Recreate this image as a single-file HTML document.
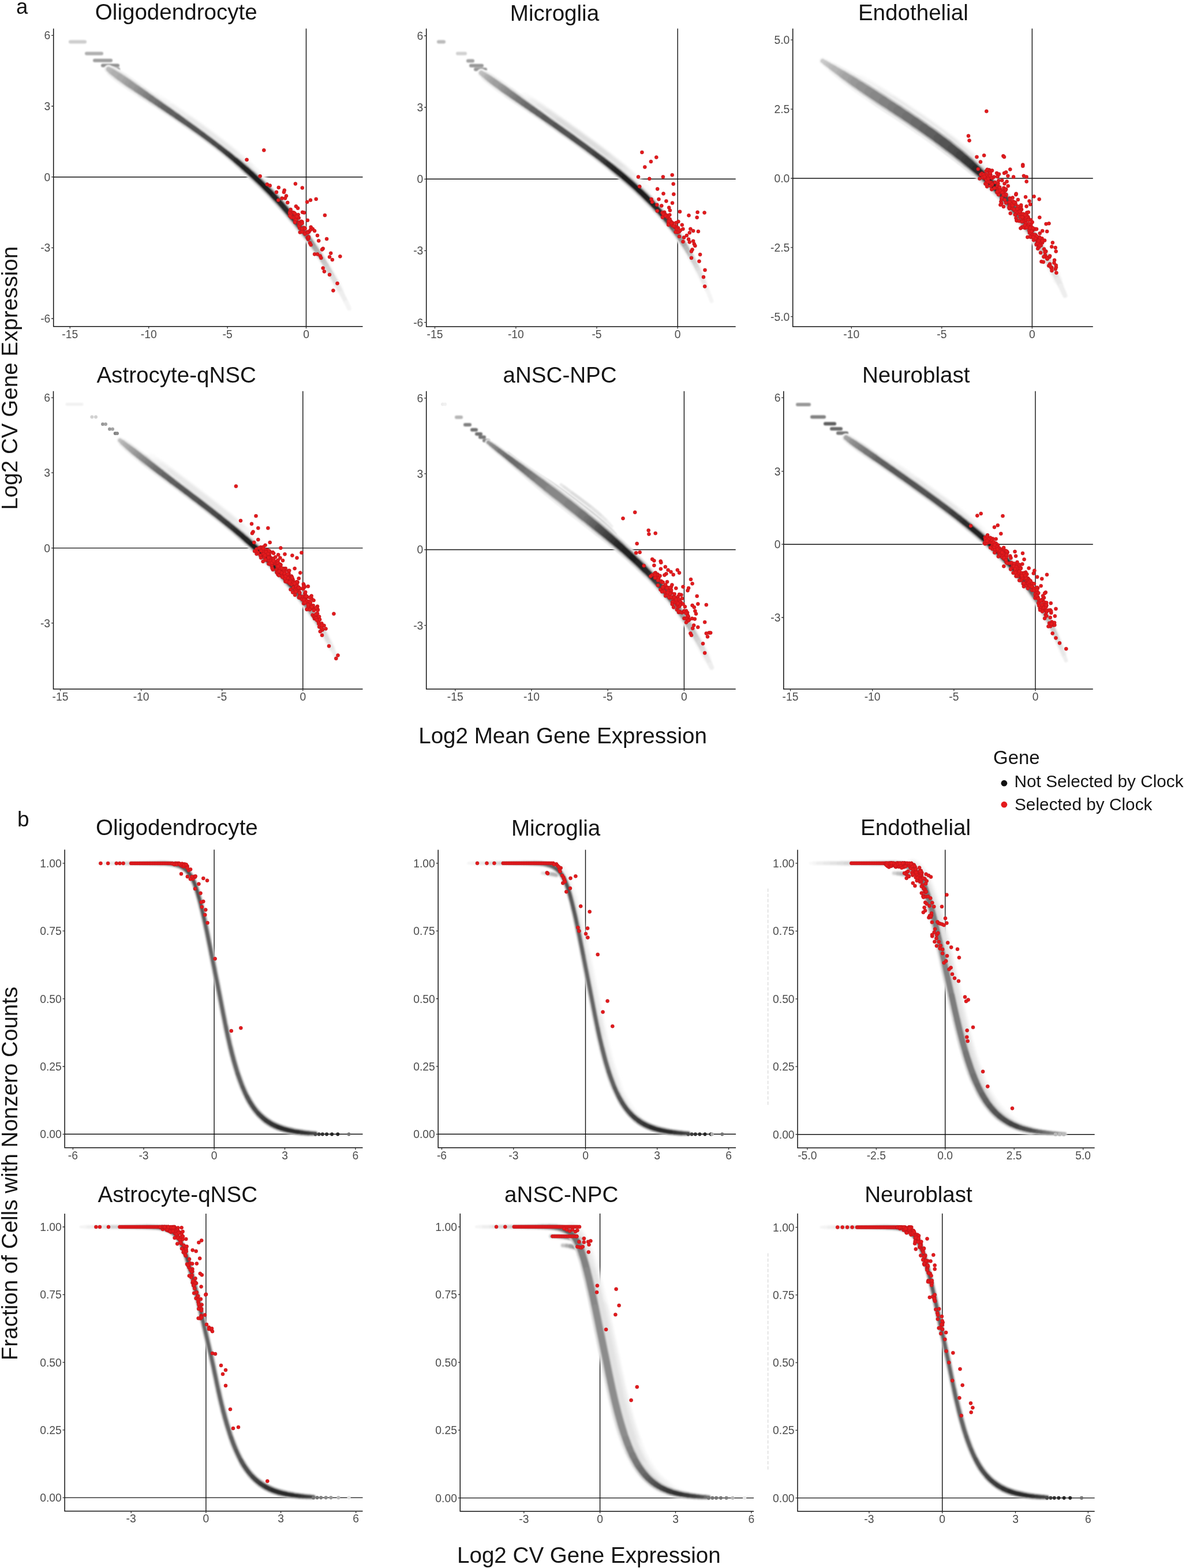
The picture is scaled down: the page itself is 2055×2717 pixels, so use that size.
<!DOCTYPE html>
<html><head><meta charset="utf-8"><title>Figure</title>
<style>
html,body{margin:0;padding:0;background:#fff;width:2055px;height:2717px;overflow:hidden}
svg{display:block}
text{font-family:"Liberation Sans",Arial,Helvetica,sans-serif}
.ti{font-size:38.6px;fill:#141414}
.lab{font-size:38.6px;fill:#141414}
.yl{font-size:19.3px;fill:#4d4d4d;text-anchor:end}
.xl{font-size:19.3px;fill:#4d4d4d;text-anchor:middle}
.ax{fill:none;stroke:#111;stroke-width:1.5}
.zl{fill:none;stroke:#111;stroke-width:1.4}
.tk{fill:none;stroke:#333;stroke-width:1.3}
path[stroke-width]{stroke-linecap:round;stroke-linejoin:round;fill:none}
.rd circle{fill:#e41a1c;stroke:#b5141b;stroke-width:0.6}
</style></head><body>
<svg width="2055" height="2717" viewBox="0 0 2055 2717">
<defs>
<filter id="b1" filterUnits="userSpaceOnUse" x="0" y="0" width="2055" height="2717"><feGaussianBlur stdDeviation="1.2"/></filter>
<filter id="b2" filterUnits="userSpaceOnUse" x="0" y="0" width="2055" height="2717"><feGaussianBlur stdDeviation="2.2"/></filter>
</defs>
<rect width="2055" height="2717" fill="#fff"/>
<text x="28" y="23.5" class="lab" style="font-size:36.5px">a</text>
<text x="30" y="1431.6" class="lab" style="font-size:37px">b</text>
<path d="M92.7 306.7H628.5" class="zl"/>
<path d="M530.5 49.4V565.7" class="zl"/>
<path d="M92.7 49.4V565.7H628.5" class="ax"/>
<path d="M89.1 61.3h3.6M89.1 184h3.6M89.1 306.7h3.6M89.1 429.4h3.6M89.1 552h3.6M121.3 565.7v3.6M257.7 565.7v3.6M394.1 565.7v3.6M530.5 565.7v3.6" class="tk"/>
<text x="87.3" y="68.2" class="yl">6</text>
<text x="87.3" y="190.9" class="yl">3</text>
<text x="87.3" y="313.6" class="yl">0</text>
<text x="87.3" y="436.3" class="yl">-3</text>
<text x="87.3" y="558.9" class="yl">-6</text>
<text x="121.3" y="585.5" class="xl">-15</text>
<text x="257.7" y="585.5" class="xl">-10</text>
<text x="394.1" y="585.5" class="xl">-5</text>
<text x="530.5" y="585.5" class="xl">0</text>
<text x="164.8" y="34.4" class="ti">Oligodendrocyte</text>
<g filter="url(#b1)"><path d="M122 72.4H147" stroke="#cdcdcd" stroke-width="6"/><path d="M150 92.8H176" stroke="#afafaf" stroke-width="6"/><path d="M164 104.7H192" stroke="#9f9f9f" stroke-width="6"/><path d="M178 113.4H204" stroke="#919191" stroke-width="6"/><path d="M185 119.9H205" stroke="#989898" stroke-width="6"/></g>
<g filter="url(#b2)">
<path d="M268 167.9L273.1 171.4L278.1 174.8L283.1 178.3" stroke="#f9f9f9" stroke-width="16"/>
<path d="M283.1 178.3L288.1 181.7L293.1 185.1L298.1 188.6" stroke="#f4f4f4" stroke-width="16"/>
<path d="M298.1 188.6L303.1 192.1L308.1 195.5L313.1 199L318.1 202.5L323.1 206L328.1 209.5" stroke="#eeeeee" stroke-width="16"/>
<path d="M328.1 209.5L333 213L338 216.6L342.9 220.1L347.9 223.7L352.8 227.3L357.7 230.9L362.6 234.5L367.4 238.2L372.3 241.8L377.1 245.5L381.9 249.2L386.7 253L391.5 256.7L396.3 260.5L401 264.3L405.7 268.2L410.4 272.1" stroke="#e8e8e8" stroke-width="16"/>
<path d="M410.4 272.1L415.1 276L419.7 279.9L424.3 283.9L428.9 287.9L433.4 292L438 296" stroke="#eeeeee" stroke-width="16"/>
<path d="M438 296L442.4 300.1L446.9 304.3L451.3 308.4" stroke="#f4f4f4" stroke-width="16"/>
<path d="M451.3 308.4L455.7 312.6L460.1 316.9L464.5 321.1" stroke="#f9f9f9" stroke-width="16"/>
</g>
<g filter="url(#b1)">
<path d="M188 119.9L192.9 123.4" stroke="#f9f9f9" stroke-width="15.5"/>
<path d="M192.9 123.4L197.9 126.8" stroke="#f4f4f4" stroke-width="18.5"/>
<path d="M197.9 126.8L202.8 130.3" stroke="#f4f4f4" stroke-width="20.5"/>
<path d="M202.8 130.3L207.8 133.7" stroke="#f4f4f4" stroke-width="21.5"/>
<path d="M207.8 133.7L212.8 137.1" stroke="#f4f4f4" stroke-width="22"/>
<path d="M212.8 137.1L217.7 140.5L222.7 144L227.7 147.4L232.6 150.8" stroke="#f4f4f4" stroke-width="22.5"/>
<path d="M232.6 150.8L237.6 154.2" stroke="#f4f4f4" stroke-width="22"/>
<path d="M237.6 154.2L242.6 157.6" stroke="#f4f4f4" stroke-width="21.5"/>
<path d="M242.6 157.6L247.6 161" stroke="#f4f4f4" stroke-width="21"/>
<path d="M247.6 161L252.6 164.4" stroke="#eeeeee" stroke-width="20.5"/>
<path d="M252.6 164.4L257.5 167.8" stroke="#eeeeee" stroke-width="20"/>
<path d="M257.5 167.8L262.5 171.2L267.5 174.6" stroke="#eeeeee" stroke-width="19.5"/>
<path d="M267.5 174.6L272.5 178" stroke="#eeeeee" stroke-width="19"/>
<path d="M272.5 178L277.5 181.5L282.4 184.9" stroke="#eeeeee" stroke-width="18.5"/>
<path d="M282.4 184.9L287.4 188.3L292.4 191.7" stroke="#eeeeee" stroke-width="18"/>
<path d="M292.4 191.7L297.3 195.1L302.3 198.6" stroke="#eeeeee" stroke-width="17.5"/>
<path d="M302.3 198.6L307.3 202L312.2 205.5L317.1 208.9" stroke="#eeeeee" stroke-width="17"/>
<path d="M317.1 208.9L322.1 212.4" stroke="#eeeeee" stroke-width="16.5"/>
<path d="M322.1 212.4L327 215.9" stroke="#e8e8e8" stroke-width="16.5"/>
<path d="M327 215.9L331.9 219.4L336.8 222.9" stroke="#e8e8e8" stroke-width="16"/>
<path d="M336.8 222.9L341.7 226.4L346.6 230L351.5 233.5L356.3 237.1L361.2 240.7L366 244.3L370.8 248L375.6 251.6L380.4 255.3L385.1 259L389.9 262.8" stroke="#e8e8e8" stroke-width="15.5"/>
<path d="M389.9 262.8L394.6 266.5L399.3 270.3L403.9 274.2" stroke="#e8e8e8" stroke-width="16"/>
<path d="M403.9 274.2L408.6 278L413.2 281.9" stroke="#e8e8e8" stroke-width="16.5"/>
<path d="M413.2 281.9L417.8 285.8L422.3 289.8" stroke="#e2e2e2" stroke-width="17"/>
<path d="M422.3 289.8L426.9 293.8L431.4 297.8" stroke="#e2e2e2" stroke-width="17.5"/>
<path d="M431.4 297.8L435.8 301.8L440.3 305.9L444.7 310L449 314.2L453.4 318.4L457.7 322.6L461.9 326.9L466.2 331.2L470.4 335.5L474.5 339.9L478.6 344.3L482.7 348.7L486.7 353.2L490.7 357.7L494.7 362.3" stroke="#e2e2e2" stroke-width="18"/>
<path d="M494.7 362.3L498.6 366.9L502.5 371.5L506.3 376.2L510.1 380.8" stroke="#e8e8e8" stroke-width="18"/>
<path d="M510.1 380.8L513.9 385.6L517.6 390.3" stroke="#e8e8e8" stroke-width="17.5"/>
<path d="M517.6 390.3L521.2 395.1" stroke="#e8e8e8" stroke-width="17"/>
<path d="M521.2 395.1L524.9 399.9" stroke="#e8e8e8" stroke-width="16.5"/>
<path d="M524.9 399.9L528.4 404.8" stroke="#eeeeee" stroke-width="16.5"/>
<path d="M528.4 404.8L532 409.7" stroke="#eeeeee" stroke-width="16"/>
<path d="M532 409.7L535.5 414.6" stroke="#eeeeee" stroke-width="15.5"/>
<path d="M535.5 414.6L539 419.5L542.4 424.5L545.8 429.5" stroke="#f4f4f4" stroke-width="15.5"/>
<path d="M545.8 429.5L549.1 434.5L552.4 439.5L555.6 444.6" stroke="#f4f4f4" stroke-width="15"/>
<path d="M555.6 444.6L558.9 449.7L562 454.9L565.2 460L568.2 465.2L571.3 470.4L574.3 475.6L577.3 480.9" stroke="#f9f9f9" stroke-width="15"/>
<path d="M577.3 480.9L580.2 486.1L583.1 491.4" stroke="#f9f9f9" stroke-width="14.5"/>
<path d="M583.1 491.4L585.9 496.8L588.8 502.1" stroke="#f9f9f9" stroke-width="14"/>
<path d="M188 119.9L192.9 123.4" stroke="#e2e2e2" stroke-width="11"/>
<path d="M192.9 123.4L197.9 126.8" stroke="#dddddd" stroke-width="13.5"/>
<path d="M197.9 126.8L202.8 130.3" stroke="#dddddd" stroke-width="14.5"/>
<path d="M202.8 130.3L207.8 133.7" stroke="#dddddd" stroke-width="15.5"/>
<path d="M207.8 133.7L212.8 137.1" stroke="#d7d7d7" stroke-width="15.5"/>
<path d="M212.8 137.1L217.7 140.5L222.7 144" stroke="#d7d7d7" stroke-width="16"/>
<path d="M222.7 144L227.7 147.4L232.6 150.8" stroke="#d1d1d1" stroke-width="16"/>
<path d="M232.6 150.8L237.6 154.2" stroke="#d1d1d1" stroke-width="15.5"/>
<path d="M237.6 154.2L242.6 157.6L247.6 161" stroke="#cbcbcb" stroke-width="15"/>
<path d="M247.6 161L252.6 164.4" stroke="#cbcbcb" stroke-width="14.5"/>
<path d="M252.6 164.4L257.5 167.8L262.5 171.2" stroke="#c6c6c6" stroke-width="14"/>
<path d="M262.5 171.2L267.5 174.6L272.5 178L277.5 181.5" stroke="#c0c0c0" stroke-width="13.5"/>
<path d="M277.5 181.5L282.4 184.9L287.4 188.3L292.4 191.7" stroke="#bababa" stroke-width="13"/>
<path d="M292.4 191.7L297.3 195.1" stroke="#bababa" stroke-width="12.5"/>
<path d="M297.3 195.1L302.3 198.6L307.3 202" stroke="#b5b5b5" stroke-width="12.5"/>
<path d="M307.3 202L312.2 205.5L317.1 208.9L322.1 212.4" stroke="#b5b5b5" stroke-width="12"/>
<path d="M322.1 212.4L327 215.9L331.9 219.4L336.8 222.9" stroke="#b5b5b5" stroke-width="11.5"/>
<path d="M336.8 222.9L341.7 226.4L346.6 230L351.5 233.5L356.3 237.1L361.2 240.7L366 244.3L370.8 248L375.6 251.6L380.4 255.3" stroke="#afafaf" stroke-width="11"/>
<path d="M380.4 255.3L385.1 259L389.9 262.8L394.6 266.5" stroke="#a9a9a9" stroke-width="11"/>
<path d="M394.6 266.5L399.3 270.3L403.9 274.2L408.6 278" stroke="#a3a3a3" stroke-width="11.5"/>
<path d="M408.6 278L413.2 281.9L417.8 285.8L422.3 289.8" stroke="#9e9e9e" stroke-width="12"/>
<path d="M422.3 289.8L426.9 293.8" stroke="#9e9e9e" stroke-width="12.5"/>
<path d="M426.9 293.8L431.4 297.8L435.8 301.8" stroke="#989898" stroke-width="12.5"/>
<path d="M435.8 301.8L440.3 305.9L444.7 310L449 314.2L453.4 318.4L457.7 322.6L461.9 326.9L466.2 331.2L470.4 335.5L474.5 339.9L478.6 344.3L482.7 348.7" stroke="#989898" stroke-width="13"/>
<path d="M482.7 348.7L486.7 353.2L490.7 357.7L494.7 362.3L498.6 366.9L502.5 371.5" stroke="#9e9e9e" stroke-width="13"/>
<path d="M502.5 371.5L506.3 376.2" stroke="#a3a3a3" stroke-width="13"/>
<path d="M506.3 376.2L510.1 380.8" stroke="#a3a3a3" stroke-width="12.5"/>
<path d="M510.1 380.8L513.9 385.6L517.6 390.3" stroke="#a9a9a9" stroke-width="12.5"/>
<path d="M517.6 390.3L521.2 395.1" stroke="#afafaf" stroke-width="12"/>
<path d="M521.2 395.1L524.9 399.9" stroke="#b5b5b5" stroke-width="12"/>
<path d="M524.9 399.9L528.4 404.8" stroke="#bababa" stroke-width="11.5"/>
<path d="M528.4 404.8L532 409.7" stroke="#c0c0c0" stroke-width="11.5"/>
<path d="M532 409.7L535.5 414.6" stroke="#c6c6c6" stroke-width="11"/>
<path d="M535.5 414.6L539 419.5" stroke="#cbcbcb" stroke-width="11"/>
<path d="M539 419.5L542.4 424.5L545.8 429.5" stroke="#d1d1d1" stroke-width="11"/>
<path d="M545.8 429.5L549.1 434.5" stroke="#d7d7d7" stroke-width="11"/>
<path d="M549.1 434.5L552.4 439.5L555.6 444.6" stroke="#dddddd" stroke-width="11"/>
<path d="M555.6 444.6L558.9 449.7L562 454.9" stroke="#e2e2e2" stroke-width="11"/>
<path d="M562 454.9L565.2 460" stroke="#e8e8e8" stroke-width="11"/>
<path d="M565.2 460L568.2 465.2L571.3 470.4" stroke="#e8e8e8" stroke-width="10.5"/>
<path d="M571.3 470.4L574.3 475.6L577.3 480.9L580.2 486.1" stroke="#eeeeee" stroke-width="10.5"/>
<path d="M580.2 486.1L583.1 491.4" stroke="#eeeeee" stroke-width="10"/>
<path d="M583.1 491.4L585.9 496.8L588.8 502.1" stroke="#f4f4f4" stroke-width="10"/>
<path d="M588.8 502.1L591.6 507.4L594.3 512.8" stroke="#f4f4f4" stroke-width="9.5"/>
<path d="M594.3 512.8L597.1 518.2" stroke="#f9f9f9" stroke-width="9.5"/>
<path d="M597.1 518.2L599.8 523.6L602.4 529L605 534.4" stroke="#f9f9f9" stroke-width="9"/>
<path d="M188 119.9L192.9 123.4" stroke="#bababa" stroke-width="8.5"/>
<path d="M192.9 123.4L197.9 126.8" stroke="#b5b5b5" stroke-width="10"/>
<path d="M197.9 126.8L202.8 130.3" stroke="#afafaf" stroke-width="10.5"/>
<path d="M202.8 130.3L207.8 133.7" stroke="#afafaf" stroke-width="11.5"/>
<path d="M207.8 133.7L212.8 137.1" stroke="#a9a9a9" stroke-width="11.5"/>
<path d="M212.8 137.1L217.7 140.5" stroke="#a9a9a9" stroke-width="12"/>
<path d="M217.7 140.5L222.7 144" stroke="#a3a3a3" stroke-width="12"/>
<path d="M222.7 144L227.7 147.4" stroke="#9e9e9e" stroke-width="12"/>
<path d="M227.7 147.4L232.6 150.8L237.6 154.2" stroke="#989898" stroke-width="11.5"/>
<path d="M237.6 154.2L242.6 157.6" stroke="#929292" stroke-width="11.5"/>
<path d="M242.6 157.6L247.6 161" stroke="#8c8c8c" stroke-width="11"/>
<path d="M247.6 161L252.6 164.4" stroke="#878787" stroke-width="11"/>
<path d="M252.6 164.4L257.5 167.8" stroke="#818181" stroke-width="10.5"/>
<path d="M257.5 167.8L262.5 171.2" stroke="#7b7b7b" stroke-width="10.5"/>
<path d="M262.5 171.2L267.5 174.6L272.5 178" stroke="#767676" stroke-width="10"/>
<path d="M272.5 178L277.5 181.5" stroke="#707070" stroke-width="10"/>
<path d="M277.5 181.5L282.4 184.9" stroke="#6a6a6a" stroke-width="9.5"/>
<path d="M282.4 184.9L287.4 188.3L292.4 191.7" stroke="#646464" stroke-width="9.5"/>
<path d="M292.4 191.7L297.3 195.1" stroke="#5f5f5f" stroke-width="9.5"/>
<path d="M297.3 195.1L302.3 198.6L307.3 202" stroke="#5f5f5f" stroke-width="9"/>
<path d="M307.3 202L312.2 205.5L317.1 208.9" stroke="#595959" stroke-width="9"/>
<path d="M317.1 208.9L322.1 212.4L327 215.9" stroke="#595959" stroke-width="8.5"/>
<path d="M327 215.9L331.9 219.4L336.8 222.9L341.7 226.4" stroke="#535353" stroke-width="8.5"/>
<path d="M341.7 226.4L346.6 230L351.5 233.5" stroke="#535353" stroke-width="8"/>
<path d="M351.5 233.5L356.3 237.1L361.2 240.7L366 244.3L370.8 248" stroke="#4e4e4e" stroke-width="8"/>
<path d="M370.8 248L375.6 251.6L380.4 255.3" stroke="#484848" stroke-width="8"/>
<path d="M380.4 255.3L385.1 259L389.9 262.8" stroke="#424242" stroke-width="8"/>
<path d="M389.9 262.8L394.6 266.5" stroke="#3c3c3c" stroke-width="8.5"/>
<path d="M394.6 266.5L399.3 270.3" stroke="#373737" stroke-width="8.5"/>
<path d="M399.3 270.3L403.9 274.2L408.6 278" stroke="#313131" stroke-width="8.5"/>
<path d="M408.6 278L413.2 281.9" stroke="#2b2b2b" stroke-width="9"/>
<path d="M413.2 281.9L417.8 285.8L422.3 289.8" stroke="#252525" stroke-width="9"/>
<path d="M422.3 289.8L426.9 293.8" stroke="#202020" stroke-width="9"/>
<path d="M426.9 293.8L431.4 297.8L435.8 301.8" stroke="#202020" stroke-width="9.5"/>
<path d="M435.8 301.8L440.3 305.9L444.7 310L449 314.2L453.4 318.4L457.7 322.6L461.9 326.9L466.2 331.2L470.4 335.5L474.5 339.9" stroke="#1a1a1a" stroke-width="9.5"/>
<path d="M474.5 339.9L478.6 344.3L482.7 348.7L486.7 353.2" stroke="#202020" stroke-width="9.5"/>
<path d="M486.7 353.2L490.7 357.7L494.7 362.3" stroke="#252525" stroke-width="9.5"/>
<path d="M494.7 362.3L498.6 366.9L502.5 371.5" stroke="#2b2b2b" stroke-width="9.5"/>
<path d="M502.5 371.5L506.3 376.2" stroke="#313131" stroke-width="9.5"/>
<path d="M506.3 376.2L510.1 380.8" stroke="#373737" stroke-width="9.5"/>
<path d="M510.1 380.8L513.9 385.6" stroke="#3c3c3c" stroke-width="9"/>
<path d="M513.9 385.6L517.6 390.3" stroke="#424242" stroke-width="9"/>
<path d="M517.6 390.3L521.2 395.1" stroke="#4e4e4e" stroke-width="9"/>
<path d="M521.2 395.1L524.9 399.9" stroke="#595959" stroke-width="8.5"/>
<path d="M524.9 399.9L528.4 404.8" stroke="#646464" stroke-width="8.5"/>
<path d="M528.4 404.8L532 409.7" stroke="#707070" stroke-width="8.5"/>
<path d="M532 409.7L535.5 414.6" stroke="#7b7b7b" stroke-width="8.5"/>
<path d="M535.5 414.6L539 419.5" stroke="#878787" stroke-width="8"/>
<path d="M539 419.5L542.4 424.5" stroke="#929292" stroke-width="8"/>
<path d="M542.4 424.5L545.8 429.5" stroke="#9e9e9e" stroke-width="8"/>
<path d="M545.8 429.5L549.1 434.5" stroke="#a9a9a9" stroke-width="8"/>
<path d="M549.1 434.5L552.4 439.5" stroke="#afafaf" stroke-width="8"/>
<path d="M552.4 439.5L555.6 444.6" stroke="#b5b5b5" stroke-width="8"/>
<path d="M555.6 444.6L558.9 449.7" stroke="#bababa" stroke-width="8"/>
<path d="M558.9 449.7L562 454.9" stroke="#c0c0c0" stroke-width="8"/>
<path d="M562 454.9L565.2 460" stroke="#c6c6c6" stroke-width="8"/>
<path d="M565.2 460L568.2 465.2" stroke="#cbcbcb" stroke-width="8"/>
<path d="M568.2 465.2L571.3 470.4L574.3 475.6" stroke="#d1d1d1" stroke-width="8"/>
<path d="M574.3 475.6L577.3 480.9" stroke="#d7d7d7" stroke-width="8"/>
<path d="M577.3 480.9L580.2 486.1L583.1 491.4" stroke="#dddddd" stroke-width="7.5"/>
<path d="M583.1 491.4L585.9 496.8" stroke="#e2e2e2" stroke-width="7.5"/>
<path d="M585.9 496.8L588.8 502.1" stroke="#e8e8e8" stroke-width="7.5"/>
<path d="M588.8 502.1L591.6 507.4" stroke="#e8e8e8" stroke-width="7"/>
<path d="M591.6 507.4L594.3 512.8L597.1 518.2L599.8 523.6" stroke="#eeeeee" stroke-width="7"/>
<path d="M599.8 523.6L602.4 529L605 534.4" stroke="#f4f4f4" stroke-width="6.5"/>
</g>
<g class="rd"><circle cx="457.3" cy="260.3" r="3.0"/><circle cx="427.6" cy="276.8" r="3.0"/><circle cx="450.6" cy="305.2" r="3.0"/><circle cx="462.8" cy="319.4" r="3.0"/><circle cx="467.7" cy="321.6" r="3.0"/><circle cx="482.8" cy="324.9" r="3.0"/><circle cx="511.9" cy="318.4" r="3.0"/><circle cx="523.8" cy="325.5" r="3.0"/><circle cx="492.8" cy="329.7" r="3.0"/><circle cx="491.9" cy="332.9" r="3.0"/><circle cx="479" cy="332.9" r="3.0"/><circle cx="496" cy="339.4" r="3.0"/><circle cx="494.1" cy="343.6" r="3.0"/><circle cx="482.2" cy="346.8" r="3.0"/><circle cx="488.7" cy="343.6" r="3.0"/><circle cx="498.3" cy="351" r="3.0"/><circle cx="532.2" cy="350" r="3.0"/><circle cx="538" cy="346.8" r="3.0"/><circle cx="547.7" cy="344.9" r="3.0"/><circle cx="512.9" cy="357.5" r="3.0"/><circle cx="516.1" cy="360.7" r="3.0"/><circle cx="503" cy="365" r="3.0"/><circle cx="507" cy="368" r="3.0"/><circle cx="511" cy="372" r="3.0"/><circle cx="505" cy="375" r="3.0"/><circle cx="509" cy="377.5" r="3.0"/><circle cx="524.1" cy="367.8" r="3.0"/><circle cx="527" cy="368.5" r="3.0"/><circle cx="562.9" cy="373" r="3.0"/><circle cx="512.9" cy="380.7" r="3.0"/><circle cx="517.7" cy="377.5" r="3.0"/><circle cx="532.9" cy="381.7" r="3.0"/><circle cx="538.7" cy="393.6" r="3.0"/><circle cx="541.9" cy="396.8" r="3.0"/><circle cx="545.1" cy="400.1" r="3.0"/><circle cx="535.4" cy="401.7" r="3.0"/><circle cx="550" cy="408.1" r="3.0"/><circle cx="566.1" cy="414" r="3.0"/><circle cx="552.2" cy="417.2" r="3.0"/><circle cx="537" cy="421" r="3.0"/><circle cx="538.7" cy="424.3" r="3.0"/><circle cx="533.8" cy="414.6" r="3.0"/><circle cx="559.7" cy="430.7" r="3.0"/><circle cx="558" cy="432.4" r="3.0"/><circle cx="545.1" cy="440.4" r="3.0"/><circle cx="550" cy="440.4" r="3.0"/><circle cx="554.8" cy="443.6" r="3.0"/><circle cx="556.4" cy="446.9" r="3.0"/><circle cx="573.2" cy="438.8" r="3.0"/><circle cx="571" cy="445.3" r="3.0"/><circle cx="575.8" cy="450.1" r="3.0"/><circle cx="589.3" cy="444.3" r="3.0"/><circle cx="559.7" cy="464.6" r="3.0"/><circle cx="561.9" cy="470.4" r="3.0"/><circle cx="571" cy="475.9" r="3.0"/><circle cx="584.5" cy="491.1" r="3.0"/><circle cx="577.4" cy="503.4" r="3.0"/><circle cx="521.7" cy="385.3" r="3.0"/><circle cx="532.6" cy="411.8" r="3.0"/><circle cx="519.3" cy="395.3" r="3.0"/><circle cx="511.9" cy="371.7" r="3.0"/><circle cx="526.6" cy="402.6" r="3.0"/><circle cx="532.8" cy="401.7" r="3.0"/><circle cx="502.2" cy="367.7" r="3.0"/><circle cx="528.4" cy="395.4" r="3.0"/><circle cx="518.3" cy="389.7" r="3.0"/><circle cx="503.6" cy="363.1" r="3.0"/><circle cx="511.2" cy="382.4" r="3.0"/><circle cx="511.7" cy="379.8" r="3.0"/><circle cx="517" cy="377.5" r="3.0"/><circle cx="512.5" cy="381.2" r="3.0"/><circle cx="534.4" cy="410.5" r="3.0"/><circle cx="518.1" cy="385.3" r="3.0"/><circle cx="502.9" cy="370.3" r="3.0"/><circle cx="511.1" cy="385.3" r="3.0"/><circle cx="533.1" cy="403.3" r="3.0"/><circle cx="520.4" cy="388.8" r="3.0"/><circle cx="526.5" cy="394.5" r="3.0"/><circle cx="518" cy="386.7" r="3.0"/><circle cx="518.8" cy="388.4" r="3.0"/><circle cx="519.8" cy="402.5" r="3.0"/><circle cx="516.7" cy="372.1" r="3.0"/><circle cx="502.2" cy="369.5" r="3.0"/><circle cx="515.9" cy="375.8" r="3.0"/><circle cx="503.7" cy="372.1" r="3.0"/><circle cx="514.2" cy="375.2" r="3.0"/><circle cx="523.3" cy="396.6" r="3.0"/><circle cx="534.7" cy="412.6" r="3.0"/><circle cx="528.4" cy="396.2" r="3.0"/><circle cx="528.5" cy="405.5" r="3.0"/><circle cx="518.1" cy="391.5" r="3.0"/><circle cx="509" cy="368.5" r="3.0"/><circle cx="522" cy="383.7" r="3.0"/><circle cx="523.2" cy="401.8" r="3.0"/><circle cx="504.6" cy="376.5" r="3.0"/><circle cx="534.8" cy="410.7" r="3.0"/><circle cx="537.7" cy="398.5" r="3.0"/><circle cx="520.3" cy="388" r="3.0"/><circle cx="510.7" cy="369.7" r="3.0"/><circle cx="523.4" cy="384.2" r="3.0"/><circle cx="502.4" cy="374.2" r="3.0"/><circle cx="523.6" cy="386.9" r="3.0"/></g>
<path d="M738.7 310.3H1274.7" class="zl"/>
<path d="M1174.2 49.4V566" class="zl"/>
<path d="M738.7 49.4V566H1274.7" class="ax"/>
<path d="M735.1 62h3.6M735.1 186h3.6M735.1 310.3h3.6M735.1 434.3h3.6M735.1 558.6h3.6M753.5 566v3.6M893.9 566v3.6M1034 566v3.6M1174.2 566v3.6" class="tk"/>
<text x="733.3" y="68.9" class="yl">6</text>
<text x="733.3" y="192.9" class="yl">3</text>
<text x="733.3" y="317.2" class="yl">0</text>
<text x="733.3" y="441.2" class="yl">-3</text>
<text x="733.3" y="565.5" class="yl">-6</text>
<text x="753.5" y="585.8" class="xl">-15</text>
<text x="893.9" y="585.8" class="xl">-10</text>
<text x="1034" y="585.8" class="xl">-5</text>
<text x="1174.2" y="585.8" class="xl">0</text>
<text x="883.8" y="35.6" class="ti">Microglia</text>
<g filter="url(#b1)"><path d="M760 72.4H769" stroke="#bababa" stroke-width="6"/><path d="M793 92.8H806" stroke="#d1d1d1" stroke-width="6"/><path d="M811 105.4H819" stroke="#a3a3a3" stroke-width="6"/><path d="M816 113.8H835" stroke="#989898" stroke-width="6"/><path d="M824 120.2H841" stroke="#989898" stroke-width="6"/></g>
<g filter="url(#b2)">
<path d="M908.5 171L913.5 174.6L918.5 178.1" stroke="#f9f9f9" stroke-width="20"/>
<path d="M918.5 178.1L923.5 181.6" stroke="#f4f4f4" stroke-width="20"/>
<path d="M923.5 181.6L928.6 185.2L933.6 188.7" stroke="#eeeeee" stroke-width="20"/>
<path d="M933.6 188.7L938.6 192.2L943.6 195.7L948.6 199.3" stroke="#e8e8e8" stroke-width="20"/>
<path d="M948.6 199.3L953.6 202.8L958.6 206.3L963.6 209.9L968.6 213.4" stroke="#e2e2e2" stroke-width="20"/>
<path d="M968.6 213.4L973.6 217L978.6 220.5L983.6 224.1L988.6 227.6L993.6 231.2L998.6 234.8L1003.6 238.4L1008.5 242L1013.5 245.6L1018.4 249.2L1023.4 252.8L1028.3 256.5L1033.2 260.1L1038.1 263.8L1043 267.5L1047.9 271.3L1052.7 275L1057.6 278.8" stroke="#dddddd" stroke-width="20"/>
<path d="M1057.6 278.8L1062.4 282.6L1067.2 286.4L1071.9 290.2L1076.7 294.1L1081.4 298" stroke="#e2e2e2" stroke-width="20"/>
<path d="M1081.4 298L1086.1 302L1090.7 306" stroke="#e8e8e8" stroke-width="20"/>
<path d="M1090.7 306L1095.4 310L1100 314" stroke="#eeeeee" stroke-width="20"/>
<path d="M1100 314L1104.6 318.1L1109.1 322.2" stroke="#f4f4f4" stroke-width="20"/>
<path d="M1109.1 322.2L1113.6 326.3L1118.1 330.6" stroke="#f9f9f9" stroke-width="20"/>
</g>
<g filter="url(#b1)">
<path d="M834 126.4L838.9 129.9" stroke="#f9f9f9" stroke-width="15"/>
<path d="M838.9 129.9L843.8 133.4" stroke="#f9f9f9" stroke-width="17.5"/>
<path d="M843.8 133.4L848.7 136.9" stroke="#f4f4f4" stroke-width="19"/>
<path d="M848.7 136.9L853.6 140.5" stroke="#f4f4f4" stroke-width="20"/>
<path d="M853.6 140.5L858.5 144" stroke="#f4f4f4" stroke-width="20.5"/>
<path d="M858.5 144L863.4 147.5" stroke="#f4f4f4" stroke-width="21"/>
<path d="M863.4 147.5L868.3 151L873.2 154.5L878.1 158L883 161.5" stroke="#f4f4f4" stroke-width="21.5"/>
<path d="M883 161.5L887.9 164.9" stroke="#eeeeee" stroke-width="21"/>
<path d="M887.9 164.9L892.8 168.4L897.8 171.9" stroke="#eeeeee" stroke-width="20.5"/>
<path d="M897.8 171.9L902.7 175.4" stroke="#eeeeee" stroke-width="20"/>
<path d="M902.7 175.4L907.6 178.9L912.5 182.3" stroke="#eeeeee" stroke-width="19.5"/>
<path d="M912.5 182.3L917.5 185.8L922.4 189.3" stroke="#eeeeee" stroke-width="19"/>
<path d="M922.4 189.3L927.3 192.7L932.2 196.2" stroke="#eeeeee" stroke-width="18.5"/>
<path d="M932.2 196.2L937.2 199.7L942.1 203.2" stroke="#eeeeee" stroke-width="18"/>
<path d="M942.1 203.2L947 206.6L951.9 210.1" stroke="#eeeeee" stroke-width="17.5"/>
<path d="M951.9 210.1L956.9 213.6" stroke="#e8e8e8" stroke-width="17.5"/>
<path d="M956.9 213.6L961.8 217L966.7 220.5L971.6 224L976.5 227.5L981.5 231" stroke="#e8e8e8" stroke-width="17"/>
<path d="M981.5 231L986.4 234.5L991.3 238L996.1 241.5L1001 245.1L1005.9 248.6L1010.8 252.2" stroke="#e8e8e8" stroke-width="16.5"/>
<path d="M1010.8 252.2L1015.6 255.7L1020.5 259.3L1025.3 262.9L1030.2 266.5L1035 270.1L1039.8 273.7" stroke="#e8e8e8" stroke-width="17"/>
<path d="M1039.8 273.7L1044.6 277.4L1049.3 281.1L1054.1 284.8" stroke="#e8e8e8" stroke-width="17.5"/>
<path d="M1054.1 284.8L1058.8 288.5L1063.5 292.3" stroke="#e8e8e8" stroke-width="18"/>
<path d="M1063.5 292.3L1068.2 296.1L1072.9 299.9L1077.5 303.7L1082.1 307.6L1086.7 311.5L1091.3 315.5L1095.8 319.5L1100.3 323.5L1104.7 327.5L1109.1 331.7L1113.5 335.8L1117.8 340L1122.1 344.3L1126.3 348.6L1130.5 352.9" stroke="#e2e2e2" stroke-width="18"/>
<path d="M1130.5 352.9L1134.6 357.3L1138.6 361.8" stroke="#e2e2e2" stroke-width="17.5"/>
<path d="M1138.6 361.8L1142.6 366.2" stroke="#e2e2e2" stroke-width="17"/>
<path d="M1142.6 366.2L1146.6 370.8L1150.5 375.4" stroke="#e8e8e8" stroke-width="17"/>
<path d="M1150.5 375.4L1154.3 380.1L1158.1 384.8" stroke="#e8e8e8" stroke-width="16.5"/>
<path d="M1158.1 384.8L1161.7 389.5" stroke="#e8e8e8" stroke-width="16"/>
<path d="M1161.7 389.5L1165.4 394.3L1168.9 399.2" stroke="#eeeeee" stroke-width="16"/>
<path d="M1168.9 399.2L1172.4 404.1L1175.9 409" stroke="#eeeeee" stroke-width="15.5"/>
<path d="M1175.9 409L1179.2 414L1182.5 419.1" stroke="#f4f4f4" stroke-width="15.5"/>
<path d="M1182.5 419.1L1185.7 424.2L1188.9 429.3L1191.9 434.5" stroke="#f4f4f4" stroke-width="15"/>
<path d="M1191.9 434.5L1195 439.7L1197.9 444.9" stroke="#f9f9f9" stroke-width="15"/>
<path d="M1197.9 444.9L1200.8 450.2L1203.6 455.6" stroke="#f9f9f9" stroke-width="14.5"/>
<path d="M1203.6 455.6L1206.4 460.9L1209.1 466.3" stroke="#f9f9f9" stroke-width="14"/>
<path d="M1209.1 466.3L1211.7 471.7" stroke="#f9f9f9" stroke-width="13.5"/>
<path d="M1211.7 471.7L1214.3 477.2L1216.8 482.6" stroke="#f9f9f9" stroke-width="13"/>
<path d="M1216.8 482.6L1219.2 488.1" stroke="#f9f9f9" stroke-width="12.5"/>
<path d="M834 126.4L838.9 129.9" stroke="#e2e2e2" stroke-width="10.5"/>
<path d="M838.9 129.9L843.8 133.4" stroke="#dddddd" stroke-width="12.5"/>
<path d="M843.8 133.4L848.7 136.9" stroke="#dddddd" stroke-width="13.5"/>
<path d="M848.7 136.9L853.6 140.5" stroke="#d7d7d7" stroke-width="14"/>
<path d="M853.6 140.5L858.5 144" stroke="#d7d7d7" stroke-width="14.5"/>
<path d="M858.5 144L863.4 147.5" stroke="#d7d7d7" stroke-width="15"/>
<path d="M863.4 147.5L868.3 151L873.2 154.5" stroke="#d1d1d1" stroke-width="15"/>
<path d="M873.2 154.5L878.1 158L883 161.5L887.9 164.9" stroke="#cbcbcb" stroke-width="15"/>
<path d="M887.9 164.9L892.8 168.4L897.8 171.9" stroke="#c6c6c6" stroke-width="14.5"/>
<path d="M897.8 171.9L902.7 175.4L907.6 178.9" stroke="#c0c0c0" stroke-width="14"/>
<path d="M907.6 178.9L912.5 182.3" stroke="#c0c0c0" stroke-width="13.5"/>
<path d="M912.5 182.3L917.5 185.8L922.4 189.3" stroke="#bababa" stroke-width="13.5"/>
<path d="M922.4 189.3L927.3 192.7L932.2 196.2" stroke="#bababa" stroke-width="13"/>
<path d="M932.2 196.2L937.2 199.7" stroke="#b5b5b5" stroke-width="13"/>
<path d="M937.2 199.7L942.1 203.2L947 206.6L951.9 210.1L956.9 213.6" stroke="#b5b5b5" stroke-width="12.5"/>
<path d="M956.9 213.6L961.8 217L966.7 220.5L971.6 224" stroke="#b5b5b5" stroke-width="12"/>
<path d="M971.6 224L976.5 227.5L981.5 231L986.4 234.5L991.3 238L996.1 241.5L1001 245.1L1005.9 248.6L1010.8 252.2L1015.6 255.7L1020.5 259.3L1025.3 262.9" stroke="#afafaf" stroke-width="12"/>
<path d="M1025.3 262.9L1030.2 266.5L1035 270.1L1039.8 273.7" stroke="#a9a9a9" stroke-width="12"/>
<path d="M1039.8 273.7L1044.6 277.4" stroke="#a9a9a9" stroke-width="12.5"/>
<path d="M1044.6 277.4L1049.3 281.1L1054.1 284.8L1058.8 288.5" stroke="#a3a3a3" stroke-width="12.5"/>
<path d="M1058.8 288.5L1063.5 292.3L1068.2 296.1L1072.9 299.9" stroke="#9e9e9e" stroke-width="13"/>
<path d="M1072.9 299.9L1077.5 303.7L1082.1 307.6L1086.7 311.5L1091.3 315.5L1095.8 319.5L1100.3 323.5L1104.7 327.5L1109.1 331.7L1113.5 335.8L1117.8 340L1122.1 344.3" stroke="#989898" stroke-width="13"/>
<path d="M1122.1 344.3L1126.3 348.6L1130.5 352.9" stroke="#989898" stroke-width="12.5"/>
<path d="M1130.5 352.9L1134.6 357.3L1138.6 361.8" stroke="#9e9e9e" stroke-width="12.5"/>
<path d="M1138.6 361.8L1142.6 366.2L1146.6 370.8" stroke="#9e9e9e" stroke-width="12"/>
<path d="M1146.6 370.8L1150.5 375.4" stroke="#a3a3a3" stroke-width="12"/>
<path d="M1150.5 375.4L1154.3 380.1" stroke="#a9a9a9" stroke-width="12"/>
<path d="M1154.3 380.1L1158.1 384.8" stroke="#a9a9a9" stroke-width="11.5"/>
<path d="M1158.1 384.8L1161.7 389.5" stroke="#afafaf" stroke-width="11.5"/>
<path d="M1161.7 389.5L1165.4 394.3" stroke="#b5b5b5" stroke-width="11.5"/>
<path d="M1165.4 394.3L1168.9 399.2" stroke="#bababa" stroke-width="11"/>
<path d="M1168.9 399.2L1172.4 404.1" stroke="#c0c0c0" stroke-width="11"/>
<path d="M1172.4 404.1L1175.9 409" stroke="#c6c6c6" stroke-width="11"/>
<path d="M1175.9 409L1179.2 414" stroke="#cbcbcb" stroke-width="11"/>
<path d="M1179.2 414L1182.5 419.1" stroke="#d1d1d1" stroke-width="11"/>
<path d="M1182.5 419.1L1185.7 424.2" stroke="#d7d7d7" stroke-width="11"/>
<path d="M1185.7 424.2L1188.9 429.3" stroke="#d7d7d7" stroke-width="10.5"/>
<path d="M1188.9 429.3L1191.9 434.5" stroke="#dddddd" stroke-width="10.5"/>
<path d="M1191.9 434.5L1195 439.7L1197.9 444.9" stroke="#e2e2e2" stroke-width="10.5"/>
<path d="M1197.9 444.9L1200.8 450.2" stroke="#e8e8e8" stroke-width="10.5"/>
<path d="M1200.8 450.2L1203.6 455.6" stroke="#e8e8e8" stroke-width="10"/>
<path d="M1203.6 455.6L1206.4 460.9L1209.1 466.3" stroke="#eeeeee" stroke-width="10"/>
<path d="M1209.1 466.3L1211.7 471.7" stroke="#eeeeee" stroke-width="9.5"/>
<path d="M1211.7 471.7L1214.3 477.2" stroke="#f4f4f4" stroke-width="9.5"/>
<path d="M1214.3 477.2L1216.8 482.6L1219.2 488.1L1221.7 493.7" stroke="#f4f4f4" stroke-width="9"/>
<path d="M1221.7 493.7L1224 499.2L1226.4 504.7" stroke="#f9f9f9" stroke-width="8.5"/>
<path d="M1226.4 504.7L1228.6 510.3L1230.8 515.9L1233 521.6" stroke="#f9f9f9" stroke-width="8"/>
<path d="M834 126.4L838.9 129.9" stroke="#c0c0c0" stroke-width="8"/>
<path d="M838.9 129.9L843.8 133.4" stroke="#bababa" stroke-width="9"/>
<path d="M843.8 133.4L848.7 136.9" stroke="#afafaf" stroke-width="10"/>
<path d="M848.7 136.9L853.6 140.5" stroke="#a9a9a9" stroke-width="10.5"/>
<path d="M853.6 140.5L858.5 144" stroke="#a3a3a3" stroke-width="11"/>
<path d="M858.5 144L863.4 147.5L868.3 151" stroke="#9e9e9e" stroke-width="11"/>
<path d="M868.3 151L873.2 154.5" stroke="#989898" stroke-width="11.5"/>
<path d="M873.2 154.5L878.1 158" stroke="#929292" stroke-width="11.5"/>
<path d="M878.1 158L883 161.5" stroke="#8c8c8c" stroke-width="11"/>
<path d="M883 161.5L887.9 164.9" stroke="#878787" stroke-width="11"/>
<path d="M887.9 164.9L892.8 168.4" stroke="#818181" stroke-width="11"/>
<path d="M892.8 168.4L897.8 171.9" stroke="#7b7b7b" stroke-width="10.5"/>
<path d="M897.8 171.9L902.7 175.4L907.6 178.9" stroke="#767676" stroke-width="10.5"/>
<path d="M907.6 178.9L912.5 182.3" stroke="#707070" stroke-width="10"/>
<path d="M912.5 182.3L917.5 185.8L922.4 189.3" stroke="#6a6a6a" stroke-width="10"/>
<path d="M922.4 189.3L927.3 192.7" stroke="#646464" stroke-width="10"/>
<path d="M927.3 192.7L932.2 196.2" stroke="#646464" stroke-width="9.5"/>
<path d="M932.2 196.2L937.2 199.7L942.1 203.2" stroke="#5f5f5f" stroke-width="9.5"/>
<path d="M942.1 203.2L947 206.6" stroke="#595959" stroke-width="9.5"/>
<path d="M947 206.6L951.9 210.1L956.9 213.6L961.8 217" stroke="#595959" stroke-width="9"/>
<path d="M961.8 217L966.7 220.5L971.6 224L976.5 227.5L981.5 231L986.4 234.5L991.3 238" stroke="#535353" stroke-width="9"/>
<path d="M991.3 238L996.1 241.5L1001 245.1L1005.9 248.6L1010.8 252.2L1015.6 255.7L1020.5 259.3" stroke="#4e4e4e" stroke-width="9"/>
<path d="M1020.5 259.3L1025.3 262.9L1030.2 266.5" stroke="#484848" stroke-width="9"/>
<path d="M1030.2 266.5L1035 270.1" stroke="#424242" stroke-width="9"/>
<path d="M1035 270.1L1039.8 273.7L1044.6 277.4" stroke="#3c3c3c" stroke-width="9"/>
<path d="M1044.6 277.4L1049.3 281.1" stroke="#373737" stroke-width="9"/>
<path d="M1049.3 281.1L1054.1 284.8" stroke="#313131" stroke-width="9.5"/>
<path d="M1054.1 284.8L1058.8 288.5L1063.5 292.3" stroke="#2b2b2b" stroke-width="9.5"/>
<path d="M1063.5 292.3L1068.2 296.1" stroke="#252525" stroke-width="9.5"/>
<path d="M1068.2 296.1L1072.9 299.9L1077.5 303.7L1082.1 307.6" stroke="#202020" stroke-width="9.5"/>
<path d="M1082.1 307.6L1086.7 311.5L1091.3 315.5L1095.8 319.5L1100.3 323.5L1104.7 327.5L1109.1 331.7L1113.5 335.8L1117.8 340L1122.1 344.3L1126.3 348.6" stroke="#1a1a1a" stroke-width="9.5"/>
<path d="M1126.3 348.6L1130.5 352.9L1134.6 357.3" stroke="#202020" stroke-width="9.5"/>
<path d="M1134.6 357.3L1138.6 361.8L1142.6 366.2" stroke="#252525" stroke-width="9"/>
<path d="M1142.6 366.2L1146.6 370.8" stroke="#2b2b2b" stroke-width="9"/>
<path d="M1146.6 370.8L1150.5 375.4" stroke="#313131" stroke-width="9"/>
<path d="M1150.5 375.4L1154.3 380.1" stroke="#3c3c3c" stroke-width="8.5"/>
<path d="M1154.3 380.1L1158.1 384.8" stroke="#424242" stroke-width="8.5"/>
<path d="M1158.1 384.8L1161.7 389.5" stroke="#4e4e4e" stroke-width="8.5"/>
<path d="M1161.7 389.5L1165.4 394.3" stroke="#595959" stroke-width="8.5"/>
<path d="M1165.4 394.3L1168.9 399.2" stroke="#646464" stroke-width="8.5"/>
<path d="M1168.9 399.2L1172.4 404.1" stroke="#767676" stroke-width="8"/>
<path d="M1172.4 404.1L1175.9 409" stroke="#818181" stroke-width="8"/>
<path d="M1175.9 409L1179.2 414" stroke="#8c8c8c" stroke-width="8"/>
<path d="M1179.2 414L1182.5 419.1" stroke="#989898" stroke-width="8"/>
<path d="M1182.5 419.1L1185.7 424.2" stroke="#a3a3a3" stroke-width="8"/>
<path d="M1185.7 424.2L1188.9 429.3" stroke="#a9a9a9" stroke-width="8"/>
<path d="M1188.9 429.3L1191.9 434.5" stroke="#b5b5b5" stroke-width="8"/>
<path d="M1191.9 434.5L1195 439.7" stroke="#bababa" stroke-width="8"/>
<path d="M1195 439.7L1197.9 444.9" stroke="#c0c0c0" stroke-width="8"/>
<path d="M1197.9 444.9L1200.8 450.2" stroke="#cbcbcb" stroke-width="7.5"/>
<path d="M1200.8 450.2L1203.6 455.6L1206.4 460.9" stroke="#d1d1d1" stroke-width="7.5"/>
<path d="M1206.4 460.9L1209.1 466.3" stroke="#d7d7d7" stroke-width="7.5"/>
<path d="M1209.1 466.3L1211.7 471.7" stroke="#dddddd" stroke-width="7"/>
<path d="M1211.7 471.7L1214.3 477.2L1216.8 482.6" stroke="#e2e2e2" stroke-width="7"/>
<path d="M1216.8 482.6L1219.2 488.1L1221.7 493.7" stroke="#e8e8e8" stroke-width="6.5"/>
<path d="M1221.7 493.7L1224 499.2" stroke="#eeeeee" stroke-width="6.5"/>
<path d="M1224 499.2L1226.4 504.7" stroke="#eeeeee" stroke-width="6"/>
<path d="M1226.4 504.7L1228.6 510.3L1230.8 515.9L1233 521.6" stroke="#f4f4f4" stroke-width="6"/>
</g>
<g class="rd"><circle cx="1112.4" cy="263.9" r="3.0"/><circle cx="1137.3" cy="272.6" r="3.0"/><circle cx="1127.9" cy="280" r="3.0"/><circle cx="1117.3" cy="289.4" r="3.0"/><circle cx="1106" cy="306.5" r="3.0"/><circle cx="1125.3" cy="309.7" r="3.0"/><circle cx="1148.9" cy="306.5" r="3.0"/><circle cx="1164.7" cy="303.2" r="3.0"/><circle cx="1108.2" cy="323.2" r="3.0"/><circle cx="1166.7" cy="318.7" r="3.0"/><circle cx="1139.2" cy="327.4" r="3.0"/><circle cx="1149.5" cy="335.5" r="3.0"/><circle cx="1167.3" cy="336.5" r="3.0"/><circle cx="1128.6" cy="345.2" r="3.0"/><circle cx="1130.2" cy="350" r="3.0"/><circle cx="1141.5" cy="345.2" r="3.0"/><circle cx="1154.4" cy="348.4" r="3.0"/><circle cx="1165" cy="351.7" r="3.0"/><circle cx="1138.3" cy="354.9" r="3.0"/><circle cx="1146.3" cy="356.5" r="3.0"/><circle cx="1159.2" cy="359.7" r="3.0"/><circle cx="1160.9" cy="364.6" r="3.0"/><circle cx="1151.2" cy="367.8" r="3.0"/><circle cx="1178" cy="366.8" r="3.0"/><circle cx="1208.6" cy="367.8" r="3.0"/><circle cx="1220.6" cy="368.5" r="3.0"/><circle cx="1193.5" cy="373.3" r="3.0"/><circle cx="1207.7" cy="376.8" r="3.0"/><circle cx="1175.4" cy="383.9" r="3.0"/><circle cx="1181.8" cy="389.7" r="3.0"/><circle cx="1183.4" cy="396.8" r="3.0"/><circle cx="1196.4" cy="396.8" r="3.0"/><circle cx="1201.2" cy="400.1" r="3.0"/><circle cx="1209.9" cy="401" r="3.0"/><circle cx="1194.8" cy="403.3" r="3.0"/><circle cx="1189.9" cy="408.1" r="3.0"/><circle cx="1185.1" cy="411.4" r="3.0"/><circle cx="1177" cy="409.7" r="3.0"/><circle cx="1183.5" cy="418.8" r="3.0"/><circle cx="1193.1" cy="414.6" r="3.0"/><circle cx="1194.8" cy="419.4" r="3.0"/><circle cx="1201.2" cy="417.8" r="3.0"/><circle cx="1202.8" cy="422.7" r="3.0"/><circle cx="1204.4" cy="425.9" r="3.0"/><circle cx="1199.6" cy="432.4" r="3.0"/><circle cx="1198" cy="435.6" r="3.0"/><circle cx="1213.1" cy="441.1" r="3.0"/><circle cx="1198" cy="446.9" r="3.0"/><circle cx="1211.5" cy="452.7" r="3.0"/><circle cx="1221.5" cy="467.9" r="3.0"/><circle cx="1219" cy="480.1" r="3.0"/><circle cx="1221.2" cy="496.3" r="3.0"/><circle cx="1162.3" cy="383.6" r="3.0"/><circle cx="1157.6" cy="376.5" r="3.0"/><circle cx="1158.4" cy="382.8" r="3.0"/><circle cx="1147.7" cy="368.6" r="3.0"/><circle cx="1156.3" cy="376.2" r="3.0"/><circle cx="1169.1" cy="393.7" r="3.0"/><circle cx="1174.2" cy="402.6" r="3.0"/><circle cx="1165.3" cy="386.3" r="3.0"/><circle cx="1160.6" cy="379.8" r="3.0"/><circle cx="1156.8" cy="374.5" r="3.0"/><circle cx="1171.5" cy="392.3" r="3.0"/><circle cx="1165.2" cy="390.9" r="3.0"/><circle cx="1158.3" cy="385.9" r="3.0"/><circle cx="1150.7" cy="370.3" r="3.0"/><circle cx="1160.3" cy="372.3" r="3.0"/><circle cx="1154.1" cy="372.4" r="3.0"/><circle cx="1158.2" cy="389.5" r="3.0"/><circle cx="1176.9" cy="401.6" r="3.0"/><circle cx="1150.7" cy="372" r="3.0"/><circle cx="1175" cy="394.9" r="3.0"/><circle cx="1170.6" cy="394.1" r="3.0"/><circle cx="1172.2" cy="397" r="3.0"/><circle cx="1150.2" cy="371.3" r="3.0"/><circle cx="1148" cy="376.5" r="3.0"/><circle cx="1164" cy="388.8" r="3.0"/><circle cx="1138.8" cy="365.4" r="3.0"/><circle cx="1173.7" cy="402" r="3.0"/><circle cx="1167.7" cy="391.6" r="3.0"/><circle cx="1163.4" cy="386.7" r="3.0"/><circle cx="1179" cy="399" r="3.0"/><circle cx="1170.6" cy="402.1" r="3.0"/><circle cx="1159.3" cy="383.2" r="3.0"/><circle cx="1153.2" cy="374" r="3.0"/><circle cx="1171.3" cy="386.1" r="3.0"/><circle cx="1149.2" cy="370.9" r="3.0"/></g>
<path d="M1373.7 309H1893.8" class="zl"/>
<path d="M1788.4 49.4V566" class="zl"/>
<path d="M1373.7 49.4V566H1893.8" class="ax"/>
<path d="M1370.1 69.2h3.6M1370.1 189.2h3.6M1370.1 309h3.6M1370.1 428.9h3.6M1370.1 548.6h3.6M1475.3 566v3.6M1631.8 566v3.6M1788.4 566v3.6" class="tk"/>
<text x="1368.3" y="76.1" class="yl">5.0</text>
<text x="1368.3" y="196.1" class="yl">2.5</text>
<text x="1368.3" y="315.9" class="yl">0.0</text>
<text x="1368.3" y="435.8" class="yl">-2.5</text>
<text x="1368.3" y="555.5" class="yl">-5.0</text>
<text x="1475.3" y="585.8" class="xl">-10</text>
<text x="1631.8" y="585.8" class="xl">-5</text>
<text x="1788.4" y="585.8" class="xl">0</text>
<text x="1486.9" y="34.7" class="ti">Endothelial</text>
<g filter="url(#b2)">
<path d="M1490.8 140.9L1495.9 144.2L1500.9 147.5L1506 150.8" stroke="#f9f9f9" stroke-width="22"/>
<path d="M1506 150.8L1511 154.1L1516.1 157.4L1521.1 160.7" stroke="#f4f4f4" stroke-width="22"/>
<path d="M1521.1 160.7L1526.2 164L1531.2 167.3L1536.3 170.6L1541.3 173.9L1546.4 177.2" stroke="#eeeeee" stroke-width="22"/>
<path d="M1546.4 177.2L1551.4 180.5L1556.4 183.9L1561.5 187.2L1566.5 190.5L1571.5 193.9L1576.5 197.3L1581.5 200.6L1586.5 204L1591.5 207.4L1596.5 210.8L1601.4 214.3L1606.4 217.7L1611.3 221.2L1616.2 224.7L1621.1 228.2L1626 231.7L1630.9 235.3L1635.7 238.9L1640.6 242.5L1645.4 246.1L1650.2 249.8L1654.9 253.5L1659.7 257.2" stroke="#e8e8e8" stroke-width="22"/>
<path d="M1659.7 257.2L1664.4 261L1669.1 264.8L1673.7 268.6L1678.3 272.5L1682.9 276.4L1687.5 280.3" stroke="#eeeeee" stroke-width="22"/>
<path d="M1687.5 280.3L1692 284.3L1696.5 288.3L1701 292.4" stroke="#f4f4f4" stroke-width="22"/>
<path d="M1701 292.4L1705.4 296.5L1709.8 300.6L1714.2 304.7L1718.5 308.9" stroke="#f9f9f9" stroke-width="22"/>
</g>
<g filter="url(#b1)">
<path d="M1425.3 105.6L1430.3 109" stroke="#f9f9f9" stroke-width="13"/>
<path d="M1430.3 109L1435.3 112.3" stroke="#f9f9f9" stroke-width="14.5"/>
<path d="M1435.3 112.3L1440.3 115.7" stroke="#f9f9f9" stroke-width="16.5"/>
<path d="M1440.3 115.7L1445.3 119" stroke="#f9f9f9" stroke-width="18"/>
<path d="M1445.3 119L1450.3 122.4" stroke="#f4f4f4" stroke-width="19.5"/>
<path d="M1450.3 122.4L1455.3 125.7" stroke="#f4f4f4" stroke-width="21"/>
<path d="M1455.3 125.7L1460.3 129" stroke="#f4f4f4" stroke-width="22"/>
<path d="M1460.3 129L1465.3 132.4" stroke="#f4f4f4" stroke-width="23.5"/>
<path d="M1465.3 132.4L1470.3 135.7" stroke="#f4f4f4" stroke-width="24.5"/>
<path d="M1470.3 135.7L1475.4 139" stroke="#f4f4f4" stroke-width="25.5"/>
<path d="M1475.4 139L1480.4 142.3" stroke="#f4f4f4" stroke-width="26.5"/>
<path d="M1480.4 142.3L1485.4 145.6" stroke="#f4f4f4" stroke-width="27"/>
<path d="M1485.4 145.6L1490.4 148.9" stroke="#f4f4f4" stroke-width="28"/>
<path d="M1490.4 148.9L1495.5 152.2" stroke="#f4f4f4" stroke-width="28.5"/>
<path d="M1495.5 152.2L1500.5 155.5" stroke="#f4f4f4" stroke-width="29"/>
<path d="M1500.5 155.5L1505.5 158.8L1510.6 162.1" stroke="#f4f4f4" stroke-width="29.5"/>
<path d="M1510.6 162.1L1515.6 165.4L1520.7 168.7" stroke="#f4f4f4" stroke-width="30"/>
<path d="M1520.7 168.7L1525.7 172" stroke="#eeeeee" stroke-width="30"/>
<path d="M1525.7 172L1530.7 175.3L1535.8 178.6L1540.8 181.9L1545.8 185.2L1550.8 188.5L1555.9 191.8L1560.9 195.1L1565.9 198.5L1570.9 201.8L1575.9 205.2L1580.9 208.6L1585.8 211.9L1590.8 215.3L1595.7 218.8L1600.7 222.2L1605.6 225.7L1610.5 229.1L1615.4 232.6L1620.3 236.1L1625.2 239.7L1630 243.2L1634.9 246.8" stroke="#eeeeee" stroke-width="30.5"/>
<path d="M1634.9 246.8L1639.7 250.4L1644.4 254.1L1649.2 257.8" stroke="#e8e8e8" stroke-width="30"/>
<path d="M1649.2 257.8L1653.9 261.5L1658.7 265.2" stroke="#e8e8e8" stroke-width="29.5"/>
<path d="M1658.7 265.2L1663.4 269L1668 272.8" stroke="#e8e8e8" stroke-width="29"/>
<path d="M1668 272.8L1672.6 276.6" stroke="#e8e8e8" stroke-width="28.5"/>
<path d="M1672.6 276.6L1677.2 280.5" stroke="#e8e8e8" stroke-width="28"/>
<path d="M1677.2 280.5L1681.8 284.4" stroke="#e8e8e8" stroke-width="27.5"/>
<path d="M1681.8 284.4L1686.3 288.4" stroke="#e8e8e8" stroke-width="27"/>
<path d="M1686.3 288.4L1690.8 292.4" stroke="#e8e8e8" stroke-width="26.5"/>
<path d="M1690.8 292.4L1695.3 296.4" stroke="#e8e8e8" stroke-width="26"/>
<path d="M1695.3 296.4L1699.7 300.5" stroke="#e8e8e8" stroke-width="25"/>
<path d="M1699.7 300.5L1704.1 304.6" stroke="#e2e2e2" stroke-width="24.5"/>
<path d="M1704.1 304.6L1708.4 308.8" stroke="#e2e2e2" stroke-width="24"/>
<path d="M1708.4 308.8L1712.7 313" stroke="#e2e2e2" stroke-width="23.5"/>
<path d="M1712.7 313L1717 317.2" stroke="#e2e2e2" stroke-width="23"/>
<path d="M1717 317.2L1721.2 321.5" stroke="#e2e2e2" stroke-width="22.5"/>
<path d="M1721.2 321.5L1725.4 325.9" stroke="#e2e2e2" stroke-width="22"/>
<path d="M1725.4 325.9L1729.5 330.3" stroke="#e8e8e8" stroke-width="22"/>
<path d="M1729.5 330.3L1733.6 334.7L1737.6 339.1L1741.6 343.6L1745.5 348.2" stroke="#e8e8e8" stroke-width="21.5"/>
<path d="M1745.5 348.2L1749.4 352.8L1753.3 357.4L1757 362.1" stroke="#e8e8e8" stroke-width="21"/>
<path d="M1757 362.1L1760.8 366.8" stroke="#eeeeee" stroke-width="21"/>
<path d="M1760.8 366.8L1764.5 371.6L1768.1 376.4L1771.7 381.2" stroke="#eeeeee" stroke-width="20.5"/>
<path d="M1771.7 381.2L1775.2 386L1778.7 391L1782.1 395.9" stroke="#eeeeee" stroke-width="20"/>
<path d="M1782.1 395.9L1785.5 400.9L1788.8 405.9" stroke="#f4f4f4" stroke-width="20"/>
<path d="M1788.8 405.9L1792.1 410.9L1795.3 416L1798.5 421.1L1801.6 426.3" stroke="#f4f4f4" stroke-width="19.5"/>
<path d="M1801.6 426.3L1804.7 431.4" stroke="#f9f9f9" stroke-width="19.5"/>
<path d="M1804.7 431.4L1807.7 436.6L1810.7 441.9" stroke="#f9f9f9" stroke-width="19"/>
<path d="M1810.7 441.9L1813.6 447.1L1816.5 452.4" stroke="#f9f9f9" stroke-width="18.5"/>
<path d="M1816.5 452.4L1819.3 457.7L1822.1 463" stroke="#f9f9f9" stroke-width="18"/>
<path d="M1822.1 463L1824.8 468.4L1827.5 473.8" stroke="#f9f9f9" stroke-width="17.5"/>
<path d="M1827.5 473.8L1830.2 479.2" stroke="#f9f9f9" stroke-width="17"/>
<path d="M1830.2 479.2L1832.8 484.6" stroke="#f9f9f9" stroke-width="16.5"/>
<path d="M1425.3 105.6L1430.3 109" stroke="#e8e8e8" stroke-width="9"/>
<path d="M1430.3 109L1435.3 112.3" stroke="#e2e2e2" stroke-width="10.5"/>
<path d="M1435.3 112.3L1440.3 115.7" stroke="#e2e2e2" stroke-width="11.5"/>
<path d="M1440.3 115.7L1445.3 119" stroke="#e2e2e2" stroke-width="12.5"/>
<path d="M1445.3 119L1450.3 122.4" stroke="#dddddd" stroke-width="13.5"/>
<path d="M1450.3 122.4L1455.3 125.7" stroke="#dddddd" stroke-width="14.5"/>
<path d="M1455.3 125.7L1460.3 129" stroke="#dddddd" stroke-width="15.5"/>
<path d="M1460.3 129L1465.3 132.4" stroke="#d7d7d7" stroke-width="16.5"/>
<path d="M1465.3 132.4L1470.3 135.7" stroke="#d7d7d7" stroke-width="17.5"/>
<path d="M1470.3 135.7L1475.4 139" stroke="#d7d7d7" stroke-width="18"/>
<path d="M1475.4 139L1480.4 142.3" stroke="#d1d1d1" stroke-width="19"/>
<path d="M1480.4 142.3L1485.4 145.6" stroke="#d1d1d1" stroke-width="19.5"/>
<path d="M1485.4 145.6L1490.4 148.9L1495.5 152.2" stroke="#d1d1d1" stroke-width="20"/>
<path d="M1495.5 152.2L1500.5 155.5" stroke="#cbcbcb" stroke-width="20.5"/>
<path d="M1500.5 155.5L1505.5 158.8L1510.6 162.1" stroke="#cbcbcb" stroke-width="21"/>
<path d="M1510.6 162.1L1515.6 165.4L1520.7 168.7L1525.7 172" stroke="#cbcbcb" stroke-width="21.5"/>
<path d="M1525.7 172L1530.7 175.3L1535.8 178.6L1540.8 181.9L1545.8 185.2L1550.8 188.5L1555.9 191.8" stroke="#c6c6c6" stroke-width="21.5"/>
<path d="M1555.9 191.8L1560.9 195.1L1565.9 198.5L1570.9 201.8L1575.9 205.2L1580.9 208.6L1585.8 211.9" stroke="#c0c0c0" stroke-width="21.5"/>
<path d="M1585.8 211.9L1590.8 215.3L1595.7 218.8L1600.7 222.2L1605.6 225.7L1610.5 229.1L1615.4 232.6" stroke="#bababa" stroke-width="21.5"/>
<path d="M1615.4 232.6L1620.3 236.1L1625.2 239.7L1630 243.2L1634.9 246.8L1639.7 250.4" stroke="#b5b5b5" stroke-width="21.5"/>
<path d="M1639.7 250.4L1644.4 254.1" stroke="#afafaf" stroke-width="21.5"/>
<path d="M1644.4 254.1L1649.2 257.8L1653.9 261.5L1658.7 265.2" stroke="#afafaf" stroke-width="21"/>
<path d="M1658.7 265.2L1663.4 269" stroke="#afafaf" stroke-width="20.5"/>
<path d="M1663.4 269L1668 272.8" stroke="#a9a9a9" stroke-width="20.5"/>
<path d="M1668 272.8L1672.6 276.6L1677.2 280.5" stroke="#a9a9a9" stroke-width="20"/>
<path d="M1677.2 280.5L1681.8 284.4" stroke="#a3a3a3" stroke-width="19.5"/>
<path d="M1681.8 284.4L1686.3 288.4" stroke="#a3a3a3" stroke-width="19"/>
<path d="M1686.3 288.4L1690.8 292.4L1695.3 296.4" stroke="#a3a3a3" stroke-width="18.5"/>
<path d="M1695.3 296.4L1699.7 300.5" stroke="#9e9e9e" stroke-width="18"/>
<path d="M1699.7 300.5L1704.1 304.6" stroke="#9e9e9e" stroke-width="17.5"/>
<path d="M1704.1 304.6L1708.4 308.8" stroke="#9e9e9e" stroke-width="17"/>
<path d="M1708.4 308.8L1712.7 313" stroke="#9e9e9e" stroke-width="16.5"/>
<path d="M1712.7 313L1717 317.2L1721.2 321.5" stroke="#9e9e9e" stroke-width="16"/>
<path d="M1721.2 321.5L1725.4 325.9L1729.5 330.3" stroke="#9e9e9e" stroke-width="15.5"/>
<path d="M1729.5 330.3L1733.6 334.7" stroke="#a3a3a3" stroke-width="15.5"/>
<path d="M1733.6 334.7L1737.6 339.1" stroke="#a3a3a3" stroke-width="15"/>
<path d="M1737.6 339.1L1741.6 343.6L1745.5 348.2" stroke="#a9a9a9" stroke-width="15"/>
<path d="M1745.5 348.2L1749.4 352.8L1753.3 357.4" stroke="#afafaf" stroke-width="15"/>
<path d="M1753.3 357.4L1757 362.1L1760.8 366.8" stroke="#b5b5b5" stroke-width="15"/>
<path d="M1760.8 366.8L1764.5 371.6L1768.1 376.4" stroke="#bababa" stroke-width="14.5"/>
<path d="M1768.1 376.4L1771.7 381.2L1775.2 386" stroke="#c0c0c0" stroke-width="14.5"/>
<path d="M1775.2 386L1778.7 391" stroke="#c6c6c6" stroke-width="14.5"/>
<path d="M1778.7 391L1782.1 395.9" stroke="#c6c6c6" stroke-width="14"/>
<path d="M1782.1 395.9L1785.5 400.9" stroke="#cbcbcb" stroke-width="14"/>
<path d="M1785.5 400.9L1788.8 405.9L1792.1 410.9" stroke="#d1d1d1" stroke-width="14"/>
<path d="M1792.1 410.9L1795.3 416" stroke="#d7d7d7" stroke-width="14"/>
<path d="M1795.3 416L1798.5 421.1L1801.6 426.3" stroke="#dddddd" stroke-width="14"/>
<path d="M1801.6 426.3L1804.7 431.4L1807.7 436.6" stroke="#e2e2e2" stroke-width="13.5"/>
<path d="M1807.7 436.6L1810.7 441.9L1813.6 447.1" stroke="#e8e8e8" stroke-width="13.5"/>
<path d="M1813.6 447.1L1816.5 452.4" stroke="#e8e8e8" stroke-width="13"/>
<path d="M1816.5 452.4L1819.3 457.7" stroke="#eeeeee" stroke-width="13"/>
<path d="M1819.3 457.7L1822.1 463L1824.8 468.4" stroke="#eeeeee" stroke-width="12.5"/>
<path d="M1824.8 468.4L1827.5 473.8" stroke="#f4f4f4" stroke-width="12.5"/>
<path d="M1827.5 473.8L1830.2 479.2L1832.8 484.6" stroke="#f4f4f4" stroke-width="12"/>
<path d="M1832.8 484.6L1835.4 490L1837.9 495.5" stroke="#f4f4f4" stroke-width="11.5"/>
<path d="M1837.9 495.5L1840.4 501" stroke="#f9f9f9" stroke-width="11"/>
<path d="M1840.4 501L1842.9 506.5" stroke="#f9f9f9" stroke-width="10.5"/>
<path d="M1842.9 506.5L1845.3 512" stroke="#f9f9f9" stroke-width="10"/>
<path d="M1425.3 105.6L1430.3 109" stroke="#cbcbcb" stroke-width="7"/>
<path d="M1430.3 109L1435.3 112.3" stroke="#c6c6c6" stroke-width="7.5"/>
<path d="M1435.3 112.3L1440.3 115.7" stroke="#c0c0c0" stroke-width="8.5"/>
<path d="M1440.3 115.7L1445.3 119" stroke="#bababa" stroke-width="9.5"/>
<path d="M1445.3 119L1450.3 122.4" stroke="#b5b5b5" stroke-width="10"/>
<path d="M1450.3 122.4L1455.3 125.7" stroke="#b5b5b5" stroke-width="11"/>
<path d="M1455.3 125.7L1460.3 129" stroke="#afafaf" stroke-width="11.5"/>
<path d="M1460.3 129L1465.3 132.4" stroke="#a9a9a9" stroke-width="12.5"/>
<path d="M1465.3 132.4L1470.3 135.7" stroke="#a3a3a3" stroke-width="13"/>
<path d="M1470.3 135.7L1475.4 139" stroke="#a3a3a3" stroke-width="13.5"/>
<path d="M1475.4 139L1480.4 142.3" stroke="#9e9e9e" stroke-width="14"/>
<path d="M1480.4 142.3L1485.4 145.6L1490.4 148.9" stroke="#989898" stroke-width="14.5"/>
<path d="M1490.4 148.9L1495.5 152.2L1500.5 155.5" stroke="#929292" stroke-width="15"/>
<path d="M1500.5 155.5L1505.5 158.8" stroke="#929292" stroke-width="15.5"/>
<path d="M1505.5 158.8L1510.6 162.1" stroke="#8c8c8c" stroke-width="15.5"/>
<path d="M1510.6 162.1L1515.6 165.4" stroke="#8c8c8c" stroke-width="16"/>
<path d="M1515.6 165.4L1520.7 168.7L1525.7 172L1530.7 175.3" stroke="#878787" stroke-width="16"/>
<path d="M1530.7 175.3L1535.8 178.6L1540.8 181.9L1545.8 185.2" stroke="#818181" stroke-width="16"/>
<path d="M1545.8 185.2L1550.8 188.5L1555.9 191.8" stroke="#7b7b7b" stroke-width="16"/>
<path d="M1555.9 191.8L1560.9 195.1L1565.9 198.5L1570.9 201.8" stroke="#767676" stroke-width="16"/>
<path d="M1570.9 201.8L1575.9 205.2L1580.9 208.6L1585.8 211.9" stroke="#707070" stroke-width="16"/>
<path d="M1585.8 211.9L1590.8 215.3L1595.7 218.8L1600.7 222.2" stroke="#6a6a6a" stroke-width="16"/>
<path d="M1600.7 222.2L1605.6 225.7L1610.5 229.1" stroke="#646464" stroke-width="16"/>
<path d="M1610.5 229.1L1615.4 232.6L1620.3 236.1L1625.2 239.7" stroke="#5f5f5f" stroke-width="16"/>
<path d="M1625.2 239.7L1630 243.2L1634.9 246.8" stroke="#595959" stroke-width="16"/>
<path d="M1634.9 246.8L1639.7 250.4L1644.4 254.1" stroke="#535353" stroke-width="16"/>
<path d="M1644.4 254.1L1649.2 257.8" stroke="#535353" stroke-width="15.5"/>
<path d="M1649.2 257.8L1653.9 261.5L1658.7 265.2" stroke="#4e4e4e" stroke-width="15.5"/>
<path d="M1658.7 265.2L1663.4 269" stroke="#484848" stroke-width="15.5"/>
<path d="M1663.4 269L1668 272.8L1672.6 276.6" stroke="#424242" stroke-width="15"/>
<path d="M1672.6 276.6L1677.2 280.5" stroke="#3c3c3c" stroke-width="14.5"/>
<path d="M1677.2 280.5L1681.8 284.4" stroke="#373737" stroke-width="14.5"/>
<path d="M1681.8 284.4L1686.3 288.4" stroke="#373737" stroke-width="14"/>
<path d="M1686.3 288.4L1690.8 292.4" stroke="#313131" stroke-width="14"/>
<path d="M1690.8 292.4L1695.3 296.4" stroke="#2b2b2b" stroke-width="13.5"/>
<path d="M1695.3 296.4L1699.7 300.5" stroke="#2b2b2b" stroke-width="13"/>
<path d="M1699.7 300.5L1704.1 304.6" stroke="#252525" stroke-width="13"/>
<path d="M1704.1 304.6L1708.4 308.8L1712.7 313" stroke="#252525" stroke-width="12.5"/>
<path d="M1712.7 313L1717 317.2L1721.2 321.5" stroke="#252525" stroke-width="12"/>
<path d="M1721.2 321.5L1725.4 325.9" stroke="#252525" stroke-width="11.5"/>
<path d="M1725.4 325.9L1729.5 330.3" stroke="#2b2b2b" stroke-width="11.5"/>
<path d="M1729.5 330.3L1733.6 334.7" stroke="#313131" stroke-width="11.5"/>
<path d="M1733.6 334.7L1737.6 339.1" stroke="#373737" stroke-width="11.5"/>
<path d="M1737.6 339.1L1741.6 343.6" stroke="#3c3c3c" stroke-width="11"/>
<path d="M1741.6 343.6L1745.5 348.2" stroke="#424242" stroke-width="11"/>
<path d="M1745.5 348.2L1749.4 352.8" stroke="#484848" stroke-width="11"/>
<path d="M1749.4 352.8L1753.3 357.4" stroke="#4e4e4e" stroke-width="11"/>
<path d="M1753.3 357.4L1757 362.1" stroke="#535353" stroke-width="11"/>
<path d="M1757 362.1L1760.8 366.8" stroke="#595959" stroke-width="11"/>
<path d="M1760.8 366.8L1764.5 371.6" stroke="#646464" stroke-width="11"/>
<path d="M1764.5 371.6L1768.1 376.4" stroke="#6a6a6a" stroke-width="11"/>
<path d="M1768.1 376.4L1771.7 381.2" stroke="#707070" stroke-width="10.5"/>
<path d="M1771.7 381.2L1775.2 386" stroke="#767676" stroke-width="10.5"/>
<path d="M1775.2 386L1778.7 391" stroke="#7b7b7b" stroke-width="10.5"/>
<path d="M1778.7 391L1782.1 395.9" stroke="#878787" stroke-width="10.5"/>
<path d="M1782.1 395.9L1785.5 400.9" stroke="#8c8c8c" stroke-width="10.5"/>
<path d="M1785.5 400.9L1788.8 405.9" stroke="#989898" stroke-width="10.5"/>
<path d="M1788.8 405.9L1792.1 410.9" stroke="#9e9e9e" stroke-width="10.5"/>
<path d="M1792.1 410.9L1795.3 416" stroke="#a9a9a9" stroke-width="10.5"/>
<path d="M1795.3 416L1798.5 421.1" stroke="#afafaf" stroke-width="10.5"/>
<path d="M1798.5 421.1L1801.6 426.3" stroke="#b5b5b5" stroke-width="10"/>
<path d="M1801.6 426.3L1804.7 431.4" stroke="#bababa" stroke-width="10"/>
<path d="M1804.7 431.4L1807.7 436.6L1810.7 441.9" stroke="#c6c6c6" stroke-width="10"/>
<path d="M1810.7 441.9L1813.6 447.1" stroke="#cbcbcb" stroke-width="10"/>
<path d="M1813.6 447.1L1816.5 452.4" stroke="#d1d1d1" stroke-width="9.5"/>
<path d="M1816.5 452.4L1819.3 457.7L1822.1 463" stroke="#d7d7d7" stroke-width="9.5"/>
<path d="M1822.1 463L1824.8 468.4" stroke="#dddddd" stroke-width="9.5"/>
<path d="M1824.8 468.4L1827.5 473.8" stroke="#dddddd" stroke-width="9"/>
<path d="M1827.5 473.8L1830.2 479.2L1832.8 484.6" stroke="#e2e2e2" stroke-width="9"/>
<path d="M1832.8 484.6L1835.4 490L1837.9 495.5" stroke="#e8e8e8" stroke-width="8.5"/>
<path d="M1837.9 495.5L1840.4 501L1842.9 506.5" stroke="#eeeeee" stroke-width="8"/>
<path d="M1842.9 506.5L1845.3 512" stroke="#eeeeee" stroke-width="7.5"/>
</g>
<g class="rd"><circle cx="1709.3" cy="192.8" r="3.0"/><circle cx="1678" cy="235.4" r="3.0"/><circle cx="1679.6" cy="243.5" r="3.0"/><circle cx="1692.5" cy="271.9" r="3.0"/><circle cx="1705.1" cy="269.3" r="3.0"/><circle cx="1699" cy="280.6" r="3.0"/><circle cx="1738.4" cy="270.3" r="3.0"/><circle cx="1740" cy="271.9" r="3.0"/><circle cx="1772.3" cy="285.5" r="3.0"/><circle cx="1772.3" cy="287.7" r="3.0"/><circle cx="1694.8" cy="292.9" r="3.0"/><circle cx="1719" cy="295.5" r="3.0"/><circle cx="1750.3" cy="293.5" r="3.0"/><circle cx="1727.1" cy="300" r="3.0"/><circle cx="1740" cy="300" r="3.0"/><circle cx="1743.2" cy="298.4" r="3.0"/><circle cx="1746.4" cy="304.8" r="3.0"/><circle cx="1756.1" cy="306.5" r="3.0"/><circle cx="1773.9" cy="304.8" r="3.0"/><circle cx="1778.7" cy="306.5" r="3.0"/><circle cx="1778.7" cy="314.5" r="3.0"/><circle cx="1707.7" cy="303.2" r="3.0"/><circle cx="1722.2" cy="306.5" r="3.0"/><circle cx="1728.7" cy="305.8" r="3.0"/><circle cx="1777.1" cy="341.3" r="3.0"/><circle cx="1791.6" cy="340.4" r="3.0"/><circle cx="1800.7" cy="345.2" r="3.0"/><circle cx="1783.5" cy="348.4" r="3.0"/><circle cx="1785.2" cy="354.2" r="3.0"/><circle cx="1801.3" cy="376.8" r="3.0"/><circle cx="1812.6" cy="388.1" r="3.0"/><circle cx="1817.5" cy="387.2" r="3.0"/><circle cx="1806.2" cy="400.1" r="3.0"/><circle cx="1814.2" cy="401" r="3.0"/><circle cx="1823.9" cy="420.4" r="3.0"/><circle cx="1822.3" cy="427.5" r="3.0"/><circle cx="1828.7" cy="429.1" r="3.0"/><circle cx="1829.7" cy="435.6" r="3.0"/><circle cx="1799.7" cy="427.5" r="3.0"/><circle cx="1811" cy="442" r="3.0"/><circle cx="1812.6" cy="445.3" r="3.0"/><circle cx="1804.5" cy="453.3" r="3.0"/><circle cx="1807.8" cy="454" r="3.0"/><circle cx="1827.1" cy="450.8" r="3.0"/><circle cx="1826.5" cy="455.6" r="3.0"/><circle cx="1819.1" cy="457.5" r="3.0"/><circle cx="1822.3" cy="463.7" r="3.0"/><circle cx="1828.7" cy="466.2" r="3.0"/><circle cx="1830.4" cy="472.7" r="3.0"/><circle cx="1748.7" cy="350.6" r="3.0"/><circle cx="1734.4" cy="349.4" r="3.0"/><circle cx="1741.2" cy="329.4" r="3.0"/><circle cx="1781" cy="379.4" r="3.0"/><circle cx="1714.1" cy="294.5" r="3.0"/><circle cx="1754.6" cy="342.6" r="3.0"/><circle cx="1728.5" cy="324" r="3.0"/><circle cx="1788" cy="410.7" r="3.0"/><circle cx="1770.1" cy="362.9" r="3.0"/><circle cx="1797.1" cy="417.7" r="3.0"/><circle cx="1770.9" cy="393.4" r="3.0"/><circle cx="1782.4" cy="379.2" r="3.0"/><circle cx="1731.6" cy="333.7" r="3.0"/><circle cx="1773.5" cy="372.4" r="3.0"/><circle cx="1794.3" cy="406.9" r="3.0"/><circle cx="1719.2" cy="308.6" r="3.0"/><circle cx="1776.4" cy="394.4" r="3.0"/><circle cx="1726.9" cy="325.6" r="3.0"/><circle cx="1775.9" cy="384.5" r="3.0"/><circle cx="1768.9" cy="362.4" r="3.0"/><circle cx="1760.5" cy="377.9" r="3.0"/><circle cx="1740.9" cy="346.3" r="3.0"/><circle cx="1810.1" cy="416.6" r="3.0"/><circle cx="1797" cy="410.4" r="3.0"/><circle cx="1733.2" cy="328.5" r="3.0"/><circle cx="1773.3" cy="381.9" r="3.0"/><circle cx="1786.1" cy="410.8" r="3.0"/><circle cx="1787.6" cy="407.7" r="3.0"/><circle cx="1718.4" cy="328.2" r="3.0"/><circle cx="1777.3" cy="392.8" r="3.0"/><circle cx="1714.1" cy="299" r="3.0"/><circle cx="1789.4" cy="399.3" r="3.0"/><circle cx="1740.4" cy="335.7" r="3.0"/><circle cx="1729.5" cy="327.3" r="3.0"/><circle cx="1742.8" cy="338.9" r="3.0"/><circle cx="1755" cy="350.7" r="3.0"/><circle cx="1779.8" cy="377.4" r="3.0"/><circle cx="1805.5" cy="413.2" r="3.0"/><circle cx="1759.7" cy="353.9" r="3.0"/><circle cx="1750.4" cy="354.5" r="3.0"/><circle cx="1730.8" cy="324.6" r="3.0"/><circle cx="1752.6" cy="358.2" r="3.0"/><circle cx="1766.7" cy="359.6" r="3.0"/><circle cx="1781.4" cy="379.9" r="3.0"/><circle cx="1728.3" cy="322.4" r="3.0"/><circle cx="1736.2" cy="312.6" r="3.0"/><circle cx="1740.5" cy="318.2" r="3.0"/><circle cx="1743.4" cy="337" r="3.0"/><circle cx="1735.4" cy="352.5" r="3.0"/><circle cx="1806.2" cy="420.4" r="3.0"/><circle cx="1715" cy="304.9" r="3.0"/><circle cx="1788.9" cy="405.6" r="3.0"/><circle cx="1792.5" cy="406.8" r="3.0"/><circle cx="1707.2" cy="302.2" r="3.0"/><circle cx="1728.2" cy="306.1" r="3.0"/><circle cx="1757.4" cy="350.5" r="3.0"/><circle cx="1718.3" cy="321" r="3.0"/><circle cx="1730.9" cy="325.8" r="3.0"/><circle cx="1704.7" cy="308.4" r="3.0"/><circle cx="1778.6" cy="357.6" r="3.0"/><circle cx="1781.9" cy="392.7" r="3.0"/><circle cx="1775.9" cy="394.9" r="3.0"/><circle cx="1783" cy="391.5" r="3.0"/><circle cx="1783.9" cy="400.2" r="3.0"/><circle cx="1800.2" cy="415.2" r="3.0"/><circle cx="1710.5" cy="314.2" r="3.0"/><circle cx="1781.4" cy="376" r="3.0"/><circle cx="1749" cy="361.4" r="3.0"/><circle cx="1711.2" cy="309.1" r="3.0"/><circle cx="1703.2" cy="305.8" r="3.0"/><circle cx="1784.6" cy="410.3" r="3.0"/><circle cx="1735.3" cy="345.3" r="3.0"/><circle cx="1777.4" cy="381.7" r="3.0"/><circle cx="1731.7" cy="324.6" r="3.0"/><circle cx="1723.1" cy="325.9" r="3.0"/><circle cx="1743" cy="351.4" r="3.0"/><circle cx="1733.7" cy="332" r="3.0"/><circle cx="1784" cy="403.5" r="3.0"/><circle cx="1760" cy="371.6" r="3.0"/><circle cx="1775.2" cy="378.8" r="3.0"/><circle cx="1793.6" cy="396.9" r="3.0"/><circle cx="1750.7" cy="369.7" r="3.0"/><circle cx="1786.4" cy="388.6" r="3.0"/><circle cx="1777.3" cy="386.5" r="3.0"/><circle cx="1717.4" cy="307.7" r="3.0"/><circle cx="1759.3" cy="350.8" r="3.0"/><circle cx="1779.4" cy="379.4" r="3.0"/><circle cx="1731" cy="301.7" r="3.0"/><circle cx="1709.2" cy="316.2" r="3.0"/><circle cx="1744.6" cy="314.6" r="3.0"/><circle cx="1733.4" cy="355" r="3.0"/><circle cx="1779.2" cy="368.5" r="3.0"/><circle cx="1789.4" cy="397.6" r="3.0"/><circle cx="1785.9" cy="403.2" r="3.0"/><circle cx="1717.6" cy="316.3" r="3.0"/><circle cx="1755.1" cy="348.9" r="3.0"/><circle cx="1776.5" cy="375.7" r="3.0"/><circle cx="1717.6" cy="317.9" r="3.0"/><circle cx="1760.3" cy="337.2" r="3.0"/><circle cx="1783.6" cy="396.8" r="3.0"/><circle cx="1794.5" cy="414" r="3.0"/><circle cx="1767.9" cy="368.8" r="3.0"/><circle cx="1787" cy="393.1" r="3.0"/><circle cx="1772.8" cy="393.6" r="3.0"/><circle cx="1701.3" cy="300.6" r="3.0"/><circle cx="1781.7" cy="379.1" r="3.0"/><circle cx="1763.1" cy="365.2" r="3.0"/><circle cx="1798.2" cy="430.8" r="3.0"/><circle cx="1798.3" cy="419.4" r="3.0"/><circle cx="1732" cy="324.9" r="3.0"/><circle cx="1704" cy="307.5" r="3.0"/><circle cx="1714.4" cy="315.6" r="3.0"/><circle cx="1799.4" cy="416.6" r="3.0"/><circle cx="1788.5" cy="397.2" r="3.0"/><circle cx="1801.8" cy="404.2" r="3.0"/><circle cx="1711.3" cy="305.1" r="3.0"/><circle cx="1710.5" cy="306.9" r="3.0"/><circle cx="1800.7" cy="425.3" r="3.0"/><circle cx="1775.4" cy="381.4" r="3.0"/><circle cx="1738.2" cy="331.4" r="3.0"/><circle cx="1710.8" cy="303.5" r="3.0"/><circle cx="1767.6" cy="376.2" r="3.0"/><circle cx="1729.4" cy="318.3" r="3.0"/><circle cx="1801.9" cy="424.4" r="3.0"/><circle cx="1787.9" cy="399.3" r="3.0"/><circle cx="1730.1" cy="337.2" r="3.0"/><circle cx="1771.5" cy="381.7" r="3.0"/><circle cx="1779.2" cy="373.2" r="3.0"/><circle cx="1783.4" cy="399.6" r="3.0"/><circle cx="1713.5" cy="295.6" r="3.0"/><circle cx="1727.5" cy="333.4" r="3.0"/><circle cx="1796.1" cy="423" r="3.0"/><circle cx="1730.3" cy="313.1" r="3.0"/><circle cx="1742.1" cy="329.9" r="3.0"/><circle cx="1706.7" cy="307.7" r="3.0"/><circle cx="1761.4" cy="362.4" r="3.0"/><circle cx="1803.8" cy="425.3" r="3.0"/><circle cx="1791" cy="415.9" r="3.0"/><circle cx="1772.9" cy="383.5" r="3.0"/><circle cx="1754.7" cy="361.4" r="3.0"/><circle cx="1708.7" cy="296.5" r="3.0"/><circle cx="1743.1" cy="327.9" r="3.0"/><circle cx="1786.2" cy="381.2" r="3.0"/><circle cx="1795.7" cy="424" r="3.0"/><circle cx="1801" cy="411" r="3.0"/><circle cx="1771.4" cy="376.2" r="3.0"/><circle cx="1759" cy="363.3" r="3.0"/><circle cx="1766.2" cy="370.7" r="3.0"/><circle cx="1733.9" cy="330.5" r="3.0"/><circle cx="1699.3" cy="302.5" r="3.0"/><circle cx="1800.2" cy="425" r="3.0"/><circle cx="1781.9" cy="367.7" r="3.0"/><circle cx="1801.6" cy="416.4" r="3.0"/><circle cx="1770.2" cy="370.6" r="3.0"/><circle cx="1751.9" cy="353.5" r="3.0"/><circle cx="1716.3" cy="322.2" r="3.0"/><circle cx="1716.3" cy="302.8" r="3.0"/><circle cx="1712.3" cy="307.5" r="3.0"/><circle cx="1800.9" cy="421.5" r="3.0"/><circle cx="1757.5" cy="364.1" r="3.0"/><circle cx="1702.8" cy="307.1" r="3.0"/><circle cx="1778.2" cy="381.2" r="3.0"/><circle cx="1777.8" cy="378" r="3.0"/><circle cx="1761.4" cy="382.2" r="3.0"/><circle cx="1787.3" cy="400.1" r="3.0"/><circle cx="1749.8" cy="343.5" r="3.0"/><circle cx="1802.2" cy="412.7" r="3.0"/><circle cx="1736.7" cy="333.6" r="3.0"/><circle cx="1707.4" cy="318.4" r="3.0"/><circle cx="1773.2" cy="370.7" r="3.0"/><circle cx="1796.2" cy="409.5" r="3.0"/><circle cx="1781.6" cy="381.2" r="3.0"/><circle cx="1724.3" cy="316" r="3.0"/><circle cx="1769.2" cy="358.1" r="3.0"/><circle cx="1787.9" cy="399.6" r="3.0"/><circle cx="1778.4" cy="375.7" r="3.0"/><circle cx="1793.8" cy="413.1" r="3.0"/><circle cx="1788.7" cy="384.9" r="3.0"/><circle cx="1711.3" cy="314.8" r="3.0"/><circle cx="1758.8" cy="372.1" r="3.0"/><circle cx="1787.2" cy="400.8" r="3.0"/><circle cx="1762.4" cy="382.3" r="3.0"/><circle cx="1719.2" cy="319.5" r="3.0"/><circle cx="1765.9" cy="382.9" r="3.0"/><circle cx="1738.6" cy="338" r="3.0"/><circle cx="1710.7" cy="293.8" r="3.0"/><circle cx="1749.3" cy="356.3" r="3.0"/><circle cx="1769.2" cy="355.4" r="3.0"/><circle cx="1746.7" cy="322.2" r="3.0"/><circle cx="1738.9" cy="358.1" r="3.0"/><circle cx="1768.1" cy="365.5" r="3.0"/><circle cx="1761.8" cy="367.5" r="3.0"/><circle cx="1760.7" cy="335.7" r="3.0"/><circle cx="1697.4" cy="309.5" r="3.0"/><circle cx="1739.4" cy="325.8" r="3.0"/><circle cx="1759" cy="365.3" r="3.0"/><circle cx="1794.6" cy="396.9" r="3.0"/><circle cx="1709.1" cy="311.8" r="3.0"/><circle cx="1800.4" cy="428" r="3.0"/><circle cx="1798" cy="421.8" r="3.0"/><circle cx="1753.2" cy="353.7" r="3.0"/><circle cx="1742.7" cy="328.2" r="3.0"/><circle cx="1796.1" cy="396.9" r="3.0"/><circle cx="1756.9" cy="362.6" r="3.0"/><circle cx="1710.2" cy="323.2" r="3.0"/><circle cx="1748.3" cy="359.8" r="3.0"/><circle cx="1735.8" cy="342.9" r="3.0"/><circle cx="1789.8" cy="395.2" r="3.0"/><circle cx="1704" cy="302.4" r="3.0"/><circle cx="1709.5" cy="319.8" r="3.0"/><circle cx="1712.4" cy="309.9" r="3.0"/><circle cx="1790.3" cy="411" r="3.0"/><circle cx="1784.7" cy="394.8" r="3.0"/><circle cx="1715.2" cy="299.6" r="3.0"/><circle cx="1763.9" cy="346" r="3.0"/><circle cx="1768.4" cy="395.5" r="3.0"/><circle cx="1713.8" cy="301.7" r="3.0"/><circle cx="1780.4" cy="410.9" r="3.0"/><circle cx="1705.7" cy="306.1" r="3.0"/><circle cx="1731.9" cy="330.3" r="3.0"/><circle cx="1801.4" cy="425.3" r="3.0"/><circle cx="1763.6" cy="357.6" r="3.0"/><circle cx="1715.3" cy="304.1" r="3.0"/><circle cx="1780.9" cy="390.8" r="3.0"/><circle cx="1750" cy="344.9" r="3.0"/><circle cx="1749.2" cy="350.2" r="3.0"/><circle cx="1805.3" cy="418.3" r="3.0"/><circle cx="1799.7" cy="417.3" r="3.0"/><circle cx="1757.1" cy="350.8" r="3.0"/><circle cx="1776.4" cy="372.6" r="3.0"/><circle cx="1783" cy="387.4" r="3.0"/><circle cx="1806.2" cy="417.3" r="3.0"/><circle cx="1762.5" cy="361.9" r="3.0"/><circle cx="1775.8" cy="390.3" r="3.0"/><circle cx="1766.7" cy="366.8" r="3.0"/><circle cx="1754.4" cy="356.1" r="3.0"/><circle cx="1715.9" cy="299.5" r="3.0"/><circle cx="1728.2" cy="332.1" r="3.0"/><circle cx="1778.8" cy="394.2" r="3.0"/><circle cx="1770.7" cy="384.1" r="3.0"/><circle cx="1818.2" cy="445.4" r="3.0"/><circle cx="1821.4" cy="464.1" r="3.0"/><circle cx="1814.7" cy="448.7" r="3.0"/><circle cx="1812.3" cy="435.6" r="3.0"/><circle cx="1803.1" cy="437.9" r="3.0"/><circle cx="1809.1" cy="431.6" r="3.0"/><circle cx="1829.9" cy="463.2" r="3.0"/><circle cx="1822.5" cy="469" r="3.0"/><circle cx="1829.8" cy="459.8" r="3.0"/><circle cx="1817.2" cy="460.4" r="3.0"/><circle cx="1808.5" cy="445" r="3.0"/><circle cx="1810.6" cy="436.7" r="3.0"/><circle cx="1819.2" cy="443.5" r="3.0"/><circle cx="1814.4" cy="447.8" r="3.0"/><circle cx="1819.7" cy="461.2" r="3.0"/></g>
<path d="M92.5 949.6H628.5" class="zl"/>
<path d="M524.8 677.7V1194" class="zl"/>
<path d="M92.5 677.7V1194H628.5" class="ax"/>
<path d="M88.9 689.1h3.6M88.9 819.2h3.6M88.9 949.6h3.6M88.9 1079.7h3.6M104.5 1194v3.6M244.6 1194v3.6M384.7 1194v3.6M524.8 1194v3.6" class="tk"/>
<text x="87.1" y="696" class="yl">6</text>
<text x="87.1" y="826.1" class="yl">3</text>
<text x="87.1" y="956.5" class="yl">0</text>
<text x="87.1" y="1086.6" class="yl">-3</text>
<text x="104.5" y="1213.8" class="xl">-15</text>
<text x="244.6" y="1213.8" class="xl">-10</text>
<text x="384.7" y="1213.8" class="xl">-5</text>
<text x="524.8" y="1213.8" class="xl">0</text>
<text x="167.4" y="663" class="ti">Astrocyte-qNSC</text>
<g filter="url(#b1)"><path d="M116 700.4H142" stroke="#f1f1f1" stroke-width="5"/></g>
<g filter="url(#b2)">
<path d="M261.1 796.5L265.9 800.3L270.7 804" stroke="#f9f9f9" stroke-width="20"/>
<path d="M270.7 804L275.6 807.7L280.4 811.3" stroke="#f4f4f4" stroke-width="20"/>
<path d="M280.4 811.3L285.2 815L290.1 818.7L294.9 822.4" stroke="#eeeeee" stroke-width="20"/>
<path d="M294.9 822.4L299.7 826.1L304.6 829.7L309.4 833.4L314.2 837.1L319.1 840.7L323.9 844.4L328.8 848.1L333.6 851.7L338.5 855.4L343.3 859.1L348.1 862.8L352.9 866.5L357.8 870.2L362.6 873.9L367.4 877.6L372.2 881.3L377 885.1L381.7 888.8L386.5 892.6L391.2 896.4L396 900.2L400.7 904L405.4 907.9L410.1 911.7" stroke="#e8e8e8" stroke-width="20"/>
<path d="M410.1 911.7L414.7 915.6L419.4 919.6L424 923.5" stroke="#eeeeee" stroke-width="20"/>
<path d="M424 923.5L428.6 927.4L433.2 931.4L437.8 935.4" stroke="#f4f4f4" stroke-width="20"/>
<path d="M437.8 935.4L442.3 939.5L446.8 943.5" stroke="#f9f9f9" stroke-width="20"/>
</g>
<g filter="url(#b1)">
<path d="M207.8 763.1L212.5 766.9" stroke="#f9f9f9" stroke-width="12.5"/>
<path d="M212.5 766.9L217.2 770.7" stroke="#f4f4f4" stroke-width="15"/>
<path d="M217.2 770.7L221.9 774.5" stroke="#f4f4f4" stroke-width="16.5"/>
<path d="M221.9 774.5L226.6 778.2" stroke="#f4f4f4" stroke-width="17.5"/>
<path d="M226.6 778.2L231.4 782" stroke="#f4f4f4" stroke-width="18"/>
<path d="M231.4 782L236.1 785.7L240.9 789.5" stroke="#f4f4f4" stroke-width="19"/>
<path d="M240.9 789.5L245.6 793.2L250.4 796.9" stroke="#f4f4f4" stroke-width="19.5"/>
<path d="M250.4 796.9L255.2 800.6L259.9 804.3" stroke="#eeeeee" stroke-width="19.5"/>
<path d="M259.9 804.3L264.7 808L269.5 811.7L274.3 815.4" stroke="#eeeeee" stroke-width="19"/>
<path d="M274.3 815.4L279.1 819L283.9 822.7" stroke="#eeeeee" stroke-width="18.5"/>
<path d="M283.9 822.7L288.7 826.3L293.5 830" stroke="#eeeeee" stroke-width="18"/>
<path d="M293.5 830L298.3 833.7L303.1 837.3L308 841" stroke="#eeeeee" stroke-width="17.5"/>
<path d="M308 841L312.8 844.6L317.6 848.3" stroke="#eeeeee" stroke-width="17"/>
<path d="M317.6 848.3L322.4 851.9L327.2 855.5L332 859.2" stroke="#e8e8e8" stroke-width="17"/>
<path d="M332 859.2L336.8 862.9L341.7 866.5L346.5 870.2L351.2 873.9L356 877.5L360.8 881.2L365.6 884.9L370.4 888.7L375.1 892.4L379.9 896.1L384.6 899.9L389.3 903.7L394 907.4" stroke="#e8e8e8" stroke-width="16.5"/>
<path d="M394 907.4L398.7 911.3L403.4 915.1L408 918.9L412.6 922.8" stroke="#e8e8e8" stroke-width="17"/>
<path d="M412.6 922.8L417.3 926.7" stroke="#e2e2e2" stroke-width="17"/>
<path d="M417.3 926.7L421.8 930.7L426.4 934.6L430.9 938.6" stroke="#e2e2e2" stroke-width="17.5"/>
<path d="M430.9 938.6L435.5 942.6L439.9 946.7L444.4 950.7L448.8 954.9L453.2 959L457.6 963.2L461.9 967.4L466.2 971.7L470.4 976L474.6 980.3L478.8 984.7L482.9 989.1" stroke="#e2e2e2" stroke-width="18"/>
<path d="M482.9 989.1L487 993.5L491.1 998L495.1 1002.5L499 1007.1" stroke="#e8e8e8" stroke-width="18"/>
<path d="M499 1007.1L502.9 1011.7L506.8 1016.3L510.6 1021" stroke="#e8e8e8" stroke-width="17.5"/>
<path d="M510.6 1021L514.3 1025.8" stroke="#e8e8e8" stroke-width="17"/>
<path d="M514.3 1025.8L518 1030.5" stroke="#eeeeee" stroke-width="17"/>
<path d="M518 1030.5L521.7 1035.4L525.3 1040.2L528.8 1045.1" stroke="#eeeeee" stroke-width="16.5"/>
<path d="M528.8 1045.1L532.3 1050" stroke="#eeeeee" stroke-width="16"/>
<path d="M532.3 1050L535.7 1055" stroke="#f4f4f4" stroke-width="16"/>
<path d="M535.7 1055L539.1 1060L542.4 1065.1L545.6 1070.2" stroke="#f4f4f4" stroke-width="15.5"/>
<path d="M545.6 1070.2L548.8 1075.3" stroke="#f4f4f4" stroke-width="15"/>
<path d="M548.8 1075.3L551.9 1080.5" stroke="#f9f9f9" stroke-width="15"/>
<path d="M551.9 1080.5L555 1085.7L558 1090.9" stroke="#f9f9f9" stroke-width="14.5"/>
<path d="M558 1090.9L561 1096.2L563.9 1101.5" stroke="#f9f9f9" stroke-width="14"/>
<path d="M563.9 1101.5L566.7 1106.8L569.5 1112.1" stroke="#f9f9f9" stroke-width="13.5"/>
<path d="M569.5 1112.1L572.3 1117.5L575 1122.9" stroke="#f9f9f9" stroke-width="13"/>
<path d="M207.8 763.1L212.5 766.9" stroke="#e2e2e2" stroke-width="8.5"/>
<path d="M212.5 766.9L217.2 770.7" stroke="#dddddd" stroke-width="10.5"/>
<path d="M217.2 770.7L221.9 774.5" stroke="#dddddd" stroke-width="11.5"/>
<path d="M221.9 774.5L226.6 778.2" stroke="#d7d7d7" stroke-width="12.5"/>
<path d="M226.6 778.2L231.4 782" stroke="#d7d7d7" stroke-width="13"/>
<path d="M231.4 782L236.1 785.7L240.9 789.5" stroke="#d1d1d1" stroke-width="13.5"/>
<path d="M240.9 789.5L245.6 793.2" stroke="#cbcbcb" stroke-width="13.5"/>
<path d="M245.6 793.2L250.4 796.9" stroke="#cbcbcb" stroke-width="14"/>
<path d="M250.4 796.9L255.2 800.6" stroke="#c6c6c6" stroke-width="14"/>
<path d="M255.2 800.6L259.9 804.3L264.7 808" stroke="#c6c6c6" stroke-width="13.5"/>
<path d="M264.7 808L269.5 811.7L274.3 815.4" stroke="#c0c0c0" stroke-width="13.5"/>
<path d="M274.3 815.4L279.1 819" stroke="#c0c0c0" stroke-width="13"/>
<path d="M279.1 819L283.9 822.7L288.7 826.3" stroke="#bababa" stroke-width="13"/>
<path d="M288.7 826.3L293.5 830L298.3 833.7" stroke="#bababa" stroke-width="12.5"/>
<path d="M298.3 833.7L303.1 837.3L308 841" stroke="#b5b5b5" stroke-width="12.5"/>
<path d="M308 841L312.8 844.6L317.6 848.3L322.4 851.9L327.2 855.5L332 859.2L336.8 862.9" stroke="#b5b5b5" stroke-width="12"/>
<path d="M336.8 862.9L341.7 866.5L346.5 870.2L351.2 873.9L356 877.5L360.8 881.2L365.6 884.9L370.4 888.7L375.1 892.4L379.9 896.1" stroke="#afafaf" stroke-width="12"/>
<path d="M379.9 896.1L384.6 899.9L389.3 903.7L394 907.4" stroke="#a9a9a9" stroke-width="12"/>
<path d="M394 907.4L398.7 911.3L403.4 915.1L408 918.9" stroke="#a3a3a3" stroke-width="12"/>
<path d="M408 918.9L412.6 922.8L417.3 926.7" stroke="#9e9e9e" stroke-width="12"/>
<path d="M417.3 926.7L421.8 930.7L426.4 934.6" stroke="#9e9e9e" stroke-width="12.5"/>
<path d="M426.4 934.6L430.9 938.6L435.5 942.6" stroke="#989898" stroke-width="12.5"/>
<path d="M435.5 942.6L439.9 946.7L444.4 950.7L448.8 954.9L453.2 959L457.6 963.2L461.9 967.4L466.2 971.7" stroke="#989898" stroke-width="13"/>
<path d="M466.2 971.7L470.4 976L474.6 980.3L478.8 984.7L482.9 989.1L487 993.5" stroke="#9e9e9e" stroke-width="13"/>
<path d="M487 993.5L491.1 998L495.1 1002.5" stroke="#a3a3a3" stroke-width="13"/>
<path d="M495.1 1002.5L499 1007.1" stroke="#a3a3a3" stroke-width="12.5"/>
<path d="M499 1007.1L502.9 1011.7L506.8 1016.3" stroke="#a9a9a9" stroke-width="12.5"/>
<path d="M506.8 1016.3L510.6 1021" stroke="#afafaf" stroke-width="12.5"/>
<path d="M510.6 1021L514.3 1025.8" stroke="#afafaf" stroke-width="12"/>
<path d="M514.3 1025.8L518 1030.5" stroke="#b5b5b5" stroke-width="12"/>
<path d="M518 1030.5L521.7 1035.4" stroke="#bababa" stroke-width="12"/>
<path d="M521.7 1035.4L525.3 1040.2L528.8 1045.1" stroke="#c0c0c0" stroke-width="11.5"/>
<path d="M528.8 1045.1L532.3 1050" stroke="#c6c6c6" stroke-width="11.5"/>
<path d="M532.3 1050L535.7 1055" stroke="#cbcbcb" stroke-width="11.5"/>
<path d="M535.7 1055L539.1 1060" stroke="#d1d1d1" stroke-width="11"/>
<path d="M539.1 1060L542.4 1065.1L545.6 1070.2" stroke="#d7d7d7" stroke-width="11"/>
<path d="M545.6 1070.2L548.8 1075.3" stroke="#dddddd" stroke-width="10.5"/>
<path d="M548.8 1075.3L551.9 1080.5L555 1085.7" stroke="#e2e2e2" stroke-width="10.5"/>
<path d="M555 1085.7L558 1090.9" stroke="#e8e8e8" stroke-width="10.5"/>
<path d="M558 1090.9L561 1096.2" stroke="#e8e8e8" stroke-width="10"/>
<path d="M561 1096.2L563.9 1101.5" stroke="#eeeeee" stroke-width="10"/>
<path d="M563.9 1101.5L566.7 1106.8L569.5 1112.1" stroke="#eeeeee" stroke-width="9.5"/>
<path d="M569.5 1112.1L572.3 1117.5" stroke="#f4f4f4" stroke-width="9.5"/>
<path d="M572.3 1117.5L575 1122.9L577.7 1128.3" stroke="#f4f4f4" stroke-width="9"/>
<path d="M577.7 1128.3L580.3 1133.8L582.8 1139.3" stroke="#f9f9f9" stroke-width="9"/>
<path d="M207.8 763.1L212.5 766.9" stroke="#c0c0c0" stroke-width="6.5"/>
<path d="M212.5 766.9L217.2 770.7" stroke="#b5b5b5" stroke-width="8"/>
<path d="M217.2 770.7L221.9 774.5" stroke="#afafaf" stroke-width="8.5"/>
<path d="M221.9 774.5L226.6 778.2" stroke="#a9a9a9" stroke-width="9"/>
<path d="M226.6 778.2L231.4 782" stroke="#a3a3a3" stroke-width="9.5"/>
<path d="M231.4 782L236.1 785.7" stroke="#9e9e9e" stroke-width="10"/>
<path d="M236.1 785.7L240.9 789.5" stroke="#989898" stroke-width="10"/>
<path d="M240.9 789.5L245.6 793.2" stroke="#929292" stroke-width="10"/>
<path d="M245.6 793.2L250.4 796.9" stroke="#8c8c8c" stroke-width="10"/>
<path d="M250.4 796.9L255.2 800.6" stroke="#878787" stroke-width="10"/>
<path d="M255.2 800.6L259.9 804.3" stroke="#818181" stroke-width="10"/>
<path d="M259.9 804.3L264.7 808" stroke="#7b7b7b" stroke-width="10"/>
<path d="M264.7 808L269.5 811.7" stroke="#767676" stroke-width="10"/>
<path d="M269.5 811.7L274.3 815.4" stroke="#707070" stroke-width="10"/>
<path d="M274.3 815.4L279.1 819" stroke="#6a6a6a" stroke-width="10"/>
<path d="M279.1 819L283.9 822.7" stroke="#6a6a6a" stroke-width="9.5"/>
<path d="M283.9 822.7L288.7 826.3L293.5 830" stroke="#646464" stroke-width="9.5"/>
<path d="M293.5 830L298.3 833.7" stroke="#5f5f5f" stroke-width="9.5"/>
<path d="M298.3 833.7L303.1 837.3L308 841" stroke="#5f5f5f" stroke-width="9"/>
<path d="M308 841L312.8 844.6L317.6 848.3L322.4 851.9" stroke="#595959" stroke-width="9"/>
<path d="M322.4 851.9L327.2 855.5L332 859.2L336.8 862.9L341.7 866.5L346.5 870.2" stroke="#535353" stroke-width="9"/>
<path d="M346.5 870.2L351.2 873.9L356 877.5L360.8 881.2L365.6 884.9L370.4 888.7" stroke="#4e4e4e" stroke-width="9"/>
<path d="M370.4 888.7L375.1 892.4L379.9 896.1" stroke="#484848" stroke-width="9"/>
<path d="M379.9 896.1L384.6 899.9L389.3 903.7" stroke="#424242" stroke-width="9"/>
<path d="M389.3 903.7L394 907.4" stroke="#3c3c3c" stroke-width="9"/>
<path d="M394 907.4L398.7 911.3L403.4 915.1" stroke="#373737" stroke-width="9"/>
<path d="M403.4 915.1L408 918.9" stroke="#313131" stroke-width="9"/>
<path d="M408 918.9L412.6 922.8" stroke="#2b2b2b" stroke-width="9"/>
<path d="M412.6 922.8L417.3 926.7L421.8 930.7" stroke="#252525" stroke-width="9"/>
<path d="M421.8 930.7L426.4 934.6" stroke="#202020" stroke-width="9"/>
<path d="M426.4 934.6L430.9 938.6L435.5 942.6" stroke="#202020" stroke-width="9.5"/>
<path d="M435.5 942.6L439.9 946.7L444.4 950.7L448.8 954.9L453.2 959" stroke="#1a1a1a" stroke-width="9.5"/>
<path d="M453.2 959L457.6 963.2L461.9 967.4L466.2 971.7L470.4 976" stroke="#202020" stroke-width="9.5"/>
<path d="M470.4 976L474.6 980.3L478.8 984.7L482.9 989.1" stroke="#252525" stroke-width="9.5"/>
<path d="M482.9 989.1L487 993.5" stroke="#2b2b2b" stroke-width="9.5"/>
<path d="M487 993.5L491.1 998L495.1 1002.5" stroke="#313131" stroke-width="9.5"/>
<path d="M495.1 1002.5L499 1007.1" stroke="#373737" stroke-width="9.5"/>
<path d="M499 1007.1L502.9 1011.7" stroke="#3c3c3c" stroke-width="9.5"/>
<path d="M502.9 1011.7L506.8 1016.3" stroke="#424242" stroke-width="9"/>
<path d="M506.8 1016.3L510.6 1021" stroke="#484848" stroke-width="9"/>
<path d="M510.6 1021L514.3 1025.8" stroke="#4e4e4e" stroke-width="9"/>
<path d="M514.3 1025.8L518 1030.5" stroke="#595959" stroke-width="9"/>
<path d="M518 1030.5L521.7 1035.4" stroke="#646464" stroke-width="9"/>
<path d="M521.7 1035.4L525.3 1040.2" stroke="#707070" stroke-width="8.5"/>
<path d="M525.3 1040.2L528.8 1045.1" stroke="#7b7b7b" stroke-width="8.5"/>
<path d="M528.8 1045.1L532.3 1050" stroke="#818181" stroke-width="8.5"/>
<path d="M532.3 1050L535.7 1055" stroke="#8c8c8c" stroke-width="8.5"/>
<path d="M535.7 1055L539.1 1060" stroke="#989898" stroke-width="8"/>
<path d="M539.1 1060L542.4 1065.1" stroke="#a3a3a3" stroke-width="8"/>
<path d="M542.4 1065.1L545.6 1070.2" stroke="#a9a9a9" stroke-width="8"/>
<path d="M545.6 1070.2L548.8 1075.3" stroke="#b5b5b5" stroke-width="8"/>
<path d="M548.8 1075.3L551.9 1080.5" stroke="#bababa" stroke-width="8"/>
<path d="M551.9 1080.5L555 1085.7" stroke="#c0c0c0" stroke-width="7.5"/>
<path d="M555 1085.7L558 1090.9" stroke="#cbcbcb" stroke-width="7.5"/>
<path d="M558 1090.9L561 1096.2" stroke="#d1d1d1" stroke-width="7.5"/>
<path d="M561 1096.2L563.9 1101.5" stroke="#d7d7d7" stroke-width="7.5"/>
<path d="M563.9 1101.5L566.7 1106.8L569.5 1112.1" stroke="#dddddd" stroke-width="7"/>
<path d="M569.5 1112.1L572.3 1117.5" stroke="#e2e2e2" stroke-width="7"/>
<path d="M572.3 1117.5L575 1122.9" stroke="#e8e8e8" stroke-width="7"/>
<path d="M575 1122.9L577.7 1128.3" stroke="#e8e8e8" stroke-width="6.5"/>
<path d="M577.7 1128.3L580.3 1133.8L582.8 1139.3" stroke="#eeeeee" stroke-width="6.5"/>
</g>
<circle cx="159.4" cy="722.4" r="3" fill="#d1d1d1"/><circle cx="166" cy="722.4" r="3" fill="#d1d1d1"/><circle cx="178" cy="735" r="3" fill="#989898"/><circle cx="183" cy="735" r="3" fill="#a3a3a3"/><circle cx="190" cy="743.4" r="3" fill="#989898"/><circle cx="195" cy="743.4" r="3" fill="#a3a3a3"/><circle cx="199.7" cy="751.1" r="3" fill="#818181"/><circle cx="203" cy="751.1" r="3" fill="#8c8c8c"/>
<g class="rd"><circle cx="408.9" cy="842.5" r="3.0"/><circle cx="443.5" cy="894.1" r="3.0"/><circle cx="417" cy="902.2" r="3.0"/><circle cx="436" cy="907.7" r="3.0"/><circle cx="447.3" cy="915.1" r="3.0"/><circle cx="464.4" cy="915.1" r="3.0"/><circle cx="438.6" cy="921.5" r="3.0"/><circle cx="437" cy="924.1" r="3.0"/><circle cx="447.3" cy="935.1" r="3.0"/><circle cx="467.7" cy="939.9" r="3.0"/><circle cx="459.6" cy="944.8" r="3.0"/><circle cx="440.2" cy="939.9" r="3.0"/><circle cx="486.4" cy="949.6" r="3.0"/><circle cx="522.5" cy="957.7" r="3.0"/><circle cx="472.5" cy="957" r="3.0"/><circle cx="474.1" cy="958.7" r="3.0"/><circle cx="493.5" cy="960.3" r="3.0"/><circle cx="506.4" cy="962.5" r="3.0"/><circle cx="514.5" cy="966.7" r="3.0"/><circle cx="482.2" cy="961.3" r="3.0"/><circle cx="485.4" cy="966.7" r="3.0"/><circle cx="510.6" cy="985.1" r="3.0"/><circle cx="520.3" cy="992.6" r="3.0"/><circle cx="517.7" cy="1002.3" r="3.0"/><circle cx="525.8" cy="1011.9" r="3.0"/><circle cx="533.8" cy="1016.1" r="3.0"/><circle cx="540.3" cy="1037.8" r="3.0"/><circle cx="543.5" cy="1040.3" r="3.0"/><circle cx="550" cy="1050.7" r="3.0"/><circle cx="578.4" cy="1063.6" r="3.0"/><circle cx="551.6" cy="1076.5" r="3.0"/><circle cx="553.2" cy="1086.2" r="3.0"/><circle cx="556.4" cy="1087.8" r="3.0"/><circle cx="564.5" cy="1089.4" r="3.0"/><circle cx="554.8" cy="1094.2" r="3.0"/><circle cx="558" cy="1100.7" r="3.0"/><circle cx="570" cy="1119.4" r="3.0"/><circle cx="585.5" cy="1135.6" r="3.0"/><circle cx="582.3" cy="1141" r="3.0"/><circle cx="461.5" cy="970.6" r="3.0"/><circle cx="492.6" cy="995.5" r="3.0"/><circle cx="524.7" cy="1033.8" r="3.0"/><circle cx="472.3" cy="967.7" r="3.0"/><circle cx="502" cy="1008.2" r="3.0"/><circle cx="470.9" cy="980.7" r="3.0"/><circle cx="500.2" cy="996.6" r="3.0"/><circle cx="464.4" cy="962.7" r="3.0"/><circle cx="507.2" cy="1026.4" r="3.0"/><circle cx="468" cy="965.4" r="3.0"/><circle cx="512.4" cy="1016.3" r="3.0"/><circle cx="479.2" cy="987.2" r="3.0"/><circle cx="530.3" cy="1041.1" r="3.0"/><circle cx="466.9" cy="960.4" r="3.0"/><circle cx="476.1" cy="976.8" r="3.0"/><circle cx="529.4" cy="1039.3" r="3.0"/><circle cx="511.1" cy="1022.5" r="3.0"/><circle cx="466.4" cy="964.3" r="3.0"/><circle cx="528.4" cy="1028.7" r="3.0"/><circle cx="495.7" cy="996.1" r="3.0"/><circle cx="520.5" cy="1019.9" r="3.0"/><circle cx="531.4" cy="1034.8" r="3.0"/><circle cx="486" cy="978.2" r="3.0"/><circle cx="464.8" cy="967.3" r="3.0"/><circle cx="444.5" cy="951.6" r="3.0"/><circle cx="493.1" cy="996.9" r="3.0"/><circle cx="485.5" cy="980.5" r="3.0"/><circle cx="483.2" cy="984.5" r="3.0"/><circle cx="495.7" cy="1005" r="3.0"/><circle cx="475.6" cy="974.8" r="3.0"/><circle cx="508.9" cy="1017.6" r="3.0"/><circle cx="503.3" cy="1003.5" r="3.0"/><circle cx="455.6" cy="952.9" r="3.0"/><circle cx="495.2" cy="995.1" r="3.0"/><circle cx="455.6" cy="957.9" r="3.0"/><circle cx="542.8" cy="1049.3" r="3.0"/><circle cx="467.6" cy="966.8" r="3.0"/><circle cx="489.4" cy="988.2" r="3.0"/><circle cx="483" cy="976.5" r="3.0"/><circle cx="515.6" cy="1008.9" r="3.0"/><circle cx="538" cy="1054.4" r="3.0"/><circle cx="507.8" cy="1005.1" r="3.0"/><circle cx="463" cy="952.8" r="3.0"/><circle cx="452.1" cy="966.4" r="3.0"/><circle cx="458.4" cy="955.3" r="3.0"/><circle cx="506.9" cy="1002.9" r="3.0"/><circle cx="550.7" cy="1056.2" r="3.0"/><circle cx="538.3" cy="1048.5" r="3.0"/><circle cx="497.3" cy="997.6" r="3.0"/><circle cx="489.6" cy="991" r="3.0"/><circle cx="514.3" cy="1008.3" r="3.0"/><circle cx="510.2" cy="1009.1" r="3.0"/><circle cx="499.8" cy="989" r="3.0"/><circle cx="479.5" cy="992" r="3.0"/><circle cx="528.7" cy="1028" r="3.0"/><circle cx="514.8" cy="1019" r="3.0"/><circle cx="525.5" cy="1020.2" r="3.0"/><circle cx="493.9" cy="989.5" r="3.0"/><circle cx="467.5" cy="969.5" r="3.0"/><circle cx="467.3" cy="955.8" r="3.0"/><circle cx="542.8" cy="1054" r="3.0"/><circle cx="493.7" cy="1003.2" r="3.0"/><circle cx="488.5" cy="989.2" r="3.0"/><circle cx="514.4" cy="1015.4" r="3.0"/><circle cx="463.1" cy="970.2" r="3.0"/><circle cx="526.1" cy="1045.7" r="3.0"/><circle cx="459.5" cy="955.8" r="3.0"/><circle cx="500.5" cy="993.7" r="3.0"/><circle cx="459.3" cy="953.9" r="3.0"/><circle cx="494.5" cy="1007.6" r="3.0"/><circle cx="490" cy="971.2" r="3.0"/><circle cx="477.2" cy="965.3" r="3.0"/><circle cx="503.9" cy="1003.5" r="3.0"/><circle cx="472.8" cy="987.1" r="3.0"/><circle cx="537.8" cy="1054.9" r="3.0"/><circle cx="467.1" cy="969.2" r="3.0"/><circle cx="497.4" cy="996.8" r="3.0"/><circle cx="486.9" cy="990.1" r="3.0"/><circle cx="529.2" cy="1025.9" r="3.0"/><circle cx="462.9" cy="958.1" r="3.0"/><circle cx="494.8" cy="985.1" r="3.0"/><circle cx="541.6" cy="1065.7" r="3.0"/><circle cx="466.9" cy="977.3" r="3.0"/><circle cx="465.1" cy="963.1" r="3.0"/><circle cx="488.7" cy="986.4" r="3.0"/><circle cx="513.7" cy="1019.2" r="3.0"/><circle cx="514.4" cy="1012.8" r="3.0"/><circle cx="529.7" cy="1041.3" r="3.0"/><circle cx="513.3" cy="1010.5" r="3.0"/><circle cx="513.7" cy="1019.5" r="3.0"/><circle cx="503.5" cy="1021.6" r="3.0"/><circle cx="519.5" cy="1032.6" r="3.0"/><circle cx="457.3" cy="963.4" r="3.0"/><circle cx="520" cy="1036.1" r="3.0"/><circle cx="537.4" cy="1051.8" r="3.0"/><circle cx="481.6" cy="995.5" r="3.0"/><circle cx="470" cy="969.9" r="3.0"/><circle cx="516.4" cy="1021.6" r="3.0"/><circle cx="451.8" cy="948.2" r="3.0"/><circle cx="494.9" cy="999.1" r="3.0"/><circle cx="474.4" cy="971.4" r="3.0"/><circle cx="519.3" cy="1026.7" r="3.0"/><circle cx="528.1" cy="1045.1" r="3.0"/><circle cx="528.1" cy="1033.7" r="3.0"/><circle cx="501.3" cy="988.7" r="3.0"/><circle cx="501.2" cy="1005.5" r="3.0"/><circle cx="526.9" cy="1014.6" r="3.0"/><circle cx="500.4" cy="997.9" r="3.0"/><circle cx="459.7" cy="959.5" r="3.0"/><circle cx="482.7" cy="980.5" r="3.0"/><circle cx="515.1" cy="1019" r="3.0"/><circle cx="458" cy="965.5" r="3.0"/><circle cx="545.5" cy="1055.2" r="3.0"/><circle cx="518.8" cy="1027.1" r="3.0"/><circle cx="508.4" cy="1018.3" r="3.0"/><circle cx="494.4" cy="1001.9" r="3.0"/><circle cx="504.8" cy="998.3" r="3.0"/><circle cx="527.7" cy="1042.3" r="3.0"/><circle cx="454.5" cy="950.3" r="3.0"/><circle cx="543.6" cy="1068.4" r="3.0"/><circle cx="517.4" cy="1017.5" r="3.0"/><circle cx="506.9" cy="1009.8" r="3.0"/><circle cx="451.6" cy="950.2" r="3.0"/><circle cx="486.5" cy="987.8" r="3.0"/><circle cx="455.6" cy="960" r="3.0"/><circle cx="545" cy="1071.9" r="3.0"/><circle cx="451.6" cy="952.5" r="3.0"/><circle cx="480.9" cy="984" r="3.0"/><circle cx="473.3" cy="969.9" r="3.0"/><circle cx="528.8" cy="1034.4" r="3.0"/><circle cx="492" cy="994.9" r="3.0"/><circle cx="482" cy="983.2" r="3.0"/><circle cx="480.4" cy="992.4" r="3.0"/><circle cx="529.3" cy="1039.5" r="3.0"/><circle cx="514.6" cy="1022.2" r="3.0"/><circle cx="497.8" cy="1008.3" r="3.0"/><circle cx="494.6" cy="1004.7" r="3.0"/><circle cx="534" cy="1050.4" r="3.0"/><circle cx="444.6" cy="959.8" r="3.0"/><circle cx="480.4" cy="972.1" r="3.0"/><circle cx="512.2" cy="1019.3" r="3.0"/><circle cx="473.5" cy="968.3" r="3.0"/><circle cx="511.8" cy="1021.8" r="3.0"/><circle cx="514.2" cy="1008.5" r="3.0"/><circle cx="539.7" cy="1032.6" r="3.0"/><circle cx="489.6" cy="996" r="3.0"/><circle cx="545.7" cy="1067.5" r="3.0"/><circle cx="504.8" cy="1012.6" r="3.0"/><circle cx="497.7" cy="1004.2" r="3.0"/><circle cx="464.4" cy="970.3" r="3.0"/><circle cx="457.8" cy="958.2" r="3.0"/><circle cx="473.8" cy="969.4" r="3.0"/><circle cx="502.7" cy="1005.6" r="3.0"/><circle cx="499.3" cy="995.6" r="3.0"/><circle cx="514.2" cy="1019.5" r="3.0"/><circle cx="491.6" cy="997.6" r="3.0"/><circle cx="481.8" cy="970.8" r="3.0"/><circle cx="531.6" cy="1056" r="3.0"/><circle cx="503.3" cy="1004.3" r="3.0"/><circle cx="466.7" cy="971.7" r="3.0"/><circle cx="511.1" cy="1031" r="3.0"/><circle cx="488.1" cy="998" r="3.0"/><circle cx="545.7" cy="1067.3" r="3.0"/><circle cx="489.3" cy="1000" r="3.0"/><circle cx="480.2" cy="980.8" r="3.0"/><circle cx="541.4" cy="1053.7" r="3.0"/><circle cx="456" cy="954.4" r="3.0"/><circle cx="452.6" cy="954.6" r="3.0"/><circle cx="471.6" cy="984.5" r="3.0"/><circle cx="472.3" cy="973.8" r="3.0"/><circle cx="527.6" cy="1041.9" r="3.0"/><circle cx="526.7" cy="1040.1" r="3.0"/><circle cx="447" cy="957.5" r="3.0"/><circle cx="464.6" cy="964.5" r="3.0"/><circle cx="548.8" cy="1063.4" r="3.0"/><circle cx="513.4" cy="1016.1" r="3.0"/><circle cx="533.3" cy="1044.8" r="3.0"/><circle cx="510.4" cy="1011.2" r="3.0"/><circle cx="535.4" cy="1041.9" r="3.0"/><circle cx="461" cy="956.6" r="3.0"/><circle cx="444.5" cy="955.4" r="3.0"/><circle cx="526.9" cy="1042.3" r="3.0"/><circle cx="486.5" cy="979.1" r="3.0"/><circle cx="469" cy="972.5" r="3.0"/><circle cx="550.5" cy="1057.5" r="3.0"/><circle cx="456.9" cy="960" r="3.0"/><circle cx="493" cy="993.7" r="3.0"/><circle cx="531.4" cy="1033.3" r="3.0"/><circle cx="494" cy="1002.1" r="3.0"/><circle cx="464.5" cy="959.6" r="3.0"/><circle cx="512.5" cy="1025.3" r="3.0"/><circle cx="549.1" cy="1052.4" r="3.0"/><circle cx="539.7" cy="1052.8" r="3.0"/><circle cx="545.9" cy="1071.6" r="3.0"/><circle cx="450.9" cy="962.1" r="3.0"/><circle cx="474.2" cy="973.9" r="3.0"/><circle cx="527.9" cy="1017.1" r="3.0"/><circle cx="488" cy="991.4" r="3.0"/><circle cx="465.3" cy="977" r="3.0"/><circle cx="547.8" cy="1053.6" r="3.0"/><circle cx="530.8" cy="1040.9" r="3.0"/><circle cx="466.2" cy="965.9" r="3.0"/><circle cx="495.7" cy="997.8" r="3.0"/><circle cx="456.4" cy="947.7" r="3.0"/><circle cx="483.2" cy="997.1" r="3.0"/><circle cx="502.5" cy="1008.7" r="3.0"/><circle cx="526.1" cy="1015.8" r="3.0"/><circle cx="485.2" cy="984.7" r="3.0"/><circle cx="536.8" cy="1046.7" r="3.0"/><circle cx="491.6" cy="988.4" r="3.0"/><circle cx="483.6" cy="989.7" r="3.0"/><circle cx="523.6" cy="1038.8" r="3.0"/><circle cx="459.2" cy="962.4" r="3.0"/><circle cx="448.9" cy="949.6" r="3.0"/><circle cx="526.8" cy="1038.6" r="3.0"/><circle cx="441.2" cy="955" r="3.0"/><circle cx="516.5" cy="1018.3" r="3.0"/><circle cx="517.8" cy="1035.4" r="3.0"/><circle cx="550.1" cy="1063.3" r="3.0"/><circle cx="532.1" cy="1055.5" r="3.0"/><circle cx="543.9" cy="1057.7" r="3.0"/><circle cx="502.2" cy="1010.9" r="3.0"/><circle cx="540.2" cy="1051.5" r="3.0"/><circle cx="498.8" cy="1001.4" r="3.0"/><circle cx="538" cy="1043.8" r="3.0"/><circle cx="455.7" cy="972.9" r="3.0"/><circle cx="505.6" cy="999.4" r="3.0"/><circle cx="460" cy="969.9" r="3.0"/><circle cx="503.1" cy="1007.1" r="3.0"/><circle cx="481.6" cy="990.6" r="3.0"/><circle cx="533.9" cy="1047.9" r="3.0"/><circle cx="481.5" cy="975.9" r="3.0"/><circle cx="467.5" cy="976.6" r="3.0"/><circle cx="536.5" cy="1035.2" r="3.0"/><circle cx="526.5" cy="1039.3" r="3.0"/><circle cx="528.5" cy="1044" r="3.0"/><circle cx="487.4" cy="992.2" r="3.0"/><circle cx="536.8" cy="1056.3" r="3.0"/><circle cx="530.6" cy="1033.5" r="3.0"/><circle cx="466.3" cy="954.3" r="3.0"/><circle cx="492" cy="985.1" r="3.0"/><circle cx="498.8" cy="1008.2" r="3.0"/><circle cx="490.9" cy="986.1" r="3.0"/><circle cx="519.4" cy="1033.3" r="3.0"/><circle cx="470.9" cy="975.4" r="3.0"/><circle cx="494.8" cy="998.6" r="3.0"/><circle cx="517.4" cy="1018.6" r="3.0"/><circle cx="546.8" cy="1070.1" r="3.0"/><circle cx="496.6" cy="1007.2" r="3.0"/><circle cx="474" cy="971.9" r="3.0"/><circle cx="506.2" cy="1000.9" r="3.0"/><circle cx="488.2" cy="984.4" r="3.0"/><circle cx="547.3" cy="1064.4" r="3.0"/><circle cx="456.4" cy="950.6" r="3.0"/><circle cx="501.5" cy="1008.7" r="3.0"/><circle cx="483.7" cy="989.9" r="3.0"/><circle cx="465.1" cy="966.2" r="3.0"/><circle cx="483.9" cy="978.9" r="3.0"/><circle cx="481.8" cy="981.4" r="3.0"/><circle cx="498.3" cy="994.8" r="3.0"/><circle cx="558.5" cy="1091.6" r="3.0"/><circle cx="551.9" cy="1072.8" r="3.0"/><circle cx="550.2" cy="1073.1" r="3.0"/><circle cx="557.4" cy="1080.3" r="3.0"/><circle cx="551.2" cy="1069.5" r="3.0"/><circle cx="558.6" cy="1090.7" r="3.0"/><circle cx="547.9" cy="1071.3" r="3.0"/><circle cx="552.2" cy="1080.7" r="3.0"/><circle cx="561.5" cy="1083.9" r="3.0"/><circle cx="553.1" cy="1068.5" r="3.0"/><circle cx="557.6" cy="1087.6" r="3.0"/><circle cx="551.5" cy="1077" r="3.0"/><circle cx="554.1" cy="1073.6" r="3.0"/><circle cx="557.5" cy="1083.6" r="3.0"/><circle cx="548.9" cy="1074.5" r="3.0"/></g>
<path d="M738.7 952.5H1274.7" class="zl"/>
<path d="M1185.4 677.7V1194" class="zl"/>
<path d="M738.7 677.7V1194H1274.7" class="ax"/>
<path d="M735.1 689.9h3.6M735.1 820.8h3.6M735.1 952.5h3.6M735.1 1083.6h3.6M788.7 1194v3.6M921 1194v3.6M1053.2 1194v3.6M1185.4 1194v3.6" class="tk"/>
<text x="733.3" y="696.8" class="yl">6</text>
<text x="733.3" y="827.7" class="yl">3</text>
<text x="733.3" y="959.4" class="yl">0</text>
<text x="733.3" y="1090.5" class="yl">-3</text>
<text x="788.7" y="1213.8" class="xl">-15</text>
<text x="921" y="1213.8" class="xl">-10</text>
<text x="1053.2" y="1213.8" class="xl">-5</text>
<text x="1185.4" y="1213.8" class="xl">0</text>
<text x="871.5" y="663.1" class="ti">aNSC-NPC</text>
<g filter="url(#b1)"><path d="M791 723H799" stroke="#b6b6b6" stroke-width="6"/><path d="M806 735.9H814" stroke="#818181" stroke-width="6"/><path d="M818 744.7H825" stroke="#717171" stroke-width="6"/><path d="M826 752.1H833" stroke="#717171" stroke-width="6"/><path d="M832 757.6H839" stroke="#767676" stroke-width="6"/><path d="M839 763.4H846" stroke="#818181" stroke-width="6"/></g>
<g filter="url(#b1)">
<path d="M972.1 839.7L976.9 843.3" stroke="#f4f4f4" stroke-width="6"/>
<path d="M976.9 843.3L981.7 846.9L986.5 850.5" stroke="#f4f4f4" stroke-width="6.5"/>
<path d="M986.5 850.5L991.3 854.1L996.2 857.7" stroke="#f4f4f4" stroke-width="7"/>
<path d="M996.2 857.7L1001 861.2L1005.8 864.8L1010.6 868.4L1015.4 872L1020.2 875.7L1024.9 879.4L1029.5 883.2L1034.1 887.1L1038.6 891" stroke="#f4f4f4" stroke-width="7.5"/>
<path d="M1038.6 891L1043.1 895L1047.5 899.1L1051.7 903.3" stroke="#f4f4f4" stroke-width="7"/>
<path d="M1051.7 903.3L1055.9 907.6" stroke="#f9f9f9" stroke-width="6.5"/>
<path d="M1055.9 907.6L1060 912" stroke="#f9f9f9" stroke-width="6"/>
<path d="M972.1 839.7L976.9 843.3" stroke="#e8e8e8" stroke-width="4"/>
<path d="M976.9 843.3L981.7 846.9L986.5 850.5L991.3 854.1" stroke="#e2e2e2" stroke-width="4.5"/>
<path d="M991.3 854.1L996.2 857.7L1001 861.2L1005.8 864.8L1010.6 868.4L1015.4 872L1020.2 875.7L1024.9 879.4" stroke="#dddddd" stroke-width="5"/>
<path d="M1024.9 879.4L1029.5 883.2L1034.1 887.1L1038.6 891L1043.1 895" stroke="#e2e2e2" stroke-width="5"/>
<path d="M1043.1 895L1047.5 899.1L1051.7 903.3" stroke="#e8e8e8" stroke-width="4.5"/>
<path d="M1051.7 903.3L1055.9 907.6" stroke="#eeeeee" stroke-width="4.5"/>
<path d="M1055.9 907.6L1060 912" stroke="#eeeeee" stroke-width="4"/>
</g>
<g filter="url(#b1)">
<path d="M880.4 785.3L885 789.3" stroke="#eeeeee" stroke-width="6"/>
<path d="M885 789.3L889.7 793.3" stroke="#eeeeee" stroke-width="6.5"/>
<path d="M889.7 793.3L894.3 797.3" stroke="#e8e8e8" stroke-width="6.5"/>
<path d="M894.3 797.3L899.1 801.1L903.9 804.8" stroke="#e8e8e8" stroke-width="7"/>
<path d="M903.9 804.8L908.8 808.5L913.8 812L918.8 815.4" stroke="#e8e8e8" stroke-width="7.5"/>
<path d="M918.8 815.4L923.9 818.8L929.1 822.1" stroke="#e8e8e8" stroke-width="8"/>
<path d="M929.1 822.1L934.2 825.3L939.4 828.6L944.6 831.8L949.8 835.1" stroke="#e8e8e8" stroke-width="8.5"/>
<path d="M949.8 835.1L954.9 838.4L960 841.8L965.1 845.3L970.1 848.7L975.1 852.3L980.1 855.8L985 859.4L989.9 863.1L994.8 866.7L999.7 870.4L1004.6 874.1L1009.5 877.8L1014.3 881.5L1019.2 885.2L1024.1 888.9L1028.9 892.6" stroke="#e8e8e8" stroke-width="9"/>
<path d="M1028.9 892.6L1033.7 896.4L1038.4 900.3" stroke="#eeeeee" stroke-width="9"/>
<path d="M1038.4 900.3L1043.1 904.2L1047.8 908.2L1052.3 912.3" stroke="#eeeeee" stroke-width="8.5"/>
<path d="M1052.3 912.3L1056.6 916.5L1061 920.9" stroke="#eeeeee" stroke-width="8"/>
<path d="M1061 920.9L1065.3 925.2" stroke="#f4f4f4" stroke-width="7.5"/>
<path d="M880.4 785.3L885 789.3" stroke="#d1d1d1" stroke-width="4"/>
<path d="M885 789.3L889.7 793.3" stroke="#cbcbcb" stroke-width="4"/>
<path d="M889.7 793.3L894.3 797.3L899.1 801.1" stroke="#cbcbcb" stroke-width="4.5"/>
<path d="M899.1 801.1L903.9 804.8" stroke="#c6c6c6" stroke-width="4.5"/>
<path d="M903.9 804.8L908.8 808.5L913.8 812L918.8 815.4" stroke="#c6c6c6" stroke-width="5"/>
<path d="M918.8 815.4L923.9 818.8L929.1 822.1L934.2 825.3L939.4 828.6L944.6 831.8" stroke="#c0c0c0" stroke-width="5.5"/>
<path d="M944.6 831.8L949.8 835.1L954.9 838.4L960 841.8L965.1 845.3L970.1 848.7L975.1 852.3L980.1 855.8L985 859.4L989.9 863.1L994.8 866.7" stroke="#c0c0c0" stroke-width="6"/>
<path d="M994.8 866.7L999.7 870.4L1004.6 874.1L1009.5 877.8L1014.3 881.5L1019.2 885.2" stroke="#c6c6c6" stroke-width="6"/>
<path d="M1019.2 885.2L1024.1 888.9L1028.9 892.6L1033.7 896.4" stroke="#cbcbcb" stroke-width="6"/>
<path d="M1033.7 896.4L1038.4 900.3L1043.1 904.2" stroke="#d1d1d1" stroke-width="6"/>
<path d="M1043.1 904.2L1047.8 908.2" stroke="#d1d1d1" stroke-width="5.5"/>
<path d="M1047.8 908.2L1052.3 912.3L1056.6 916.5L1061 920.9" stroke="#d7d7d7" stroke-width="5.5"/>
<path d="M1061 920.9L1065.3 925.2" stroke="#dddddd" stroke-width="5"/>
</g>
<g filter="url(#b1)">
<path d="M846 766.5L850.8 770.1" stroke="#f4f4f4" stroke-width="11.5"/>
<path d="M850.8 770.1L855.6 773.8" stroke="#f4f4f4" stroke-width="12.5"/>
<path d="M855.6 773.8L860.4 777.5" stroke="#eeeeee" stroke-width="13.5"/>
<path d="M860.4 777.5L865.2 781.2" stroke="#eeeeee" stroke-width="14"/>
<path d="M865.2 781.2L870 784.9" stroke="#eeeeee" stroke-width="14.5"/>
<path d="M870 784.9L874.8 788.6" stroke="#eeeeee" stroke-width="15"/>
<path d="M874.8 788.6L879.6 792.2" stroke="#eeeeee" stroke-width="15.5"/>
<path d="M879.6 792.2L884.4 795.9" stroke="#eeeeee" stroke-width="16"/>
<path d="M884.4 795.9L889.2 799.6" stroke="#eeeeee" stroke-width="17"/>
<path d="M889.2 799.6L894 803.3" stroke="#eeeeee" stroke-width="17.5"/>
<path d="M894 803.3L898.8 807" stroke="#eeeeee" stroke-width="18"/>
<path d="M898.8 807L903.6 810.6" stroke="#eeeeee" stroke-width="19"/>
<path d="M903.6 810.6L908.4 814.3" stroke="#eeeeee" stroke-width="19.5"/>
<path d="M908.4 814.3L913.2 818" stroke="#eeeeee" stroke-width="20.5"/>
<path d="M913.2 818L918 821.7" stroke="#eeeeee" stroke-width="21"/>
<path d="M918 821.7L922.8 825.4" stroke="#eeeeee" stroke-width="22"/>
<path d="M922.8 825.4L927.6 829.1" stroke="#eeeeee" stroke-width="22.5"/>
<path d="M927.6 829.1L932.4 832.7" stroke="#eeeeee" stroke-width="23"/>
<path d="M932.4 832.7L937.2 836.4" stroke="#eeeeee" stroke-width="24"/>
<path d="M937.2 836.4L942 840.1" stroke="#eeeeee" stroke-width="24.5"/>
<path d="M942 840.1L946.7 843.8" stroke="#eeeeee" stroke-width="25"/>
<path d="M946.7 843.8L951.5 847.5" stroke="#eeeeee" stroke-width="25.5"/>
<path d="M951.5 847.5L956.3 851.2L961.1 854.9" stroke="#eeeeee" stroke-width="26"/>
<path d="M961.1 854.9L965.9 858.6L970.7 862.3" stroke="#eeeeee" stroke-width="26.5"/>
<path d="M970.7 862.3L975.4 866L980.2 869.8L985 873.5L989.7 877.2" stroke="#eeeeee" stroke-width="27"/>
<path d="M989.7 877.2L994.5 881L999.2 884.7L1004 888.5" stroke="#eeeeee" stroke-width="27.5"/>
<path d="M1004 888.5L1008.7 892.2L1013.4 896L1018.2 899.8L1022.9 903.6" stroke="#eeeeee" stroke-width="27"/>
<path d="M1022.9 903.6L1027.6 907.4L1032.3 911.2" stroke="#eeeeee" stroke-width="26.5"/>
<path d="M1032.3 911.2L1036.9 915" stroke="#eeeeee" stroke-width="26"/>
<path d="M1036.9 915L1041.6 918.9" stroke="#e8e8e8" stroke-width="26"/>
<path d="M1041.6 918.9L1046.3 922.7" stroke="#e8e8e8" stroke-width="25.5"/>
<path d="M1046.3 922.7L1050.9 926.6" stroke="#e8e8e8" stroke-width="25"/>
<path d="M1050.9 926.6L1055.5 930.5" stroke="#e8e8e8" stroke-width="24.5"/>
<path d="M1055.5 930.5L1060.1 934.4L1064.7 938.3" stroke="#e8e8e8" stroke-width="24"/>
<path d="M1064.7 938.3L1069.3 942.3" stroke="#e8e8e8" stroke-width="23.5"/>
<path d="M1069.3 942.3L1073.9 946.3" stroke="#e8e8e8" stroke-width="23"/>
<path d="M1073.9 946.3L1078.4 950.3" stroke="#e2e2e2" stroke-width="22.5"/>
<path d="M1078.4 950.3L1082.9 954.3L1087.4 958.3" stroke="#e2e2e2" stroke-width="22"/>
<path d="M1087.4 958.3L1091.9 962.4L1096.3 966.5L1100.7 970.7" stroke="#e2e2e2" stroke-width="21.5"/>
<path d="M1100.7 970.7L1105.1 974.8L1109.5 979L1113.8 983.3" stroke="#e2e2e2" stroke-width="21"/>
<path d="M1113.8 983.3L1118 987.6L1122.3 991.9" stroke="#e2e2e2" stroke-width="20.5"/>
<path d="M1122.3 991.9L1126.5 996.2" stroke="#e2e2e2" stroke-width="20"/>
<path d="M1126.5 996.2L1130.6 1000.6L1134.7 1005.1" stroke="#e8e8e8" stroke-width="19.5"/>
<path d="M1134.7 1005.1L1138.8 1009.6L1142.8 1014.1" stroke="#e8e8e8" stroke-width="19"/>
<path d="M1142.8 1014.1L1146.7 1018.7L1150.6 1023.3L1154.5 1027.9" stroke="#e8e8e8" stroke-width="18.5"/>
<path d="M1154.5 1027.9L1158.3 1032.7" stroke="#e8e8e8" stroke-width="18"/>
<path d="M1158.3 1032.7L1162 1037.4" stroke="#eeeeee" stroke-width="18"/>
<path d="M1162 1037.4L1165.7 1042.2L1169.3 1047L1172.9 1051.9" stroke="#eeeeee" stroke-width="17.5"/>
<path d="M1172.9 1051.9L1176.4 1056.9" stroke="#eeeeee" stroke-width="17"/>
<path d="M1176.4 1056.9L1179.8 1061.8L1183.2 1066.8L1186.5 1071.9L1189.8 1077" stroke="#f4f4f4" stroke-width="17"/>
<path d="M1189.8 1077L1193 1082.1L1196.2 1087.2" stroke="#f4f4f4" stroke-width="16.5"/>
<path d="M1196.2 1087.2L1199.3 1092.4L1202.3 1097.6L1205.3 1102.9L1208.3 1108.1" stroke="#f9f9f9" stroke-width="16.5"/>
<path d="M1208.3 1108.1L1211.2 1113.4L1214.1 1118.8L1216.9 1124.1" stroke="#f9f9f9" stroke-width="16"/>
<path d="M1216.9 1124.1L1219.7 1129.5L1222.4 1134.9" stroke="#f9f9f9" stroke-width="15.5"/>
<path d="M1222.4 1134.9L1225.2 1140.3" stroke="#f9f9f9" stroke-width="15"/>
<path d="M846 766.5L850.8 770.1" stroke="#d1d1d1" stroke-width="8"/>
<path d="M850.8 770.1L855.6 773.8" stroke="#cbcbcb" stroke-width="9"/>
<path d="M855.6 773.8L860.4 777.5" stroke="#c6c6c6" stroke-width="9.5"/>
<path d="M860.4 777.5L865.2 781.2" stroke="#c6c6c6" stroke-width="10"/>
<path d="M865.2 781.2L870 784.9L874.8 788.6" stroke="#c0c0c0" stroke-width="10.5"/>
<path d="M874.8 788.6L879.6 792.2" stroke="#c0c0c0" stroke-width="11"/>
<path d="M879.6 792.2L884.4 795.9" stroke="#bababa" stroke-width="11.5"/>
<path d="M884.4 795.9L889.2 799.6" stroke="#bababa" stroke-width="12"/>
<path d="M889.2 799.6L894 803.3" stroke="#bababa" stroke-width="12.5"/>
<path d="M894 803.3L898.8 807" stroke="#bababa" stroke-width="13"/>
<path d="M898.8 807L903.6 810.6" stroke="#bababa" stroke-width="13.5"/>
<path d="M903.6 810.6L908.4 814.3" stroke="#c0c0c0" stroke-width="14"/>
<path d="M908.4 814.3L913.2 818" stroke="#c0c0c0" stroke-width="14.5"/>
<path d="M913.2 818L918 821.7" stroke="#c0c0c0" stroke-width="15"/>
<path d="M918 821.7L922.8 825.4" stroke="#c0c0c0" stroke-width="15.5"/>
<path d="M922.8 825.4L927.6 829.1" stroke="#c6c6c6" stroke-width="16"/>
<path d="M927.6 829.1L932.4 832.7" stroke="#c6c6c6" stroke-width="16.5"/>
<path d="M932.4 832.7L937.2 836.4" stroke="#c6c6c6" stroke-width="17"/>
<path d="M937.2 836.4L942 840.1L946.7 843.8" stroke="#c6c6c6" stroke-width="17.5"/>
<path d="M946.7 843.8L951.5 847.5" stroke="#c6c6c6" stroke-width="18"/>
<path d="M951.5 847.5L956.3 851.2L961.1 854.9" stroke="#c6c6c6" stroke-width="18.5"/>
<path d="M961.1 854.9L965.9 858.6L970.7 862.3L975.4 866L980.2 869.8" stroke="#c6c6c6" stroke-width="19"/>
<path d="M980.2 869.8L985 873.5L989.7 877.2L994.5 881L999.2 884.7L1004 888.5L1008.7 892.2" stroke="#c6c6c6" stroke-width="19.5"/>
<path d="M1008.7 892.2L1013.4 896" stroke="#c0c0c0" stroke-width="19.5"/>
<path d="M1013.4 896L1018.2 899.8L1022.9 903.6" stroke="#c0c0c0" stroke-width="19"/>
<path d="M1022.9 903.6L1027.6 907.4L1032.3 911.2" stroke="#bababa" stroke-width="19"/>
<path d="M1032.3 911.2L1036.9 915L1041.6 918.9" stroke="#b5b5b5" stroke-width="18.5"/>
<path d="M1041.6 918.9L1046.3 922.7L1050.9 926.6" stroke="#afafaf" stroke-width="18"/>
<path d="M1050.9 926.6L1055.5 930.5" stroke="#a9a9a9" stroke-width="17.5"/>
<path d="M1055.5 930.5L1060.1 934.4" stroke="#a9a9a9" stroke-width="17"/>
<path d="M1060.1 934.4L1064.7 938.3" stroke="#a3a3a3" stroke-width="17"/>
<path d="M1064.7 938.3L1069.3 942.3" stroke="#a3a3a3" stroke-width="16.5"/>
<path d="M1069.3 942.3L1073.9 946.3" stroke="#9e9e9e" stroke-width="16.5"/>
<path d="M1073.9 946.3L1078.4 950.3" stroke="#9e9e9e" stroke-width="16"/>
<path d="M1078.4 950.3L1082.9 954.3L1087.4 958.3" stroke="#9e9e9e" stroke-width="15.5"/>
<path d="M1087.4 958.3L1091.9 962.4" stroke="#989898" stroke-width="15.5"/>
<path d="M1091.9 962.4L1096.3 966.5L1100.7 970.7L1105.1 974.8L1109.5 979L1113.8 983.3" stroke="#989898" stroke-width="15"/>
<path d="M1113.8 983.3L1118 987.6" stroke="#989898" stroke-width="14.5"/>
<path d="M1118 987.6L1122.3 991.9" stroke="#9e9e9e" stroke-width="14.5"/>
<path d="M1122.3 991.9L1126.5 996.2L1130.6 1000.6" stroke="#9e9e9e" stroke-width="14"/>
<path d="M1130.6 1000.6L1134.7 1005.1" stroke="#a3a3a3" stroke-width="14"/>
<path d="M1134.7 1005.1L1138.8 1009.6L1142.8 1014.1" stroke="#a3a3a3" stroke-width="13.5"/>
<path d="M1142.8 1014.1L1146.7 1018.7" stroke="#a9a9a9" stroke-width="13"/>
<path d="M1146.7 1018.7L1150.6 1023.3L1154.5 1027.9" stroke="#afafaf" stroke-width="13"/>
<path d="M1154.5 1027.9L1158.3 1032.7" stroke="#b5b5b5" stroke-width="13"/>
<path d="M1158.3 1032.7L1162 1037.4L1165.7 1042.2" stroke="#bababa" stroke-width="12.5"/>
<path d="M1165.7 1042.2L1169.3 1047" stroke="#c0c0c0" stroke-width="12.5"/>
<path d="M1169.3 1047L1172.9 1051.9" stroke="#c6c6c6" stroke-width="12.5"/>
<path d="M1172.9 1051.9L1176.4 1056.9" stroke="#c6c6c6" stroke-width="12"/>
<path d="M1176.4 1056.9L1179.8 1061.8" stroke="#cbcbcb" stroke-width="12"/>
<path d="M1179.8 1061.8L1183.2 1066.8" stroke="#d1d1d1" stroke-width="12"/>
<path d="M1183.2 1066.8L1186.5 1071.9L1189.8 1077" stroke="#d7d7d7" stroke-width="12"/>
<path d="M1189.8 1077L1193 1082.1L1196.2 1087.2" stroke="#dddddd" stroke-width="12"/>
<path d="M1196.2 1087.2L1199.3 1092.4L1202.3 1097.6" stroke="#e2e2e2" stroke-width="12"/>
<path d="M1202.3 1097.6L1205.3 1102.9L1208.3 1108.1L1211.2 1113.4" stroke="#e8e8e8" stroke-width="11.5"/>
<path d="M1211.2 1113.4L1214.1 1118.8" stroke="#eeeeee" stroke-width="11.5"/>
<path d="M1214.1 1118.8L1216.9 1124.1L1219.7 1129.5" stroke="#eeeeee" stroke-width="11"/>
<path d="M1219.7 1129.5L1222.4 1134.9" stroke="#f4f4f4" stroke-width="11"/>
<path d="M1222.4 1134.9L1225.2 1140.3L1227.8 1145.7" stroke="#f4f4f4" stroke-width="10.5"/>
<path d="M1227.8 1145.7L1230.4 1151.2" stroke="#f4f4f4" stroke-width="10"/>
<path d="M1230.4 1151.2L1233 1156.6" stroke="#f9f9f9" stroke-width="10"/>
<path d="M846 766.5L850.8 770.1" stroke="#989898" stroke-width="6"/>
<path d="M850.8 770.1L855.6 773.8" stroke="#8c8c8c" stroke-width="6.5"/>
<path d="M855.6 773.8L860.4 777.5" stroke="#878787" stroke-width="7"/>
<path d="M860.4 777.5L865.2 781.2" stroke="#818181" stroke-width="7.5"/>
<path d="M865.2 781.2L870 784.9" stroke="#767676" stroke-width="7.5"/>
<path d="M870 784.9L874.8 788.6" stroke="#767676" stroke-width="8"/>
<path d="M874.8 788.6L879.6 792.2" stroke="#707070" stroke-width="8"/>
<path d="M879.6 792.2L884.4 795.9" stroke="#6a6a6a" stroke-width="8.5"/>
<path d="M884.4 795.9L889.2 799.6L894 803.3" stroke="#6a6a6a" stroke-width="9"/>
<path d="M894 803.3L898.8 807" stroke="#6a6a6a" stroke-width="9.5"/>
<path d="M898.8 807L903.6 810.6" stroke="#6a6a6a" stroke-width="10"/>
<path d="M903.6 810.6L908.4 814.3L913.2 818" stroke="#707070" stroke-width="10.5"/>
<path d="M913.2 818L918 821.7" stroke="#767676" stroke-width="11"/>
<path d="M918 821.7L922.8 825.4" stroke="#767676" stroke-width="11.5"/>
<path d="M922.8 825.4L927.6 829.1L932.4 832.7" stroke="#7b7b7b" stroke-width="12"/>
<path d="M932.4 832.7L937.2 836.4" stroke="#818181" stroke-width="12.5"/>
<path d="M937.2 836.4L942 840.1L946.7 843.8" stroke="#818181" stroke-width="13"/>
<path d="M946.7 843.8L951.5 847.5" stroke="#818181" stroke-width="13.5"/>
<path d="M951.5 847.5L956.3 851.2" stroke="#878787" stroke-width="13.5"/>
<path d="M956.3 851.2L961.1 854.9L965.9 858.6L970.7 862.3L975.4 866L980.2 869.8" stroke="#878787" stroke-width="14"/>
<path d="M980.2 869.8L985 873.5" stroke="#878787" stroke-width="14.5"/>
<path d="M985 873.5L989.7 877.2L994.5 881L999.2 884.7L1004 888.5" stroke="#818181" stroke-width="14.5"/>
<path d="M1004 888.5L1008.7 892.2" stroke="#7b7b7b" stroke-width="14.5"/>
<path d="M1008.7 892.2L1013.4 896" stroke="#767676" stroke-width="14.5"/>
<path d="M1013.4 896L1018.2 899.8" stroke="#767676" stroke-width="14"/>
<path d="M1018.2 899.8L1022.9 903.6" stroke="#707070" stroke-width="14"/>
<path d="M1022.9 903.6L1027.6 907.4" stroke="#6a6a6a" stroke-width="14"/>
<path d="M1027.6 907.4L1032.3 911.2" stroke="#646464" stroke-width="14"/>
<path d="M1032.3 911.2L1036.9 915" stroke="#5f5f5f" stroke-width="14"/>
<path d="M1036.9 915L1041.6 918.9" stroke="#535353" stroke-width="13.5"/>
<path d="M1041.6 918.9L1046.3 922.7" stroke="#4e4e4e" stroke-width="13.5"/>
<path d="M1046.3 922.7L1050.9 926.6" stroke="#484848" stroke-width="13"/>
<path d="M1050.9 926.6L1055.5 930.5" stroke="#424242" stroke-width="13"/>
<path d="M1055.5 930.5L1060.1 934.4" stroke="#3c3c3c" stroke-width="13"/>
<path d="M1060.1 934.4L1064.7 938.3" stroke="#373737" stroke-width="12.5"/>
<path d="M1064.7 938.3L1069.3 942.3" stroke="#313131" stroke-width="12.5"/>
<path d="M1069.3 942.3L1073.9 946.3" stroke="#2b2b2b" stroke-width="12"/>
<path d="M1073.9 946.3L1078.4 950.3" stroke="#252525" stroke-width="12"/>
<path d="M1078.4 950.3L1082.9 954.3" stroke="#252525" stroke-width="11.5"/>
<path d="M1082.9 954.3L1087.4 958.3L1091.9 962.4L1096.3 966.5" stroke="#202020" stroke-width="11.5"/>
<path d="M1096.3 966.5L1100.7 970.7L1105.1 974.8" stroke="#1a1a1a" stroke-width="11"/>
<path d="M1105.1 974.8L1109.5 979L1113.8 983.3L1118 987.6" stroke="#202020" stroke-width="11"/>
<path d="M1118 987.6L1122.3 991.9L1126.5 996.2" stroke="#252525" stroke-width="10.5"/>
<path d="M1126.5 996.2L1130.6 1000.6" stroke="#2b2b2b" stroke-width="10.5"/>
<path d="M1130.6 1000.6L1134.7 1005.1" stroke="#313131" stroke-width="10"/>
<path d="M1134.7 1005.1L1138.8 1009.6" stroke="#373737" stroke-width="10"/>
<path d="M1138.8 1009.6L1142.8 1014.1" stroke="#3c3c3c" stroke-width="10"/>
<path d="M1142.8 1014.1L1146.7 1018.7" stroke="#424242" stroke-width="10"/>
<path d="M1146.7 1018.7L1150.6 1023.3" stroke="#484848" stroke-width="9.5"/>
<path d="M1150.6 1023.3L1154.5 1027.9" stroke="#4e4e4e" stroke-width="9.5"/>
<path d="M1154.5 1027.9L1158.3 1032.7" stroke="#595959" stroke-width="9.5"/>
<path d="M1158.3 1032.7L1162 1037.4" stroke="#5f5f5f" stroke-width="9.5"/>
<path d="M1162 1037.4L1165.7 1042.2" stroke="#6a6a6a" stroke-width="9.5"/>
<path d="M1165.7 1042.2L1169.3 1047" stroke="#707070" stroke-width="9"/>
<path d="M1169.3 1047L1172.9 1051.9" stroke="#7b7b7b" stroke-width="9"/>
<path d="M1172.9 1051.9L1176.4 1056.9" stroke="#878787" stroke-width="9"/>
<path d="M1176.4 1056.9L1179.8 1061.8" stroke="#8c8c8c" stroke-width="9"/>
<path d="M1179.8 1061.8L1183.2 1066.8" stroke="#989898" stroke-width="9"/>
<path d="M1183.2 1066.8L1186.5 1071.9" stroke="#9e9e9e" stroke-width="9"/>
<path d="M1186.5 1071.9L1189.8 1077" stroke="#a9a9a9" stroke-width="9"/>
<path d="M1189.8 1077L1193 1082.1" stroke="#afafaf" stroke-width="9"/>
<path d="M1193 1082.1L1196.2 1087.2" stroke="#b5b5b5" stroke-width="9"/>
<path d="M1196.2 1087.2L1199.3 1092.4" stroke="#bababa" stroke-width="9"/>
<path d="M1199.3 1092.4L1202.3 1097.6" stroke="#c0c0c0" stroke-width="8.5"/>
<path d="M1202.3 1097.6L1205.3 1102.9" stroke="#c6c6c6" stroke-width="8.5"/>
<path d="M1205.3 1102.9L1208.3 1108.1" stroke="#cbcbcb" stroke-width="8.5"/>
<path d="M1208.3 1108.1L1211.2 1113.4" stroke="#d1d1d1" stroke-width="8.5"/>
<path d="M1211.2 1113.4L1214.1 1118.8L1216.9 1124.1" stroke="#d7d7d7" stroke-width="8.5"/>
<path d="M1216.9 1124.1L1219.7 1129.5" stroke="#dddddd" stroke-width="8"/>
<path d="M1219.7 1129.5L1222.4 1134.9L1225.2 1140.3" stroke="#e2e2e2" stroke-width="8"/>
<path d="M1225.2 1140.3L1227.8 1145.7L1230.4 1151.2" stroke="#e8e8e8" stroke-width="7.5"/>
<path d="M1230.4 1151.2L1233 1156.6" stroke="#eeeeee" stroke-width="7.5"/>
</g>
<circle cx="767" cy="700.4" r="3" fill="#ededed"/><circle cx="771" cy="700.4" r="3" fill="#f1f1f1"/>
<g class="rd"><circle cx="1100.2" cy="887.7" r="3.0"/><circle cx="1079.5" cy="898.3" r="3.0"/><circle cx="1123.7" cy="919" r="3.0"/><circle cx="1124.4" cy="925.4" r="3.0"/><circle cx="1135.7" cy="924.1" r="3.0"/><circle cx="1103.7" cy="941.9" r="3.0"/><circle cx="1102.1" cy="958" r="3.0"/><circle cx="1108.6" cy="957" r="3.0"/><circle cx="1130.2" cy="969" r="3.0"/><circle cx="1133.4" cy="971.6" r="3.0"/><circle cx="1144.7" cy="972.5" r="3.0"/><circle cx="1145.4" cy="974.8" r="3.0"/><circle cx="1115.7" cy="980.3" r="3.0"/><circle cx="1133.4" cy="979.7" r="3.0"/><circle cx="1152.8" cy="982.2" r="3.0"/><circle cx="1173.8" cy="987.7" r="3.0"/><circle cx="1177" cy="992.6" r="3.0"/><circle cx="1157.6" cy="987.7" r="3.0"/><circle cx="1162.5" cy="990.9" r="3.0"/><circle cx="1154.4" cy="994.2" r="3.0"/><circle cx="1166.7" cy="995.8" r="3.0"/><circle cx="1197" cy="1003.9" r="3.0"/><circle cx="1199.6" cy="1011.3" r="3.0"/><circle cx="1183.5" cy="1016.8" r="3.0"/><circle cx="1193.1" cy="1019" r="3.0"/><circle cx="1191.5" cy="1023.2" r="3.0"/><circle cx="1207.7" cy="1032.9" r="3.0"/><circle cx="1223.8" cy="1048.1" r="3.0"/><circle cx="1199.6" cy="1049" r="3.0"/><circle cx="1209.3" cy="1046.5" r="3.0"/><circle cx="1202.8" cy="1052.3" r="3.0"/><circle cx="1204.4" cy="1058.7" r="3.0"/><circle cx="1206" cy="1063.6" r="3.0"/><circle cx="1203.8" cy="1072.6" r="3.0"/><circle cx="1221.2" cy="1078.1" r="3.0"/><circle cx="1202.2" cy="1083.6" r="3.0"/><circle cx="1200.2" cy="1088.7" r="3.0"/><circle cx="1209.3" cy="1086.8" r="3.0"/><circle cx="1196.4" cy="1097.5" r="3.0"/><circle cx="1198" cy="1100.7" r="3.0"/><circle cx="1223.8" cy="1097.5" r="3.0"/><circle cx="1228.6" cy="1096.5" r="3.0"/><circle cx="1231.2" cy="1096.5" r="3.0"/><circle cx="1226" cy="1103.3" r="3.0"/><circle cx="1218" cy="1115.2" r="3.0"/><circle cx="1221.2" cy="1131.4" r="3.0"/><circle cx="1156" cy="1008.2" r="3.0"/><circle cx="1144.9" cy="985.8" r="3.0"/><circle cx="1151.4" cy="996.5" r="3.0"/><circle cx="1191.1" cy="1061.7" r="3.0"/><circle cx="1163.7" cy="1027.5" r="3.0"/><circle cx="1144.5" cy="1021.8" r="3.0"/><circle cx="1167.9" cy="1033.5" r="3.0"/><circle cx="1178.8" cy="1047.9" r="3.0"/><circle cx="1163" cy="1017.1" r="3.0"/><circle cx="1139.3" cy="995.3" r="3.0"/><circle cx="1135.8" cy="992.4" r="3.0"/><circle cx="1185.4" cy="1071.4" r="3.0"/><circle cx="1145.6" cy="1006.9" r="3.0"/><circle cx="1170.5" cy="1036.1" r="3.0"/><circle cx="1152.9" cy="1026.9" r="3.0"/><circle cx="1171.3" cy="1019.3" r="3.0"/><circle cx="1146.7" cy="1008.7" r="3.0"/><circle cx="1166.3" cy="1037.3" r="3.0"/><circle cx="1194.2" cy="1073.9" r="3.0"/><circle cx="1129.7" cy="996.5" r="3.0"/><circle cx="1191.6" cy="1066.5" r="3.0"/><circle cx="1154.1" cy="1018.5" r="3.0"/><circle cx="1173.8" cy="1036.3" r="3.0"/><circle cx="1137.3" cy="1000.9" r="3.0"/><circle cx="1191.9" cy="1071.9" r="3.0"/><circle cx="1175.9" cy="1061" r="3.0"/><circle cx="1185.4" cy="1058.8" r="3.0"/><circle cx="1159.5" cy="1018.8" r="3.0"/><circle cx="1134.3" cy="993.6" r="3.0"/><circle cx="1185.9" cy="1060.3" r="3.0"/><circle cx="1177.4" cy="1040.5" r="3.0"/><circle cx="1160.1" cy="1024.1" r="3.0"/><circle cx="1157.8" cy="1024" r="3.0"/><circle cx="1139.6" cy="995.7" r="3.0"/><circle cx="1172.2" cy="1044.2" r="3.0"/><circle cx="1156.1" cy="1029.1" r="3.0"/><circle cx="1163.1" cy="1022.5" r="3.0"/><circle cx="1165.4" cy="1045.9" r="3.0"/><circle cx="1191.5" cy="1075.8" r="3.0"/><circle cx="1165.3" cy="1043.4" r="3.0"/><circle cx="1172.9" cy="1056.6" r="3.0"/><circle cx="1180.1" cy="1044" r="3.0"/><circle cx="1172.5" cy="1047.4" r="3.0"/><circle cx="1153.1" cy="1032.5" r="3.0"/><circle cx="1174.6" cy="1052" r="3.0"/><circle cx="1156.1" cy="1017.8" r="3.0"/><circle cx="1174.8" cy="1033.7" r="3.0"/><circle cx="1181.6" cy="1061.6" r="3.0"/><circle cx="1138" cy="996.8" r="3.0"/><circle cx="1148.5" cy="1018.9" r="3.0"/><circle cx="1134.8" cy="1001.1" r="3.0"/><circle cx="1187.6" cy="1071.8" r="3.0"/><circle cx="1180.5" cy="1030.8" r="3.0"/><circle cx="1135.5" cy="1000.4" r="3.0"/><circle cx="1192.8" cy="1068.8" r="3.0"/><circle cx="1185.3" cy="1059.6" r="3.0"/><circle cx="1127.2" cy="998.6" r="3.0"/><circle cx="1170.2" cy="1037.9" r="3.0"/><circle cx="1169.9" cy="1035.8" r="3.0"/><circle cx="1140" cy="1014.2" r="3.0"/><circle cx="1169.3" cy="1043.6" r="3.0"/><circle cx="1151.3" cy="1015.7" r="3.0"/><circle cx="1160.2" cy="1036" r="3.0"/><circle cx="1165.3" cy="1043.3" r="3.0"/><circle cx="1155.7" cy="1018.9" r="3.0"/><circle cx="1150.5" cy="1024.4" r="3.0"/><circle cx="1161" cy="1018.3" r="3.0"/><circle cx="1178" cy="1042.5" r="3.0"/><circle cx="1199.2" cy="1071.7" r="3.0"/><circle cx="1168.7" cy="1029.2" r="3.0"/><circle cx="1177.8" cy="1060.5" r="3.0"/><circle cx="1148.5" cy="1017.2" r="3.0"/><circle cx="1156.6" cy="1031.4" r="3.0"/><circle cx="1153.2" cy="1013.2" r="3.0"/><circle cx="1177.1" cy="1050.9" r="3.0"/><circle cx="1147.1" cy="1025.2" r="3.0"/><circle cx="1175.7" cy="1038.2" r="3.0"/><circle cx="1159.1" cy="1034.8" r="3.0"/><circle cx="1189" cy="1058.4" r="3.0"/><circle cx="1178.7" cy="1060.3" r="3.0"/><circle cx="1186.9" cy="1051.2" r="3.0"/><circle cx="1135.1" cy="996.3" r="3.0"/><circle cx="1173.8" cy="1047.3" r="3.0"/><circle cx="1163" cy="1034.5" r="3.0"/><circle cx="1161" cy="1028.8" r="3.0"/><circle cx="1178.1" cy="1047.9" r="3.0"/><circle cx="1135.3" cy="1001.3" r="3.0"/><circle cx="1141.1" cy="1001.2" r="3.0"/><circle cx="1176" cy="1059" r="3.0"/><circle cx="1143.6" cy="997.7" r="3.0"/><circle cx="1181.9" cy="1036.9" r="3.0"/><circle cx="1172.8" cy="1043.6" r="3.0"/><circle cx="1168.3" cy="1035" r="3.0"/><circle cx="1164.8" cy="1047" r="3.0"/><circle cx="1189" cy="1078.4" r="3.0"/><circle cx="1156.9" cy="1026.7" r="3.0"/><circle cx="1141.1" cy="1002.6" r="3.0"/><circle cx="1183.7" cy="1046.8" r="3.0"/><circle cx="1190.3" cy="1071.2" r="3.0"/><circle cx="1167.2" cy="1052.3" r="3.0"/><circle cx="1177" cy="1029.9" r="3.0"/><circle cx="1174.7" cy="1045.7" r="3.0"/><circle cx="1185.6" cy="1058.9" r="3.0"/><circle cx="1148.6" cy="1009" r="3.0"/><circle cx="1140" cy="1005.6" r="3.0"/><circle cx="1164.4" cy="1013.4" r="3.0"/><circle cx="1171.4" cy="1038.7" r="3.0"/><circle cx="1192.1" cy="1067.5" r="3.0"/><circle cx="1193" cy="1074.9" r="3.0"/><circle cx="1188.8" cy="1062.6" r="3.0"/></g>
<path d="M1357.8 943.2H1893.8" class="zl"/>
<path d="M1794 677.7V1194" class="zl"/>
<path d="M1357.8 677.7V1194H1893.8" class="ax"/>
<path d="M1354.2 689.1h3.6M1354.2 816.6h3.6M1354.2 943.2h3.6M1354.2 1070h3.6M1369.5 1194v3.6M1511.6 1194v3.6M1652.9 1194v3.6M1794 1194v3.6" class="tk"/>
<text x="1352.4" y="696" class="yl">6</text>
<text x="1352.4" y="823.5" class="yl">3</text>
<text x="1352.4" y="950.1" class="yl">0</text>
<text x="1352.4" y="1076.9" class="yl">-3</text>
<text x="1369.5" y="1213.8" class="xl">-15</text>
<text x="1511.6" y="1213.8" class="xl">-10</text>
<text x="1652.9" y="1213.8" class="xl">-5</text>
<text x="1794" y="1213.8" class="xl">0</text>
<text x="1494" y="663" class="ti">Neuroblast</text>
<g filter="url(#b1)"><path d="M1382 701.1H1402" stroke="#989898" stroke-width="6"/><path d="M1407 722.4H1428" stroke="#818181" stroke-width="6"/><path d="M1430 734.3H1446" stroke="#5f5f5f" stroke-width="6"/><path d="M1441 743H1457" stroke="#6a6a6a" stroke-width="6"/><path d="M1452 750.5H1467" stroke="#767676" stroke-width="6"/></g>
<g filter="url(#b2)">
<path d="M1528 794.1L1532.9 797.6L1537.9 801L1542.9 804.5" stroke="#f9f9f9" stroke-width="16"/>
<path d="M1542.9 804.5L1547.9 807.9L1552.8 811.4L1557.8 814.9" stroke="#f4f4f4" stroke-width="16"/>
<path d="M1557.8 814.9L1562.7 818.4L1567.7 821.8L1572.6 825.3L1577.6 828.8L1582.5 832.3L1587.5 835.8" stroke="#eeeeee" stroke-width="16"/>
<path d="M1587.5 835.8L1592.4 839.3L1597.3 842.8L1602.2 846.4L1607.2 849.9L1612.1 853.4L1617 857L1621.9 860.6L1626.7 864.1L1631.6 867.7L1636.5 871.3L1641.3 875L1646.2 878.6L1651 882.3L1655.8 885.9L1660.6 889.6" stroke="#e8e8e8" stroke-width="16"/>
<path d="M1660.6 889.6L1665.4 893.4L1670.1 897.1L1674.9 900.9L1679.6 904.6L1684.3 908.5L1689 912.3" stroke="#eeeeee" stroke-width="16"/>
<path d="M1689 912.3L1693.6 916.2L1698.3 920.1L1702.9 924" stroke="#f4f4f4" stroke-width="16"/>
<path d="M1702.9 924L1707.5 927.9L1712 931.9L1716.5 936" stroke="#f9f9f9" stroke-width="16"/>
</g>
<g filter="url(#b1)">
<path d="M1466 758.4L1471 761.8" stroke="#f4f4f4" stroke-width="15"/>
<path d="M1471 761.8L1475.9 765.3" stroke="#f4f4f4" stroke-width="17"/>
<path d="M1475.9 765.3L1480.9 768.7" stroke="#f4f4f4" stroke-width="18"/>
<path d="M1480.9 768.7L1485.8 772.1" stroke="#f4f4f4" stroke-width="18.5"/>
<path d="M1485.8 772.1L1490.8 775.5" stroke="#f4f4f4" stroke-width="19"/>
<path d="M1490.8 775.5L1495.8 778.9L1500.7 782.3L1505.7 785.8L1510.6 789.2L1515.6 792.6" stroke="#eeeeee" stroke-width="19"/>
<path d="M1515.6 792.6L1520.5 796L1525.5 799.5L1530.4 802.9L1535.4 806.3L1540.3 809.8L1545.2 813.2" stroke="#eeeeee" stroke-width="18.5"/>
<path d="M1545.2 813.2L1550.2 816.7L1555.1 820.1L1560 823.6" stroke="#eeeeee" stroke-width="18"/>
<path d="M1560 823.6L1565 827L1569.9 830.5L1574.8 834L1579.7 837.4L1584.6 840.9L1589.5 844.4L1594.4 847.9L1599.3 851.4L1604.2 854.9L1609.1 858.5L1614 862L1618.8 865.5L1623.7 869.1L1628.5 872.7L1633.4 876.3L1638.2 879.9L1643 883.5L1647.8 887.1L1652.6 890.8L1657.3 894.4L1662.1 898.1L1666.8 901.9L1671.5 905.6L1676.2 909.4L1680.9 913.2" stroke="#e8e8e8" stroke-width="18"/>
<path d="M1680.9 913.2L1685.6 917L1690.2 920.8L1694.8 924.7L1699.3 928.6L1703.9 932.6L1708.4 936.6L1712.9 940.6L1717.3 944.7L1721.7 948.8L1726 953L1730.3 957.2L1734.6 961.4L1738.8 965.7" stroke="#e2e2e2" stroke-width="18"/>
<path d="M1738.8 965.7L1743 970.1L1747.1 974.5L1751.1 978.9L1755.1 983.4" stroke="#e8e8e8" stroke-width="18"/>
<path d="M1755.1 983.4L1759.1 988L1762.9 992.6L1766.7 997.2" stroke="#e8e8e8" stroke-width="17.5"/>
<path d="M1766.7 997.2L1770.5 1001.9L1774.2 1006.7L1777.8 1011.5" stroke="#e8e8e8" stroke-width="17"/>
<path d="M1777.8 1011.5L1781.3 1016.3" stroke="#e8e8e8" stroke-width="16.5"/>
<path d="M1781.3 1016.3L1784.8 1021.2L1788.2 1026.2" stroke="#eeeeee" stroke-width="16.5"/>
<path d="M1788.2 1026.2L1791.6 1031.2L1794.9 1036.2L1798.1 1041.3" stroke="#eeeeee" stroke-width="16"/>
<path d="M1798.1 1041.3L1801.2 1046.5L1804.3 1051.6L1807.3 1056.9" stroke="#f4f4f4" stroke-width="15.5"/>
<path d="M1807.3 1056.9L1810.2 1062.1L1813 1067.4L1815.8 1072.7" stroke="#f4f4f4" stroke-width="15"/>
<path d="M1815.8 1072.7L1818.6 1078.1L1821.2 1083.5L1823.9 1088.9" stroke="#f9f9f9" stroke-width="14.5"/>
<path d="M1823.9 1088.9L1826.4 1094.4L1828.9 1099.8" stroke="#f9f9f9" stroke-width="14"/>
<path d="M1828.9 1099.8L1831.3 1105.4L1833.7 1110.9" stroke="#f9f9f9" stroke-width="13.5"/>
<path d="M1833.7 1110.9L1836 1116.4" stroke="#f9f9f9" stroke-width="13"/>
<path d="M1836 1116.4L1838.3 1122L1840.6 1127.6" stroke="#f9f9f9" stroke-width="12.5"/>
<path d="M1840.6 1127.6L1842.8 1133.2" stroke="#f9f9f9" stroke-width="12"/>
<path d="M1466 758.4L1471 761.8" stroke="#d7d7d7" stroke-width="10.5"/>
<path d="M1471 761.8L1475.9 765.3" stroke="#d1d1d1" stroke-width="12"/>
<path d="M1475.9 765.3L1480.9 768.7" stroke="#d1d1d1" stroke-width="13"/>
<path d="M1480.9 768.7L1485.8 772.1L1490.8 775.5" stroke="#cbcbcb" stroke-width="13.5"/>
<path d="M1490.8 775.5L1495.8 778.9L1500.7 782.3" stroke="#c6c6c6" stroke-width="13.5"/>
<path d="M1500.7 782.3L1505.7 785.8L1510.6 789.2L1515.6 792.6" stroke="#c0c0c0" stroke-width="13.5"/>
<path d="M1515.6 792.6L1520.5 796L1525.5 799.5L1530.4 802.9L1535.4 806.3" stroke="#bababa" stroke-width="13"/>
<path d="M1535.4 806.3L1540.3 809.8L1545.2 813.2L1550.2 816.7L1555.1 820.1L1560 823.6L1565 827L1569.9 830.5L1574.8 834L1579.7 837.4L1584.6 840.9" stroke="#b5b5b5" stroke-width="13"/>
<path d="M1584.6 840.9L1589.5 844.4L1594.4 847.9L1599.3 851.4L1604.2 854.9L1609.1 858.5L1614 862L1618.8 865.5L1623.7 869.1L1628.5 872.7L1633.4 876.3L1638.2 879.9L1643 883.5" stroke="#afafaf" stroke-width="13"/>
<path d="M1643 883.5L1647.8 887.1L1652.6 890.8L1657.3 894.4L1662.1 898.1" stroke="#a9a9a9" stroke-width="13"/>
<path d="M1662.1 898.1L1666.8 901.9L1671.5 905.6" stroke="#a3a3a3" stroke-width="13"/>
<path d="M1671.5 905.6L1676.2 909.4L1680.9 913.2L1685.6 917L1690.2 920.8" stroke="#9e9e9e" stroke-width="13"/>
<path d="M1690.2 920.8L1694.8 924.7L1699.3 928.6L1703.9 932.6L1708.4 936.6L1712.9 940.6L1717.3 944.7L1721.7 948.8" stroke="#989898" stroke-width="13"/>
<path d="M1721.7 948.8L1726 953L1730.3 957.2L1734.6 961.4L1738.8 965.7L1743 970.1L1747.1 974.5" stroke="#9e9e9e" stroke-width="13"/>
<path d="M1747.1 974.5L1751.1 978.9" stroke="#a3a3a3" stroke-width="13"/>
<path d="M1751.1 978.9L1755.1 983.4L1759.1 988L1762.9 992.6" stroke="#a3a3a3" stroke-width="12.5"/>
<path d="M1762.9 992.6L1766.7 997.2" stroke="#a9a9a9" stroke-width="12.5"/>
<path d="M1766.7 997.2L1770.5 1001.9L1774.2 1006.7" stroke="#a9a9a9" stroke-width="12"/>
<path d="M1774.2 1006.7L1777.8 1011.5L1781.3 1016.3" stroke="#afafaf" stroke-width="12"/>
<path d="M1781.3 1016.3L1784.8 1021.2" stroke="#b5b5b5" stroke-width="11.5"/>
<path d="M1784.8 1021.2L1788.2 1026.2L1791.6 1031.2" stroke="#bababa" stroke-width="11.5"/>
<path d="M1791.6 1031.2L1794.9 1036.2" stroke="#c0c0c0" stroke-width="11.5"/>
<path d="M1794.9 1036.2L1798.1 1041.3" stroke="#c6c6c6" stroke-width="11"/>
<path d="M1798.1 1041.3L1801.2 1046.5L1804.3 1051.6" stroke="#cbcbcb" stroke-width="11"/>
<path d="M1804.3 1051.6L1807.3 1056.9" stroke="#d1d1d1" stroke-width="11"/>
<path d="M1807.3 1056.9L1810.2 1062.1" stroke="#d7d7d7" stroke-width="11"/>
<path d="M1810.2 1062.1L1813 1067.4" stroke="#d7d7d7" stroke-width="10.5"/>
<path d="M1813 1067.4L1815.8 1072.7" stroke="#dddddd" stroke-width="10.5"/>
<path d="M1815.8 1072.7L1818.6 1078.1L1821.2 1083.5" stroke="#e2e2e2" stroke-width="10.5"/>
<path d="M1821.2 1083.5L1823.9 1088.9" stroke="#e2e2e2" stroke-width="10"/>
<path d="M1823.9 1088.9L1826.4 1094.4L1828.9 1099.8" stroke="#e8e8e8" stroke-width="10"/>
<path d="M1828.9 1099.8L1831.3 1105.4" stroke="#e8e8e8" stroke-width="9.5"/>
<path d="M1831.3 1105.4L1833.7 1110.9" stroke="#eeeeee" stroke-width="9.5"/>
<path d="M1833.7 1110.9L1836 1116.4L1838.3 1122" stroke="#eeeeee" stroke-width="9"/>
<path d="M1838.3 1122L1840.6 1127.6" stroke="#f4f4f4" stroke-width="9"/>
<path d="M1840.6 1127.6L1842.8 1133.2L1844.9 1138.8" stroke="#f4f4f4" stroke-width="8.5"/>
<path d="M1844.9 1138.8L1847 1144.4" stroke="#f9f9f9" stroke-width="8"/>
<path d="M1466 758.4L1471 761.8" stroke="#a3a3a3" stroke-width="8"/>
<path d="M1471 761.8L1475.9 765.3" stroke="#9e9e9e" stroke-width="9"/>
<path d="M1475.9 765.3L1480.9 768.7" stroke="#929292" stroke-width="9.5"/>
<path d="M1480.9 768.7L1485.8 772.1" stroke="#8c8c8c" stroke-width="10"/>
<path d="M1485.8 772.1L1490.8 775.5" stroke="#878787" stroke-width="10"/>
<path d="M1490.8 775.5L1495.8 778.9" stroke="#818181" stroke-width="10"/>
<path d="M1495.8 778.9L1500.7 782.3" stroke="#7b7b7b" stroke-width="10"/>
<path d="M1500.7 782.3L1505.7 785.8L1510.6 789.2" stroke="#767676" stroke-width="10"/>
<path d="M1510.6 789.2L1515.6 792.6" stroke="#707070" stroke-width="10"/>
<path d="M1515.6 792.6L1520.5 796" stroke="#6a6a6a" stroke-width="10"/>
<path d="M1520.5 796L1525.5 799.5L1530.4 802.9" stroke="#646464" stroke-width="9.5"/>
<path d="M1530.4 802.9L1535.4 806.3L1540.3 809.8L1545.2 813.2" stroke="#5f5f5f" stroke-width="9.5"/>
<path d="M1545.2 813.2L1550.2 816.7L1555.1 820.1L1560 823.6L1565 827L1569.9 830.5" stroke="#595959" stroke-width="9.5"/>
<path d="M1569.9 830.5L1574.8 834L1579.7 837.4L1584.6 840.9L1589.5 844.4L1594.4 847.9L1599.3 851.4L1604.2 854.9L1609.1 858.5" stroke="#535353" stroke-width="9.5"/>
<path d="M1609.1 858.5L1614 862L1618.8 865.5L1623.7 869.1L1628.5 872.7L1633.4 876.3L1638.2 879.9" stroke="#4e4e4e" stroke-width="9.5"/>
<path d="M1638.2 879.9L1643 883.5L1647.8 887.1" stroke="#484848" stroke-width="9.5"/>
<path d="M1647.8 887.1L1652.6 890.8" stroke="#424242" stroke-width="9.5"/>
<path d="M1652.6 890.8L1657.3 894.4L1662.1 898.1" stroke="#3c3c3c" stroke-width="9.5"/>
<path d="M1662.1 898.1L1666.8 901.9" stroke="#373737" stroke-width="9.5"/>
<path d="M1666.8 901.9L1671.5 905.6" stroke="#313131" stroke-width="9.5"/>
<path d="M1671.5 905.6L1676.2 909.4L1680.9 913.2" stroke="#2b2b2b" stroke-width="9.5"/>
<path d="M1680.9 913.2L1685.6 917" stroke="#252525" stroke-width="9.5"/>
<path d="M1685.6 917L1690.2 920.8L1694.8 924.7L1699.3 928.6L1703.9 932.6" stroke="#202020" stroke-width="9.5"/>
<path d="M1703.9 932.6L1708.4 936.6" stroke="#1a1a1a" stroke-width="9.5"/>
<path d="M1708.4 936.6L1712.9 940.6L1717.3 944.7L1721.7 948.8L1726 953" stroke="#202020" stroke-width="9.5"/>
<path d="M1726 953L1730.3 957.2L1734.6 961.4L1738.8 965.7" stroke="#252525" stroke-width="9.5"/>
<path d="M1738.8 965.7L1743 970.1L1747.1 974.5" stroke="#2b2b2b" stroke-width="9.5"/>
<path d="M1747.1 974.5L1751.1 978.9L1755.1 983.4" stroke="#313131" stroke-width="9.5"/>
<path d="M1755.1 983.4L1759.1 988" stroke="#373737" stroke-width="9.5"/>
<path d="M1759.1 988L1762.9 992.6" stroke="#373737" stroke-width="9"/>
<path d="M1762.9 992.6L1766.7 997.2" stroke="#3c3c3c" stroke-width="9"/>
<path d="M1766.7 997.2L1770.5 1001.9L1774.2 1006.7" stroke="#424242" stroke-width="9"/>
<path d="M1774.2 1006.7L1777.8 1011.5" stroke="#4e4e4e" stroke-width="9"/>
<path d="M1777.8 1011.5L1781.3 1016.3" stroke="#535353" stroke-width="9"/>
<path d="M1781.3 1016.3L1784.8 1021.2" stroke="#595959" stroke-width="8.5"/>
<path d="M1784.8 1021.2L1788.2 1026.2" stroke="#646464" stroke-width="8.5"/>
<path d="M1788.2 1026.2L1791.6 1031.2" stroke="#6a6a6a" stroke-width="8.5"/>
<path d="M1791.6 1031.2L1794.9 1036.2" stroke="#767676" stroke-width="8.5"/>
<path d="M1794.9 1036.2L1798.1 1041.3" stroke="#818181" stroke-width="8.5"/>
<path d="M1798.1 1041.3L1801.2 1046.5" stroke="#878787" stroke-width="8"/>
<path d="M1801.2 1046.5L1804.3 1051.6" stroke="#929292" stroke-width="8"/>
<path d="M1804.3 1051.6L1807.3 1056.9" stroke="#9e9e9e" stroke-width="8"/>
<path d="M1807.3 1056.9L1810.2 1062.1" stroke="#a3a3a3" stroke-width="8"/>
<path d="M1810.2 1062.1L1813 1067.4" stroke="#afafaf" stroke-width="8"/>
<path d="M1813 1067.4L1815.8 1072.7" stroke="#b5b5b5" stroke-width="8"/>
<path d="M1815.8 1072.7L1818.6 1078.1" stroke="#bababa" stroke-width="7.5"/>
<path d="M1818.6 1078.1L1821.2 1083.5" stroke="#c0c0c0" stroke-width="7.5"/>
<path d="M1821.2 1083.5L1823.9 1088.9" stroke="#c6c6c6" stroke-width="7.5"/>
<path d="M1823.9 1088.9L1826.4 1094.4L1828.9 1099.8" stroke="#cbcbcb" stroke-width="7.5"/>
<path d="M1828.9 1099.8L1831.3 1105.4" stroke="#d1d1d1" stroke-width="7"/>
<path d="M1831.3 1105.4L1833.7 1110.9" stroke="#d7d7d7" stroke-width="7"/>
<path d="M1833.7 1110.9L1836 1116.4" stroke="#dddddd" stroke-width="7"/>
<path d="M1836 1116.4L1838.3 1122" stroke="#dddddd" stroke-width="6.5"/>
<path d="M1838.3 1122L1840.6 1127.6" stroke="#e2e2e2" stroke-width="6.5"/>
<path d="M1840.6 1127.6L1842.8 1133.2" stroke="#e8e8e8" stroke-width="6.5"/>
<path d="M1842.8 1133.2L1844.9 1138.8" stroke="#e8e8e8" stroke-width="6"/>
<path d="M1844.9 1138.8L1847 1144.4" stroke="#eeeeee" stroke-width="6"/>
</g>
<g class="rd"><circle cx="1693.3" cy="893.5" r="3.0"/><circle cx="1699.7" cy="889.9" r="3.0"/><circle cx="1737.5" cy="894.1" r="3.0"/><circle cx="1723" cy="913.5" r="3.0"/><circle cx="1728.8" cy="910.2" r="3.0"/><circle cx="1734.3" cy="924.8" r="3.0"/><circle cx="1682" cy="911.2" r="3.0"/><circle cx="1706.8" cy="931.2" r="3.0"/><circle cx="1716.5" cy="938.3" r="3.0"/><circle cx="1758.5" cy="955.8" r="3.0"/><circle cx="1772" cy="958.7" r="3.0"/><circle cx="1745.6" cy="957" r="3.0"/><circle cx="1742.4" cy="956.4" r="3.0"/><circle cx="1760.1" cy="963.5" r="3.0"/><circle cx="1774.6" cy="969.3" r="3.0"/><circle cx="1771.4" cy="977.4" r="3.0"/><circle cx="1782.7" cy="984.5" r="3.0"/><circle cx="1792.4" cy="988.7" r="3.0"/><circle cx="1790.8" cy="993.5" r="3.0"/><circle cx="1797.2" cy="999.7" r="3.0"/><circle cx="1805.3" cy="1002.9" r="3.0"/><circle cx="1814" cy="995.8" r="3.0"/><circle cx="1803.7" cy="1015.2" r="3.0"/><circle cx="1811.8" cy="1026.4" r="3.0"/><circle cx="1810.1" cy="1028.1" r="3.0"/><circle cx="1806.9" cy="1041" r="3.0"/><circle cx="1820.8" cy="1045.2" r="3.0"/><circle cx="1829.5" cy="1054.9" r="3.0"/><circle cx="1827.9" cy="1067.5" r="3.0"/><circle cx="1813.4" cy="1049" r="3.0"/><circle cx="1819.8" cy="1057.1" r="3.0"/><circle cx="1821.4" cy="1061.9" r="3.0"/><circle cx="1819.8" cy="1070" r="3.0"/><circle cx="1808.5" cy="1057.1" r="3.0"/><circle cx="1811.7" cy="1065.2" r="3.0"/><circle cx="1810.1" cy="1071.6" r="3.0"/><circle cx="1818.2" cy="1079.7" r="3.0"/><circle cx="1823.7" cy="1097.5" r="3.0"/><circle cx="1829.5" cy="1105.5" r="3.0"/><circle cx="1836" cy="1114.3" r="3.0"/><circle cx="1847.3" cy="1124.3" r="3.0"/><circle cx="1770.1" cy="1000.9" r="3.0"/><circle cx="1756" cy="978.7" r="3.0"/><circle cx="1761.5" cy="987.1" r="3.0"/><circle cx="1768.9" cy="984.2" r="3.0"/><circle cx="1809.4" cy="1050.5" r="3.0"/><circle cx="1708" cy="941.1" r="3.0"/><circle cx="1766.9" cy="979" r="3.0"/><circle cx="1726.7" cy="945" r="3.0"/><circle cx="1742.8" cy="962.3" r="3.0"/><circle cx="1710.8" cy="930" r="3.0"/><circle cx="1736.8" cy="959" r="3.0"/><circle cx="1791.4" cy="1022.7" r="3.0"/><circle cx="1798.2" cy="1018.9" r="3.0"/><circle cx="1808.2" cy="1053.8" r="3.0"/><circle cx="1730.8" cy="958.5" r="3.0"/><circle cx="1715.6" cy="938.8" r="3.0"/><circle cx="1761.1" cy="995" r="3.0"/><circle cx="1717.5" cy="948.7" r="3.0"/><circle cx="1723.1" cy="949.4" r="3.0"/><circle cx="1730.4" cy="950.6" r="3.0"/><circle cx="1781.1" cy="1002.1" r="3.0"/><circle cx="1712" cy="931.9" r="3.0"/><circle cx="1731.6" cy="949.9" r="3.0"/><circle cx="1789.5" cy="1018" r="3.0"/><circle cx="1756.5" cy="978" r="3.0"/><circle cx="1796.8" cy="1024.4" r="3.0"/><circle cx="1728.8" cy="953.6" r="3.0"/><circle cx="1781" cy="1006.1" r="3.0"/><circle cx="1777.5" cy="1009.7" r="3.0"/><circle cx="1745.3" cy="957.3" r="3.0"/><circle cx="1783.9" cy="1007.4" r="3.0"/><circle cx="1718.9" cy="946.6" r="3.0"/><circle cx="1794.8" cy="1026.8" r="3.0"/><circle cx="1736.3" cy="951.8" r="3.0"/><circle cx="1727.1" cy="948.8" r="3.0"/><circle cx="1718.3" cy="939" r="3.0"/><circle cx="1725.2" cy="949" r="3.0"/><circle cx="1788.4" cy="1016.4" r="3.0"/><circle cx="1710" cy="930.9" r="3.0"/><circle cx="1711.2" cy="936.1" r="3.0"/><circle cx="1797.1" cy="1034.1" r="3.0"/><circle cx="1798.3" cy="1035" r="3.0"/><circle cx="1752.5" cy="984.5" r="3.0"/><circle cx="1743.5" cy="973.9" r="3.0"/><circle cx="1730.7" cy="956.6" r="3.0"/><circle cx="1712.2" cy="936.4" r="3.0"/><circle cx="1766" cy="978.4" r="3.0"/><circle cx="1743.5" cy="964.2" r="3.0"/><circle cx="1728" cy="952.5" r="3.0"/><circle cx="1729.1" cy="944.4" r="3.0"/><circle cx="1725.5" cy="943.1" r="3.0"/><circle cx="1742" cy="954.1" r="3.0"/><circle cx="1777.3" cy="991.6" r="3.0"/><circle cx="1776.3" cy="1001.7" r="3.0"/><circle cx="1784.3" cy="1014.9" r="3.0"/><circle cx="1775.9" cy="1002.8" r="3.0"/><circle cx="1808.9" cy="1045.5" r="3.0"/><circle cx="1794.3" cy="1033.5" r="3.0"/><circle cx="1729.9" cy="964.3" r="3.0"/><circle cx="1717.8" cy="936.5" r="3.0"/><circle cx="1785" cy="1016.5" r="3.0"/><circle cx="1743.6" cy="965.1" r="3.0"/><circle cx="1801.8" cy="1054.4" r="3.0"/><circle cx="1798.1" cy="1028.8" r="3.0"/><circle cx="1731.6" cy="954.6" r="3.0"/><circle cx="1732.3" cy="957.2" r="3.0"/><circle cx="1799.2" cy="1045" r="3.0"/><circle cx="1737.4" cy="954.2" r="3.0"/><circle cx="1758.8" cy="990.2" r="3.0"/><circle cx="1809.1" cy="1057.2" r="3.0"/><circle cx="1802.3" cy="1042.6" r="3.0"/><circle cx="1782.7" cy="1003.9" r="3.0"/><circle cx="1761.5" cy="984.3" r="3.0"/><circle cx="1708" cy="931.2" r="3.0"/><circle cx="1785.1" cy="1008.1" r="3.0"/><circle cx="1806.4" cy="1038.5" r="3.0"/><circle cx="1762.5" cy="974.1" r="3.0"/><circle cx="1736.2" cy="965.1" r="3.0"/><circle cx="1772.5" cy="999.6" r="3.0"/><circle cx="1720" cy="933.4" r="3.0"/><circle cx="1705.8" cy="941.2" r="3.0"/><circle cx="1727.9" cy="954" r="3.0"/><circle cx="1711.1" cy="927.3" r="3.0"/><circle cx="1760.5" cy="998.5" r="3.0"/><circle cx="1749" cy="976" r="3.0"/><circle cx="1778.7" cy="1001" r="3.0"/><circle cx="1725.7" cy="941.4" r="3.0"/><circle cx="1773.9" cy="1016.3" r="3.0"/><circle cx="1762.5" cy="982.6" r="3.0"/><circle cx="1772.8" cy="1011.6" r="3.0"/><circle cx="1712.3" cy="940.1" r="3.0"/><circle cx="1779.2" cy="1006.1" r="3.0"/><circle cx="1719.7" cy="951.3" r="3.0"/><circle cx="1716.9" cy="939.9" r="3.0"/><circle cx="1795" cy="1021.9" r="3.0"/><circle cx="1766.9" cy="985" r="3.0"/><circle cx="1773.2" cy="1001" r="3.0"/><circle cx="1781.4" cy="1006.4" r="3.0"/><circle cx="1750.3" cy="963.4" r="3.0"/><circle cx="1808.9" cy="1050.2" r="3.0"/><circle cx="1706.9" cy="942.3" r="3.0"/><circle cx="1780.6" cy="1005.2" r="3.0"/><circle cx="1765" cy="990.4" r="3.0"/><circle cx="1718.8" cy="936.2" r="3.0"/><circle cx="1754.5" cy="978.9" r="3.0"/><circle cx="1765.4" cy="981.6" r="3.0"/><circle cx="1755.9" cy="981" r="3.0"/><circle cx="1773.7" cy="992.8" r="3.0"/><circle cx="1721.1" cy="945.9" r="3.0"/><circle cx="1809.4" cy="1046.7" r="3.0"/><circle cx="1806.9" cy="1054.2" r="3.0"/><circle cx="1778.4" cy="1014.3" r="3.0"/><circle cx="1800.3" cy="1040.1" r="3.0"/><circle cx="1802.2" cy="1051.8" r="3.0"/><circle cx="1733" cy="960.8" r="3.0"/><circle cx="1779.4" cy="995.1" r="3.0"/><circle cx="1764.9" cy="984.4" r="3.0"/><circle cx="1728.2" cy="950.5" r="3.0"/><circle cx="1728.4" cy="948.8" r="3.0"/><circle cx="1764.3" cy="987.3" r="3.0"/><circle cx="1766.6" cy="993.7" r="3.0"/><circle cx="1809.1" cy="1043.2" r="3.0"/><circle cx="1798.5" cy="1036.5" r="3.0"/><circle cx="1782.2" cy="1009.7" r="3.0"/><circle cx="1777.5" cy="1001.6" r="3.0"/><circle cx="1739.2" cy="967.9" r="3.0"/><circle cx="1719.7" cy="942.1" r="3.0"/><circle cx="1808.8" cy="1052.8" r="3.0"/><circle cx="1771.9" cy="996.1" r="3.0"/><circle cx="1739.6" cy="966.3" r="3.0"/><circle cx="1773.1" cy="998.3" r="3.0"/><circle cx="1719.6" cy="940.9" r="3.0"/><circle cx="1759.7" cy="977.9" r="3.0"/><circle cx="1781.2" cy="1011.6" r="3.0"/><circle cx="1793.7" cy="1029.9" r="3.0"/><circle cx="1726.1" cy="946.5" r="3.0"/><circle cx="1711.3" cy="932.7" r="3.0"/><circle cx="1793.7" cy="1036.2" r="3.0"/><circle cx="1770.8" cy="1003.6" r="3.0"/><circle cx="1763.7" cy="998.4" r="3.0"/><circle cx="1734.9" cy="957.9" r="3.0"/><circle cx="1760.4" cy="986" r="3.0"/><circle cx="1768.5" cy="995.1" r="3.0"/><circle cx="1801.1" cy="1040.2" r="3.0"/><circle cx="1762" cy="986.9" r="3.0"/><circle cx="1710.6" cy="930.8" r="3.0"/><circle cx="1758.5" cy="983.2" r="3.0"/><circle cx="1755.6" cy="992.8" r="3.0"/><circle cx="1805.4" cy="1048.1" r="3.0"/><circle cx="1797.2" cy="1036" r="3.0"/><circle cx="1715.9" cy="931.7" r="3.0"/><circle cx="1796.6" cy="1018" r="3.0"/><circle cx="1771" cy="1001.7" r="3.0"/><circle cx="1768.5" cy="985.3" r="3.0"/><circle cx="1768.3" cy="993.3" r="3.0"/><circle cx="1744.3" cy="960.1" r="3.0"/><circle cx="1781.3" cy="1010.3" r="3.0"/><circle cx="1782.3" cy="1007" r="3.0"/><circle cx="1722.9" cy="946.5" r="3.0"/><circle cx="1761.3" cy="990.4" r="3.0"/><circle cx="1788.3" cy="1010.4" r="3.0"/><circle cx="1729.1" cy="953.3" r="3.0"/><circle cx="1743.2" cy="970.4" r="3.0"/><circle cx="1788.3" cy="1022.8" r="3.0"/><circle cx="1724.6" cy="948.7" r="3.0"/><circle cx="1723.3" cy="957.6" r="3.0"/><circle cx="1752.6" cy="975.1" r="3.0"/><circle cx="1760.4" cy="980.6" r="3.0"/><circle cx="1712.8" cy="934.3" r="3.0"/><circle cx="1734" cy="954.7" r="3.0"/><circle cx="1796.3" cy="1032.4" r="3.0"/><circle cx="1721.9" cy="939.4" r="3.0"/><circle cx="1707.4" cy="934.2" r="3.0"/><circle cx="1730.2" cy="949.4" r="3.0"/><circle cx="1751.5" cy="966.8" r="3.0"/><circle cx="1809" cy="1035.8" r="3.0"/><circle cx="1761.7" cy="984.7" r="3.0"/><circle cx="1813.2" cy="1044.3" r="3.0"/><circle cx="1812.5" cy="1051.6" r="3.0"/><circle cx="1805.6" cy="1039" r="3.0"/><circle cx="1796.9" cy="1025.8" r="3.0"/><circle cx="1799.3" cy="1027.4" r="3.0"/><circle cx="1743.6" cy="961.7" r="3.0"/><circle cx="1757.2" cy="976.5" r="3.0"/><circle cx="1732.7" cy="954.5" r="3.0"/><circle cx="1738.9" cy="961.1" r="3.0"/><circle cx="1744.5" cy="955.2" r="3.0"/><circle cx="1791.9" cy="1011.6" r="3.0"/><circle cx="1759.3" cy="989.5" r="3.0"/><circle cx="1783.7" cy="1014.1" r="3.0"/><circle cx="1744.7" cy="975.6" r="3.0"/><circle cx="1769.7" cy="992.8" r="3.0"/><circle cx="1726.5" cy="947.1" r="3.0"/><circle cx="1709.3" cy="941.1" r="3.0"/><circle cx="1800.3" cy="1049.5" r="3.0"/><circle cx="1716" cy="949" r="3.0"/><circle cx="1791.8" cy="1019.8" r="3.0"/><circle cx="1739.2" cy="949" r="3.0"/><circle cx="1723.8" cy="951.8" r="3.0"/><circle cx="1762.4" cy="984.8" r="3.0"/><circle cx="1728.4" cy="951.6" r="3.0"/><circle cx="1707.7" cy="937.9" r="3.0"/><circle cx="1751.2" cy="986.4" r="3.0"/><circle cx="1803.6" cy="1040.5" r="3.0"/><circle cx="1737.9" cy="956.8" r="3.0"/><circle cx="1737.3" cy="961.5" r="3.0"/><circle cx="1774.2" cy="994.4" r="3.0"/><circle cx="1807.1" cy="1032.5" r="3.0"/><circle cx="1764.8" cy="993.1" r="3.0"/><circle cx="1769.1" cy="1005.4" r="3.0"/><circle cx="1759.5" cy="992.7" r="3.0"/><circle cx="1784.7" cy="1015.8" r="3.0"/><circle cx="1760" cy="982.8" r="3.0"/><circle cx="1756.7" cy="981.2" r="3.0"/><circle cx="1725.7" cy="933.9" r="3.0"/><circle cx="1798.7" cy="1037.3" r="3.0"/><circle cx="1710.4" cy="937.3" r="3.0"/><circle cx="1812.8" cy="1048.5" r="3.0"/><circle cx="1735.5" cy="955.9" r="3.0"/><circle cx="1761.6" cy="997" r="3.0"/><circle cx="1783.4" cy="1008.2" r="3.0"/><circle cx="1766.3" cy="990.2" r="3.0"/><circle cx="1775.1" cy="1011.2" r="3.0"/><circle cx="1773.9" cy="1010.4" r="3.0"/><circle cx="1739.3" cy="981.2" r="3.0"/><circle cx="1776.4" cy="997.1" r="3.0"/><circle cx="1722.6" cy="947.8" r="3.0"/><circle cx="1802.1" cy="1057.1" r="3.0"/><circle cx="1791.6" cy="1022.9" r="3.0"/><circle cx="1760.9" cy="982.5" r="3.0"/><circle cx="1785.6" cy="1006.4" r="3.0"/><circle cx="1770.5" cy="997.7" r="3.0"/><circle cx="1787.7" cy="1016.5" r="3.0"/><circle cx="1738.2" cy="959" r="3.0"/><circle cx="1796.6" cy="1021.7" r="3.0"/><circle cx="1723.6" cy="944" r="3.0"/><circle cx="1766.2" cy="1005.7" r="3.0"/><circle cx="1781" cy="1019.5" r="3.0"/><circle cx="1736.4" cy="957.3" r="3.0"/><circle cx="1758.9" cy="985.7" r="3.0"/><circle cx="1813.4" cy="1067.3" r="3.0"/><circle cx="1825.3" cy="1083.3" r="3.0"/><circle cx="1827.4" cy="1083" r="3.0"/><circle cx="1821.2" cy="1058.9" r="3.0"/><circle cx="1806.1" cy="1059.5" r="3.0"/><circle cx="1827.1" cy="1078.9" r="3.0"/><circle cx="1822.5" cy="1077.6" r="3.0"/><circle cx="1813" cy="1060.7" r="3.0"/><circle cx="1820.1" cy="1085.3" r="3.0"/><circle cx="1816.5" cy="1085.4" r="3.0"/><circle cx="1812.6" cy="1057.5" r="3.0"/><circle cx="1821.4" cy="1080.4" r="3.0"/><circle cx="1816.8" cy="1057.6" r="3.0"/><circle cx="1821.9" cy="1081" r="3.0"/><circle cx="1813.4" cy="1058.1" r="3.0"/></g>
<path d="M112.1 1965.3H628.5" class="zl"/>
<path d="M371.1 1472.2V1988.7" class="zl"/>
<path d="M112.1 1472.2V1988.7H628.5" class="ax"/>
<path d="M108.5 1495.9h3.6M108.5 1613.2h3.6M108.5 1730.6h3.6M108.5 1848h3.6M108.5 1965.3h3.6M126.4 1988.7v3.6M249 1988.7v3.6M371.1 1988.7v3.6M493.5 1988.7v3.6M615.9 1988.7v3.6" class="tk"/>
<text x="106.7" y="1502.8" class="yl">1.00</text>
<text x="106.7" y="1620.2" class="yl">0.75</text>
<text x="106.7" y="1737.5" class="yl">0.50</text>
<text x="106.7" y="1854.9" class="yl">0.25</text>
<text x="106.7" y="1972.2" class="yl">0.00</text>
<text x="126.4" y="2008.5" class="xl">-6</text>
<text x="249" y="2008.5" class="xl">-3</text>
<text x="371.1" y="2008.5" class="xl">0</text>
<text x="493.5" y="2008.5" class="xl">3</text>
<text x="615.9" y="2008.5" class="xl">6</text>
<text x="165.9" y="1447.3" class="ti">Oligodendrocyte</text>
<g filter="url(#b1)">
<path d="M176.3 1495.9L182.3 1495.9" stroke="#f9f9f9" stroke-width="7.5"/>
<path d="M182.3 1495.9L188.4 1495.9" stroke="#f9f9f9" stroke-width="8"/>
<path d="M188.4 1495.9L194.4 1495.9L200.4 1495.9L206.5 1495.9" stroke="#f9f9f9" stroke-width="8.5"/>
<path d="M206.5 1495.9L212.5 1495.9" stroke="#f9f9f9" stroke-width="9"/>
<path d="M212.5 1495.9L218.6 1495.9L224.6 1495.9L230.6 1495.9L236.7 1495.9L242.7 1495.9" stroke="#f4f4f4" stroke-width="9"/>
<path d="M242.7 1495.9L248.8 1495.9L254.8 1495.9L260.8 1495.9" stroke="#eeeeee" stroke-width="9.5"/>
<path d="M260.8 1495.9L266.9 1495.9L272.9 1495.9" stroke="#e8e8e8" stroke-width="10"/>
<path d="M272.9 1495.9L278.9 1496" stroke="#e8e8e8" stroke-width="10.5"/>
<path d="M278.9 1496L284.9 1496.1L290.9 1496.4L296.8 1497" stroke="#e2e2e2" stroke-width="10.5"/>
<path d="M296.8 1497L302.5 1497.9" stroke="#dddddd" stroke-width="10.5"/>
<path d="M302.5 1497.9L308 1499.3" stroke="#dddddd" stroke-width="11"/>
<path d="M308 1499.3L313.2 1501.3L317.9 1504L322.3 1507.3L326.1 1511.3L329.5 1515.8L332.5 1520.7L335 1525.9L337.3 1531.4L339.3 1537.1L341.2 1542.8L342.9 1548.5L344.5 1554.4L346.1 1560.2L347.6 1566L349 1571.9L350.5 1577.8L351.8 1583.6L353.2 1589.5L354.5 1595.4L355.8 1601.3L357 1607.2L358.3 1613.1L359.5 1619L360.7 1625L361.9 1630.9L363.1 1636.8L364.3 1642.7L365.5 1648.6L366.7 1654.6L367.8 1660.5L369 1666.4L370.2 1672.3L371.4 1678.2L372.5 1684.2L373.7 1690.1L374.9 1696L376.1 1701.9L377.3 1707.8L378.4 1713.8L379.6 1719.7L380.8 1725.6L381.9 1731.5L383.1 1737.5L384.2 1743.4L385.4 1749.3L386.5 1755.3L387.7 1761.2L388.9 1767.1L390 1773L391.3 1778.9" stroke="#d7d7d7" stroke-width="11"/>
<path d="M391.3 1778.9L392.5 1784.8L393.8 1790.7L395 1796.6L396.4 1802.5L397.7 1808.4L399.1 1814.3L400.6 1820.2L402 1826L403.6 1831.8L405.1 1837.7L406.8 1843.5L408.5 1849.3L410.2 1855L412 1860.8L414 1866.5" stroke="#d7d7d7" stroke-width="11.5"/>
<path d="M414 1866.5L416 1872.2L418.1 1877.8L420.3 1883.5L422.7 1889L425.1 1894.5L427.8 1899.9L430.6 1905.2" stroke="#d7d7d7" stroke-width="12"/>
<path d="M430.6 1905.2L433.6 1910.4L436.8 1915.5L440.2 1920.4L443.8 1925.1" stroke="#d1d1d1" stroke-width="12.5"/>
<path d="M443.8 1925.1L447.7 1929.6L451.9 1933.8L456.3 1937.8" stroke="#d1d1d1" stroke-width="13"/>
<path d="M456.3 1937.8L460.9 1941.5" stroke="#d1d1d1" stroke-width="13.5"/>
<path d="M460.9 1941.5L465.8 1944.8L470.9 1947.9L476.2 1950.5L481.7 1952.9L487.3 1954.9L493 1956.7" stroke="#cbcbcb" stroke-width="13.5"/>
<path d="M493 1956.7L498.8 1958.2L504.6 1959.4" stroke="#cbcbcb" stroke-width="13"/>
<path d="M504.6 1959.4L510.5 1960.6" stroke="#cbcbcb" stroke-width="12.5"/>
<path d="M510.5 1960.6L516.5 1961.5L522.5 1962.3" stroke="#cbcbcb" stroke-width="12"/>
<path d="M522.5 1962.3L528.5 1962.9" stroke="#cbcbcb" stroke-width="11.5"/>
<path d="M528.5 1962.9L534.5 1963.4" stroke="#cbcbcb" stroke-width="11"/>
<path d="M534.5 1963.4L540.5 1963.8" stroke="#cbcbcb" stroke-width="10"/>
<path d="M540.5 1963.8L546.5 1964.1" stroke="#d1d1d1" stroke-width="9.5"/>
<path d="M170.3 1495.9L176.3 1495.9L182.3 1495.9" stroke="#f9f9f9" stroke-width="5.5"/>
<path d="M182.3 1495.9L188.4 1495.9L194.4 1495.9" stroke="#f4f4f4" stroke-width="6"/>
<path d="M194.4 1495.9L200.4 1495.9L206.5 1495.9" stroke="#eeeeee" stroke-width="6"/>
<path d="M206.5 1495.9L212.5 1495.9" stroke="#eeeeee" stroke-width="6.5"/>
<path d="M212.5 1495.9L218.6 1495.9L224.6 1495.9" stroke="#e8e8e8" stroke-width="6.5"/>
<path d="M224.6 1495.9L230.6 1495.9L236.7 1495.9" stroke="#e2e2e2" stroke-width="6.5"/>
<path d="M236.7 1495.9L242.7 1495.9" stroke="#dddddd" stroke-width="6.5"/>
<path d="M242.7 1495.9L248.8 1495.9" stroke="#dddddd" stroke-width="7"/>
<path d="M248.8 1495.9L254.8 1495.9" stroke="#d7d7d7" stroke-width="7"/>
<path d="M254.8 1495.9L260.8 1495.9" stroke="#d1d1d1" stroke-width="7"/>
<path d="M260.8 1495.9L266.9 1495.9" stroke="#cbcbcb" stroke-width="7"/>
<path d="M266.9 1495.9L272.9 1495.9" stroke="#cbcbcb" stroke-width="7.5"/>
<path d="M272.9 1495.9L278.9 1496" stroke="#c6c6c6" stroke-width="7.5"/>
<path d="M278.9 1496L284.9 1496.1" stroke="#c0c0c0" stroke-width="7.5"/>
<path d="M284.9 1496.1L290.9 1496.4" stroke="#bababa" stroke-width="7.5"/>
<path d="M290.9 1496.4L296.8 1497" stroke="#b5b5b5" stroke-width="7.5"/>
<path d="M296.8 1497L302.5 1497.9" stroke="#afafaf" stroke-width="7.5"/>
<path d="M302.5 1497.9L308 1499.3" stroke="#a9a9a9" stroke-width="8"/>
<path d="M308 1499.3L313.2 1501.3" stroke="#a3a3a3" stroke-width="8"/>
<path d="M313.2 1501.3L317.9 1504L322.3 1507.3L326.1 1511.3" stroke="#9e9e9e" stroke-width="8"/>
<path d="M326.1 1511.3L329.5 1515.8L332.5 1520.7L335 1525.9L337.3 1531.4L339.3 1537.1L341.2 1542.8L342.9 1548.5L344.5 1554.4L346.1 1560.2L347.6 1566L349 1571.9" stroke="#989898" stroke-width="8"/>
<path d="M349 1571.9L350.5 1577.8L351.8 1583.6L353.2 1589.5L354.5 1595.4L355.8 1601.3L357 1607.2L358.3 1613.1L359.5 1619L360.7 1625L361.9 1630.9L363.1 1636.8L364.3 1642.7L365.5 1648.6L366.7 1654.6" stroke="#9e9e9e" stroke-width="8"/>
<path d="M366.7 1654.6L367.8 1660.5L369 1666.4L370.2 1672.3L371.4 1678.2L372.5 1684.2L373.7 1690.1L374.9 1696L376.1 1701.9L377.3 1707.8L378.4 1713.8L379.6 1719.7L380.8 1725.6L381.9 1731.5L383.1 1737.5L384.2 1743.4L385.4 1749.3L386.5 1755.3L387.7 1761.2L388.9 1767.1L390 1773L391.3 1778.9L392.5 1784.8L393.8 1790.7L395 1796.6L396.4 1802.5L397.7 1808.4L399.1 1814.3" stroke="#a3a3a3" stroke-width="8"/>
<path d="M399.1 1814.3L400.6 1820.2L402 1826L403.6 1831.8L405.1 1837.7L406.8 1843.5L408.5 1849.3L410.2 1855L412 1860.8" stroke="#a3a3a3" stroke-width="8.5"/>
<path d="M412 1860.8L414 1866.5L416 1872.2L418.1 1877.8L420.3 1883.5L422.7 1889L425.1 1894.5" stroke="#9e9e9e" stroke-width="8.5"/>
<path d="M425.1 1894.5L427.8 1899.9" stroke="#989898" stroke-width="8.5"/>
<path d="M427.8 1899.9L430.6 1905.2L433.6 1910.4L436.8 1915.5" stroke="#989898" stroke-width="9"/>
<path d="M436.8 1915.5L440.2 1920.4L443.8 1925.1L447.7 1929.6" stroke="#929292" stroke-width="9"/>
<path d="M447.7 1929.6L451.9 1933.8L456.3 1937.8L460.9 1941.5" stroke="#8c8c8c" stroke-width="9.5"/>
<path d="M460.9 1941.5L465.8 1944.8" stroke="#878787" stroke-width="9.5"/>
<path d="M465.8 1944.8L470.9 1947.9L476.2 1950.5" stroke="#878787" stroke-width="10"/>
<path d="M476.2 1950.5L481.7 1952.9L487.3 1954.9" stroke="#818181" stroke-width="10"/>
<path d="M487.3 1954.9L493 1956.7L498.8 1958.2L504.6 1959.4" stroke="#818181" stroke-width="9.5"/>
<path d="M504.6 1959.4L510.5 1960.6L516.5 1961.5" stroke="#818181" stroke-width="9"/>
<path d="M516.5 1961.5L522.5 1962.3" stroke="#818181" stroke-width="8.5"/>
<path d="M522.5 1962.3L528.5 1962.9" stroke="#818181" stroke-width="8"/>
<path d="M528.5 1962.9L534.5 1963.4" stroke="#878787" stroke-width="8"/>
<path d="M534.5 1963.4L540.5 1963.8" stroke="#878787" stroke-width="7.5"/>
<path d="M540.5 1963.8L546.5 1964.1" stroke="#8c8c8c" stroke-width="7"/>
<path d="M170.3 1495.9L176.3 1495.9" stroke="#f4f4f4" stroke-width="4"/>
<path d="M176.3 1495.9L182.3 1495.9" stroke="#f4f4f4" stroke-width="4.5"/>
<path d="M182.3 1495.9L188.4 1495.9" stroke="#eeeeee" stroke-width="4.5"/>
<path d="M188.4 1495.9L194.4 1495.9L200.4 1495.9" stroke="#e8e8e8" stroke-width="4.5"/>
<path d="M200.4 1495.9L206.5 1495.9" stroke="#e2e2e2" stroke-width="5"/>
<path d="M206.5 1495.9L212.5 1495.9L218.6 1495.9" stroke="#dddddd" stroke-width="5"/>
<path d="M218.6 1495.9L224.6 1495.9" stroke="#d7d7d7" stroke-width="5"/>
<path d="M224.6 1495.9L230.6 1495.9" stroke="#d1d1d1" stroke-width="5"/>
<path d="M230.6 1495.9L236.7 1495.9" stroke="#cbcbcb" stroke-width="5"/>
<path d="M236.7 1495.9L242.7 1495.9" stroke="#c6c6c6" stroke-width="5"/>
<path d="M242.7 1495.9L248.8 1495.9" stroke="#c0c0c0" stroke-width="5"/>
<path d="M248.8 1495.9L254.8 1495.9" stroke="#bababa" stroke-width="5.5"/>
<path d="M254.8 1495.9L260.8 1495.9" stroke="#b5b5b5" stroke-width="5.5"/>
<path d="M260.8 1495.9L266.9 1495.9" stroke="#afafaf" stroke-width="5.5"/>
<path d="M266.9 1495.9L272.9 1495.9" stroke="#a3a3a3" stroke-width="5.5"/>
<path d="M272.9 1495.9L278.9 1496" stroke="#9e9e9e" stroke-width="5.5"/>
<path d="M278.9 1496L284.9 1496.1" stroke="#989898" stroke-width="6"/>
<path d="M284.9 1496.1L290.9 1496.4" stroke="#8c8c8c" stroke-width="6"/>
<path d="M290.9 1496.4L296.8 1497" stroke="#818181" stroke-width="6"/>
<path d="M296.8 1497L302.5 1497.9" stroke="#7b7b7b" stroke-width="6"/>
<path d="M302.5 1497.9L308 1499.3" stroke="#707070" stroke-width="6"/>
<path d="M308 1499.3L313.2 1501.3" stroke="#6a6a6a" stroke-width="6"/>
<path d="M313.2 1501.3L317.9 1504L322.3 1507.3" stroke="#5f5f5f" stroke-width="6"/>
<path d="M322.3 1507.3L326.1 1511.3" stroke="#595959" stroke-width="6"/>
<path d="M326.1 1511.3L329.5 1515.8L332.5 1520.7L335 1525.9L337.3 1531.4L339.3 1537.1L341.2 1542.8L342.9 1548.5L344.5 1554.4L346.1 1560.2" stroke="#535353" stroke-width="6"/>
<path d="M346.1 1560.2L347.6 1566L349 1571.9L350.5 1577.8L351.8 1583.6L353.2 1589.5L354.5 1595.4L355.8 1601.3" stroke="#595959" stroke-width="6"/>
<path d="M355.8 1601.3L357 1607.2L358.3 1613.1L359.5 1619L360.7 1625L361.9 1630.9L363.1 1636.8L364.3 1642.7L365.5 1648.6L366.7 1654.6" stroke="#5f5f5f" stroke-width="6"/>
<path d="M366.7 1654.6L367.8 1660.5L369 1666.4L370.2 1672.3L371.4 1678.2L372.5 1684.2L373.7 1690.1L374.9 1696L376.1 1701.9L377.3 1707.8L378.4 1713.8L379.6 1719.7L380.8 1725.6L381.9 1731.5L383.1 1737.5L384.2 1743.4L385.4 1749.3L386.5 1755.3L387.7 1761.2L388.9 1767.1L390 1773L391.3 1778.9" stroke="#646464" stroke-width="6"/>
<path d="M391.3 1778.9L392.5 1784.8L393.8 1790.7L395 1796.6L396.4 1802.5L397.7 1808.4L399.1 1814.3L400.6 1820.2L402 1826L403.6 1831.8L405.1 1837.7L406.8 1843.5L408.5 1849.3L410.2 1855L412 1860.8" stroke="#646464" stroke-width="6.5"/>
<path d="M412 1860.8L414 1866.5L416 1872.2L418.1 1877.8L420.3 1883.5" stroke="#5f5f5f" stroke-width="6.5"/>
<path d="M420.3 1883.5L422.7 1889L425.1 1894.5L427.8 1899.9" stroke="#595959" stroke-width="6.5"/>
<path d="M427.8 1899.9L430.6 1905.2L433.6 1910.4" stroke="#535353" stroke-width="7"/>
<path d="M433.6 1910.4L436.8 1915.5L440.2 1920.4" stroke="#4e4e4e" stroke-width="7"/>
<path d="M440.2 1920.4L443.8 1925.1L447.7 1929.6" stroke="#484848" stroke-width="7"/>
<path d="M447.7 1929.6L451.9 1933.8" stroke="#424242" stroke-width="7"/>
<path d="M451.9 1933.8L456.3 1937.8" stroke="#424242" stroke-width="7.5"/>
<path d="M456.3 1937.8L460.9 1941.5" stroke="#3c3c3c" stroke-width="7.5"/>
<path d="M460.9 1941.5L465.8 1944.8L470.9 1947.9" stroke="#373737" stroke-width="7.5"/>
<path d="M470.9 1947.9L476.2 1950.5L481.7 1952.9" stroke="#313131" stroke-width="7.5"/>
<path d="M481.7 1952.9L487.3 1954.9L493 1956.7L498.8 1958.2" stroke="#2b2b2b" stroke-width="7.5"/>
<path d="M498.8 1958.2L504.6 1959.4L510.5 1960.6L516.5 1961.5" stroke="#2b2b2b" stroke-width="7"/>
<path d="M516.5 1961.5L522.5 1962.3" stroke="#2b2b2b" stroke-width="6.5"/>
<path d="M522.5 1962.3L528.5 1962.9" stroke="#313131" stroke-width="6.5"/>
<path d="M528.5 1962.9L534.5 1963.4" stroke="#313131" stroke-width="6"/>
<path d="M534.5 1963.4L540.5 1963.8" stroke="#373737" stroke-width="5.5"/>
<path d="M540.5 1963.8L546.5 1964.1" stroke="#424242" stroke-width="5"/>
</g>
<circle cx="546.5" cy="1965.3" r="3.1" fill="#484848"/><circle cx="552.7" cy="1965.3" r="3.1" fill="#3c3c3c"/><circle cx="558.8" cy="1965.3" r="3.1" fill="#313131"/><circle cx="566.1" cy="1965.3" r="3.1" fill="#2c2c2c"/><circle cx="575.1" cy="1965.3" r="3.1" fill="#252525"/><circle cx="585.3" cy="1965.3" r="3.1" fill="#252525"/><circle cx="604.5" cy="1965.3" r="3.1" fill="#767676"/>
<g class="rd"><circle cx="174.4" cy="1495.9" r="3.0"/><circle cx="187.1" cy="1495.9" r="3.0"/><circle cx="201.8" cy="1495.9" r="3.0"/><circle cx="207.5" cy="1495.9" r="3.0"/><circle cx="213.6" cy="1495.9" r="3.0"/><circle cx="227.1" cy="1495.9" r="3.0"/><circle cx="229.9" cy="1495.9" r="3.0"/><circle cx="232.8" cy="1495.9" r="3.0"/><circle cx="235.6" cy="1495.9" r="3.0"/><circle cx="238.5" cy="1495.9" r="3.0"/><circle cx="241.4" cy="1495.9" r="3.0"/><circle cx="244.2" cy="1495.9" r="3.0"/><circle cx="247.1" cy="1495.9" r="3.0"/><circle cx="249.9" cy="1495.9" r="3.0"/><circle cx="252.8" cy="1495.9" r="3.0"/><circle cx="255.6" cy="1495.9" r="3.0"/><circle cx="258.5" cy="1495.9" r="3.0"/><circle cx="261.3" cy="1495.9" r="3.0"/><circle cx="264.2" cy="1495.9" r="3.0"/><circle cx="267.1" cy="1495.9" r="3.0"/><circle cx="269.9" cy="1495.9" r="3.0"/><circle cx="272.8" cy="1495.9" r="3.0"/><circle cx="275.6" cy="1495.9" r="3.0"/><circle cx="278.5" cy="1495.9" r="3.0"/><circle cx="281.3" cy="1495.9" r="3.0"/><circle cx="284.2" cy="1495.9" r="3.0"/><circle cx="287.1" cy="1495.9" r="3.0"/><circle cx="289.9" cy="1495.9" r="3.0"/><circle cx="292.8" cy="1495.9" r="3.0"/><circle cx="295.6" cy="1495.9" r="3.0"/><circle cx="298.5" cy="1495.9" r="3.0"/><circle cx="314" cy="1514.2" r="3.0"/><circle cx="324.8" cy="1519" r="3.0"/><circle cx="337.9" cy="1519.7" r="3.0"/><circle cx="352.3" cy="1521.9" r="3.0"/><circle cx="359" cy="1525.7" r="3.0"/><circle cx="344.4" cy="1531.7" r="3.0"/><circle cx="338" cy="1540" r="3.0"/><circle cx="347.5" cy="1547.7" r="3.0"/><circle cx="352.3" cy="1562" r="3.0"/><circle cx="348.7" cy="1563.2" r="3.0"/><circle cx="349.9" cy="1571.6" r="3.0"/><circle cx="356.3" cy="1576.4" r="3.0"/><circle cx="355.2" cy="1585.2" r="3.0"/><circle cx="359.5" cy="1599.1" r="3.0"/><circle cx="372.6" cy="1661.3" r="3.0"/><circle cx="400.8" cy="1786.3" r="3.0"/><circle cx="417.3" cy="1781.3" r="3.0"/><circle cx="303.5" cy="1495.9" r="3.0"/><circle cx="317.6" cy="1501.4" r="3.0"/><circle cx="327" cy="1508" r="3.0"/><circle cx="309.5" cy="1496.1" r="3.0"/><circle cx="324.5" cy="1501.1" r="3.0"/><circle cx="307.3" cy="1496.7" r="3.0"/><circle cx="336.6" cy="1518.9" r="3.0"/><circle cx="324" cy="1500.6" r="3.0"/><circle cx="321.6" cy="1501.5" r="3.0"/><circle cx="314.8" cy="1500" r="3.0"/><circle cx="305.3" cy="1495.9" r="3.0"/><circle cx="318.2" cy="1500.9" r="3.0"/><circle cx="309.8" cy="1497" r="3.0"/><circle cx="307.6" cy="1495.9" r="3.0"/><circle cx="338.7" cy="1518.3" r="3.0"/><circle cx="324.7" cy="1504" r="3.0"/><circle cx="298.9" cy="1496.6" r="3.0"/><circle cx="310.1" cy="1495.9" r="3.0"/><circle cx="312.5" cy="1498.7" r="3.0"/><circle cx="315.4" cy="1496.6" r="3.0"/><circle cx="302.2" cy="1497.9" r="3.0"/><circle cx="334.2" cy="1523" r="3.0"/><circle cx="319.6" cy="1497.2" r="3.0"/><circle cx="319" cy="1499" r="3.0"/><circle cx="306.2" cy="1497.8" r="3.0"/><circle cx="332.5" cy="1519.2" r="3.0"/><circle cx="310.8" cy="1496.8" r="3.0"/><circle cx="330.1" cy="1506.4" r="3.0"/><circle cx="322.6" cy="1498.1" r="3.0"/><circle cx="329.9" cy="1523.2" r="3.0"/></g>
<path d="M759.2 1965.3H1275.1" class="zl"/>
<path d="M1014.5 1472.4V1988.7" class="zl"/>
<path d="M759.2 1472.4V1988.7H1275.1" class="ax"/>
<path d="M755.6 1495.8h3.6M755.6 1613.2h3.6M755.6 1730.5h3.6M755.6 1847.9h3.6M755.6 1965.3h3.6M765.5 1988.7v3.6M889.8 1988.7v3.6M1014.5 1988.7v3.6M1138.7 1988.7v3.6M1262.6 1988.7v3.6" class="tk"/>
<text x="753.8" y="1502.7" class="yl">1.00</text>
<text x="753.8" y="1620.1" class="yl">0.75</text>
<text x="753.8" y="1737.5" class="yl">0.50</text>
<text x="753.8" y="1854.8" class="yl">0.25</text>
<text x="753.8" y="1972.2" class="yl">0.00</text>
<text x="765.5" y="2008.5" class="xl">-6</text>
<text x="889.8" y="2008.5" class="xl">-3</text>
<text x="1014.5" y="2008.5" class="xl">0</text>
<text x="1138.7" y="2008.5" class="xl">3</text>
<text x="1262.6" y="2008.5" class="xl">6</text>
<text x="885.9" y="1448.1" class="ti">Microglia</text>
<g filter="url(#b2)">
<path d="M973.2 1504.4L976.6 1509.4" stroke="#f9f9f9" stroke-width="13"/>
<path d="M976.6 1509.4L979.3 1514.7L981.6 1520.2" stroke="#f9f9f9" stroke-width="13.5"/>
<path d="M981.6 1520.2L983.7 1525.8L985.7 1531.5L987.6 1537.2" stroke="#f9f9f9" stroke-width="14"/>
<path d="M987.6 1537.2L989.4 1542.9L991.1 1548.6L992.7 1554.4" stroke="#f9f9f9" stroke-width="14.5"/>
<path d="M992.7 1554.4L994.3 1560.2L995.8 1566L997.2 1571.9" stroke="#f9f9f9" stroke-width="15"/>
<path d="M997.2 1571.9L998.6 1577.7L999.9 1583.5L1001.2 1589.4L1002.5 1595.3" stroke="#f9f9f9" stroke-width="15.5"/>
<path d="M1002.5 1595.3L1003.8 1601.1L1005 1607L1006.3 1612.9L1007.5 1618.8L1008.7 1624.7" stroke="#f9f9f9" stroke-width="16"/>
<path d="M1008.7 1624.7L1009.9 1630.6L1011 1636.5L1012.2 1642.3L1013.4 1648.2" stroke="#f9f9f9" stroke-width="16.5"/>
<path d="M1013.4 1648.2L1014.5 1654.1" stroke="#f9f9f9" stroke-width="17"/>
<path d="M1014.5 1654.1L1015.7 1660L1016.8 1665.9L1018 1671.8L1019.1 1677.7" stroke="#f4f4f4" stroke-width="17"/>
<path d="M1019.1 1677.7L1020.3 1683.6L1021.4 1689.5L1022.6 1695.4L1023.7 1701.3L1024.9 1707.2" stroke="#f4f4f4" stroke-width="17.5"/>
<path d="M1024.9 1707.2L1026.1 1713.1L1027.2 1719L1028.4 1724.9L1029.5 1730.8" stroke="#f4f4f4" stroke-width="18"/>
<path d="M1029.5 1730.8L1030.7 1736.7L1031.8 1742.6L1033 1748.5L1034.1 1754.4L1035.3 1760.2" stroke="#f4f4f4" stroke-width="18.5"/>
<path d="M1035.3 1760.2L1036.5 1766.1L1037.7 1772L1038.9 1777.9L1040.1 1783.8L1041.4 1789.7L1042.7 1795.5L1044 1801.4L1045.4 1807.2L1046.8 1813.1L1048.2 1818.9L1049.7 1824.7L1051.2 1830.5L1052.8 1836.3L1054.4 1842.1L1056.1 1847.9L1057.9 1853.6L1059.7 1859.3L1061.6 1865L1063.6 1870.7L1065.7 1876.3L1067.9 1881.9L1070.2 1887.4" stroke="#f4f4f4" stroke-width="19"/>
<path d="M1070.2 1887.4L1072.7 1892.9L1075.3 1898.2L1078.1 1903.5" stroke="#f9f9f9" stroke-width="19"/>
<path d="M1078.1 1903.5L1081 1908.7L1084.2 1913.8" stroke="#f9f9f9" stroke-width="18.5"/>
<path d="M1084.2 1913.8L1087.5 1918.7" stroke="#f9f9f9" stroke-width="18"/>
<path d="M1087.5 1918.7L1091.1 1923.5" stroke="#f9f9f9" stroke-width="17.5"/>
<path d="M1091.1 1923.5L1094.8 1928.1" stroke="#f9f9f9" stroke-width="17"/>
<path d="M1094.8 1928.1L1098.8 1932.5" stroke="#f9f9f9" stroke-width="16.5"/>
<path d="M1098.8 1932.5L1102.9 1936.8" stroke="#f9f9f9" stroke-width="16"/>
<path d="M1102.9 1936.8L1107.3 1940.9" stroke="#f9f9f9" stroke-width="15.5"/>
<path d="M1107.3 1940.9L1111.9 1944.6" stroke="#f9f9f9" stroke-width="14.5"/>
<path d="M1111.9 1944.6L1116.9 1948" stroke="#f9f9f9" stroke-width="14"/>
<path d="M1116.9 1948L1122.1 1950.9" stroke="#f9f9f9" stroke-width="13"/>
<path d="M973.2 1504.4L976.6 1509.4" stroke="#f4f4f4" stroke-width="8"/>
<path d="M976.6 1509.4L979.3 1514.7L981.6 1520.2L983.7 1525.8L985.7 1531.5" stroke="#f4f4f4" stroke-width="8.5"/>
<path d="M985.7 1531.5L987.6 1537.2L989.4 1542.9L991.1 1548.6L992.7 1554.4" stroke="#f4f4f4" stroke-width="9"/>
<path d="M992.7 1554.4L994.3 1560.2L995.8 1566L997.2 1571.9L998.6 1577.7L999.9 1583.5L1001.2 1589.4" stroke="#eeeeee" stroke-width="9.5"/>
<path d="M1001.2 1589.4L1002.5 1595.3L1003.8 1601.1L1005 1607L1006.3 1612.9L1007.5 1618.8L1008.7 1624.7L1009.9 1630.6" stroke="#eeeeee" stroke-width="10"/>
<path d="M1009.9 1630.6L1011 1636.5L1012.2 1642.3L1013.4 1648.2L1014.5 1654.1L1015.7 1660L1016.8 1665.9L1018 1671.8L1019.1 1677.7" stroke="#eeeeee" stroke-width="10.5"/>
<path d="M1019.1 1677.7L1020.3 1683.6L1021.4 1689.5L1022.6 1695.4L1023.7 1701.3L1024.9 1707.2L1026.1 1713.1L1027.2 1719" stroke="#eeeeee" stroke-width="11"/>
<path d="M1027.2 1719L1028.4 1724.9L1029.5 1730.8L1030.7 1736.7L1031.8 1742.6L1033 1748.5L1034.1 1754.4L1035.3 1760.2" stroke="#eeeeee" stroke-width="11.5"/>
<path d="M1035.3 1760.2L1036.5 1766.1" stroke="#eeeeee" stroke-width="12"/>
<path d="M1036.5 1766.1L1037.7 1772L1038.9 1777.9L1040.1 1783.8L1041.4 1789.7L1042.7 1795.5L1044 1801.4" stroke="#e8e8e8" stroke-width="12"/>
<path d="M1044 1801.4L1045.4 1807.2L1046.8 1813.1L1048.2 1818.9L1049.7 1824.7L1051.2 1830.5L1052.8 1836.3L1054.4 1842.1L1056.1 1847.9L1057.9 1853.6L1059.7 1859.3L1061.6 1865L1063.6 1870.7L1065.7 1876.3L1067.9 1881.9L1070.2 1887.4L1072.7 1892.9L1075.3 1898.2L1078.1 1903.5" stroke="#eeeeee" stroke-width="12"/>
<path d="M1078.1 1903.5L1081 1908.7L1084.2 1913.8L1087.5 1918.7" stroke="#eeeeee" stroke-width="11.5"/>
<path d="M1087.5 1918.7L1091.1 1923.5L1094.8 1928.1" stroke="#f4f4f4" stroke-width="11"/>
<path d="M1094.8 1928.1L1098.8 1932.5" stroke="#f4f4f4" stroke-width="10.5"/>
<path d="M1098.8 1932.5L1102.9 1936.8" stroke="#f4f4f4" stroke-width="10"/>
<path d="M1102.9 1936.8L1107.3 1940.9" stroke="#f4f4f4" stroke-width="9.5"/>
<path d="M1107.3 1940.9L1111.9 1944.6" stroke="#f4f4f4" stroke-width="9"/>
<path d="M1111.9 1944.6L1116.9 1948L1122.1 1950.9" stroke="#f9f9f9" stroke-width="8.5"/>
</g>
<g filter="url(#b1)">
<path d="M940 1513L946 1513.5" stroke="#f9f9f9" stroke-width="8.5"/>
<path d="M946 1513.5L952 1514.2" stroke="#f9f9f9" stroke-width="10"/>
<path d="M952 1514.2L958 1514.9" stroke="#f9f9f9" stroke-width="11"/>
<path d="M958 1514.9L964 1516" stroke="#f4f4f4" stroke-width="11.5"/>
<path d="M940 1513L946 1513.5" stroke="#eeeeee" stroke-width="6"/>
<path d="M946 1513.5L952 1514.2" stroke="#e8e8e8" stroke-width="7"/>
<path d="M952 1514.2L958 1514.9" stroke="#e2e2e2" stroke-width="7.5"/>
<path d="M958 1514.9L964 1516" stroke="#dddddd" stroke-width="8"/>
<path d="M940 1513L946 1513.5" stroke="#dddddd" stroke-width="4.5"/>
<path d="M946 1513.5L952 1514.2" stroke="#cbcbcb" stroke-width="5"/>
<path d="M952 1514.2L958 1514.9" stroke="#bababa" stroke-width="5.5"/>
<path d="M958 1514.9L964 1516" stroke="#b5b5b5" stroke-width="6"/>
</g>
<g filter="url(#b1)">
<path d="M817.8 1495.8L823.8 1495.8" stroke="#f9f9f9" stroke-width="7.5"/>
<path d="M823.8 1495.8L829.8 1495.8" stroke="#f9f9f9" stroke-width="8"/>
<path d="M829.8 1495.8L835.9 1495.8L841.9 1495.8L847.9 1495.8" stroke="#f9f9f9" stroke-width="8.5"/>
<path d="M847.9 1495.8L853.9 1495.8" stroke="#f9f9f9" stroke-width="9"/>
<path d="M853.9 1495.8L859.9 1495.8L866 1495.8L872 1495.8L878 1495.8L884 1495.8" stroke="#f4f4f4" stroke-width="9"/>
<path d="M884 1495.8L890.1 1495.8L896.1 1495.8L902.1 1495.8" stroke="#eeeeee" stroke-width="9.5"/>
<path d="M902.1 1495.8L908.1 1495.8" stroke="#eeeeee" stroke-width="10"/>
<path d="M908.1 1495.8L914.1 1495.8L920.2 1495.9" stroke="#e8e8e8" stroke-width="10"/>
<path d="M920.2 1495.9L926.2 1496" stroke="#e8e8e8" stroke-width="10.5"/>
<path d="M926.2 1496L932.1 1496.2L938 1496.6" stroke="#e2e2e2" stroke-width="10.5"/>
<path d="M938 1496.6L943.8 1497.4L949.4 1498.6" stroke="#dddddd" stroke-width="10.5"/>
<path d="M949.4 1498.6L954.7 1500.3" stroke="#dddddd" stroke-width="11"/>
<path d="M954.7 1500.3L959.7 1502.6L964.2 1505.6L968.3 1509.3L971.9 1513.5L975.1 1518.3L977.8 1523.4L980.2 1528.7L982.4 1534.3L984.3 1539.9L986.1 1545.7L987.8 1551.4L989.3 1557.2L990.9 1563.1L992.3 1568.9L993.7 1574.8L995.1 1580.6L996.5 1586.5L997.8 1592.4L999 1598.2L1000.3 1604.1L1001.5 1610L1002.7 1615.9L1004 1621.8L1005.1 1627.7L1006.3 1633.6L1007.5 1639.5L1008.7 1645.4L1009.8 1651.4L1011 1657.3L1012.1 1663.2L1013.3 1669.1L1014.4 1675L1015.6 1680.9L1016.8 1686.8L1017.9 1692.7L1019.1 1698.6L1020.2 1704.5L1021.4 1710.4L1022.6 1716.3L1023.7 1722.3L1024.9 1728.2L1026 1734.1L1027.2 1740L1028.3 1745.9L1029.5 1751.8L1030.6 1757.7L1031.8 1763.6L1033 1769.5L1034.2 1775.4L1035.5 1781.3" stroke="#d7d7d7" stroke-width="11"/>
<path d="M1035.5 1781.3L1036.7 1787.2L1038 1793.1L1039.3 1799L1040.7 1804.8L1042.1 1810.7L1043.5 1816.5L1045 1822.4L1046.5 1828.2L1048 1834L1049.6 1839.8L1051.3 1845.6L1053 1851.3L1054.8 1857.1L1056.7 1862.8" stroke="#d7d7d7" stroke-width="11.5"/>
<path d="M1056.7 1862.8L1058.7 1868.5L1060.8 1874.1L1062.9 1879.7L1065.2 1885.3L1067.6 1890.8L1070.2 1896.2L1072.9 1901.6L1075.8 1906.8" stroke="#d7d7d7" stroke-width="12"/>
<path d="M1075.8 1906.8L1078.8 1911.9L1082.1 1916.9L1085.6 1921.8L1089.4 1926.4" stroke="#d1d1d1" stroke-width="12.5"/>
<path d="M1089.4 1926.4L1093.4 1930.8L1097.6 1934.9L1102.1 1938.8" stroke="#d1d1d1" stroke-width="13"/>
<path d="M1102.1 1938.8L1106.8 1942.3L1111.7 1945.6L1116.9 1948.5L1122.2 1951.1L1127.7 1953.3L1133.3 1955.3L1139 1957" stroke="#cbcbcb" stroke-width="13.5"/>
<path d="M1139 1957L1144.8 1958.4L1150.7 1959.6" stroke="#cbcbcb" stroke-width="13"/>
<path d="M1150.7 1959.6L1156.6 1960.7" stroke="#cbcbcb" stroke-width="12.5"/>
<path d="M1156.6 1960.7L1162.5 1961.6" stroke="#cbcbcb" stroke-width="12"/>
<path d="M1162.5 1961.6L1168.5 1962.3L1174.5 1962.9" stroke="#cbcbcb" stroke-width="11.5"/>
<path d="M1174.5 1962.9L1180.5 1963.4" stroke="#cbcbcb" stroke-width="11"/>
<path d="M1180.5 1963.4L1186.5 1963.8" stroke="#cbcbcb" stroke-width="10"/>
<path d="M1186.5 1963.8L1192.5 1964.1" stroke="#d1d1d1" stroke-width="9.5"/>
<path d="M811.8 1495.8L817.8 1495.8L823.8 1495.8" stroke="#f9f9f9" stroke-width="5.5"/>
<path d="M823.8 1495.8L829.8 1495.8L835.9 1495.8" stroke="#f4f4f4" stroke-width="6"/>
<path d="M835.9 1495.8L841.9 1495.8L847.9 1495.8" stroke="#eeeeee" stroke-width="6"/>
<path d="M847.9 1495.8L853.9 1495.8" stroke="#eeeeee" stroke-width="6.5"/>
<path d="M853.9 1495.8L859.9 1495.8L866 1495.8" stroke="#e8e8e8" stroke-width="6.5"/>
<path d="M866 1495.8L872 1495.8L878 1495.8" stroke="#e2e2e2" stroke-width="6.5"/>
<path d="M878 1495.8L884 1495.8L890.1 1495.8" stroke="#dddddd" stroke-width="6.5"/>
<path d="M890.1 1495.8L896.1 1495.8" stroke="#d7d7d7" stroke-width="7"/>
<path d="M896.1 1495.8L902.1 1495.8L908.1 1495.8" stroke="#d1d1d1" stroke-width="7"/>
<path d="M908.1 1495.8L914.1 1495.8" stroke="#cbcbcb" stroke-width="7"/>
<path d="M914.1 1495.8L920.2 1495.9" stroke="#c6c6c6" stroke-width="7.5"/>
<path d="M920.2 1495.9L926.2 1496" stroke="#c0c0c0" stroke-width="7.5"/>
<path d="M926.2 1496L932.1 1496.2" stroke="#bababa" stroke-width="7.5"/>
<path d="M932.1 1496.2L938 1496.6" stroke="#b5b5b5" stroke-width="7.5"/>
<path d="M938 1496.6L943.8 1497.4" stroke="#afafaf" stroke-width="7.5"/>
<path d="M943.8 1497.4L949.4 1498.6" stroke="#a9a9a9" stroke-width="8"/>
<path d="M949.4 1498.6L954.7 1500.3L959.7 1502.6" stroke="#a3a3a3" stroke-width="8"/>
<path d="M959.7 1502.6L964.2 1505.6L968.3 1509.3" stroke="#9e9e9e" stroke-width="8"/>
<path d="M968.3 1509.3L971.9 1513.5L975.1 1518.3L977.8 1523.4L980.2 1528.7L982.4 1534.3L984.3 1539.9L986.1 1545.7L987.8 1551.4L989.3 1557.2L990.9 1563.1L992.3 1568.9L993.7 1574.8" stroke="#989898" stroke-width="8"/>
<path d="M993.7 1574.8L995.1 1580.6L996.5 1586.5L997.8 1592.4L999 1598.2L1000.3 1604.1L1001.5 1610L1002.7 1615.9L1004 1621.8L1005.1 1627.7L1006.3 1633.6L1007.5 1639.5L1008.7 1645.4L1009.8 1651.4L1011 1657.3" stroke="#9e9e9e" stroke-width="8"/>
<path d="M1011 1657.3L1012.1 1663.2L1013.3 1669.1L1014.4 1675L1015.6 1680.9L1016.8 1686.8L1017.9 1692.7L1019.1 1698.6L1020.2 1704.5L1021.4 1710.4L1022.6 1716.3L1023.7 1722.3L1024.9 1728.2L1026 1734.1L1027.2 1740L1028.3 1745.9L1029.5 1751.8L1030.6 1757.7L1031.8 1763.6L1033 1769.5L1034.2 1775.4L1035.5 1781.3L1036.7 1787.2L1038 1793.1L1039.3 1799L1040.7 1804.8L1042.1 1810.7L1043.5 1816.5" stroke="#a3a3a3" stroke-width="8"/>
<path d="M1043.5 1816.5L1045 1822.4L1046.5 1828.2L1048 1834L1049.6 1839.8L1051.3 1845.6L1053 1851.3L1054.8 1857.1" stroke="#a3a3a3" stroke-width="8.5"/>
<path d="M1054.8 1857.1L1056.7 1862.8L1058.7 1868.5L1060.8 1874.1L1062.9 1879.7L1065.2 1885.3L1067.6 1890.8L1070.2 1896.2" stroke="#9e9e9e" stroke-width="8.5"/>
<path d="M1070.2 1896.2L1072.9 1901.6L1075.8 1906.8L1078.8 1911.9L1082.1 1916.9" stroke="#989898" stroke-width="9"/>
<path d="M1082.1 1916.9L1085.6 1921.8L1089.4 1926.4" stroke="#929292" stroke-width="9"/>
<path d="M1089.4 1926.4L1093.4 1930.8" stroke="#929292" stroke-width="9.5"/>
<path d="M1093.4 1930.8L1097.6 1934.9L1102.1 1938.8L1106.8 1942.3" stroke="#8c8c8c" stroke-width="9.5"/>
<path d="M1106.8 1942.3L1111.7 1945.6L1116.9 1948.5" stroke="#878787" stroke-width="10"/>
<path d="M1116.9 1948.5L1122.2 1951.1L1127.7 1953.3L1133.3 1955.3" stroke="#818181" stroke-width="10"/>
<path d="M1133.3 1955.3L1139 1957L1144.8 1958.4L1150.7 1959.6" stroke="#818181" stroke-width="9.5"/>
<path d="M1150.7 1959.6L1156.6 1960.7L1162.5 1961.6" stroke="#818181" stroke-width="9"/>
<path d="M1162.5 1961.6L1168.5 1962.3" stroke="#818181" stroke-width="8.5"/>
<path d="M1168.5 1962.3L1174.5 1962.9" stroke="#818181" stroke-width="8"/>
<path d="M1174.5 1962.9L1180.5 1963.4" stroke="#878787" stroke-width="8"/>
<path d="M1180.5 1963.4L1186.5 1963.8" stroke="#878787" stroke-width="7.5"/>
<path d="M1186.5 1963.8L1192.5 1964.1" stroke="#8c8c8c" stroke-width="7"/>
<path d="M811.8 1495.8L817.8 1495.8" stroke="#f4f4f4" stroke-width="4"/>
<path d="M817.8 1495.8L823.8 1495.8" stroke="#f4f4f4" stroke-width="4.5"/>
<path d="M823.8 1495.8L829.8 1495.8" stroke="#eeeeee" stroke-width="4.5"/>
<path d="M829.8 1495.8L835.9 1495.8L841.9 1495.8" stroke="#e8e8e8" stroke-width="4.5"/>
<path d="M841.9 1495.8L847.9 1495.8" stroke="#e2e2e2" stroke-width="5"/>
<path d="M847.9 1495.8L853.9 1495.8L859.9 1495.8" stroke="#dddddd" stroke-width="5"/>
<path d="M859.9 1495.8L866 1495.8" stroke="#d7d7d7" stroke-width="5"/>
<path d="M866 1495.8L872 1495.8" stroke="#d1d1d1" stroke-width="5"/>
<path d="M872 1495.8L878 1495.8" stroke="#cbcbcb" stroke-width="5"/>
<path d="M878 1495.8L884 1495.8" stroke="#c6c6c6" stroke-width="5"/>
<path d="M884 1495.8L890.1 1495.8" stroke="#c0c0c0" stroke-width="5"/>
<path d="M890.1 1495.8L896.1 1495.8" stroke="#bababa" stroke-width="5.5"/>
<path d="M896.1 1495.8L902.1 1495.8" stroke="#b5b5b5" stroke-width="5.5"/>
<path d="M902.1 1495.8L908.1 1495.8" stroke="#afafaf" stroke-width="5.5"/>
<path d="M908.1 1495.8L914.1 1495.8" stroke="#a9a9a9" stroke-width="5.5"/>
<path d="M914.1 1495.8L920.2 1495.9" stroke="#a3a3a3" stroke-width="5.5"/>
<path d="M920.2 1495.9L926.2 1496" stroke="#989898" stroke-width="6"/>
<path d="M926.2 1496L932.1 1496.2" stroke="#8c8c8c" stroke-width="6"/>
<path d="M932.1 1496.2L938 1496.6" stroke="#878787" stroke-width="6"/>
<path d="M938 1496.6L943.8 1497.4" stroke="#7b7b7b" stroke-width="6"/>
<path d="M943.8 1497.4L949.4 1498.6" stroke="#767676" stroke-width="6"/>
<path d="M949.4 1498.6L954.7 1500.3" stroke="#6a6a6a" stroke-width="6"/>
<path d="M954.7 1500.3L959.7 1502.6" stroke="#646464" stroke-width="6"/>
<path d="M959.7 1502.6L964.2 1505.6" stroke="#5f5f5f" stroke-width="6"/>
<path d="M964.2 1505.6L968.3 1509.3L971.9 1513.5" stroke="#595959" stroke-width="6"/>
<path d="M971.9 1513.5L975.1 1518.3L977.8 1523.4L980.2 1528.7L982.4 1534.3L984.3 1539.9L986.1 1545.7L987.8 1551.4L989.3 1557.2" stroke="#535353" stroke-width="6"/>
<path d="M989.3 1557.2L990.9 1563.1L992.3 1568.9L993.7 1574.8L995.1 1580.6L996.5 1586.5L997.8 1592.4L999 1598.2L1000.3 1604.1" stroke="#595959" stroke-width="6"/>
<path d="M1000.3 1604.1L1001.5 1610L1002.7 1615.9L1004 1621.8L1005.1 1627.7L1006.3 1633.6L1007.5 1639.5L1008.7 1645.4L1009.8 1651.4L1011 1657.3" stroke="#5f5f5f" stroke-width="6"/>
<path d="M1011 1657.3L1012.1 1663.2L1013.3 1669.1L1014.4 1675L1015.6 1680.9L1016.8 1686.8L1017.9 1692.7L1019.1 1698.6L1020.2 1704.5L1021.4 1710.4L1022.6 1716.3L1023.7 1722.3L1024.9 1728.2L1026 1734.1L1027.2 1740L1028.3 1745.9L1029.5 1751.8L1030.6 1757.7L1031.8 1763.6L1033 1769.5L1034.2 1775.4L1035.5 1781.3" stroke="#646464" stroke-width="6"/>
<path d="M1035.5 1781.3L1036.7 1787.2L1038 1793.1L1039.3 1799L1040.7 1804.8L1042.1 1810.7L1043.5 1816.5L1045 1822.4L1046.5 1828.2L1048 1834L1049.6 1839.8L1051.3 1845.6L1053 1851.3L1054.8 1857.1" stroke="#646464" stroke-width="6.5"/>
<path d="M1054.8 1857.1L1056.7 1862.8L1058.7 1868.5L1060.8 1874.1L1062.9 1879.7L1065.2 1885.3" stroke="#5f5f5f" stroke-width="6.5"/>
<path d="M1065.2 1885.3L1067.6 1890.8L1070.2 1896.2L1072.9 1901.6" stroke="#595959" stroke-width="6.5"/>
<path d="M1072.9 1901.6L1075.8 1906.8L1078.8 1911.9" stroke="#535353" stroke-width="7"/>
<path d="M1078.8 1911.9L1082.1 1916.9L1085.6 1921.8" stroke="#4e4e4e" stroke-width="7"/>
<path d="M1085.6 1921.8L1089.4 1926.4L1093.4 1930.8" stroke="#484848" stroke-width="7"/>
<path d="M1093.4 1930.8L1097.6 1934.9" stroke="#424242" stroke-width="7"/>
<path d="M1097.6 1934.9L1102.1 1938.8L1106.8 1942.3" stroke="#3c3c3c" stroke-width="7.5"/>
<path d="M1106.8 1942.3L1111.7 1945.6L1116.9 1948.5" stroke="#373737" stroke-width="7.5"/>
<path d="M1116.9 1948.5L1122.2 1951.1L1127.7 1953.3" stroke="#313131" stroke-width="7.5"/>
<path d="M1127.7 1953.3L1133.3 1955.3L1139 1957L1144.8 1958.4" stroke="#2b2b2b" stroke-width="7.5"/>
<path d="M1144.8 1958.4L1150.7 1959.6L1156.6 1960.7L1162.5 1961.6" stroke="#2b2b2b" stroke-width="7"/>
<path d="M1162.5 1961.6L1168.5 1962.3" stroke="#2b2b2b" stroke-width="6.5"/>
<path d="M1168.5 1962.3L1174.5 1962.9" stroke="#313131" stroke-width="6.5"/>
<path d="M1174.5 1962.9L1180.5 1963.4" stroke="#373737" stroke-width="6"/>
<path d="M1180.5 1963.4L1186.5 1963.8" stroke="#373737" stroke-width="5.5"/>
<path d="M1186.5 1963.8L1192.5 1964.1" stroke="#424242" stroke-width="5"/>
</g>
<circle cx="1192.5" cy="1965.3" r="3.1" fill="#484848"/><circle cx="1198.7" cy="1965.3" r="3.1" fill="#3c3c3c"/><circle cx="1204.9" cy="1965.3" r="3.1" fill="#313131"/><circle cx="1212.4" cy="1965.3" r="3.1" fill="#2c2c2c"/><circle cx="1221.5" cy="1965.3" r="3.1" fill="#252525"/><circle cx="1231.8" cy="1965.3" r="3.1" fill="#252525"/><circle cx="1251.3" cy="1965.3" r="3.1" fill="#767676"/><circle cx="1233.9" cy="1965.3" r="3.1" fill="#afafaf"/>
<g class="rd"><circle cx="827" cy="1495.8" r="3.0"/><circle cx="843.5" cy="1495.8" r="3.0"/><circle cx="856.4" cy="1495.8" r="3.0"/><circle cx="871.7" cy="1495.8" r="3.0"/><circle cx="874.6" cy="1495.8" r="3.0"/><circle cx="877.5" cy="1495.8" r="3.0"/><circle cx="880.4" cy="1495.8" r="3.0"/><circle cx="883.3" cy="1495.8" r="3.0"/><circle cx="886.2" cy="1495.8" r="3.0"/><circle cx="889.1" cy="1495.8" r="3.0"/><circle cx="892" cy="1495.8" r="3.0"/><circle cx="894.9" cy="1495.8" r="3.0"/><circle cx="897.8" cy="1495.8" r="3.0"/><circle cx="900.6" cy="1495.8" r="3.0"/><circle cx="903.5" cy="1495.8" r="3.0"/><circle cx="906.4" cy="1495.8" r="3.0"/><circle cx="909.3" cy="1495.8" r="3.0"/><circle cx="912.2" cy="1495.8" r="3.0"/><circle cx="915.1" cy="1495.8" r="3.0"/><circle cx="918" cy="1495.8" r="3.0"/><circle cx="920.9" cy="1495.8" r="3.0"/><circle cx="923.8" cy="1495.8" r="3.0"/><circle cx="926.7" cy="1495.8" r="3.0"/><circle cx="929.6" cy="1495.8" r="3.0"/><circle cx="932.5" cy="1495.8" r="3.0"/><circle cx="935.4" cy="1495.8" r="3.0"/><circle cx="938.3" cy="1495.8" r="3.0"/><circle cx="941.2" cy="1495.8" r="3.0"/><circle cx="944.1" cy="1495.8" r="3.0"/><circle cx="947" cy="1495.8" r="3.0"/><circle cx="949.9" cy="1495.8" r="3.0"/><circle cx="952.8" cy="1495.8" r="3.0"/><circle cx="955.7" cy="1495.8" r="3.0"/><circle cx="958.6" cy="1495.8" r="3.0"/><circle cx="964" cy="1497.3" r="3.0"/><circle cx="971.7" cy="1503.9" r="3.0"/><circle cx="969.3" cy="1506.3" r="3.0"/><circle cx="970.5" cy="1509.9" r="3.0"/><circle cx="974.1" cy="1517.1" r="3.0"/><circle cx="976.5" cy="1520.6" r="3.0"/><circle cx="977.7" cy="1524.2" r="3.0"/><circle cx="975.3" cy="1530.2" r="3.0"/><circle cx="978.9" cy="1527.8" r="3.0"/><circle cx="947.8" cy="1512.3" r="3.0"/><circle cx="949" cy="1513.5" r="3.0"/><circle cx="988.5" cy="1521.8" r="3.0"/><circle cx="997.4" cy="1518.3" r="3.0"/><circle cx="987.9" cy="1539.2" r="3.0"/><circle cx="981.3" cy="1545.2" r="3.0"/><circle cx="1006.2" cy="1570.3" r="3.0"/><circle cx="1021.7" cy="1579.8" r="3.0"/><circle cx="1001.4" cy="1607.3" r="3.0"/><circle cx="1003.4" cy="1613.3" r="3.0"/><circle cx="1018.1" cy="1608.5" r="3.0"/><circle cx="1015.1" cy="1618.1" r="3.0"/><circle cx="1018.4" cy="1624.6" r="3.0"/><circle cx="1035.7" cy="1653.9" r="3.0"/><circle cx="1052.6" cy="1734.6" r="3.0"/><circle cx="1044.6" cy="1753.6" r="3.0"/><circle cx="1061.3" cy="1778.3" r="3.0"/><circle cx="960" cy="1498" r="3.0"/><circle cx="966" cy="1500" r="3.0"/><circle cx="968" cy="1502" r="3.0"/></g>
<path d="M1382 1965.7H1896.7" class="zl"/>
<path d="M1637.7 1472.4V1989" class="zl"/>
<path d="M1382 1472.4V1989H1896.7" class="ax"/>
<path d="M1378.4 1495.8h3.6M1378.4 1613.3h3.6M1378.4 1730.8h3.6M1378.4 1848.2h3.6M1378.4 1965.7h3.6M1398.8 1989v3.6M1518.3 1989v3.6M1637.7 1989v3.6M1757.2 1989v3.6M1876.7 1989v3.6" class="tk"/>
<text x="1376.6" y="1502.7" class="yl">1.00</text>
<text x="1376.6" y="1620.2" class="yl">0.75</text>
<text x="1376.6" y="1737.7" class="yl">0.50</text>
<text x="1376.6" y="1855.1" class="yl">0.25</text>
<text x="1376.6" y="1972.6" class="yl">0.00</text>
<text x="1398.8" y="2008.8" class="xl">-5.0</text>
<text x="1518.3" y="2008.8" class="xl">-2.5</text>
<text x="1637.7" y="2008.8" class="xl">0.0</text>
<text x="1757.2" y="2008.8" class="xl">2.5</text>
<text x="1876.7" y="2008.8" class="xl">5.0</text>
<text x="1491.1" y="1447.3" class="ti">Endothelial</text>
<g filter="url(#b2)">
<path d="M1581.1 1498.2L1586.2 1501.3" stroke="#f4f4f4" stroke-width="19.5"/>
<path d="M1586.2 1501.3L1590.4 1505.6" stroke="#f4f4f4" stroke-width="20"/>
<path d="M1590.4 1505.6L1594 1510.4" stroke="#f4f4f4" stroke-width="20.5"/>
<path d="M1594 1510.4L1597 1515.4L1599.9 1520.7" stroke="#f4f4f4" stroke-width="21"/>
<path d="M1599.9 1520.7L1602.5 1526.1L1604.9 1531.6" stroke="#f4f4f4" stroke-width="21.5"/>
<path d="M1604.9 1531.6L1607.2 1537.1L1609.3 1542.8" stroke="#f4f4f4" stroke-width="22"/>
<path d="M1609.3 1542.8L1611.2 1548.5L1613.1 1554.3" stroke="#f4f4f4" stroke-width="22.5"/>
<path d="M1613.1 1554.3L1614.8 1560.1L1616.5 1565.9L1618.2 1571.7" stroke="#f4f4f4" stroke-width="23"/>
<path d="M1618.2 1571.7L1619.8 1577.5L1621.3 1583.4L1622.8 1589.3" stroke="#eeeeee" stroke-width="23.5"/>
<path d="M1622.8 1589.3L1624.3 1595.1L1625.7 1601L1627.1 1606.9" stroke="#eeeeee" stroke-width="24"/>
<path d="M1627.1 1606.9L1628.5 1612.8L1629.9 1618.7L1631.3 1624.6L1632.6 1630.5" stroke="#eeeeee" stroke-width="24.5"/>
<path d="M1632.6 1630.5L1634 1636.4L1635.3 1642.3L1636.6 1648.2L1637.9 1654.2" stroke="#eeeeee" stroke-width="25"/>
<path d="M1637.9 1654.2L1639.3 1660.1L1640.6 1666L1641.9 1671.9L1643.2 1677.8L1644.5 1683.7L1645.8 1689.6L1647.1 1695.6L1648.5 1701.5L1649.8 1707.4L1651.1 1713.3L1652.4 1719.2L1653.8 1725.1L1655.1 1731L1656.4 1736.9L1657.7 1742.9L1659.1 1748.8L1660.4 1754.7L1661.7 1760.6L1663.1 1766.5L1664.5 1772.4L1665.9 1778.3L1667.3 1784.2L1668.8 1790L1670.3 1795.9L1671.8 1801.8L1673.4 1807.6L1675 1813.5L1676.7 1819.3L1678.4 1825.1L1680.1 1830.9L1681.9 1836.7L1683.8 1842.4L1685.7 1848.2L1687.8 1853.9L1689.9 1859.5L1692 1865.2L1694.3 1870.8L1696.7 1876.4" stroke="#eeeeee" stroke-width="25.5"/>
<path d="M1696.7 1876.4L1699.2 1881.9L1701.8 1887.3L1704.6 1892.7L1707.5 1898L1710.6 1903.1" stroke="#f4f4f4" stroke-width="25.5"/>
<path d="M1710.6 1903.1L1713.8 1908.2L1717.3 1913.1" stroke="#f4f4f4" stroke-width="25"/>
<path d="M1717.3 1913.1L1720.9 1917.9L1724.8 1922.5" stroke="#f4f4f4" stroke-width="24.5"/>
<path d="M1724.8 1922.5L1728.9 1926.9" stroke="#f4f4f4" stroke-width="24"/>
<path d="M1728.9 1926.9L1733.2 1931.1" stroke="#f4f4f4" stroke-width="23.5"/>
<path d="M1733.2 1931.1L1737.7 1935" stroke="#f4f4f4" stroke-width="22.5"/>
<path d="M1737.7 1935L1742.4 1938.6" stroke="#f4f4f4" stroke-width="22"/>
<path d="M1742.4 1938.6L1747.3 1942" stroke="#f4f4f4" stroke-width="21.5"/>
<path d="M1747.3 1942L1752.4 1945.2" stroke="#f4f4f4" stroke-width="21"/>
<path d="M1752.4 1945.2L1757.6 1948.1" stroke="#f4f4f4" stroke-width="20"/>
<path d="M1757.6 1948.1L1763 1950.8" stroke="#f9f9f9" stroke-width="19.5"/>
<path d="M1763 1950.8L1768.5 1953.2" stroke="#f9f9f9" stroke-width="18.5"/>
<path d="M1768.5 1953.2L1774.2 1955.2" stroke="#f9f9f9" stroke-width="18"/>
<path d="M1774.2 1955.2L1780 1957" stroke="#f9f9f9" stroke-width="17"/>
<path d="M1780 1957L1785.9 1958.4" stroke="#f9f9f9" stroke-width="16.5"/>
<path d="M1581.1 1498.2L1586.2 1501.3" stroke="#e8e8e8" stroke-width="12"/>
<path d="M1586.2 1501.3L1590.4 1505.6" stroke="#e8e8e8" stroke-width="12.5"/>
<path d="M1590.4 1505.6L1594 1510.4L1597 1515.4L1599.9 1520.7" stroke="#e8e8e8" stroke-width="13"/>
<path d="M1599.9 1520.7L1602.5 1526.1L1604.9 1531.6L1607.2 1537.1" stroke="#e2e2e2" stroke-width="13.5"/>
<path d="M1607.2 1537.1L1609.3 1542.8L1611.2 1548.5L1613.1 1554.3" stroke="#e2e2e2" stroke-width="14"/>
<path d="M1613.1 1554.3L1614.8 1560.1L1616.5 1565.9L1618.2 1571.7L1619.8 1577.5L1621.3 1583.4" stroke="#e2e2e2" stroke-width="14.5"/>
<path d="M1621.3 1583.4L1622.8 1589.3L1624.3 1595.1L1625.7 1601L1627.1 1606.9L1628.5 1612.8L1629.9 1618.7" stroke="#e2e2e2" stroke-width="15"/>
<path d="M1629.9 1618.7L1631.3 1624.6L1632.6 1630.5L1634 1636.4L1635.3 1642.3L1636.6 1648.2L1637.9 1654.2" stroke="#e2e2e2" stroke-width="15.5"/>
<path d="M1637.9 1654.2L1639.3 1660.1L1640.6 1666L1641.9 1671.9L1643.2 1677.8L1644.5 1683.7L1645.8 1689.6L1647.1 1695.6L1648.5 1701.5L1649.8 1707.4L1651.1 1713.3" stroke="#dddddd" stroke-width="16"/>
<path d="M1651.1 1713.3L1652.4 1719.2L1653.8 1725.1L1655.1 1731L1656.4 1736.9L1657.7 1742.9L1659.1 1748.8L1660.4 1754.7L1661.7 1760.6L1663.1 1766.5L1664.5 1772.4L1665.9 1778.3L1667.3 1784.2L1668.8 1790L1670.3 1795.9L1671.8 1801.8L1673.4 1807.6L1675 1813.5L1676.7 1819.3L1678.4 1825.1L1680.1 1830.9L1681.9 1836.7L1683.8 1842.4L1685.7 1848.2L1687.8 1853.9L1689.9 1859.5L1692 1865.2L1694.3 1870.8L1696.7 1876.4L1699.2 1881.9L1701.8 1887.3L1704.6 1892.7L1707.5 1898L1710.6 1903.1L1713.8 1908.2" stroke="#e2e2e2" stroke-width="16"/>
<path d="M1713.8 1908.2L1717.3 1913.1L1720.9 1917.9" stroke="#e2e2e2" stroke-width="15.5"/>
<path d="M1720.9 1917.9L1724.8 1922.5L1728.9 1926.9" stroke="#e8e8e8" stroke-width="15"/>
<path d="M1728.9 1926.9L1733.2 1931.1" stroke="#e8e8e8" stroke-width="14.5"/>
<path d="M1733.2 1931.1L1737.7 1935L1742.4 1938.6" stroke="#e8e8e8" stroke-width="14"/>
<path d="M1742.4 1938.6L1747.3 1942" stroke="#e8e8e8" stroke-width="13.5"/>
<path d="M1747.3 1942L1752.4 1945.2" stroke="#eeeeee" stroke-width="13"/>
<path d="M1752.4 1945.2L1757.6 1948.1" stroke="#eeeeee" stroke-width="12.5"/>
<path d="M1757.6 1948.1L1763 1950.8" stroke="#eeeeee" stroke-width="12"/>
<path d="M1763 1950.8L1768.5 1953.2" stroke="#eeeeee" stroke-width="11.5"/>
<path d="M1768.5 1953.2L1774.2 1955.2" stroke="#eeeeee" stroke-width="11"/>
<path d="M1774.2 1955.2L1780 1957" stroke="#f4f4f4" stroke-width="10.5"/>
<path d="M1780 1957L1785.9 1958.4" stroke="#f4f4f4" stroke-width="10"/>
</g>
<g filter="url(#b1)">
<path d="M1549 1513L1555.5 1513.6" stroke="#f9f9f9" stroke-width="10"/>
<path d="M1555.5 1513.6L1562 1514.1" stroke="#f9f9f9" stroke-width="11"/>
<path d="M1562 1514.1L1568.5 1514.6" stroke="#f4f4f4" stroke-width="12"/>
<path d="M1568.5 1514.6L1575 1515" stroke="#f4f4f4" stroke-width="13"/>
<path d="M1549 1513L1555.5 1513.6" stroke="#eeeeee" stroke-width="7"/>
<path d="M1555.5 1513.6L1562 1514.1" stroke="#e2e2e2" stroke-width="8"/>
<path d="M1562 1514.1L1568.5 1514.6" stroke="#dddddd" stroke-width="8.5"/>
<path d="M1568.5 1514.6L1575 1515" stroke="#d7d7d7" stroke-width="9"/>
<path d="M1549 1513L1555.5 1513.6" stroke="#d1d1d1" stroke-width="5.5"/>
<path d="M1555.5 1513.6L1562 1514.1" stroke="#c0c0c0" stroke-width="6"/>
<path d="M1562 1514.1L1568.5 1514.6" stroke="#b5b5b5" stroke-width="6.5"/>
<path d="M1568.5 1514.6L1575 1515" stroke="#a9a9a9" stroke-width="7"/>
</g>
<g filter="url(#b1)">
<path d="M1410.3 1495.8L1416.3 1495.8" stroke="#f9f9f9" stroke-width="8"/>
<path d="M1416.3 1495.8L1422.3 1495.8L1428.3 1495.8" stroke="#f9f9f9" stroke-width="8.5"/>
<path d="M1428.3 1495.8L1434.3 1495.8L1440.3 1495.8" stroke="#f9f9f9" stroke-width="9"/>
<path d="M1440.3 1495.8L1446.4 1495.8L1452.4 1495.8" stroke="#f9f9f9" stroke-width="9.5"/>
<path d="M1452.4 1495.8L1458.4 1495.8" stroke="#f9f9f9" stroke-width="10"/>
<path d="M1458.4 1495.8L1464.4 1495.8L1470.4 1495.8" stroke="#f4f4f4" stroke-width="10"/>
<path d="M1470.4 1495.8L1476.4 1495.8L1482.4 1495.8L1488.5 1495.8L1494.5 1495.8L1500.5 1495.8L1506.5 1495.8" stroke="#f4f4f4" stroke-width="10.5"/>
<path d="M1506.5 1495.8L1512.5 1495.8" stroke="#f4f4f4" stroke-width="11"/>
<path d="M1512.5 1495.8L1518.5 1495.8L1524.5 1495.8L1530.6 1495.8" stroke="#eeeeee" stroke-width="11"/>
<path d="M1530.6 1495.8L1536.6 1495.9L1542.6 1496" stroke="#eeeeee" stroke-width="11.5"/>
<path d="M1542.6 1496L1548.5 1496.2" stroke="#e8e8e8" stroke-width="12"/>
<path d="M1548.5 1496.2L1554.4 1496.7L1560.2 1497.4" stroke="#e8e8e8" stroke-width="12.5"/>
<path d="M1560.2 1497.4L1565.9 1498.6" stroke="#e2e2e2" stroke-width="13"/>
<path d="M1565.9 1498.6L1571.3 1500.3" stroke="#e2e2e2" stroke-width="13.5"/>
<path d="M1571.3 1500.3L1576.4 1502.6" stroke="#e2e2e2" stroke-width="14"/>
<path d="M1576.4 1502.6L1581.1 1505.5L1585.4 1509" stroke="#e2e2e2" stroke-width="14.5"/>
<path d="M1585.4 1509L1589.2 1513.1" stroke="#dddddd" stroke-width="15"/>
<path d="M1589.2 1513.1L1592.6 1517.6L1595.7 1522.6L1598.4 1527.8" stroke="#dddddd" stroke-width="15.5"/>
<path d="M1598.4 1527.8L1600.8 1533.2L1603 1538.7L1605 1544.4L1607 1550.1L1608.8 1555.8L1610.5 1561.6L1612.2 1567.3L1613.8 1573.1L1615.3 1578.9L1616.9 1584.7L1618.4 1590.6L1619.8 1596.4L1621.2 1602.3L1622.6 1608.1L1624 1614L1625.4 1619.8L1626.7 1625.7L1628.1 1631.5L1629.4 1637.4L1630.7 1643.3L1632 1649.1L1633.3 1655L1634.7 1660.9L1636 1666.7" stroke="#dddddd" stroke-width="16"/>
<path d="M1636 1666.7L1637.3 1672.6L1638.6 1678.5L1639.9 1684.4L1641.2 1690.2L1642.5 1696.1L1643.8 1702L1645.1 1707.8L1646.4 1713.7L1647.7 1719.6L1649.1 1725.4L1650.4 1731.3L1651.7 1737.2" stroke="#dddddd" stroke-width="16.5"/>
<path d="M1651.7 1737.2L1653 1743.1L1654.3 1748.9L1655.6 1754.8L1657 1760.7L1658.3 1766.5L1659.7 1772.4L1661.1 1778.2L1662.5 1784.1L1664 1789.9L1665.5 1795.7" stroke="#dddddd" stroke-width="17"/>
<path d="M1665.5 1795.7L1667 1801.5L1668.5 1807.3L1670.1 1813.1L1671.8 1818.9L1673.5 1824.7L1675.2 1830.5L1677 1836.2L1678.9 1841.9L1680.8 1847.6" stroke="#dddddd" stroke-width="17.5"/>
<path d="M1680.8 1847.6L1682.8 1853.3L1684.8 1858.9L1687 1864.5L1689.2 1870.1" stroke="#dddddd" stroke-width="18"/>
<path d="M1689.2 1870.1L1691.6 1875.6L1694.1 1881.1L1696.6 1886.5L1699.4 1891.9" stroke="#dddddd" stroke-width="17.5"/>
<path d="M1699.4 1891.9L1702.2 1897.1" stroke="#d7d7d7" stroke-width="17.5"/>
<path d="M1702.2 1897.1L1705.3 1902.3L1708.4 1907.3L1711.8 1912.3" stroke="#d7d7d7" stroke-width="17"/>
<path d="M1711.8 1912.3L1715.4 1917L1719.2 1921.6L1723.2 1926" stroke="#d7d7d7" stroke-width="16.5"/>
<path d="M1723.2 1926L1727.4 1930.2" stroke="#d7d7d7" stroke-width="16"/>
<path d="M1727.4 1930.2L1731.9 1934.2" stroke="#d1d1d1" stroke-width="16"/>
<path d="M1731.9 1934.2L1736.5 1937.8L1741.4 1941.2" stroke="#d1d1d1" stroke-width="15.5"/>
<path d="M1741.4 1941.2L1746.4 1944.4L1751.6 1947.2" stroke="#d1d1d1" stroke-width="15"/>
<path d="M1751.6 1947.2L1757 1949.7" stroke="#d1d1d1" stroke-width="14.5"/>
<path d="M1757 1949.7L1762.5 1952L1768.1 1954" stroke="#d1d1d1" stroke-width="14"/>
<path d="M1768.1 1954L1773.8 1955.7" stroke="#d1d1d1" stroke-width="13.5"/>
<path d="M1773.8 1955.7L1779.6 1957.2" stroke="#d1d1d1" stroke-width="13"/>
<path d="M1779.6 1957.2L1785.5 1958.5" stroke="#d1d1d1" stroke-width="12.5"/>
<path d="M1785.5 1958.5L1791.3 1959.6" stroke="#d1d1d1" stroke-width="12"/>
<path d="M1791.3 1959.6L1797.3 1960.6" stroke="#d7d7d7" stroke-width="11.5"/>
<path d="M1797.3 1960.6L1803.2 1961.4" stroke="#d7d7d7" stroke-width="11"/>
<path d="M1803.2 1961.4L1809.2 1962.1" stroke="#d7d7d7" stroke-width="10.5"/>
<path d="M1809.2 1962.1L1815.1 1962.7" stroke="#dddddd" stroke-width="10"/>
<path d="M1815.1 1962.7L1821.1 1963.2" stroke="#dddddd" stroke-width="9.5"/>
<path d="M1821.1 1963.2L1827.1 1963.7" stroke="#e2e2e2" stroke-width="9"/>
<path d="M1827.1 1963.7L1833.1 1964" stroke="#e2e2e2" stroke-width="8.5"/>
<path d="M1833.1 1964L1839.1 1964.3" stroke="#e8e8e8" stroke-width="8"/>
<path d="M1839.1 1964.3L1845.2 1964.6" stroke="#e8e8e8" stroke-width="7.5"/>
<path d="M1404.3 1495.8L1410.3 1495.8L1416.3 1495.8" stroke="#f9f9f9" stroke-width="5.5"/>
<path d="M1416.3 1495.8L1422.3 1495.8L1428.3 1495.8" stroke="#f4f4f4" stroke-width="6"/>
<path d="M1428.3 1495.8L1434.3 1495.8" stroke="#f4f4f4" stroke-width="6.5"/>
<path d="M1434.3 1495.8L1440.3 1495.8" stroke="#eeeeee" stroke-width="6.5"/>
<path d="M1440.3 1495.8L1446.4 1495.8L1452.4 1495.8L1458.4 1495.8" stroke="#eeeeee" stroke-width="7"/>
<path d="M1458.4 1495.8L1464.4 1495.8" stroke="#e8e8e8" stroke-width="7"/>
<path d="M1464.4 1495.8L1470.4 1495.8L1476.4 1495.8L1482.4 1495.8" stroke="#e8e8e8" stroke-width="7.5"/>
<path d="M1482.4 1495.8L1488.5 1495.8L1494.5 1495.8L1500.5 1495.8" stroke="#e2e2e2" stroke-width="7.5"/>
<path d="M1500.5 1495.8L1506.5 1495.8L1512.5 1495.8L1518.5 1495.8" stroke="#dddddd" stroke-width="8"/>
<path d="M1518.5 1495.8L1524.5 1495.8L1530.6 1495.8" stroke="#d7d7d7" stroke-width="8"/>
<path d="M1530.6 1495.8L1536.6 1495.9" stroke="#d1d1d1" stroke-width="8"/>
<path d="M1536.6 1495.9L1542.6 1496" stroke="#d1d1d1" stroke-width="8.5"/>
<path d="M1542.6 1496L1548.5 1496.2" stroke="#cbcbcb" stroke-width="8.5"/>
<path d="M1548.5 1496.2L1554.4 1496.7" stroke="#cbcbcb" stroke-width="9"/>
<path d="M1554.4 1496.7L1560.2 1497.4" stroke="#c6c6c6" stroke-width="9"/>
<path d="M1560.2 1497.4L1565.9 1498.6" stroke="#c0c0c0" stroke-width="9.5"/>
<path d="M1565.9 1498.6L1571.3 1500.3L1576.4 1502.6" stroke="#bababa" stroke-width="10"/>
<path d="M1576.4 1502.6L1581.1 1505.5L1585.4 1509" stroke="#b5b5b5" stroke-width="10.5"/>
<path d="M1585.4 1509L1589.2 1513.1" stroke="#b5b5b5" stroke-width="11"/>
<path d="M1589.2 1513.1L1592.6 1517.6L1595.7 1522.6" stroke="#afafaf" stroke-width="11"/>
<path d="M1595.7 1522.6L1598.4 1527.8L1600.8 1533.2L1603 1538.7L1605 1544.4L1607 1550.1L1608.8 1555.8L1610.5 1561.6L1612.2 1567.3L1613.8 1573.1L1615.3 1578.9L1616.9 1584.7L1618.4 1590.6L1619.8 1596.4L1621.2 1602.3L1622.6 1608.1L1624 1614L1625.4 1619.8L1626.7 1625.7L1628.1 1631.5" stroke="#afafaf" stroke-width="11.5"/>
<path d="M1628.1 1631.5L1629.4 1637.4L1630.7 1643.3L1632 1649.1L1633.3 1655L1634.7 1660.9L1636 1666.7L1637.3 1672.6" stroke="#b5b5b5" stroke-width="11.5"/>
<path d="M1637.3 1672.6L1638.6 1678.5L1639.9 1684.4L1641.2 1690.2L1642.5 1696.1L1643.8 1702L1645.1 1707.8L1646.4 1713.7L1647.7 1719.6L1649.1 1725.4" stroke="#b5b5b5" stroke-width="12"/>
<path d="M1649.1 1725.4L1650.4 1731.3L1651.7 1737.2L1653 1743.1L1654.3 1748.9L1655.6 1754.8L1657 1760.7L1658.3 1766.5" stroke="#afafaf" stroke-width="12"/>
<path d="M1658.3 1766.5L1659.7 1772.4L1661.1 1778.2L1662.5 1784.1L1664 1789.9L1665.5 1795.7L1667 1801.5L1668.5 1807.3L1670.1 1813.1L1671.8 1818.9L1673.5 1824.7L1675.2 1830.5L1677 1836.2" stroke="#afafaf" stroke-width="12.5"/>
<path d="M1677 1836.2L1678.9 1841.9L1680.8 1847.6L1682.8 1853.3L1684.8 1858.9" stroke="#afafaf" stroke-width="13"/>
<path d="M1684.8 1858.9L1687 1864.5L1689.2 1870.1L1691.6 1875.6" stroke="#a9a9a9" stroke-width="13"/>
<path d="M1691.6 1875.6L1694.1 1881.1L1696.6 1886.5" stroke="#a9a9a9" stroke-width="12.5"/>
<path d="M1696.6 1886.5L1699.4 1891.9L1702.2 1897.1L1705.3 1902.3L1708.4 1907.3" stroke="#a3a3a3" stroke-width="12.5"/>
<path d="M1708.4 1907.3L1711.8 1912.3L1715.4 1917L1719.2 1921.6" stroke="#9e9e9e" stroke-width="12"/>
<path d="M1719.2 1921.6L1723.2 1926" stroke="#989898" stroke-width="12"/>
<path d="M1723.2 1926L1727.4 1930.2L1731.9 1934.2" stroke="#989898" stroke-width="11.5"/>
<path d="M1731.9 1934.2L1736.5 1937.8" stroke="#929292" stroke-width="11.5"/>
<path d="M1736.5 1937.8L1741.4 1941.2L1746.4 1944.4L1751.6 1947.2" stroke="#929292" stroke-width="11"/>
<path d="M1751.6 1947.2L1757 1949.7L1762.5 1952" stroke="#8c8c8c" stroke-width="10.5"/>
<path d="M1762.5 1952L1768.1 1954" stroke="#8c8c8c" stroke-width="10"/>
<path d="M1768.1 1954L1773.8 1955.7L1779.6 1957.2" stroke="#929292" stroke-width="9.5"/>
<path d="M1779.6 1957.2L1785.5 1958.5" stroke="#929292" stroke-width="9"/>
<path d="M1785.5 1958.5L1791.3 1959.6L1797.3 1960.6" stroke="#989898" stroke-width="8.5"/>
<path d="M1797.3 1960.6L1803.2 1961.4" stroke="#9e9e9e" stroke-width="8"/>
<path d="M1803.2 1961.4L1809.2 1962.1" stroke="#a3a3a3" stroke-width="7.5"/>
<path d="M1809.2 1962.1L1815.1 1962.7" stroke="#a9a9a9" stroke-width="7.5"/>
<path d="M1815.1 1962.7L1821.1 1963.2" stroke="#afafaf" stroke-width="7"/>
<path d="M1821.1 1963.2L1827.1 1963.7" stroke="#b5b5b5" stroke-width="6.5"/>
<path d="M1827.1 1963.7L1833.1 1964" stroke="#bababa" stroke-width="6.5"/>
<path d="M1833.1 1964L1839.1 1964.3" stroke="#c6c6c6" stroke-width="6"/>
<path d="M1839.1 1964.3L1845.2 1964.6" stroke="#cbcbcb" stroke-width="5.5"/>
<path d="M1404.3 1495.8L1410.3 1495.8" stroke="#f9f9f9" stroke-width="4"/>
<path d="M1410.3 1495.8L1416.3 1495.8" stroke="#f4f4f4" stroke-width="4.5"/>
<path d="M1416.3 1495.8L1422.3 1495.8" stroke="#eeeeee" stroke-width="4.5"/>
<path d="M1422.3 1495.8L1428.3 1495.8" stroke="#eeeeee" stroke-width="5"/>
<path d="M1428.3 1495.8L1434.3 1495.8L1440.3 1495.8" stroke="#e8e8e8" stroke-width="5"/>
<path d="M1440.3 1495.8L1446.4 1495.8" stroke="#e2e2e2" stroke-width="5"/>
<path d="M1446.4 1495.8L1452.4 1495.8" stroke="#e2e2e2" stroke-width="5.5"/>
<path d="M1452.4 1495.8L1458.4 1495.8L1464.4 1495.8" stroke="#dddddd" stroke-width="5.5"/>
<path d="M1464.4 1495.8L1470.4 1495.8L1476.4 1495.8" stroke="#d7d7d7" stroke-width="5.5"/>
<path d="M1476.4 1495.8L1482.4 1495.8" stroke="#d7d7d7" stroke-width="6"/>
<path d="M1482.4 1495.8L1488.5 1495.8L1494.5 1495.8" stroke="#d1d1d1" stroke-width="6"/>
<path d="M1494.5 1495.8L1500.5 1495.8L1506.5 1495.8" stroke="#cbcbcb" stroke-width="6"/>
<path d="M1506.5 1495.8L1512.5 1495.8L1518.5 1495.8" stroke="#c6c6c6" stroke-width="6"/>
<path d="M1518.5 1495.8L1524.5 1495.8" stroke="#c0c0c0" stroke-width="6"/>
<path d="M1524.5 1495.8L1530.6 1495.8" stroke="#bababa" stroke-width="6"/>
<path d="M1530.6 1495.8L1536.6 1495.9" stroke="#b5b5b5" stroke-width="6.5"/>
<path d="M1536.6 1495.9L1542.6 1496" stroke="#afafaf" stroke-width="6.5"/>
<path d="M1542.6 1496L1548.5 1496.2" stroke="#a9a9a9" stroke-width="6.5"/>
<path d="M1548.5 1496.2L1554.4 1496.7" stroke="#a3a3a3" stroke-width="7"/>
<path d="M1554.4 1496.7L1560.2 1497.4" stroke="#9e9e9e" stroke-width="7"/>
<path d="M1560.2 1497.4L1565.9 1498.6" stroke="#989898" stroke-width="7.5"/>
<path d="M1565.9 1498.6L1571.3 1500.3" stroke="#929292" stroke-width="7.5"/>
<path d="M1571.3 1500.3L1576.4 1502.6" stroke="#8c8c8c" stroke-width="8"/>
<path d="M1576.4 1502.6L1581.1 1505.5" stroke="#878787" stroke-width="8"/>
<path d="M1581.1 1505.5L1585.4 1509" stroke="#818181" stroke-width="8"/>
<path d="M1585.4 1509L1589.2 1513.1" stroke="#818181" stroke-width="8.5"/>
<path d="M1589.2 1513.1L1592.6 1517.6L1595.7 1522.6L1598.4 1527.8" stroke="#7b7b7b" stroke-width="8.5"/>
<path d="M1598.4 1527.8L1600.8 1533.2L1603 1538.7L1605 1544.4L1607 1550.1L1608.8 1555.8L1610.5 1561.6L1612.2 1567.3" stroke="#767676" stroke-width="9"/>
<path d="M1612.2 1567.3L1613.8 1573.1L1615.3 1578.9L1616.9 1584.7L1618.4 1590.6L1619.8 1596.4L1621.2 1602.3L1622.6 1608.1L1624 1614L1625.4 1619.8L1626.7 1625.7L1628.1 1631.5" stroke="#7b7b7b" stroke-width="9"/>
<path d="M1628.1 1631.5L1629.4 1637.4L1630.7 1643.3L1632 1649.1L1633.3 1655L1634.7 1660.9L1636 1666.7L1637.3 1672.6L1638.6 1678.5L1639.9 1684.4L1641.2 1690.2L1642.5 1696.1L1643.8 1702L1645.1 1707.8L1646.4 1713.7L1647.7 1719.6L1649.1 1725.4" stroke="#818181" stroke-width="9"/>
<path d="M1649.1 1725.4L1650.4 1731.3L1651.7 1737.2L1653 1743.1L1654.3 1748.9L1655.6 1754.8L1657 1760.7L1658.3 1766.5L1659.7 1772.4L1661.1 1778.2L1662.5 1784.1L1664 1789.9L1665.5 1795.7L1667 1801.5L1668.5 1807.3L1670.1 1813.1L1671.8 1818.9L1673.5 1824.7" stroke="#7b7b7b" stroke-width="9.5"/>
<path d="M1673.5 1824.7L1675.2 1830.5L1677 1836.2L1678.9 1841.9L1680.8 1847.6L1682.8 1853.3L1684.8 1858.9L1687 1864.5" stroke="#767676" stroke-width="10"/>
<path d="M1687 1864.5L1689.2 1870.1L1691.6 1875.6L1694.1 1881.1" stroke="#707070" stroke-width="10"/>
<path d="M1694.1 1881.1L1696.6 1886.5L1699.4 1891.9L1702.2 1897.1" stroke="#6a6a6a" stroke-width="9.5"/>
<path d="M1702.2 1897.1L1705.3 1902.3L1708.4 1907.3" stroke="#646464" stroke-width="9.5"/>
<path d="M1708.4 1907.3L1711.8 1912.3L1715.4 1917" stroke="#5f5f5f" stroke-width="9.5"/>
<path d="M1715.4 1917L1719.2 1921.6L1723.2 1926" stroke="#595959" stroke-width="9"/>
<path d="M1723.2 1926L1727.4 1930.2L1731.9 1934.2" stroke="#535353" stroke-width="9"/>
<path d="M1731.9 1934.2L1736.5 1937.8L1741.4 1941.2" stroke="#4e4e4e" stroke-width="8.5"/>
<path d="M1741.4 1941.2L1746.4 1944.4L1751.6 1947.2" stroke="#484848" stroke-width="8.5"/>
<path d="M1751.6 1947.2L1757 1949.7L1762.5 1952" stroke="#424242" stroke-width="8"/>
<path d="M1762.5 1952L1768.1 1954" stroke="#424242" stroke-width="7.5"/>
<path d="M1768.1 1954L1773.8 1955.7" stroke="#484848" stroke-width="7.5"/>
<path d="M1773.8 1955.7L1779.6 1957.2" stroke="#484848" stroke-width="7"/>
<path d="M1779.6 1957.2L1785.5 1958.5" stroke="#4e4e4e" stroke-width="7"/>
<path d="M1785.5 1958.5L1791.3 1959.6" stroke="#4e4e4e" stroke-width="6.5"/>
<path d="M1791.3 1959.6L1797.3 1960.6" stroke="#535353" stroke-width="6.5"/>
<path d="M1797.3 1960.6L1803.2 1961.4" stroke="#5f5f5f" stroke-width="6"/>
<path d="M1803.2 1961.4L1809.2 1962.1" stroke="#646464" stroke-width="6"/>
<path d="M1809.2 1962.1L1815.1 1962.7" stroke="#707070" stroke-width="5.5"/>
<path d="M1815.1 1962.7L1821.1 1963.2" stroke="#767676" stroke-width="5.5"/>
<path d="M1821.1 1963.2L1827.1 1963.7" stroke="#818181" stroke-width="5"/>
<path d="M1827.1 1963.7L1833.1 1964" stroke="#8c8c8c" stroke-width="5"/>
<path d="M1833.1 1964L1839.1 1964.3" stroke="#9e9e9e" stroke-width="4.5"/>
<path d="M1839.1 1964.3L1845.2 1964.6" stroke="#a9a9a9" stroke-width="4"/>
</g>
<circle cx="1828.9" cy="1965.7" r="3.1" fill="#bababa"/><circle cx="1836.1" cy="1965.7" r="3.1" fill="#bababa"/><circle cx="1843.2" cy="1965.7" r="3.1" fill="#bababa"/>
<g class="rd"><circle cx="1475.2" cy="1495.8" r="3.0"/><circle cx="1478" cy="1495.8" r="3.0"/><circle cx="1480.9" cy="1495.8" r="3.0"/><circle cx="1483.8" cy="1495.8" r="3.0"/><circle cx="1486.7" cy="1495.8" r="3.0"/><circle cx="1489.5" cy="1495.8" r="3.0"/><circle cx="1492.4" cy="1495.8" r="3.0"/><circle cx="1495.3" cy="1495.8" r="3.0"/><circle cx="1498.1" cy="1495.8" r="3.0"/><circle cx="1501" cy="1495.8" r="3.0"/><circle cx="1503.9" cy="1495.8" r="3.0"/><circle cx="1506.7" cy="1495.8" r="3.0"/><circle cx="1509.6" cy="1495.8" r="3.0"/><circle cx="1512.5" cy="1495.8" r="3.0"/><circle cx="1515.3" cy="1495.8" r="3.0"/><circle cx="1518.2" cy="1495.8" r="3.0"/><circle cx="1521.1" cy="1495.8" r="3.0"/><circle cx="1523.9" cy="1495.8" r="3.0"/><circle cx="1526.8" cy="1495.8" r="3.0"/><circle cx="1529.7" cy="1495.8" r="3.0"/><circle cx="1532.5" cy="1495.8" r="3.0"/><circle cx="1535.4" cy="1495.8" r="3.0"/><circle cx="1538.3" cy="1495.8" r="3.0"/><circle cx="1541.1" cy="1495.8" r="3.0"/><circle cx="1544" cy="1495.8" r="3.0"/><circle cx="1546.9" cy="1495.8" r="3.0"/><circle cx="1640.4" cy="1550.5" r="3.0"/><circle cx="1615.3" cy="1564.3" r="3.0"/><circle cx="1618.3" cy="1570.9" r="3.0"/><circle cx="1610.5" cy="1569.7" r="3.0"/><circle cx="1632" cy="1570.9" r="3.0"/><circle cx="1609.3" cy="1590" r="3.0"/><circle cx="1581.8" cy="1530.2" r="3.0"/><circle cx="1585.4" cy="1535" r="3.0"/><circle cx="1605.7" cy="1526.6" r="3.0"/><circle cx="1604.6" cy="1514.7" r="3.0"/><circle cx="1613" cy="1519.5" r="3.0"/><circle cx="1609" cy="1517" r="3.0"/><circle cx="1626" cy="1599.5" r="3.0"/><circle cx="1629" cy="1600.5" r="3.0"/><circle cx="1632.5" cy="1601.5" r="3.0"/><circle cx="1635.6" cy="1603" r="3.0"/><circle cx="1638" cy="1591.2" r="3.0"/><circle cx="1640.4" cy="1599.5" r="3.0"/><circle cx="1623.1" cy="1619.9" r="3.0"/><circle cx="1642.2" cy="1633.6" r="3.0"/><circle cx="1648.2" cy="1641.4" r="3.0"/><circle cx="1659" cy="1644.7" r="3.0"/><circle cx="1629.7" cy="1638.4" r="3.0"/><circle cx="1633.2" cy="1645" r="3.0"/><circle cx="1633.2" cy="1652.1" r="3.0"/><circle cx="1641" cy="1656.3" r="3.0"/><circle cx="1661.9" cy="1659.3" r="3.0"/><circle cx="1635.6" cy="1668.3" r="3.0"/><circle cx="1639.2" cy="1665.3" r="3.0"/><circle cx="1647.6" cy="1676.7" r="3.0"/><circle cx="1644.5" cy="1679.6" r="3.0"/><circle cx="1650" cy="1688" r="3.0"/><circle cx="1654" cy="1695" r="3.0"/><circle cx="1661" cy="1700" r="3.0"/><circle cx="1672" cy="1727.6" r="3.0"/><circle cx="1677.7" cy="1732.4" r="3.0"/><circle cx="1674" cy="1735" r="3.0"/><circle cx="1686" cy="1780.1" r="3.0"/><circle cx="1675.3" cy="1797" r="3.0"/><circle cx="1675.7" cy="1785.5" r="3.0"/><circle cx="1676.7" cy="1804" r="3.0"/><circle cx="1703.1" cy="1856.8" r="3.0"/><circle cx="1711.3" cy="1882.5" r="3.0"/><circle cx="1754" cy="1920.5" r="3.0"/><circle cx="1539.4" cy="1498.1" r="3.0"/><circle cx="1564.5" cy="1497.5" r="3.0"/><circle cx="1544.7" cy="1495.8" r="3.0"/><circle cx="1563.8" cy="1495.8" r="3.0"/><circle cx="1552" cy="1497.1" r="3.0"/><circle cx="1576.4" cy="1499.5" r="3.0"/><circle cx="1570.6" cy="1499.5" r="3.0"/><circle cx="1540.3" cy="1502.4" r="3.0"/><circle cx="1545" cy="1500.3" r="3.0"/><circle cx="1566.5" cy="1495.8" r="3.0"/><circle cx="1552.3" cy="1502.2" r="3.0"/><circle cx="1583.3" cy="1500.1" r="3.0"/><circle cx="1568.3" cy="1495.8" r="3.0"/><circle cx="1567.1" cy="1495.8" r="3.0"/><circle cx="1561.4" cy="1497.1" r="3.0"/><circle cx="1546.2" cy="1498.8" r="3.0"/><circle cx="1568" cy="1495.8" r="3.0"/><circle cx="1583.6" cy="1498.5" r="3.0"/><circle cx="1550.7" cy="1500.2" r="3.0"/><circle cx="1556.3" cy="1495.8" r="3.0"/><circle cx="1548.9" cy="1495.8" r="3.0"/><circle cx="1567.5" cy="1498.2" r="3.0"/><circle cx="1562.9" cy="1495.8" r="3.0"/><circle cx="1534.5" cy="1497.6" r="3.0"/><circle cx="1554.7" cy="1495.8" r="3.0"/><circle cx="1551.5" cy="1501.6" r="3.0"/><circle cx="1541.5" cy="1498.8" r="3.0"/><circle cx="1567.5" cy="1495.8" r="3.0"/><circle cx="1556.3" cy="1495.8" r="3.0"/><circle cx="1544.8" cy="1495.8" r="3.0"/><circle cx="1538.7" cy="1497" r="3.0"/><circle cx="1559.8" cy="1495.8" r="3.0"/><circle cx="1566" cy="1502.5" r="3.0"/><circle cx="1574.7" cy="1499.4" r="3.0"/><circle cx="1549.7" cy="1497.9" r="3.0"/><circle cx="1544" cy="1500.8" r="3.0"/><circle cx="1534.6" cy="1495.8" r="3.0"/><circle cx="1544.8" cy="1495.8" r="3.0"/><circle cx="1535.2" cy="1497.3" r="3.0"/><circle cx="1559.6" cy="1495.8" r="3.0"/><circle cx="1555.2" cy="1495.8" r="3.0"/><circle cx="1561.6" cy="1496.7" r="3.0"/><circle cx="1541.8" cy="1495.8" r="3.0"/><circle cx="1571" cy="1495.8" r="3.0"/><circle cx="1543.4" cy="1495.8" r="3.0"/><circle cx="1555.5" cy="1498.5" r="3.0"/><circle cx="1540.5" cy="1498.3" r="3.0"/><circle cx="1557.5" cy="1502" r="3.0"/><circle cx="1565.6" cy="1495.8" r="3.0"/><circle cx="1563.1" cy="1495.8" r="3.0"/><circle cx="1545.2" cy="1495.8" r="3.0"/><circle cx="1553.4" cy="1495.8" r="3.0"/><circle cx="1544.2" cy="1498.9" r="3.0"/><circle cx="1557.6" cy="1500.6" r="3.0"/><circle cx="1537.8" cy="1500.7" r="3.0"/><circle cx="1542.9" cy="1495.9" r="3.0"/><circle cx="1546.9" cy="1496.6" r="3.0"/><circle cx="1553" cy="1499.6" r="3.0"/><circle cx="1540.2" cy="1495.8" r="3.0"/><circle cx="1562.4" cy="1503.8" r="3.0"/><circle cx="1551.5" cy="1499.4" r="3.0"/><circle cx="1536.9" cy="1495.8" r="3.0"/><circle cx="1556.1" cy="1497.3" r="3.0"/><circle cx="1560.3" cy="1499.1" r="3.0"/><circle cx="1564.1" cy="1495.8" r="3.0"/><circle cx="1558.9" cy="1495.8" r="3.0"/><circle cx="1548" cy="1495.8" r="3.0"/><circle cx="1536.2" cy="1499.3" r="3.0"/><circle cx="1544.5" cy="1495.8" r="3.0"/><circle cx="1572.1" cy="1495.8" r="3.0"/><circle cx="1570.7" cy="1511.6" r="3.0"/><circle cx="1584.6" cy="1511.9" r="3.0"/><circle cx="1570.7" cy="1521.7" r="3.0"/><circle cx="1597.3" cy="1512.3" r="3.0"/><circle cx="1596.7" cy="1516.6" r="3.0"/><circle cx="1594.1" cy="1517.1" r="3.0"/><circle cx="1588.7" cy="1511.1" r="3.0"/><circle cx="1573.9" cy="1518.1" r="3.0"/><circle cx="1570.2" cy="1514.9" r="3.0"/><circle cx="1574.9" cy="1518.8" r="3.0"/><circle cx="1595.9" cy="1516.4" r="3.0"/><circle cx="1592.5" cy="1518.9" r="3.0"/><circle cx="1581.4" cy="1516.5" r="3.0"/><circle cx="1567" cy="1513.1" r="3.0"/><circle cx="1573.7" cy="1518.2" r="3.0"/><circle cx="1594.7" cy="1511.6" r="3.0"/><circle cx="1577.6" cy="1503.8" r="3.0"/><circle cx="1601.6" cy="1572.5" r="3.0"/><circle cx="1568.9" cy="1501.2" r="3.0"/><circle cx="1602.5" cy="1523.1" r="3.0"/><circle cx="1595.5" cy="1513.8" r="3.0"/><circle cx="1585.8" cy="1502.6" r="3.0"/><circle cx="1612.2" cy="1556.3" r="3.0"/><circle cx="1583.4" cy="1505.8" r="3.0"/><circle cx="1614" cy="1586" r="3.0"/><circle cx="1575.7" cy="1499.9" r="3.0"/><circle cx="1589.2" cy="1515.2" r="3.0"/><circle cx="1614.1" cy="1582.4" r="3.0"/><circle cx="1596.8" cy="1547.5" r="3.0"/><circle cx="1600.6" cy="1552.2" r="3.0"/><circle cx="1586.5" cy="1514.8" r="3.0"/><circle cx="1610.9" cy="1586.9" r="3.0"/><circle cx="1593.8" cy="1518.1" r="3.0"/><circle cx="1602" cy="1545.5" r="3.0"/><circle cx="1602.7" cy="1540.9" r="3.0"/><circle cx="1588.9" cy="1515.6" r="3.0"/><circle cx="1580.5" cy="1497.7" r="3.0"/><circle cx="1599.8" cy="1580.9" r="3.0"/><circle cx="1603.2" cy="1563.8" r="3.0"/><circle cx="1593.9" cy="1527.7" r="3.0"/><circle cx="1604.4" cy="1553.8" r="3.0"/><circle cx="1586.6" cy="1520.5" r="3.0"/><circle cx="1600.6" cy="1540.2" r="3.0"/><circle cx="1584.7" cy="1500.7" r="3.0"/><circle cx="1604.1" cy="1531.3" r="3.0"/><circle cx="1595.8" cy="1508.8" r="3.0"/><circle cx="1594.6" cy="1521.5" r="3.0"/><circle cx="1578.8" cy="1504.7" r="3.0"/><circle cx="1604.1" cy="1545.9" r="3.0"/><circle cx="1599.4" cy="1552.9" r="3.0"/><circle cx="1603.1" cy="1578" r="3.0"/><circle cx="1577.8" cy="1499.4" r="3.0"/><circle cx="1579.2" cy="1495.8" r="3.0"/><circle cx="1600" cy="1538.1" r="3.0"/><circle cx="1573.5" cy="1509.8" r="3.0"/><circle cx="1612.8" cy="1589.1" r="3.0"/><circle cx="1591.4" cy="1519.3" r="3.0"/><circle cx="1605.7" cy="1566.2" r="3.0"/><circle cx="1586.7" cy="1506" r="3.0"/><circle cx="1601.8" cy="1522.6" r="3.0"/><circle cx="1608" cy="1553.3" r="3.0"/><circle cx="1611" cy="1587.1" r="3.0"/><circle cx="1593.1" cy="1503.6" r="3.0"/><circle cx="1580.2" cy="1512" r="3.0"/><circle cx="1598.3" cy="1533.5" r="3.0"/><circle cx="1596.8" cy="1535.9" r="3.0"/><circle cx="1593.3" cy="1522.3" r="3.0"/><circle cx="1575.4" cy="1495.8" r="3.0"/><circle cx="1581.8" cy="1515" r="3.0"/><circle cx="1596.1" cy="1527.4" r="3.0"/><circle cx="1582.2" cy="1506.6" r="3.0"/><circle cx="1590.4" cy="1521.8" r="3.0"/><circle cx="1594" cy="1509.3" r="3.0"/><circle cx="1587.3" cy="1511.7" r="3.0"/><circle cx="1589.6" cy="1521" r="3.0"/><circle cx="1594.3" cy="1522.6" r="3.0"/><circle cx="1586.8" cy="1505.9" r="3.0"/><circle cx="1612.6" cy="1587.4" r="3.0"/><circle cx="1595.5" cy="1524.2" r="3.0"/><circle cx="1599.4" cy="1521.7" r="3.0"/><circle cx="1600.1" cy="1554.7" r="3.0"/><circle cx="1580.4" cy="1500.5" r="3.0"/><circle cx="1588.7" cy="1526" r="3.0"/><circle cx="1578.5" cy="1497" r="3.0"/><circle cx="1594.5" cy="1509.9" r="3.0"/><circle cx="1604.8" cy="1545.1" r="3.0"/><circle cx="1618.7" cy="1615.6" r="3.0"/><circle cx="1614.9" cy="1598.1" r="3.0"/><circle cx="1628.6" cy="1643.4" r="3.0"/><circle cx="1615.2" cy="1622.2" r="3.0"/><circle cx="1615.1" cy="1619.7" r="3.0"/><circle cx="1622.5" cy="1625.9" r="3.0"/><circle cx="1625.3" cy="1616.8" r="3.0"/><circle cx="1619.4" cy="1631.8" r="3.0"/><circle cx="1622.9" cy="1639" r="3.0"/><circle cx="1624.4" cy="1597.5" r="3.0"/><circle cx="1620.1" cy="1609.8" r="3.0"/><circle cx="1626.7" cy="1631.9" r="3.0"/></g>
<path d="M112.1 2595.1H628.5" class="zl"/>
<path d="M356.9 2103V2618.5" class="zl"/>
<path d="M112.1 2103V2618.5H628.5" class="ax"/>
<path d="M108.5 2126h3.6M108.5 2243.3h3.6M108.5 2360.6h3.6M108.5 2477.8h3.6M108.5 2595.1h3.6M227.2 2618.5v3.6M356.9 2618.5v3.6M486.6 2618.5v3.6M616.7 2618.5v3.6" class="tk"/>
<text x="106.7" y="2132.9" class="yl">1.00</text>
<text x="106.7" y="2250.2" class="yl">0.75</text>
<text x="106.7" y="2367.5" class="yl">0.50</text>
<text x="106.7" y="2484.7" class="yl">0.25</text>
<text x="106.7" y="2602" class="yl">0.00</text>
<text x="227.2" y="2638.3" class="xl">-3</text>
<text x="356.9" y="2638.3" class="xl">0</text>
<text x="486.6" y="2638.3" class="xl">3</text>
<text x="616.7" y="2638.3" class="xl">6</text>
<text x="169.5" y="2082.8" class="ti">Astrocyte-qNSC</text>
<g filter="url(#b1)">
<path d="M146.1 2126L152.1 2126" stroke="#f9f9f9" stroke-width="7.5"/>
<path d="M152.1 2126L158.2 2126L164.2 2126" stroke="#f9f9f9" stroke-width="8"/>
<path d="M164.2 2126L170.2 2126L176.3 2126L182.3 2126" stroke="#f9f9f9" stroke-width="8.5"/>
<path d="M182.3 2126L188.4 2126L194.4 2126L200.4 2126L206.5 2126L212.5 2126" stroke="#f4f4f4" stroke-width="9"/>
<path d="M212.5 2126L218.5 2126" stroke="#eeeeee" stroke-width="9"/>
<path d="M218.5 2126L224.6 2126L230.6 2126L236.7 2126" stroke="#eeeeee" stroke-width="9.5"/>
<path d="M236.7 2126L242.7 2126L248.7 2126" stroke="#e8e8e8" stroke-width="10"/>
<path d="M248.7 2126L254.8 2126.1" stroke="#e8e8e8" stroke-width="10.5"/>
<path d="M254.8 2126.1L260.8 2126.2L266.8 2126.4L272.7 2126.8" stroke="#e2e2e2" stroke-width="10.5"/>
<path d="M272.7 2126.8L278.5 2127.5" stroke="#dddddd" stroke-width="10.5"/>
<path d="M278.5 2127.5L284.2 2128.6L289.6 2130.3" stroke="#dddddd" stroke-width="11"/>
<path d="M289.6 2130.3L294.6 2132.5L299.3 2135.5L303.5 2139L307.2 2143.2L310.5 2147.8L313.4 2152.9L316 2158.2L318.3 2163.7L320.4 2169.3L322.3 2175L324.2 2180.7L325.9 2186.5L327.6 2192.3L329.3 2198.1L330.9 2203.9L332.5 2209.7L334.1 2215.6L335.6 2221.4L337.1 2227.2L338.5 2233.1L340 2239L341.4 2244.8L342.8 2250.7L344.2 2256.6L345.6 2262.5L346.9 2268.3L348.3 2274.2L349.7 2280.1L351 2286L352.4 2291.9L353.7 2297.8L355.1 2303.6L356.4 2309.5L357.8 2315.4L359.2 2321.3L360.5 2327.2L361.9 2333.1L363.2 2338.9L364.6 2344.8L365.9 2350.7L367.2 2356.6L368.5 2362.5L369.8 2368.4L371 2374.3L372.2 2380.2L373.5 2386.1L374.7 2392L375.9 2398L377.2 2403.9L378.5 2409.8" stroke="#d7d7d7" stroke-width="11"/>
<path d="M378.5 2409.8L379.8 2415.6L381.1 2421.5L382.5 2427.4L383.9 2433.3L385.4 2439.1L386.8 2445L388.4 2450.8L389.9 2456.7L391.6 2462.5L393.2 2468.3L395 2474.1L396.8 2479.8L398.6 2485.6L400.6 2491.3L402.6 2496.9" stroke="#d7d7d7" stroke-width="11.5"/>
<path d="M402.6 2496.9L404.7 2502.6L407 2508.2L409.3 2513.7L411.8 2519.2L414.4 2524.6L417.2 2530L420.1 2535.2" stroke="#d7d7d7" stroke-width="12"/>
<path d="M420.1 2535.2L423.2 2540.3L426.6 2545.3L430.1 2550.1L433.9 2554.8" stroke="#d1d1d1" stroke-width="12.5"/>
<path d="M433.9 2554.8L437.9 2559.2L442.1 2563.3L446.6 2567.2" stroke="#d1d1d1" stroke-width="13"/>
<path d="M446.6 2567.2L451.3 2570.8" stroke="#d1d1d1" stroke-width="13.5"/>
<path d="M451.3 2570.8L456.3 2574.1L461.4 2577.1L466.7 2579.7L472.2 2582.1L477.8 2584.1L483.5 2585.9L489.3 2587.4" stroke="#cbcbcb" stroke-width="13.5"/>
<path d="M489.3 2587.4L495.2 2588.7L501.1 2589.8" stroke="#cbcbcb" stroke-width="13"/>
<path d="M501.1 2589.8L507 2590.7" stroke="#cbcbcb" stroke-width="12.5"/>
<path d="M507 2590.7L513 2591.6" stroke="#cbcbcb" stroke-width="12"/>
<path d="M513 2591.6L519 2592.2" stroke="#cbcbcb" stroke-width="11.5"/>
<path d="M519 2592.2L525 2592.8" stroke="#cbcbcb" stroke-width="11"/>
<path d="M525 2592.8L531 2593.3" stroke="#cbcbcb" stroke-width="10.5"/>
<path d="M531 2593.3L537.1 2593.6" stroke="#cbcbcb" stroke-width="10"/>
<path d="M537.1 2593.6L543.1 2593.9" stroke="#d1d1d1" stroke-width="9.5"/>
<path d="M140.1 2126L146.1 2126L152.1 2126" stroke="#f9f9f9" stroke-width="5.5"/>
<path d="M152.1 2126L158.2 2126L164.2 2126L170.2 2126" stroke="#f4f4f4" stroke-width="6"/>
<path d="M170.2 2126L176.3 2126" stroke="#eeeeee" stroke-width="6"/>
<path d="M176.3 2126L182.3 2126" stroke="#eeeeee" stroke-width="6.5"/>
<path d="M182.3 2126L188.4 2126L194.4 2126" stroke="#e8e8e8" stroke-width="6.5"/>
<path d="M194.4 2126L200.4 2126L206.5 2126" stroke="#e2e2e2" stroke-width="6.5"/>
<path d="M206.5 2126L212.5 2126L218.5 2126" stroke="#dddddd" stroke-width="6.5"/>
<path d="M218.5 2126L224.6 2126L230.6 2126" stroke="#d7d7d7" stroke-width="7"/>
<path d="M230.6 2126L236.7 2126" stroke="#d1d1d1" stroke-width="7"/>
<path d="M236.7 2126L242.7 2126" stroke="#cbcbcb" stroke-width="7"/>
<path d="M242.7 2126L248.7 2126" stroke="#cbcbcb" stroke-width="7.5"/>
<path d="M248.7 2126L254.8 2126.1" stroke="#c6c6c6" stroke-width="7.5"/>
<path d="M254.8 2126.1L260.8 2126.2" stroke="#c0c0c0" stroke-width="7.5"/>
<path d="M260.8 2126.2L266.8 2126.4" stroke="#bababa" stroke-width="7.5"/>
<path d="M266.8 2126.4L272.7 2126.8" stroke="#b5b5b5" stroke-width="7.5"/>
<path d="M272.7 2126.8L278.5 2127.5" stroke="#afafaf" stroke-width="7.5"/>
<path d="M278.5 2127.5L284.2 2128.6" stroke="#a9a9a9" stroke-width="8"/>
<path d="M284.2 2128.6L289.6 2130.3L294.6 2132.5" stroke="#a3a3a3" stroke-width="8"/>
<path d="M294.6 2132.5L299.3 2135.5L303.5 2139" stroke="#9e9e9e" stroke-width="8"/>
<path d="M303.5 2139L307.2 2143.2L310.5 2147.8L313.4 2152.9L316 2158.2L318.3 2163.7L320.4 2169.3L322.3 2175L324.2 2180.7L325.9 2186.5L327.6 2192.3L329.3 2198.1L330.9 2203.9" stroke="#989898" stroke-width="8"/>
<path d="M330.9 2203.9L332.5 2209.7L334.1 2215.6L335.6 2221.4L337.1 2227.2L338.5 2233.1L340 2239L341.4 2244.8L342.8 2250.7L344.2 2256.6L345.6 2262.5L346.9 2268.3L348.3 2274.2L349.7 2280.1L351 2286" stroke="#9e9e9e" stroke-width="8"/>
<path d="M351 2286L352.4 2291.9L353.7 2297.8L355.1 2303.6L356.4 2309.5L357.8 2315.4L359.2 2321.3L360.5 2327.2L361.9 2333.1L363.2 2338.9L364.6 2344.8L365.9 2350.7L367.2 2356.6L368.5 2362.5L369.8 2368.4L371 2374.3L372.2 2380.2L373.5 2386.1L374.7 2392L375.9 2398L377.2 2403.9L378.5 2409.8L379.8 2415.6L381.1 2421.5L382.5 2427.4L383.9 2433.3L385.4 2439.1L386.8 2445" stroke="#a3a3a3" stroke-width="8"/>
<path d="M386.8 2445L388.4 2450.8L389.9 2456.7L391.6 2462.5L393.2 2468.3L395 2474.1L396.8 2479.8L398.6 2485.6L400.6 2491.3" stroke="#a3a3a3" stroke-width="8.5"/>
<path d="M400.6 2491.3L402.6 2496.9L404.7 2502.6L407 2508.2L409.3 2513.7L411.8 2519.2L414.4 2524.6" stroke="#9e9e9e" stroke-width="8.5"/>
<path d="M414.4 2524.6L417.2 2530" stroke="#989898" stroke-width="8.5"/>
<path d="M417.2 2530L420.1 2535.2L423.2 2540.3L426.6 2545.3" stroke="#989898" stroke-width="9"/>
<path d="M426.6 2545.3L430.1 2550.1L433.9 2554.8L437.9 2559.2" stroke="#929292" stroke-width="9"/>
<path d="M437.9 2559.2L442.1 2563.3L446.6 2567.2L451.3 2570.8" stroke="#8c8c8c" stroke-width="9.5"/>
<path d="M451.3 2570.8L456.3 2574.1" stroke="#878787" stroke-width="9.5"/>
<path d="M456.3 2574.1L461.4 2577.1L466.7 2579.7" stroke="#878787" stroke-width="10"/>
<path d="M466.7 2579.7L472.2 2582.1L477.8 2584.1L483.5 2585.9" stroke="#818181" stroke-width="10"/>
<path d="M483.5 2585.9L489.3 2587.4L495.2 2588.7" stroke="#818181" stroke-width="9.5"/>
<path d="M495.2 2588.7L501.1 2589.8L507 2590.7" stroke="#818181" stroke-width="9"/>
<path d="M507 2590.7L513 2591.6L519 2592.2" stroke="#818181" stroke-width="8.5"/>
<path d="M519 2592.2L525 2592.8" stroke="#818181" stroke-width="8"/>
<path d="M525 2592.8L531 2593.3L537.1 2593.6" stroke="#878787" stroke-width="7.5"/>
<path d="M537.1 2593.6L543.1 2593.9" stroke="#8c8c8c" stroke-width="7"/>
<path d="M140.1 2126L146.1 2126" stroke="#f4f4f4" stroke-width="4"/>
<path d="M146.1 2126L152.1 2126" stroke="#f4f4f4" stroke-width="4.5"/>
<path d="M152.1 2126L158.2 2126L164.2 2126" stroke="#eeeeee" stroke-width="4.5"/>
<path d="M164.2 2126L170.2 2126" stroke="#e8e8e8" stroke-width="4.5"/>
<path d="M170.2 2126L176.3 2126L182.3 2126" stroke="#e2e2e2" stroke-width="5"/>
<path d="M182.3 2126L188.4 2126" stroke="#dddddd" stroke-width="5"/>
<path d="M188.4 2126L194.4 2126" stroke="#d7d7d7" stroke-width="5"/>
<path d="M194.4 2126L200.4 2126L206.5 2126" stroke="#d1d1d1" stroke-width="5"/>
<path d="M206.5 2126L212.5 2126" stroke="#cbcbcb" stroke-width="5"/>
<path d="M212.5 2126L218.5 2126" stroke="#c6c6c6" stroke-width="5"/>
<path d="M218.5 2126L224.6 2126" stroke="#c0c0c0" stroke-width="5"/>
<path d="M224.6 2126L230.6 2126" stroke="#bababa" stroke-width="5.5"/>
<path d="M230.6 2126L236.7 2126" stroke="#b5b5b5" stroke-width="5.5"/>
<path d="M236.7 2126L242.7 2126" stroke="#afafaf" stroke-width="5.5"/>
<path d="M242.7 2126L248.7 2126" stroke="#a9a9a9" stroke-width="5.5"/>
<path d="M248.7 2126L254.8 2126.1" stroke="#9e9e9e" stroke-width="5.5"/>
<path d="M254.8 2126.1L260.8 2126.2" stroke="#989898" stroke-width="6"/>
<path d="M260.8 2126.2L266.8 2126.4" stroke="#8c8c8c" stroke-width="6"/>
<path d="M266.8 2126.4L272.7 2126.8" stroke="#878787" stroke-width="6"/>
<path d="M272.7 2126.8L278.5 2127.5" stroke="#7b7b7b" stroke-width="6"/>
<path d="M278.5 2127.5L284.2 2128.6" stroke="#707070" stroke-width="6"/>
<path d="M284.2 2128.6L289.6 2130.3" stroke="#6a6a6a" stroke-width="6"/>
<path d="M289.6 2130.3L294.6 2132.5" stroke="#646464" stroke-width="6"/>
<path d="M294.6 2132.5L299.3 2135.5" stroke="#5f5f5f" stroke-width="6"/>
<path d="M299.3 2135.5L303.5 2139L307.2 2143.2" stroke="#595959" stroke-width="6"/>
<path d="M307.2 2143.2L310.5 2147.8L313.4 2152.9L316 2158.2L318.3 2163.7L320.4 2169.3L322.3 2175L324.2 2180.7L325.9 2186.5L327.6 2192.3" stroke="#535353" stroke-width="6"/>
<path d="M327.6 2192.3L329.3 2198.1L330.9 2203.9L332.5 2209.7L334.1 2215.6L335.6 2221.4L337.1 2227.2L338.5 2233.1" stroke="#595959" stroke-width="6"/>
<path d="M338.5 2233.1L340 2239L341.4 2244.8L342.8 2250.7L344.2 2256.6L345.6 2262.5L346.9 2268.3L348.3 2274.2L349.7 2280.1L351 2286" stroke="#5f5f5f" stroke-width="6"/>
<path d="M351 2286L352.4 2291.9L353.7 2297.8L355.1 2303.6L356.4 2309.5L357.8 2315.4L359.2 2321.3L360.5 2327.2L361.9 2333.1L363.2 2338.9L364.6 2344.8L365.9 2350.7L367.2 2356.6L368.5 2362.5L369.8 2368.4L371 2374.3L372.2 2380.2L373.5 2386.1L374.7 2392L375.9 2398L377.2 2403.9L378.5 2409.8" stroke="#646464" stroke-width="6"/>
<path d="M378.5 2409.8L379.8 2415.6L381.1 2421.5L382.5 2427.4L383.9 2433.3L385.4 2439.1L386.8 2445L388.4 2450.8L389.9 2456.7L391.6 2462.5L393.2 2468.3L395 2474.1L396.8 2479.8L398.6 2485.6L400.6 2491.3" stroke="#646464" stroke-width="6.5"/>
<path d="M400.6 2491.3L402.6 2496.9L404.7 2502.6L407 2508.2L409.3 2513.7" stroke="#5f5f5f" stroke-width="6.5"/>
<path d="M409.3 2513.7L411.8 2519.2L414.4 2524.6L417.2 2530" stroke="#595959" stroke-width="6.5"/>
<path d="M417.2 2530L420.1 2535.2L423.2 2540.3" stroke="#535353" stroke-width="7"/>
<path d="M423.2 2540.3L426.6 2545.3L430.1 2550.1" stroke="#4e4e4e" stroke-width="7"/>
<path d="M430.1 2550.1L433.9 2554.8L437.9 2559.2" stroke="#484848" stroke-width="7"/>
<path d="M437.9 2559.2L442.1 2563.3" stroke="#424242" stroke-width="7"/>
<path d="M442.1 2563.3L446.6 2567.2" stroke="#424242" stroke-width="7.5"/>
<path d="M446.6 2567.2L451.3 2570.8" stroke="#3c3c3c" stroke-width="7.5"/>
<path d="M451.3 2570.8L456.3 2574.1L461.4 2577.1" stroke="#373737" stroke-width="7.5"/>
<path d="M461.4 2577.1L466.7 2579.7L472.2 2582.1" stroke="#313131" stroke-width="7.5"/>
<path d="M472.2 2582.1L477.8 2584.1L483.5 2585.9L489.3 2587.4L495.2 2588.7" stroke="#2b2b2b" stroke-width="7.5"/>
<path d="M495.2 2588.7L501.1 2589.8L507 2590.7" stroke="#2b2b2b" stroke-width="7"/>
<path d="M507 2590.7L513 2591.6L519 2592.2" stroke="#2b2b2b" stroke-width="6.5"/>
<path d="M519 2592.2L525 2592.8" stroke="#313131" stroke-width="6"/>
<path d="M525 2592.8L531 2593.3" stroke="#373737" stroke-width="6"/>
<path d="M531 2593.3L537.1 2593.6" stroke="#3c3c3c" stroke-width="5.5"/>
<path d="M537.1 2593.6L543.1 2593.9" stroke="#424242" stroke-width="5"/>
</g>
<circle cx="543.1" cy="2595.1" r="3.1" fill="#767676"/><circle cx="549.6" cy="2595.1" r="3.1" fill="#767676"/><circle cx="556.1" cy="2595.1" r="3.1" fill="#818181"/><circle cx="564.7" cy="2595.1" r="3.1" fill="#8c8c8c"/><circle cx="573.4" cy="2595.1" r="3.1" fill="#989898"/><circle cx="586.4" cy="2595.1" r="3.1" fill="#bababa"/><circle cx="604.6" cy="2595.1" r="3.1" fill="#e4e4e4"/>
<g class="rd"><circle cx="166.4" cy="2126" r="3.0"/><circle cx="172.9" cy="2126" r="3.0"/><circle cx="188" cy="2126" r="3.0"/><circle cx="207.5" cy="2126" r="3.0"/><circle cx="210.1" cy="2126" r="3.0"/><circle cx="212.7" cy="2126" r="3.0"/><circle cx="215.3" cy="2126" r="3.0"/><circle cx="217.9" cy="2126" r="3.0"/><circle cx="220.5" cy="2126" r="3.0"/><circle cx="223.1" cy="2126" r="3.0"/><circle cx="225.7" cy="2126" r="3.0"/><circle cx="228.3" cy="2126" r="3.0"/><circle cx="230.9" cy="2126" r="3.0"/><circle cx="233.5" cy="2126" r="3.0"/><circle cx="236.1" cy="2126" r="3.0"/><circle cx="238.7" cy="2126" r="3.0"/><circle cx="241.3" cy="2126" r="3.0"/><circle cx="243.9" cy="2126" r="3.0"/><circle cx="246.5" cy="2126" r="3.0"/><circle cx="249.1" cy="2126" r="3.0"/><circle cx="251.7" cy="2126" r="3.0"/><circle cx="254.3" cy="2126" r="3.0"/><circle cx="256.9" cy="2126" r="3.0"/><circle cx="259.5" cy="2126" r="3.0"/><circle cx="262.1" cy="2126" r="3.0"/><circle cx="264.7" cy="2126" r="3.0"/><circle cx="267.3" cy="2126" r="3.0"/><circle cx="269.9" cy="2126" r="3.0"/><circle cx="272.5" cy="2126" r="3.0"/><circle cx="275.1" cy="2126" r="3.0"/><circle cx="277.7" cy="2126" r="3.0"/><circle cx="280.3" cy="2126" r="3.0"/><circle cx="282.9" cy="2126" r="3.0"/><circle cx="285.5" cy="2126" r="3.0"/><circle cx="288.1" cy="2126" r="3.0"/><circle cx="314.6" cy="2127.3" r="3.0"/><circle cx="349.2" cy="2149.4" r="3.0"/><circle cx="344.4" cy="2153" r="3.0"/><circle cx="322.3" cy="2147" r="3.0"/><circle cx="333.7" cy="2166.2" r="3.0"/><circle cx="339.7" cy="2168" r="3.0"/><circle cx="346.2" cy="2180.5" r="3.0"/><circle cx="340.9" cy="2189.5" r="3.0"/><circle cx="346.8" cy="2206.8" r="3.0"/><circle cx="349.8" cy="2209.2" r="3.0"/><circle cx="348.6" cy="2229.5" r="3.0"/><circle cx="357" cy="2242.7" r="3.0"/><circle cx="338.5" cy="2215.2" r="3.0"/><circle cx="358" cy="2295" r="3.0"/><circle cx="362" cy="2300" r="3.0"/><circle cx="366" cy="2304" r="3.0"/><circle cx="368" cy="2307" r="3.0"/><circle cx="356.3" cy="2243.5" r="3.0"/><circle cx="383" cy="2366" r="3.0"/><circle cx="386" cy="2381" r="3.0"/><circle cx="391" cy="2374" r="3.0"/><circle cx="362" cy="2303" r="3.0"/><circle cx="367" cy="2302" r="3.0"/><circle cx="368" cy="2345" r="3.0"/><circle cx="373" cy="2346" r="3.0"/><circle cx="391" cy="2401" r="3.0"/><circle cx="399" cy="2442" r="3.0"/><circle cx="404" cy="2475" r="3.0"/><circle cx="413" cy="2473" r="3.0"/><circle cx="463.3" cy="2566.4" r="3.0"/><circle cx="291.3" cy="2129.1" r="3.0"/><circle cx="302.9" cy="2136.9" r="3.0"/><circle cx="291.8" cy="2132.5" r="3.0"/><circle cx="298.5" cy="2126" r="3.0"/><circle cx="303.7" cy="2136.8" r="3.0"/><circle cx="283.1" cy="2126" r="3.0"/><circle cx="298.9" cy="2129.6" r="3.0"/><circle cx="312" cy="2135.5" r="3.0"/><circle cx="307.3" cy="2141.7" r="3.0"/><circle cx="306.6" cy="2136.1" r="3.0"/><circle cx="287.9" cy="2126" r="3.0"/><circle cx="313.7" cy="2144" r="3.0"/><circle cx="296.8" cy="2128.4" r="3.0"/><circle cx="309.4" cy="2135.7" r="3.0"/><circle cx="281.3" cy="2126" r="3.0"/><circle cx="296.2" cy="2130.8" r="3.0"/><circle cx="282.3" cy="2129" r="3.0"/><circle cx="296.4" cy="2134.9" r="3.0"/><circle cx="300.4" cy="2126" r="3.0"/><circle cx="290" cy="2127.6" r="3.0"/><circle cx="285.2" cy="2126" r="3.0"/><circle cx="307.6" cy="2136.2" r="3.0"/><circle cx="287.2" cy="2126" r="3.0"/><circle cx="299.7" cy="2130.6" r="3.0"/><circle cx="309.1" cy="2135.8" r="3.0"/><circle cx="292.2" cy="2126" r="3.0"/><circle cx="282" cy="2130" r="3.0"/><circle cx="289" cy="2131.6" r="3.0"/><circle cx="290.5" cy="2126" r="3.0"/><circle cx="302.6" cy="2145" r="3.0"/><circle cx="302.7" cy="2130.6" r="3.0"/><circle cx="286.4" cy="2126.6" r="3.0"/><circle cx="303" cy="2131.8" r="3.0"/><circle cx="299" cy="2131.5" r="3.0"/><circle cx="285.1" cy="2126" r="3.0"/><circle cx="305.9" cy="2140.8" r="3.0"/><circle cx="285.9" cy="2128.8" r="3.0"/><circle cx="308.1" cy="2137.7" r="3.0"/><circle cx="303.1" cy="2127.4" r="3.0"/><circle cx="293.8" cy="2126.4" r="3.0"/><circle cx="302.6" cy="2131" r="3.0"/><circle cx="292.1" cy="2126.3" r="3.0"/><circle cx="308.4" cy="2127.5" r="3.0"/><circle cx="293.2" cy="2132.2" r="3.0"/><circle cx="302.4" cy="2126" r="3.0"/><circle cx="284.8" cy="2126" r="3.0"/><circle cx="303.5" cy="2132.1" r="3.0"/><circle cx="292.4" cy="2126.6" r="3.0"/><circle cx="283" cy="2126.5" r="3.0"/><circle cx="301.7" cy="2126" r="3.0"/><circle cx="283.3" cy="2126" r="3.0"/><circle cx="308.3" cy="2132.7" r="3.0"/><circle cx="286.1" cy="2126" r="3.0"/><circle cx="294.3" cy="2133.1" r="3.0"/><circle cx="289.2" cy="2126" r="3.0"/><circle cx="280.7" cy="2126" r="3.0"/><circle cx="280.9" cy="2126" r="3.0"/><circle cx="280.1" cy="2126" r="3.0"/><circle cx="293.1" cy="2130.9" r="3.0"/><circle cx="295.9" cy="2126" r="3.0"/><circle cx="296.6" cy="2126.7" r="3.0"/><circle cx="277.8" cy="2126.8" r="3.0"/><circle cx="307.3" cy="2131.7" r="3.0"/><circle cx="304.9" cy="2134" r="3.0"/><circle cx="289.2" cy="2126" r="3.0"/><circle cx="300.4" cy="2127.4" r="3.0"/><circle cx="307.7" cy="2136.1" r="3.0"/><circle cx="291.6" cy="2126" r="3.0"/><circle cx="290.3" cy="2129.8" r="3.0"/><circle cx="291.7" cy="2126" r="3.0"/><circle cx="308.7" cy="2143.1" r="3.0"/><circle cx="314.7" cy="2138.9" r="3.0"/><circle cx="316.6" cy="2134" r="3.0"/><circle cx="291.6" cy="2126" r="3.0"/><circle cx="294.1" cy="2133.3" r="3.0"/><circle cx="285.8" cy="2126.3" r="3.0"/><circle cx="294.2" cy="2133.1" r="3.0"/><circle cx="295" cy="2133.7" r="3.0"/><circle cx="308.2" cy="2145.4" r="3.0"/><circle cx="300.5" cy="2132.7" r="3.0"/><circle cx="299.6" cy="2133.3" r="3.0"/><circle cx="306.1" cy="2138.2" r="3.0"/><circle cx="309.5" cy="2136.2" r="3.0"/><circle cx="285.3" cy="2126" r="3.0"/><circle cx="277.3" cy="2126" r="3.0"/><circle cx="337.8" cy="2221.3" r="3.0"/><circle cx="318.5" cy="2157.9" r="3.0"/><circle cx="349" cy="2268.1" r="3.0"/><circle cx="312.8" cy="2150.3" r="3.0"/><circle cx="313.3" cy="2150.8" r="3.0"/><circle cx="332.2" cy="2210.1" r="3.0"/><circle cx="347.9" cy="2251.1" r="3.0"/><circle cx="337.2" cy="2232.6" r="3.0"/><circle cx="348.7" cy="2279.8" r="3.0"/><circle cx="316.6" cy="2147.4" r="3.0"/><circle cx="342.3" cy="2246.1" r="3.0"/><circle cx="347.4" cy="2284.6" r="3.0"/><circle cx="339.6" cy="2249.8" r="3.0"/><circle cx="332.7" cy="2209.6" r="3.0"/><circle cx="318.7" cy="2165" r="3.0"/><circle cx="321" cy="2165.8" r="3.0"/><circle cx="333.6" cy="2222.7" r="3.0"/><circle cx="317.7" cy="2169.9" r="3.0"/><circle cx="334.6" cy="2220.9" r="3.0"/><circle cx="340.8" cy="2239.3" r="3.0"/><circle cx="348.5" cy="2281.2" r="3.0"/><circle cx="340.1" cy="2223.5" r="3.0"/><circle cx="321.4" cy="2164.3" r="3.0"/><circle cx="322" cy="2176.1" r="3.0"/><circle cx="344.2" cy="2267.9" r="3.0"/><circle cx="328" cy="2181.7" r="3.0"/><circle cx="320.3" cy="2172.1" r="3.0"/><circle cx="315" cy="2163.6" r="3.0"/><circle cx="327.3" cy="2196.1" r="3.0"/><circle cx="330.8" cy="2200.6" r="3.0"/><circle cx="311.4" cy="2148" r="3.0"/><circle cx="328.9" cy="2188.7" r="3.0"/><circle cx="343.7" cy="2284.2" r="3.0"/><circle cx="349.6" cy="2260.7" r="3.0"/><circle cx="335.2" cy="2227.4" r="3.0"/><circle cx="337.9" cy="2223.5" r="3.0"/><circle cx="333.2" cy="2189.7" r="3.0"/><circle cx="318.5" cy="2167.5" r="3.0"/><circle cx="349" cy="2267.9" r="3.0"/><circle cx="334.3" cy="2219.5" r="3.0"/><circle cx="336.1" cy="2240.8" r="3.0"/><circle cx="333.4" cy="2203.2" r="3.0"/><circle cx="317" cy="2142.4" r="3.0"/><circle cx="343.5" cy="2256" r="3.0"/><circle cx="347" cy="2263" r="3.0"/><circle cx="333.4" cy="2199" r="3.0"/><circle cx="343.2" cy="2245.8" r="3.0"/><circle cx="331.2" cy="2213.3" r="3.0"/><circle cx="327.3" cy="2191.7" r="3.0"/><circle cx="340.2" cy="2239.4" r="3.0"/><circle cx="349.2" cy="2282.7" r="3.0"/><circle cx="331.8" cy="2203" r="3.0"/><circle cx="321.2" cy="2175" r="3.0"/><circle cx="322.3" cy="2164.9" r="3.0"/><circle cx="323.6" cy="2159.8" r="3.0"/><circle cx="313.9" cy="2154.5" r="3.0"/><circle cx="322.9" cy="2168.2" r="3.0"/><circle cx="327.8" cy="2210.7" r="3.0"/><circle cx="343.2" cy="2251.9" r="3.0"/><circle cx="324" cy="2190.4" r="3.0"/><circle cx="335.7" cy="2227.4" r="3.0"/><circle cx="312.4" cy="2153.3" r="3.0"/><circle cx="345.2" cy="2262.7" r="3.0"/><circle cx="325.5" cy="2192.4" r="3.0"/><circle cx="322.4" cy="2164.2" r="3.0"/><circle cx="344.3" cy="2260.1" r="3.0"/><circle cx="355" cy="2278.6" r="3.0"/><circle cx="348.9" cy="2270.9" r="3.0"/><circle cx="329.7" cy="2199.9" r="3.0"/><circle cx="307.2" cy="2155.3" r="3.0"/></g>
<path d="M797.3 2595.6H1306.1" class="zl"/>
<path d="M1039.6 2102.8V2618.7" class="zl"/>
<path d="M797.3 2102.8V2618.7H1306.1" class="ax"/>
<path d="M793.7 2125.8h3.6M793.7 2243.2h3.6M793.7 2360.7h3.6M793.7 2478.2h3.6M793.7 2595.6h3.6M907.8 2618.7v3.6M1039.6 2618.7v3.6M1170.5 2618.7v3.6M1301.9 2618.7v3.6" class="tk"/>
<text x="791.9" y="2132.7" class="yl">1.00</text>
<text x="791.9" y="2250.2" class="yl">0.75</text>
<text x="791.9" y="2367.6" class="yl">0.50</text>
<text x="791.9" y="2485.1" class="yl">0.25</text>
<text x="791.9" y="2602.5" class="yl">0.00</text>
<text x="907.8" y="2638.5" class="xl">-3</text>
<text x="1039.6" y="2638.5" class="xl">0</text>
<text x="1170.5" y="2638.5" class="xl">3</text>
<text x="1301.9" y="2638.5" class="xl">6</text>
<text x="874.1" y="2083.1" class="ti">aNSC-NPC</text>
<g filter="url(#b2)">
<path d="M990 2128.2L995 2131.6" stroke="#f4f4f4" stroke-width="20"/>
<path d="M995 2131.6L998.9 2136.1" stroke="#f4f4f4" stroke-width="21"/>
<path d="M998.9 2136.1L1002.2 2141" stroke="#f4f4f4" stroke-width="22"/>
<path d="M1002.2 2141L1005.1 2146.3" stroke="#f4f4f4" stroke-width="22.5"/>
<path d="M1005.1 2146.3L1007.6 2151.6" stroke="#f4f4f4" stroke-width="23"/>
<path d="M1007.6 2151.6L1010 2157.1" stroke="#f4f4f4" stroke-width="24"/>
<path d="M1010 2157.1L1012.2 2162.7" stroke="#f4f4f4" stroke-width="24.5"/>
<path d="M1012.2 2162.7L1014.3 2168.4" stroke="#f4f4f4" stroke-width="25"/>
<path d="M1014.3 2168.4L1016.3 2174.1" stroke="#f4f4f4" stroke-width="25.5"/>
<path d="M1016.3 2174.1L1018.1 2179.9L1019.8 2185.7" stroke="#f4f4f4" stroke-width="26"/>
<path d="M1019.8 2185.7L1021.4 2191.5" stroke="#f4f4f4" stroke-width="26.5"/>
<path d="M1021.4 2191.5L1022.9 2197.4L1024.4 2203.2" stroke="#f4f4f4" stroke-width="27"/>
<path d="M1024.4 2203.2L1025.9 2209.1" stroke="#f4f4f4" stroke-width="27.5"/>
<path d="M1025.9 2209.1L1027.3 2215L1028.7 2220.9" stroke="#f4f4f4" stroke-width="28"/>
<path d="M1028.7 2220.9L1030.1 2226.8" stroke="#f4f4f4" stroke-width="28.5"/>
<path d="M1030.1 2226.8L1031.4 2232.7L1032.7 2238.6" stroke="#f4f4f4" stroke-width="29"/>
<path d="M1032.7 2238.6L1034 2244.5L1035.3 2250.5" stroke="#f4f4f4" stroke-width="29.5"/>
<path d="M1035.3 2250.5L1036.5 2256.4L1037.8 2262.3" stroke="#f4f4f4" stroke-width="30"/>
<path d="M1037.8 2262.3L1039 2268.3" stroke="#f4f4f4" stroke-width="30.5"/>
<path d="M1039 2268.3L1040.3 2274.2L1041.5 2280.1L1042.7 2286.1" stroke="#eeeeee" stroke-width="31"/>
<path d="M1042.7 2286.1L1043.9 2292L1045.1 2297.9" stroke="#eeeeee" stroke-width="31.5"/>
<path d="M1045.1 2297.9L1046.4 2303.9L1047.6 2309.8L1048.8 2315.7L1050 2321.7" stroke="#eeeeee" stroke-width="32"/>
<path d="M1050 2321.7L1051.2 2327.6L1052.5 2333.5L1053.7 2339.5L1054.9 2345.4L1056.2 2351.4" stroke="#eeeeee" stroke-width="32.5"/>
<path d="M1056.2 2351.4L1057.4 2357.3L1058.6 2363.2L1059.8 2369.2L1061 2375.1L1062.3 2381L1063.5 2387" stroke="#eeeeee" stroke-width="33"/>
<path d="M1063.5 2387L1064.7 2392.9L1066 2398.8L1067.3 2404.7L1068.6 2410.7L1069.9 2416.6" stroke="#eeeeee" stroke-width="33.5"/>
<path d="M1069.9 2416.6L1071.3 2422.5L1072.7 2428.4L1074.1 2434.3L1075.6 2440.1L1077.1 2446" stroke="#eeeeee" stroke-width="34"/>
<path d="M1077.1 2446L1078.6 2451.9L1080.2 2457.7L1081.9 2463.5L1083.6 2469.4L1085.3 2475.1L1087.2 2480.9L1089.1 2486.7L1091.1 2492.4L1093.1 2498.1L1095.3 2503.7" stroke="#eeeeee" stroke-width="34.5"/>
<path d="M1095.3 2503.7L1097.6 2509.3" stroke="#eeeeee" stroke-width="34"/>
<path d="M1097.6 2509.3L1100 2514.9" stroke="#f4f4f4" stroke-width="34"/>
<path d="M1100 2514.9L1102.5 2520.4" stroke="#f4f4f4" stroke-width="33.5"/>
<path d="M1102.5 2520.4L1105.1 2525.8L1108 2531.1" stroke="#f4f4f4" stroke-width="33"/>
<path d="M1108 2531.1L1111 2536.4" stroke="#f4f4f4" stroke-width="32.5"/>
<path d="M1111 2536.4L1114.2 2541.5" stroke="#f4f4f4" stroke-width="32"/>
<path d="M1114.2 2541.5L1117.6 2546.4" stroke="#f4f4f4" stroke-width="31.5"/>
<path d="M1117.6 2546.4L1121.2 2551.2" stroke="#f4f4f4" stroke-width="31"/>
<path d="M1121.2 2551.2L1125 2555.8" stroke="#f4f4f4" stroke-width="30"/>
<path d="M1125 2555.8L1129.1 2560.2" stroke="#f4f4f4" stroke-width="29.5"/>
<path d="M1129.1 2560.2L1133.4 2564.3" stroke="#f4f4f4" stroke-width="28.5"/>
<path d="M1133.4 2564.3L1138 2568.2" stroke="#f4f4f4" stroke-width="27.5"/>
<path d="M1138 2568.2L1142.7 2571.7" stroke="#f4f4f4" stroke-width="26.5"/>
<path d="M1142.7 2571.7L1147.7 2574.9" stroke="#f4f4f4" stroke-width="25"/>
<path d="M1147.7 2574.9L1152.9 2578" stroke="#f4f4f4" stroke-width="24"/>
<path d="M1152.9 2578L1158.2 2580.8" stroke="#f4f4f4" stroke-width="22.5"/>
<path d="M1158.2 2580.8L1163.6 2583.3" stroke="#f9f9f9" stroke-width="20.5"/>
<path d="M1163.6 2583.3L1169.2 2585.5" stroke="#f9f9f9" stroke-width="19"/>
<path d="M1169.2 2585.5L1175 2587.3" stroke="#f9f9f9" stroke-width="17.5"/>
<path d="M1175 2587.3L1180.8 2588.9" stroke="#f9f9f9" stroke-width="15.5"/>
<path d="M1180.8 2588.9L1186.8 2590.1" stroke="#f9f9f9" stroke-width="13.5"/>
<path d="M990 2128.2L995 2131.6" stroke="#eeeeee" stroke-width="12.5"/>
<path d="M995 2131.6L998.9 2136.1" stroke="#eeeeee" stroke-width="13"/>
<path d="M998.9 2136.1L1002.2 2141" stroke="#e8e8e8" stroke-width="13.5"/>
<path d="M1002.2 2141L1005.1 2146.3" stroke="#e8e8e8" stroke-width="14"/>
<path d="M1005.1 2146.3L1007.6 2151.6" stroke="#e8e8e8" stroke-width="14.5"/>
<path d="M1007.6 2151.6L1010 2157.1L1012.2 2162.7" stroke="#e8e8e8" stroke-width="15"/>
<path d="M1012.2 2162.7L1014.3 2168.4" stroke="#e8e8e8" stroke-width="15.5"/>
<path d="M1014.3 2168.4L1016.3 2174.1L1018.1 2179.9" stroke="#e8e8e8" stroke-width="16"/>
<path d="M1018.1 2179.9L1019.8 2185.7L1021.4 2191.5" stroke="#e8e8e8" stroke-width="16.5"/>
<path d="M1021.4 2191.5L1022.9 2197.4L1024.4 2203.2" stroke="#e8e8e8" stroke-width="17"/>
<path d="M1024.4 2203.2L1025.9 2209.1" stroke="#e2e2e2" stroke-width="17"/>
<path d="M1025.9 2209.1L1027.3 2215L1028.7 2220.9" stroke="#e2e2e2" stroke-width="17.5"/>
<path d="M1028.7 2220.9L1030.1 2226.8L1031.4 2232.7L1032.7 2238.6" stroke="#e2e2e2" stroke-width="18"/>
<path d="M1032.7 2238.6L1034 2244.5L1035.3 2250.5L1036.5 2256.4" stroke="#e2e2e2" stroke-width="18.5"/>
<path d="M1036.5 2256.4L1037.8 2262.3L1039 2268.3L1040.3 2274.2" stroke="#e2e2e2" stroke-width="19"/>
<path d="M1040.3 2274.2L1041.5 2280.1L1042.7 2286.1L1043.9 2292" stroke="#e2e2e2" stroke-width="19.5"/>
<path d="M1043.9 2292L1045.1 2297.9L1046.4 2303.9L1047.6 2309.8L1048.8 2315.7L1050 2321.7L1051.2 2327.6" stroke="#e2e2e2" stroke-width="20"/>
<path d="M1051.2 2327.6L1052.5 2333.5L1053.7 2339.5L1054.9 2345.4L1056.2 2351.4L1057.4 2357.3L1058.6 2363.2L1059.8 2369.2L1061 2375.1L1062.3 2381L1063.5 2387" stroke="#e2e2e2" stroke-width="20.5"/>
<path d="M1063.5 2387L1064.7 2392.9L1066 2398.8L1067.3 2404.7L1068.6 2410.7L1069.9 2416.6L1071.3 2422.5L1072.7 2428.4L1074.1 2434.3" stroke="#e2e2e2" stroke-width="21"/>
<path d="M1074.1 2434.3L1075.6 2440.1L1077.1 2446L1078.6 2451.9L1080.2 2457.7L1081.9 2463.5L1083.6 2469.4L1085.3 2475.1L1087.2 2480.9L1089.1 2486.7L1091.1 2492.4L1093.1 2498.1L1095.3 2503.7L1097.6 2509.3" stroke="#e2e2e2" stroke-width="21.5"/>
<path d="M1097.6 2509.3L1100 2514.9L1102.5 2520.4L1105.1 2525.8" stroke="#e2e2e2" stroke-width="21"/>
<path d="M1105.1 2525.8L1108 2531.1L1111 2536.4" stroke="#e2e2e2" stroke-width="20.5"/>
<path d="M1111 2536.4L1114.2 2541.5" stroke="#e2e2e2" stroke-width="20"/>
<path d="M1114.2 2541.5L1117.6 2546.4L1121.2 2551.2" stroke="#e8e8e8" stroke-width="19.5"/>
<path d="M1121.2 2551.2L1125 2555.8" stroke="#e8e8e8" stroke-width="19"/>
<path d="M1125 2555.8L1129.1 2560.2" stroke="#e8e8e8" stroke-width="18.5"/>
<path d="M1129.1 2560.2L1133.4 2564.3" stroke="#e8e8e8" stroke-width="18"/>
<path d="M1133.4 2564.3L1138 2568.2" stroke="#e8e8e8" stroke-width="17.5"/>
<path d="M1138 2568.2L1142.7 2571.7" stroke="#e8e8e8" stroke-width="16.5"/>
<path d="M1142.7 2571.7L1147.7 2574.9" stroke="#eeeeee" stroke-width="15.5"/>
<path d="M1147.7 2574.9L1152.9 2578" stroke="#eeeeee" stroke-width="15"/>
<path d="M1152.9 2578L1158.2 2580.8" stroke="#eeeeee" stroke-width="14"/>
<path d="M1158.2 2580.8L1163.6 2583.3" stroke="#eeeeee" stroke-width="13"/>
<path d="M1163.6 2583.3L1169.2 2585.5" stroke="#eeeeee" stroke-width="12"/>
<path d="M1169.2 2585.5L1175 2587.3" stroke="#f4f4f4" stroke-width="11"/>
<path d="M1175 2587.3L1180.8 2588.9" stroke="#f4f4f4" stroke-width="9.5"/>
<path d="M1180.8 2588.9L1186.8 2590.1" stroke="#f4f4f4" stroke-width="8.5"/>
</g>
<g filter="url(#b1)">
<path d="M955 2142L961.3 2142.2" stroke="#f4f4f4" stroke-width="10"/>
<path d="M961.3 2142.2L967.7 2142.4" stroke="#f4f4f4" stroke-width="10.5"/>
<path d="M967.7 2142.4L973.9 2142.9" stroke="#f4f4f4" stroke-width="11.5"/>
<path d="M973.9 2142.9L980.2 2143.6" stroke="#f4f4f4" stroke-width="12"/>
<path d="M980.2 2143.6L986.5 2144.3" stroke="#f4f4f4" stroke-width="12.5"/>
<path d="M986.5 2144.3L992.7 2145.1L998.9 2146.5" stroke="#eeeeee" stroke-width="13"/>
<path d="M998.9 2146.5L1005 2148" stroke="#eeeeee" stroke-width="13.5"/>
<path d="M955 2142L961.3 2142.2" stroke="#dddddd" stroke-width="7"/>
<path d="M961.3 2142.2L967.7 2142.4" stroke="#d7d7d7" stroke-width="7.5"/>
<path d="M967.7 2142.4L973.9 2142.9" stroke="#d1d1d1" stroke-width="8"/>
<path d="M973.9 2142.9L980.2 2143.6" stroke="#d1d1d1" stroke-width="8.5"/>
<path d="M980.2 2143.6L986.5 2144.3" stroke="#cbcbcb" stroke-width="9"/>
<path d="M986.5 2144.3L992.7 2145.1" stroke="#c6c6c6" stroke-width="9"/>
<path d="M992.7 2145.1L998.9 2146.5L1005 2148" stroke="#c6c6c6" stroke-width="9.5"/>
<path d="M955 2142L961.3 2142.2" stroke="#b5b5b5" stroke-width="5"/>
<path d="M961.3 2142.2L967.7 2142.4" stroke="#a9a9a9" stroke-width="5.5"/>
<path d="M967.7 2142.4L973.9 2142.9" stroke="#9e9e9e" stroke-width="6"/>
<path d="M973.9 2142.9L980.2 2143.6" stroke="#929292" stroke-width="6.5"/>
<path d="M980.2 2143.6L986.5 2144.3" stroke="#8c8c8c" stroke-width="6.5"/>
<path d="M986.5 2144.3L992.7 2145.1" stroke="#878787" stroke-width="7"/>
<path d="M992.7 2145.1L998.9 2146.5L1005 2148" stroke="#818181" stroke-width="7"/>
</g>
<g filter="url(#b1)">
<path d="M975 2158L981.7 2158.4" stroke="#f9f9f9" stroke-width="10.5"/>
<path d="M981.7 2158.4L988.4 2159.4" stroke="#f4f4f4" stroke-width="11.5"/>
<path d="M988.4 2159.4L995 2160.6" stroke="#f4f4f4" stroke-width="12.5"/>
<path d="M995 2160.6L1001.5 2162" stroke="#f4f4f4" stroke-width="13"/>
<path d="M1001.5 2162L1008 2164" stroke="#eeeeee" stroke-width="13.5"/>
<path d="M975 2158L981.7 2158.4" stroke="#e8e8e8" stroke-width="7.5"/>
<path d="M981.7 2158.4L988.4 2159.4" stroke="#dddddd" stroke-width="8"/>
<path d="M988.4 2159.4L995 2160.6" stroke="#d1d1d1" stroke-width="9"/>
<path d="M995 2160.6L1001.5 2162" stroke="#cbcbcb" stroke-width="9"/>
<path d="M1001.5 2162L1008 2164" stroke="#c6c6c6" stroke-width="9.5"/>
<path d="M975 2158L981.7 2158.4" stroke="#c6c6c6" stroke-width="5.5"/>
<path d="M981.7 2158.4L988.4 2159.4" stroke="#afafaf" stroke-width="6"/>
<path d="M988.4 2159.4L995 2160.6" stroke="#9e9e9e" stroke-width="6.5"/>
<path d="M995 2160.6L1001.5 2162" stroke="#8c8c8c" stroke-width="7"/>
<path d="M1001.5 2162L1008 2164" stroke="#7b7b7b" stroke-width="7"/>
</g>
<g filter="url(#b1)">
<path d="M831.4 2125.8L837.4 2125.8" stroke="#f9f9f9" stroke-width="7.5"/>
<path d="M837.4 2125.8L843.4 2125.8L849.4 2125.8" stroke="#f9f9f9" stroke-width="8"/>
<path d="M849.4 2125.8L855.4 2125.8L861.4 2125.8L867.4 2125.8" stroke="#f9f9f9" stroke-width="8.5"/>
<path d="M867.4 2125.8L873.5 2125.8L879.5 2125.8L885.5 2125.8L891.5 2125.8" stroke="#f4f4f4" stroke-width="9"/>
<path d="M891.5 2125.8L897.5 2125.8L903.5 2125.8" stroke="#eeeeee" stroke-width="9"/>
<path d="M903.5 2125.8L909.5 2125.8L915.6 2125.8" stroke="#eeeeee" stroke-width="9.5"/>
<path d="M915.6 2125.8L921.6 2125.8" stroke="#e8e8e8" stroke-width="9.5"/>
<path d="M921.6 2125.8L927.6 2125.8L933.6 2125.8" stroke="#e8e8e8" stroke-width="10"/>
<path d="M933.6 2125.8L939.6 2125.8" stroke="#e2e2e2" stroke-width="10.5"/>
<path d="M939.6 2125.8L945.6 2125.9" stroke="#e2e2e2" stroke-width="11"/>
<path d="M945.6 2125.9L951.6 2126.1" stroke="#e2e2e2" stroke-width="11.5"/>
<path d="M951.6 2126.1L957.5 2126.4" stroke="#dddddd" stroke-width="12"/>
<path d="M957.5 2126.4L963.4 2127" stroke="#dddddd" stroke-width="12.5"/>
<path d="M963.4 2127L969.1 2127.9" stroke="#dddddd" stroke-width="13"/>
<path d="M969.1 2127.9L974.6 2129.3" stroke="#dddddd" stroke-width="13.5"/>
<path d="M974.6 2129.3L979.8 2131.3" stroke="#d7d7d7" stroke-width="14"/>
<path d="M979.8 2131.3L984.6 2133.9" stroke="#d7d7d7" stroke-width="15"/>
<path d="M984.6 2133.9L989 2137.2" stroke="#d7d7d7" stroke-width="15.5"/>
<path d="M989 2137.2L992.9 2141.1" stroke="#d7d7d7" stroke-width="16.5"/>
<path d="M992.9 2141.1L996.4 2145.5" stroke="#dddddd" stroke-width="17"/>
<path d="M996.4 2145.5L999.5 2150.4" stroke="#dddddd" stroke-width="17.5"/>
<path d="M999.5 2150.4L1002.1 2155.5" stroke="#dddddd" stroke-width="18"/>
<path d="M1002.1 2155.5L1004.5 2160.9" stroke="#dddddd" stroke-width="18.5"/>
<path d="M1004.5 2160.9L1006.7 2166.5L1008.6 2172.2" stroke="#dddddd" stroke-width="19"/>
<path d="M1008.6 2172.2L1010.4 2177.9L1012.2 2183.6" stroke="#dddddd" stroke-width="19.5"/>
<path d="M1012.2 2183.6L1013.8 2189.4L1015.4 2195.2" stroke="#e2e2e2" stroke-width="19.5"/>
<path d="M1015.4 2195.2L1016.9 2201L1018.3 2206.9L1019.8 2212.7L1021.2 2218.6L1022.5 2224.4L1023.8 2230.3L1025.2 2236.1L1026.4 2242L1027.7 2247.9L1029 2253.8L1030.2 2259.7L1031.5 2265.5L1032.7 2271.4L1033.9 2277.3L1035.1 2283.2L1036.3 2289.1L1037.5 2295L1038.7 2300.9L1039.9 2306.8L1041.2 2312.7L1042.4 2318.5L1043.6 2324.4L1044.8 2330.3L1046 2336.2L1047.2 2342.1L1048.5 2348L1049.7 2353.9L1050.9 2359.8L1052.1 2365.6L1053.3 2371.5L1054.5 2377.4L1055.7 2383.3L1057 2389.2L1058.2 2395.1L1059.5 2401L1060.7 2406.8L1062.1 2412.7L1063.4 2418.6L1064.7 2424.4L1066.1 2430.3L1067.6 2436.1L1069 2441.9L1070.5 2447.8L1072.1 2453.6L1073.7 2459.4L1075.3 2465.1L1077 2470.9L1078.8 2476.7L1080.6 2482.4" stroke="#e2e2e2" stroke-width="20"/>
<path d="M1080.6 2482.4L1082.5 2488.1L1084.5 2493.7L1086.6 2499.4L1088.8 2505L1091 2510.5L1093.4 2516" stroke="#e2e2e2" stroke-width="19.5"/>
<path d="M1093.4 2516L1096 2521.5L1098.7 2526.8L1101.5 2532.1L1104.5 2537.3" stroke="#dddddd" stroke-width="19"/>
<path d="M1104.5 2537.3L1107.7 2542.3L1111.1 2547.2" stroke="#dddddd" stroke-width="18.5"/>
<path d="M1111.1 2547.2L1114.7 2551.9" stroke="#dddddd" stroke-width="18"/>
<path d="M1114.7 2551.9L1118.6 2556.5" stroke="#d7d7d7" stroke-width="18"/>
<path d="M1118.6 2556.5L1122.6 2560.8" stroke="#d7d7d7" stroke-width="17.5"/>
<path d="M1122.6 2560.8L1126.9 2564.8L1131.5 2568.6" stroke="#d7d7d7" stroke-width="17"/>
<path d="M1131.5 2568.6L1136.3 2572.1" stroke="#d1d1d1" stroke-width="16.5"/>
<path d="M1136.3 2572.1L1141.2 2575.3" stroke="#d1d1d1" stroke-width="16"/>
<path d="M1141.2 2575.3L1146.4 2578.2" stroke="#d1d1d1" stroke-width="15.5"/>
<path d="M1146.4 2578.2L1151.8 2580.7" stroke="#d1d1d1" stroke-width="15"/>
<path d="M1151.8 2580.7L1157.3 2583" stroke="#d1d1d1" stroke-width="14.5"/>
<path d="M1157.3 2583L1162.9 2585" stroke="#cbcbcb" stroke-width="14.5"/>
<path d="M1162.9 2585L1168.6 2586.7" stroke="#cbcbcb" stroke-width="14"/>
<path d="M1168.6 2586.7L1174.4 2588.1" stroke="#cbcbcb" stroke-width="13.5"/>
<path d="M1174.4 2588.1L1180.2 2589.3L1186.1 2590.4" stroke="#cbcbcb" stroke-width="13"/>
<path d="M1186.1 2590.4L1192 2591.3" stroke="#cbcbcb" stroke-width="12.5"/>
<path d="M1192 2591.3L1198 2592.1" stroke="#cbcbcb" stroke-width="12"/>
<path d="M1198 2592.1L1204 2592.8" stroke="#cbcbcb" stroke-width="11.5"/>
<path d="M1204 2592.8L1209.9 2593.3" stroke="#d1d1d1" stroke-width="11"/>
<path d="M1209.9 2593.3L1215.9 2593.8" stroke="#d1d1d1" stroke-width="10.5"/>
<path d="M1215.9 2593.8L1221.9 2594.1" stroke="#d7d7d7" stroke-width="10"/>
<path d="M1221.9 2594.1L1227.9 2594.4" stroke="#d7d7d7" stroke-width="9.5"/>
<path d="M825.4 2125.8L831.4 2125.8L837.4 2125.8" stroke="#f9f9f9" stroke-width="5.5"/>
<path d="M837.4 2125.8L843.4 2125.8L849.4 2125.8L855.4 2125.8" stroke="#f4f4f4" stroke-width="6"/>
<path d="M855.4 2125.8L861.4 2125.8" stroke="#eeeeee" stroke-width="6"/>
<path d="M861.4 2125.8L867.4 2125.8" stroke="#eeeeee" stroke-width="6.5"/>
<path d="M867.4 2125.8L873.5 2125.8" stroke="#e8e8e8" stroke-width="6.5"/>
<path d="M873.5 2125.8L879.5 2125.8L885.5 2125.8" stroke="#e2e2e2" stroke-width="6.5"/>
<path d="M885.5 2125.8L891.5 2125.8L897.5 2125.8" stroke="#dddddd" stroke-width="6.5"/>
<path d="M897.5 2125.8L903.5 2125.8" stroke="#d7d7d7" stroke-width="6.5"/>
<path d="M903.5 2125.8L909.5 2125.8" stroke="#d1d1d1" stroke-width="6.5"/>
<path d="M909.5 2125.8L915.6 2125.8" stroke="#d1d1d1" stroke-width="7"/>
<path d="M915.6 2125.8L921.6 2125.8L927.6 2125.8" stroke="#cbcbcb" stroke-width="7"/>
<path d="M927.6 2125.8L933.6 2125.8" stroke="#c6c6c6" stroke-width="7.5"/>
<path d="M933.6 2125.8L939.6 2125.8" stroke="#c0c0c0" stroke-width="7.5"/>
<path d="M939.6 2125.8L945.6 2125.9L951.6 2126.1" stroke="#bababa" stroke-width="8"/>
<path d="M951.6 2126.1L957.5 2126.4" stroke="#b5b5b5" stroke-width="8.5"/>
<path d="M957.5 2126.4L963.4 2127" stroke="#afafaf" stroke-width="9"/>
<path d="M963.4 2127L969.1 2127.9" stroke="#a9a9a9" stroke-width="9.5"/>
<path d="M969.1 2127.9L974.6 2129.3" stroke="#a9a9a9" stroke-width="10"/>
<path d="M974.6 2129.3L979.8 2131.3" stroke="#a3a3a3" stroke-width="10"/>
<path d="M979.8 2131.3L984.6 2133.9" stroke="#a3a3a3" stroke-width="10.5"/>
<path d="M984.6 2133.9L989 2137.2" stroke="#a3a3a3" stroke-width="11"/>
<path d="M989 2137.2L992.9 2141.1" stroke="#a3a3a3" stroke-width="11.5"/>
<path d="M992.9 2141.1L996.4 2145.5" stroke="#a9a9a9" stroke-width="12"/>
<path d="M996.4 2145.5L999.5 2150.4" stroke="#a9a9a9" stroke-width="12.5"/>
<path d="M999.5 2150.4L1002.1 2155.5" stroke="#a9a9a9" stroke-width="13"/>
<path d="M1002.1 2155.5L1004.5 2160.9L1006.7 2166.5" stroke="#afafaf" stroke-width="13.5"/>
<path d="M1006.7 2166.5L1008.6 2172.2" stroke="#afafaf" stroke-width="14"/>
<path d="M1008.6 2172.2L1010.4 2177.9L1012.2 2183.6L1013.8 2189.4" stroke="#b5b5b5" stroke-width="14"/>
<path d="M1013.8 2189.4L1015.4 2195.2L1016.9 2201L1018.3 2206.9L1019.8 2212.7L1021.2 2218.6L1022.5 2224.4L1023.8 2230.3L1025.2 2236.1L1026.4 2242" stroke="#b5b5b5" stroke-width="14.5"/>
<path d="M1026.4 2242L1027.7 2247.9L1029 2253.8L1030.2 2259.7L1031.5 2265.5L1032.7 2271.4L1033.9 2277.3L1035.1 2283.2L1036.3 2289.1L1037.5 2295L1038.7 2300.9L1039.9 2306.8L1041.2 2312.7L1042.4 2318.5L1043.6 2324.4L1044.8 2330.3L1046 2336.2L1047.2 2342.1L1048.5 2348L1049.7 2353.9L1050.9 2359.8L1052.1 2365.6L1053.3 2371.5L1054.5 2377.4L1055.7 2383.3L1057 2389.2L1058.2 2395.1L1059.5 2401L1060.7 2406.8L1062.1 2412.7L1063.4 2418.6L1064.7 2424.4L1066.1 2430.3L1067.6 2436.1L1069 2441.9L1070.5 2447.8L1072.1 2453.6L1073.7 2459.4L1075.3 2465.1L1077 2470.9L1078.8 2476.7L1080.6 2482.4" stroke="#bababa" stroke-width="14.5"/>
<path d="M1080.6 2482.4L1082.5 2488.1L1084.5 2493.7L1086.6 2499.4" stroke="#bababa" stroke-width="14"/>
<path d="M1086.6 2499.4L1088.8 2505L1091 2510.5L1093.4 2516L1096 2521.5" stroke="#b5b5b5" stroke-width="14"/>
<path d="M1096 2521.5L1098.7 2526.8" stroke="#afafaf" stroke-width="14"/>
<path d="M1098.7 2526.8L1101.5 2532.1L1104.5 2537.3" stroke="#afafaf" stroke-width="13.5"/>
<path d="M1104.5 2537.3L1107.7 2542.3L1111.1 2547.2" stroke="#a9a9a9" stroke-width="13.5"/>
<path d="M1111.1 2547.2L1114.7 2551.9" stroke="#a9a9a9" stroke-width="13"/>
<path d="M1114.7 2551.9L1118.6 2556.5" stroke="#a3a3a3" stroke-width="13"/>
<path d="M1118.6 2556.5L1122.6 2560.8" stroke="#a3a3a3" stroke-width="12.5"/>
<path d="M1122.6 2560.8L1126.9 2564.8" stroke="#9e9e9e" stroke-width="12.5"/>
<path d="M1126.9 2564.8L1131.5 2568.6" stroke="#9e9e9e" stroke-width="12"/>
<path d="M1131.5 2568.6L1136.3 2572.1" stroke="#989898" stroke-width="12"/>
<path d="M1136.3 2572.1L1141.2 2575.3" stroke="#929292" stroke-width="11.5"/>
<path d="M1141.2 2575.3L1146.4 2578.2" stroke="#929292" stroke-width="11"/>
<path d="M1146.4 2578.2L1151.8 2580.7" stroke="#8c8c8c" stroke-width="11"/>
<path d="M1151.8 2580.7L1157.3 2583" stroke="#8c8c8c" stroke-width="10.5"/>
<path d="M1157.3 2583L1162.9 2585" stroke="#878787" stroke-width="10.5"/>
<path d="M1162.9 2585L1168.6 2586.7L1174.4 2588.1" stroke="#878787" stroke-width="10"/>
<path d="M1174.4 2588.1L1180.2 2589.3" stroke="#878787" stroke-width="9.5"/>
<path d="M1180.2 2589.3L1186.1 2590.4L1192 2591.3" stroke="#878787" stroke-width="9"/>
<path d="M1192 2591.3L1198 2592.1L1204 2592.8" stroke="#878787" stroke-width="8.5"/>
<path d="M1204 2592.8L1209.9 2593.3" stroke="#8c8c8c" stroke-width="8"/>
<path d="M1209.9 2593.3L1215.9 2593.8" stroke="#929292" stroke-width="7.5"/>
<path d="M1215.9 2593.8L1221.9 2594.1" stroke="#989898" stroke-width="7.5"/>
<path d="M1221.9 2594.1L1227.9 2594.4" stroke="#a3a3a3" stroke-width="7"/>
<path d="M825.4 2125.8L831.4 2125.8" stroke="#f4f4f4" stroke-width="4"/>
<path d="M831.4 2125.8L837.4 2125.8" stroke="#f4f4f4" stroke-width="4.5"/>
<path d="M837.4 2125.8L843.4 2125.8L849.4 2125.8" stroke="#eeeeee" stroke-width="4.5"/>
<path d="M849.4 2125.8L855.4 2125.8" stroke="#e8e8e8" stroke-width="4.5"/>
<path d="M855.4 2125.8L861.4 2125.8" stroke="#e2e2e2" stroke-width="5"/>
<path d="M861.4 2125.8L867.4 2125.8" stroke="#dddddd" stroke-width="5"/>
<path d="M867.4 2125.8L873.5 2125.8" stroke="#d7d7d7" stroke-width="5"/>
<path d="M873.5 2125.8L879.5 2125.8L885.5 2125.8" stroke="#d1d1d1" stroke-width="5"/>
<path d="M885.5 2125.8L891.5 2125.8" stroke="#cbcbcb" stroke-width="5"/>
<path d="M891.5 2125.8L897.5 2125.8" stroke="#c6c6c6" stroke-width="5"/>
<path d="M897.5 2125.8L903.5 2125.8" stroke="#c0c0c0" stroke-width="5"/>
<path d="M903.5 2125.8L909.5 2125.8" stroke="#b5b5b5" stroke-width="5"/>
<path d="M909.5 2125.8L915.6 2125.8" stroke="#afafaf" stroke-width="5.5"/>
<path d="M915.6 2125.8L921.6 2125.8" stroke="#a9a9a9" stroke-width="5.5"/>
<path d="M921.6 2125.8L927.6 2125.8" stroke="#a3a3a3" stroke-width="5.5"/>
<path d="M927.6 2125.8L933.6 2125.8" stroke="#9e9e9e" stroke-width="5.5"/>
<path d="M933.6 2125.8L939.6 2125.8" stroke="#989898" stroke-width="6"/>
<path d="M939.6 2125.8L945.6 2125.9" stroke="#929292" stroke-width="6"/>
<path d="M945.6 2125.9L951.6 2126.1" stroke="#878787" stroke-width="6.5"/>
<path d="M951.6 2126.1L957.5 2126.4" stroke="#818181" stroke-width="6.5"/>
<path d="M957.5 2126.4L963.4 2127" stroke="#7b7b7b" stroke-width="7"/>
<path d="M963.4 2127L969.1 2127.9" stroke="#707070" stroke-width="7"/>
<path d="M969.1 2127.9L974.6 2129.3" stroke="#6a6a6a" stroke-width="7.5"/>
<path d="M974.6 2129.3L979.8 2131.3" stroke="#6a6a6a" stroke-width="8"/>
<path d="M979.8 2131.3L984.6 2133.9L989 2137.2" stroke="#646464" stroke-width="8.5"/>
<path d="M989 2137.2L992.9 2141.1" stroke="#6a6a6a" stroke-width="9"/>
<path d="M992.9 2141.1L996.4 2145.5" stroke="#6a6a6a" stroke-width="9.5"/>
<path d="M996.4 2145.5L999.5 2150.4" stroke="#707070" stroke-width="9.5"/>
<path d="M999.5 2150.4L1002.1 2155.5" stroke="#707070" stroke-width="10"/>
<path d="M1002.1 2155.5L1004.5 2160.9" stroke="#767676" stroke-width="10.5"/>
<path d="M1004.5 2160.9L1006.7 2166.5L1008.6 2172.2" stroke="#7b7b7b" stroke-width="10.5"/>
<path d="M1008.6 2172.2L1010.4 2177.9L1012.2 2183.6L1013.8 2189.4L1015.4 2195.2L1016.9 2201" stroke="#818181" stroke-width="11"/>
<path d="M1016.9 2201L1018.3 2206.9L1019.8 2212.7L1021.2 2218.6L1022.5 2224.4L1023.8 2230.3L1025.2 2236.1L1026.4 2242L1027.7 2247.9L1029 2253.8L1030.2 2259.7L1031.5 2265.5" stroke="#878787" stroke-width="11"/>
<path d="M1031.5 2265.5L1032.7 2271.4L1033.9 2277.3L1035.1 2283.2L1036.3 2289.1L1037.5 2295L1038.7 2300.9L1039.9 2306.8L1041.2 2312.7L1042.4 2318.5L1043.6 2324.4L1044.8 2330.3L1046 2336.2L1047.2 2342.1L1048.5 2348L1049.7 2353.9L1050.9 2359.8L1052.1 2365.6L1053.3 2371.5L1054.5 2377.4L1055.7 2383.3L1057 2389.2L1058.2 2395.1L1059.5 2401L1060.7 2406.8L1062.1 2412.7L1063.4 2418.6L1064.7 2424.4L1066.1 2430.3L1067.6 2436.1L1069 2441.9L1070.5 2447.8L1072.1 2453.6L1073.7 2459.4L1075.3 2465.1L1077 2470.9L1078.8 2476.7L1080.6 2482.4L1082.5 2488.1L1084.5 2493.7" stroke="#8c8c8c" stroke-width="11"/>
<path d="M1084.5 2493.7L1086.6 2499.4L1088.8 2505L1091 2510.5" stroke="#878787" stroke-width="11"/>
<path d="M1091 2510.5L1093.4 2516L1096 2521.5" stroke="#818181" stroke-width="10.5"/>
<path d="M1096 2521.5L1098.7 2526.8L1101.5 2532.1" stroke="#7b7b7b" stroke-width="10.5"/>
<path d="M1101.5 2532.1L1104.5 2537.3L1107.7 2542.3" stroke="#767676" stroke-width="10.5"/>
<path d="M1107.7 2542.3L1111.1 2547.2" stroke="#707070" stroke-width="10"/>
<path d="M1111.1 2547.2L1114.7 2551.9L1118.6 2556.5" stroke="#6a6a6a" stroke-width="10"/>
<path d="M1118.6 2556.5L1122.6 2560.8" stroke="#646464" stroke-width="10"/>
<path d="M1122.6 2560.8L1126.9 2564.8" stroke="#5f5f5f" stroke-width="9.5"/>
<path d="M1126.9 2564.8L1131.5 2568.6" stroke="#595959" stroke-width="9.5"/>
<path d="M1131.5 2568.6L1136.3 2572.1" stroke="#535353" stroke-width="9"/>
<path d="M1136.3 2572.1L1141.2 2575.3" stroke="#4e4e4e" stroke-width="9"/>
<path d="M1141.2 2575.3L1146.4 2578.2" stroke="#484848" stroke-width="8.5"/>
<path d="M1146.4 2578.2L1151.8 2580.7" stroke="#424242" stroke-width="8.5"/>
<path d="M1151.8 2580.7L1157.3 2583" stroke="#3c3c3c" stroke-width="8"/>
<path d="M1157.3 2583L1162.9 2585" stroke="#373737" stroke-width="8"/>
<path d="M1162.9 2585L1168.6 2586.7" stroke="#373737" stroke-width="7.5"/>
<path d="M1168.6 2586.7L1174.4 2588.1L1180.2 2589.3" stroke="#313131" stroke-width="7.5"/>
<path d="M1180.2 2589.3L1186.1 2590.4" stroke="#313131" stroke-width="7"/>
<path d="M1186.1 2590.4L1192 2591.3" stroke="#373737" stroke-width="7"/>
<path d="M1192 2591.3L1198 2592.1" stroke="#373737" stroke-width="6.5"/>
<path d="M1198 2592.1L1204 2592.8" stroke="#3c3c3c" stroke-width="6.5"/>
<path d="M1204 2592.8L1209.9 2593.3" stroke="#424242" stroke-width="6"/>
<path d="M1209.9 2593.3L1215.9 2593.8" stroke="#484848" stroke-width="6"/>
<path d="M1215.9 2593.8L1221.9 2594.1" stroke="#535353" stroke-width="5.5"/>
<path d="M1221.9 2594.1L1227.9 2594.4" stroke="#6a6a6a" stroke-width="5"/>
</g>
<circle cx="1227.9" cy="2595.6" r="3.1" fill="#767676"/><circle cx="1234.5" cy="2595.6" r="3.1" fill="#767676"/><circle cx="1241.1" cy="2595.6" r="3.1" fill="#767676"/><circle cx="1249" cy="2595.6" r="3.1" fill="#767676"/><circle cx="1258.6" cy="2595.6" r="3.1" fill="#818181"/><circle cx="1269.5" cy="2595.6" r="3.1" fill="#bababa"/><circle cx="1290.1" cy="2595.6" r="3.1" fill="#e8e8e8"/>
<g class="rd"><circle cx="860" cy="2125.8" r="3.0"/><circle cx="875.3" cy="2125.8" r="3.0"/><circle cx="890.7" cy="2125.8" r="3.0"/><circle cx="893.3" cy="2125.8" r="3.0"/><circle cx="895.9" cy="2125.8" r="3.0"/><circle cx="898.6" cy="2125.8" r="3.0"/><circle cx="901.2" cy="2125.8" r="3.0"/><circle cx="903.8" cy="2125.8" r="3.0"/><circle cx="906.4" cy="2125.8" r="3.0"/><circle cx="909.1" cy="2125.8" r="3.0"/><circle cx="911.7" cy="2125.8" r="3.0"/><circle cx="914.3" cy="2125.8" r="3.0"/><circle cx="917" cy="2125.8" r="3.0"/><circle cx="919.6" cy="2125.8" r="3.0"/><circle cx="922.2" cy="2125.8" r="3.0"/><circle cx="924.8" cy="2125.8" r="3.0"/><circle cx="927.5" cy="2125.8" r="3.0"/><circle cx="930.1" cy="2125.8" r="3.0"/><circle cx="932.7" cy="2125.8" r="3.0"/><circle cx="935.4" cy="2125.8" r="3.0"/><circle cx="938" cy="2125.8" r="3.0"/><circle cx="940.6" cy="2125.8" r="3.0"/><circle cx="943.2" cy="2125.8" r="3.0"/><circle cx="945.9" cy="2125.8" r="3.0"/><circle cx="948.5" cy="2125.8" r="3.0"/><circle cx="951.1" cy="2125.8" r="3.0"/><circle cx="953.8" cy="2125.8" r="3.0"/><circle cx="956.4" cy="2125.8" r="3.0"/><circle cx="959" cy="2125.8" r="3.0"/><circle cx="961.6" cy="2125.8" r="3.0"/><circle cx="964.3" cy="2125.8" r="3.0"/><circle cx="966.9" cy="2125.8" r="3.0"/><circle cx="969.5" cy="2125.8" r="3.0"/><circle cx="972.1" cy="2125.8" r="3.0"/><circle cx="974.8" cy="2125.8" r="3.0"/><circle cx="977.4" cy="2125.8" r="3.0"/><circle cx="980" cy="2125.8" r="3.0"/><circle cx="982.7" cy="2125.8" r="3.0"/><circle cx="985.3" cy="2125.8" r="3.0"/><circle cx="987.9" cy="2125.8" r="3.0"/><circle cx="990.5" cy="2125.8" r="3.0"/><circle cx="993.2" cy="2125.8" r="3.0"/><circle cx="995.8" cy="2125.8" r="3.0"/><circle cx="998.4" cy="2125.8" r="3.0"/><circle cx="1001.1" cy="2125.8" r="3.0"/><circle cx="957.4" cy="2142.3" r="3.0"/><circle cx="960.4" cy="2142.3" r="3.0"/><circle cx="963.4" cy="2142.3" r="3.0"/><circle cx="966.4" cy="2142.3" r="3.0"/><circle cx="969.4" cy="2142.3" r="3.0"/><circle cx="972.4" cy="2142.3" r="3.0"/><circle cx="975.4" cy="2142.3" r="3.0"/><circle cx="978.4" cy="2142.3" r="3.0"/><circle cx="981.4" cy="2142.3" r="3.0"/><circle cx="984.4" cy="2142.3" r="3.0"/><circle cx="987.4" cy="2142.3" r="3.0"/><circle cx="990.4" cy="2142.3" r="3.0"/><circle cx="993.4" cy="2142.3" r="3.0"/><circle cx="996.4" cy="2142.3" r="3.0"/><circle cx="999.4" cy="2142.3" r="3.0"/><circle cx="1004" cy="2125.8" r="3.0"/><circle cx="977.5" cy="2129" r="3.0"/><circle cx="982" cy="2131" r="3.0"/><circle cx="987" cy="2133" r="3.0"/><circle cx="992" cy="2131" r="3.0"/><circle cx="997" cy="2134" r="3.0"/><circle cx="1000.4" cy="2132" r="3.0"/><circle cx="999" cy="2142.3" r="3.0"/><circle cx="1011.9" cy="2145.9" r="3.0"/><circle cx="1023.4" cy="2150.2" r="3.0"/><circle cx="1011.9" cy="2152.4" r="3.0"/><circle cx="1019.1" cy="2151.7" r="3.0"/><circle cx="1020.5" cy="2156.7" r="3.0"/><circle cx="1003.3" cy="2151.7" r="3.0"/><circle cx="1000.4" cy="2160.3" r="3.0"/><circle cx="1004" cy="2161" r="3.0"/><circle cx="1007" cy="2162" r="3.0"/><circle cx="1009.8" cy="2160.3" r="3.0"/><circle cx="1019.8" cy="2169.6" r="3.0"/><circle cx="1034.9" cy="2227.7" r="3.0"/><circle cx="1034.1" cy="2239.2" r="3.0"/><circle cx="1067.6" cy="2233.7" r="3.0"/><circle cx="1072.6" cy="2262.1" r="3.0"/><circle cx="1066.4" cy="2277.9" r="3.0"/><circle cx="1050.1" cy="2303.7" r="3.0"/><circle cx="1093.6" cy="2426.3" r="3.0"/><circle cx="1103.8" cy="2403.3" r="3.0"/></g>
<path d="M1382 2595.6H1896.7" class="zl"/>
<path d="M1632.7 2102.8V2618.7" class="zl"/>
<path d="M1382 2102.8V2618.7H1896.7" class="ax"/>
<path d="M1378.4 2126.6h3.6M1378.4 2243.8h3.6M1378.4 2361.1h3.6M1378.4 2478.3h3.6M1378.4 2595.6h3.6M1505.9 2618.7v3.6M1632.7 2618.7v3.6M1759.5 2618.7v3.6M1885.4 2618.7v3.6" class="tk"/>
<text x="1376.6" y="2133.5" class="yl">1.00</text>
<text x="1376.6" y="2250.8" class="yl">0.75</text>
<text x="1376.6" y="2368" class="yl">0.50</text>
<text x="1376.6" y="2485.2" class="yl">0.25</text>
<text x="1376.6" y="2602.5" class="yl">0.00</text>
<text x="1505.9" y="2638.5" class="xl">-3</text>
<text x="1632.7" y="2638.5" class="xl">0</text>
<text x="1759.5" y="2638.5" class="xl">3</text>
<text x="1885.4" y="2638.5" class="xl">6</text>
<text x="1498.2" y="2083.1" class="ti">Neuroblast</text>
<g filter="url(#b1)">
<path d="M1429.2 2126.6L1435.2 2126.6" stroke="#f9f9f9" stroke-width="7.5"/>
<path d="M1435.2 2126.6L1441.2 2126.6" stroke="#f9f9f9" stroke-width="8"/>
<path d="M1441.2 2126.6L1447.2 2126.6L1453.2 2126.6L1459.3 2126.6" stroke="#f9f9f9" stroke-width="8.5"/>
<path d="M1459.3 2126.6L1465.3 2126.6" stroke="#f9f9f9" stroke-width="9"/>
<path d="M1465.3 2126.6L1471.3 2126.6L1477.3 2126.6L1483.3 2126.6L1489.3 2126.6L1495.4 2126.6" stroke="#f4f4f4" stroke-width="9"/>
<path d="M1495.4 2126.6L1501.4 2126.6L1507.4 2126.6L1513.4 2126.6" stroke="#eeeeee" stroke-width="9.5"/>
<path d="M1513.4 2126.6L1519.4 2126.6" stroke="#eeeeee" stroke-width="10"/>
<path d="M1519.4 2126.6L1525.5 2126.6L1531.5 2126.6" stroke="#e8e8e8" stroke-width="10"/>
<path d="M1531.5 2126.6L1537.5 2126.7" stroke="#e8e8e8" stroke-width="10.5"/>
<path d="M1537.5 2126.7L1543.5 2126.9L1549.4 2127.2" stroke="#e2e2e2" stroke-width="10.5"/>
<path d="M1549.4 2127.2L1555.3 2127.8L1561 2128.7" stroke="#dddddd" stroke-width="10.5"/>
<path d="M1561 2128.7L1566.4 2130.1" stroke="#dddddd" stroke-width="11"/>
<path d="M1566.4 2130.1L1571.6 2132.2L1576.4 2134.8L1580.7 2138.1L1584.6 2142.1L1588 2146.5L1591 2151.4L1593.6 2156.7L1595.9 2162.1L1598 2167.7L1600 2173.4L1601.8 2179.1L1603.5 2184.9L1605.1 2190.6L1606.7 2196.5L1608.3 2202.3L1609.8 2208.1L1611.3 2213.9L1612.7 2219.8L1614.1 2225.6L1615.5 2231.5L1616.8 2237.3L1618.2 2243.2L1619.5 2249.1L1620.8 2255L1622.1 2260.8L1623.4 2266.7L1624.7 2272.6L1625.9 2278.5L1627.2 2284.4L1628.5 2290.3L1629.7 2296.1L1631 2302L1632.3 2307.9L1633.5 2313.8L1634.8 2319.7L1636.1 2325.6L1637.3 2331.4L1638.6 2337.3L1639.9 2343.2L1641.1 2349.1L1642.4 2355L1643.6 2360.9L1644.8 2366.8L1646 2372.7L1647.2 2378.6L1648.4 2384.5L1649.6 2390.4L1650.8 2396.3L1652 2402.2L1653.3 2408" stroke="#d7d7d7" stroke-width="11"/>
<path d="M1653.3 2408L1654.5 2413.9L1655.8 2419.8L1657.1 2425.7L1658.5 2431.5L1659.9 2437.4L1661.3 2443.2L1662.8 2449.1L1664.3 2454.9L1665.8 2460.7L1667.5 2466.5L1669.1 2472.3L1670.8 2478.1L1672.6 2483.8L1674.5 2489.5L1676.4 2495.2" stroke="#d7d7d7" stroke-width="11.5"/>
<path d="M1676.4 2495.2L1678.5 2500.9L1680.6 2506.5L1682.9 2512.1L1685.2 2517.6L1687.7 2523L1690.4 2528.4L1693.2 2533.7" stroke="#d7d7d7" stroke-width="12"/>
<path d="M1693.2 2533.7L1696.2 2538.9" stroke="#d1d1d1" stroke-width="12"/>
<path d="M1696.2 2538.9L1699.3 2544L1702.7 2548.9L1706.4 2553.6L1710.2 2558.1" stroke="#d1d1d1" stroke-width="12.5"/>
<path d="M1710.2 2558.1L1714.3 2562.4L1718.7 2566.4L1723.3 2570.1" stroke="#d1d1d1" stroke-width="13"/>
<path d="M1723.3 2570.1L1728.1 2573.6L1733.1 2576.7L1738.3 2579.5L1743.7 2582L1749.2 2584.1L1754.9 2586L1760.6 2587.6" stroke="#cbcbcb" stroke-width="13.5"/>
<path d="M1760.6 2587.6L1766.5 2588.9L1772.3 2590.1" stroke="#cbcbcb" stroke-width="13"/>
<path d="M1772.3 2590.1L1778.2 2591.1" stroke="#cbcbcb" stroke-width="12.5"/>
<path d="M1778.2 2591.1L1784.2 2592" stroke="#cbcbcb" stroke-width="12"/>
<path d="M1784.2 2592L1790.2 2592.7" stroke="#cbcbcb" stroke-width="11.5"/>
<path d="M1790.2 2592.7L1796.1 2593.3" stroke="#cbcbcb" stroke-width="11"/>
<path d="M1796.1 2593.3L1802.1 2593.7" stroke="#cbcbcb" stroke-width="10.5"/>
<path d="M1802.1 2593.7L1808.1 2594.1" stroke="#cbcbcb" stroke-width="10"/>
<path d="M1808.1 2594.1L1814.2 2594.4" stroke="#d1d1d1" stroke-width="9.5"/>
<path d="M1423.1 2126.6L1429.2 2126.6L1435.2 2126.6" stroke="#f9f9f9" stroke-width="5.5"/>
<path d="M1435.2 2126.6L1441.2 2126.6L1447.2 2126.6L1453.2 2126.6" stroke="#f4f4f4" stroke-width="6"/>
<path d="M1453.2 2126.6L1459.3 2126.6" stroke="#eeeeee" stroke-width="6"/>
<path d="M1459.3 2126.6L1465.3 2126.6" stroke="#eeeeee" stroke-width="6.5"/>
<path d="M1465.3 2126.6L1471.3 2126.6L1477.3 2126.6" stroke="#e8e8e8" stroke-width="6.5"/>
<path d="M1477.3 2126.6L1483.3 2126.6L1489.3 2126.6" stroke="#e2e2e2" stroke-width="6.5"/>
<path d="M1489.3 2126.6L1495.4 2126.6L1501.4 2126.6" stroke="#dddddd" stroke-width="6.5"/>
<path d="M1501.4 2126.6L1507.4 2126.6L1513.4 2126.6" stroke="#d7d7d7" stroke-width="7"/>
<path d="M1513.4 2126.6L1519.4 2126.6" stroke="#d1d1d1" stroke-width="7"/>
<path d="M1519.4 2126.6L1525.5 2126.6" stroke="#cbcbcb" stroke-width="7"/>
<path d="M1525.5 2126.6L1531.5 2126.6L1537.5 2126.7" stroke="#c6c6c6" stroke-width="7.5"/>
<path d="M1537.5 2126.7L1543.5 2126.9" stroke="#c0c0c0" stroke-width="7.5"/>
<path d="M1543.5 2126.9L1549.4 2127.2" stroke="#bababa" stroke-width="7.5"/>
<path d="M1549.4 2127.2L1555.3 2127.8" stroke="#b5b5b5" stroke-width="7.5"/>
<path d="M1555.3 2127.8L1561 2128.7" stroke="#afafaf" stroke-width="8"/>
<path d="M1561 2128.7L1566.4 2130.1" stroke="#a9a9a9" stroke-width="8"/>
<path d="M1566.4 2130.1L1571.6 2132.2" stroke="#a3a3a3" stroke-width="8"/>
<path d="M1571.6 2132.2L1576.4 2134.8L1580.7 2138.1" stroke="#9e9e9e" stroke-width="8"/>
<path d="M1580.7 2138.1L1584.6 2142.1L1588 2146.5L1591 2151.4L1593.6 2156.7L1595.9 2162.1L1598 2167.7L1600 2173.4L1601.8 2179.1L1603.5 2184.9L1605.1 2190.6L1606.7 2196.5L1608.3 2202.3L1609.8 2208.1" stroke="#989898" stroke-width="8"/>
<path d="M1609.8 2208.1L1611.3 2213.9L1612.7 2219.8L1614.1 2225.6L1615.5 2231.5L1616.8 2237.3L1618.2 2243.2L1619.5 2249.1L1620.8 2255L1622.1 2260.8L1623.4 2266.7L1624.7 2272.6L1625.9 2278.5L1627.2 2284.4" stroke="#9e9e9e" stroke-width="8"/>
<path d="M1627.2 2284.4L1628.5 2290.3L1629.7 2296.1L1631 2302L1632.3 2307.9L1633.5 2313.8L1634.8 2319.7L1636.1 2325.6L1637.3 2331.4L1638.6 2337.3L1639.9 2343.2L1641.1 2349.1L1642.4 2355L1643.6 2360.9L1644.8 2366.8L1646 2372.7L1647.2 2378.6L1648.4 2384.5L1649.6 2390.4L1650.8 2396.3L1652 2402.2L1653.3 2408L1654.5 2413.9L1655.8 2419.8L1657.1 2425.7L1658.5 2431.5L1659.9 2437.4L1661.3 2443.2" stroke="#a3a3a3" stroke-width="8"/>
<path d="M1661.3 2443.2L1662.8 2449.1L1664.3 2454.9L1665.8 2460.7L1667.5 2466.5L1669.1 2472.3L1670.8 2478.1L1672.6 2483.8L1674.5 2489.5" stroke="#a3a3a3" stroke-width="8.5"/>
<path d="M1674.5 2489.5L1676.4 2495.2L1678.5 2500.9L1680.6 2506.5L1682.9 2512.1L1685.2 2517.6L1687.7 2523" stroke="#9e9e9e" stroke-width="8.5"/>
<path d="M1687.7 2523L1690.4 2528.4" stroke="#989898" stroke-width="8.5"/>
<path d="M1690.4 2528.4L1693.2 2533.7L1696.2 2538.9L1699.3 2544" stroke="#989898" stroke-width="9"/>
<path d="M1699.3 2544L1702.7 2548.9L1706.4 2553.6L1710.2 2558.1" stroke="#929292" stroke-width="9"/>
<path d="M1710.2 2558.1L1714.3 2562.4L1718.7 2566.4L1723.3 2570.1" stroke="#8c8c8c" stroke-width="9.5"/>
<path d="M1723.3 2570.1L1728.1 2573.6" stroke="#878787" stroke-width="9.5"/>
<path d="M1728.1 2573.6L1733.1 2576.7L1738.3 2579.5" stroke="#878787" stroke-width="10"/>
<path d="M1738.3 2579.5L1743.7 2582L1749.2 2584.1L1754.9 2586" stroke="#818181" stroke-width="10"/>
<path d="M1754.9 2586L1760.6 2587.6L1766.5 2588.9L1772.3 2590.1" stroke="#818181" stroke-width="9.5"/>
<path d="M1772.3 2590.1L1778.2 2591.1" stroke="#818181" stroke-width="9"/>
<path d="M1778.2 2591.1L1784.2 2592L1790.2 2592.7" stroke="#818181" stroke-width="8.5"/>
<path d="M1790.2 2592.7L1796.1 2593.3" stroke="#818181" stroke-width="8"/>
<path d="M1796.1 2593.3L1802.1 2593.7" stroke="#878787" stroke-width="8"/>
<path d="M1802.1 2593.7L1808.1 2594.1" stroke="#878787" stroke-width="7.5"/>
<path d="M1808.1 2594.1L1814.2 2594.4" stroke="#8c8c8c" stroke-width="7"/>
<path d="M1423.1 2126.6L1429.2 2126.6" stroke="#f4f4f4" stroke-width="4"/>
<path d="M1429.2 2126.6L1435.2 2126.6" stroke="#f4f4f4" stroke-width="4.5"/>
<path d="M1435.2 2126.6L1441.2 2126.6L1447.2 2126.6" stroke="#eeeeee" stroke-width="4.5"/>
<path d="M1447.2 2126.6L1453.2 2126.6" stroke="#e8e8e8" stroke-width="4.5"/>
<path d="M1453.2 2126.6L1459.3 2126.6" stroke="#e2e2e2" stroke-width="5"/>
<path d="M1459.3 2126.6L1465.3 2126.6L1471.3 2126.6" stroke="#dddddd" stroke-width="5"/>
<path d="M1471.3 2126.6L1477.3 2126.6" stroke="#d7d7d7" stroke-width="5"/>
<path d="M1477.3 2126.6L1483.3 2126.6" stroke="#d1d1d1" stroke-width="5"/>
<path d="M1483.3 2126.6L1489.3 2126.6L1495.4 2126.6" stroke="#cbcbcb" stroke-width="5"/>
<path d="M1495.4 2126.6L1501.4 2126.6" stroke="#c6c6c6" stroke-width="5"/>
<path d="M1501.4 2126.6L1507.4 2126.6" stroke="#c0c0c0" stroke-width="5"/>
<path d="M1507.4 2126.6L1513.4 2126.6" stroke="#bababa" stroke-width="5.5"/>
<path d="M1513.4 2126.6L1519.4 2126.6" stroke="#b5b5b5" stroke-width="5.5"/>
<path d="M1519.4 2126.6L1525.5 2126.6" stroke="#a9a9a9" stroke-width="5.5"/>
<path d="M1525.5 2126.6L1531.5 2126.6" stroke="#a3a3a3" stroke-width="5.5"/>
<path d="M1531.5 2126.6L1537.5 2126.7" stroke="#9e9e9e" stroke-width="5.5"/>
<path d="M1537.5 2126.7L1543.5 2126.9" stroke="#929292" stroke-width="6"/>
<path d="M1543.5 2126.9L1549.4 2127.2" stroke="#878787" stroke-width="6"/>
<path d="M1549.4 2127.2L1555.3 2127.8" stroke="#818181" stroke-width="6"/>
<path d="M1555.3 2127.8L1561 2128.7" stroke="#767676" stroke-width="6"/>
<path d="M1561 2128.7L1566.4 2130.1" stroke="#707070" stroke-width="6"/>
<path d="M1566.4 2130.1L1571.6 2132.2" stroke="#646464" stroke-width="6"/>
<path d="M1571.6 2132.2L1576.4 2134.8" stroke="#5f5f5f" stroke-width="6"/>
<path d="M1576.4 2134.8L1580.7 2138.1L1584.6 2142.1" stroke="#595959" stroke-width="6"/>
<path d="M1584.6 2142.1L1588 2146.5L1591 2151.4L1593.6 2156.7L1595.9 2162.1L1598 2167.7L1600 2173.4L1601.8 2179.1L1603.5 2184.9L1605.1 2190.6" stroke="#535353" stroke-width="6"/>
<path d="M1605.1 2190.6L1606.7 2196.5L1608.3 2202.3L1609.8 2208.1L1611.3 2213.9L1612.7 2219.8L1614.1 2225.6L1615.5 2231.5L1616.8 2237.3" stroke="#595959" stroke-width="6"/>
<path d="M1616.8 2237.3L1618.2 2243.2L1619.5 2249.1L1620.8 2255L1622.1 2260.8L1623.4 2266.7L1624.7 2272.6L1625.9 2278.5L1627.2 2284.4" stroke="#5f5f5f" stroke-width="6"/>
<path d="M1627.2 2284.4L1628.5 2290.3L1629.7 2296.1L1631 2302L1632.3 2307.9L1633.5 2313.8L1634.8 2319.7L1636.1 2325.6L1637.3 2331.4L1638.6 2337.3L1639.9 2343.2L1641.1 2349.1L1642.4 2355L1643.6 2360.9L1644.8 2366.8L1646 2372.7L1647.2 2378.6L1648.4 2384.5L1649.6 2390.4L1650.8 2396.3L1652 2402.2L1653.3 2408" stroke="#646464" stroke-width="6"/>
<path d="M1653.3 2408L1654.5 2413.9L1655.8 2419.8L1657.1 2425.7L1658.5 2431.5L1659.9 2437.4L1661.3 2443.2L1662.8 2449.1L1664.3 2454.9L1665.8 2460.7L1667.5 2466.5L1669.1 2472.3L1670.8 2478.1L1672.6 2483.8L1674.5 2489.5" stroke="#646464" stroke-width="6.5"/>
<path d="M1674.5 2489.5L1676.4 2495.2L1678.5 2500.9L1680.6 2506.5L1682.9 2512.1" stroke="#5f5f5f" stroke-width="6.5"/>
<path d="M1682.9 2512.1L1685.2 2517.6L1687.7 2523L1690.4 2528.4" stroke="#595959" stroke-width="6.5"/>
<path d="M1690.4 2528.4L1693.2 2533.7L1696.2 2538.9L1699.3 2544" stroke="#535353" stroke-width="7"/>
<path d="M1699.3 2544L1702.7 2548.9L1706.4 2553.6" stroke="#4e4e4e" stroke-width="7"/>
<path d="M1706.4 2553.6L1710.2 2558.1" stroke="#484848" stroke-width="7"/>
<path d="M1710.2 2558.1L1714.3 2562.4" stroke="#424242" stroke-width="7"/>
<path d="M1714.3 2562.4L1718.7 2566.4" stroke="#424242" stroke-width="7.5"/>
<path d="M1718.7 2566.4L1723.3 2570.1L1728.1 2573.6" stroke="#3c3c3c" stroke-width="7.5"/>
<path d="M1728.1 2573.6L1733.1 2576.7L1738.3 2579.5" stroke="#373737" stroke-width="7.5"/>
<path d="M1738.3 2579.5L1743.7 2582L1749.2 2584.1" stroke="#313131" stroke-width="7.5"/>
<path d="M1749.2 2584.1L1754.9 2586L1760.6 2587.6L1766.5 2588.9" stroke="#2b2b2b" stroke-width="7.5"/>
<path d="M1766.5 2588.9L1772.3 2590.1L1778.2 2591.1" stroke="#2b2b2b" stroke-width="7"/>
<path d="M1778.2 2591.1L1784.2 2592L1790.2 2592.7" stroke="#2b2b2b" stroke-width="6.5"/>
<path d="M1790.2 2592.7L1796.1 2593.3" stroke="#313131" stroke-width="6"/>
<path d="M1796.1 2593.3L1802.1 2593.7" stroke="#373737" stroke-width="6"/>
<path d="M1802.1 2593.7L1808.1 2594.1" stroke="#3c3c3c" stroke-width="5.5"/>
<path d="M1808.1 2594.1L1814.2 2594.4" stroke="#424242" stroke-width="5"/>
</g>
<circle cx="1814.2" cy="2595.6" r="3.1" fill="#484848"/><circle cx="1820.5" cy="2595.6" r="3.1" fill="#3c3c3c"/><circle cx="1826.8" cy="2595.6" r="3.1" fill="#313131"/><circle cx="1834.4" cy="2595.6" r="3.1" fill="#2c2c2c"/><circle cx="1843.7" cy="2595.6" r="3.1" fill="#252525"/><circle cx="1854.2" cy="2595.6" r="3.1" fill="#252525"/><circle cx="1874.1" cy="2595.6" r="3.1" fill="#767676"/>
<g class="rd"><circle cx="1451.2" cy="2126.6" r="3.0"/><circle cx="1459.7" cy="2126.6" r="3.0"/><circle cx="1468.1" cy="2126.6" r="3.0"/><circle cx="1476.6" cy="2126.6" r="3.0"/><circle cx="1485" cy="2126.6" r="3.0"/><circle cx="1487.5" cy="2126.6" r="3.0"/><circle cx="1490.1" cy="2126.6" r="3.0"/><circle cx="1492.6" cy="2126.6" r="3.0"/><circle cx="1495.1" cy="2126.6" r="3.0"/><circle cx="1497.7" cy="2126.6" r="3.0"/><circle cx="1500.2" cy="2126.6" r="3.0"/><circle cx="1502.7" cy="2126.6" r="3.0"/><circle cx="1505.3" cy="2126.6" r="3.0"/><circle cx="1507.8" cy="2126.6" r="3.0"/><circle cx="1510.3" cy="2126.6" r="3.0"/><circle cx="1512.9" cy="2126.6" r="3.0"/><circle cx="1515.4" cy="2126.6" r="3.0"/><circle cx="1517.9" cy="2126.6" r="3.0"/><circle cx="1520.4" cy="2126.6" r="3.0"/><circle cx="1523" cy="2126.6" r="3.0"/><circle cx="1525.5" cy="2126.6" r="3.0"/><circle cx="1528" cy="2126.6" r="3.0"/><circle cx="1530.6" cy="2126.6" r="3.0"/><circle cx="1533.1" cy="2126.6" r="3.0"/><circle cx="1535.6" cy="2126.6" r="3.0"/><circle cx="1538.2" cy="2126.6" r="3.0"/><circle cx="1540.7" cy="2126.6" r="3.0"/><circle cx="1543.2" cy="2126.6" r="3.0"/><circle cx="1545.8" cy="2126.6" r="3.0"/><circle cx="1548.3" cy="2126.6" r="3.0"/><circle cx="1550.8" cy="2126.6" r="3.0"/><circle cx="1553.4" cy="2126.6" r="3.0"/><circle cx="1555.9" cy="2126.6" r="3.0"/><circle cx="1558.4" cy="2126.6" r="3.0"/><circle cx="1561" cy="2126.6" r="3.0"/><circle cx="1563.5" cy="2126.6" r="3.0"/><circle cx="1566" cy="2126.6" r="3.0"/><circle cx="1568.6" cy="2126.6" r="3.0"/><circle cx="1606.5" cy="2146.5" r="3.0"/><circle cx="1586.8" cy="2164.4" r="3.0"/><circle cx="1617.3" cy="2174.6" r="3.0"/><circle cx="1619.7" cy="2192.5" r="3.0"/><circle cx="1619.7" cy="2199.1" r="3.0"/><circle cx="1612.5" cy="2185.3" r="3.0"/><circle cx="1637.3" cy="2320.8" r="3.0"/><circle cx="1639.6" cy="2341.2" r="3.0"/><circle cx="1651.3" cy="2344.2" r="3.0"/><circle cx="1644.3" cy="2361" r="3.0"/><circle cx="1663.5" cy="2372.2" r="3.0"/><circle cx="1667.7" cy="2400.2" r="3.0"/><circle cx="1662.4" cy="2422.3" r="3.0"/><circle cx="1650.2" cy="2392.3" r="3.0"/><circle cx="1682" cy="2431.4" r="3.0"/><circle cx="1685.4" cy="2439.2" r="3.0"/><circle cx="1682.7" cy="2447.2" r="3.0"/><circle cx="1665.7" cy="2452.9" r="3.0"/><circle cx="1567.9" cy="2127" r="3.0"/><circle cx="1565.7" cy="2131.5" r="3.0"/><circle cx="1571.3" cy="2131.2" r="3.0"/><circle cx="1570.8" cy="2131.1" r="3.0"/><circle cx="1585.5" cy="2138.1" r="3.0"/><circle cx="1566.8" cy="2128.1" r="3.0"/><circle cx="1580.9" cy="2136.8" r="3.0"/><circle cx="1585.1" cy="2154.8" r="3.0"/><circle cx="1578.4" cy="2127" r="3.0"/><circle cx="1562.6" cy="2126.6" r="3.0"/><circle cx="1571.8" cy="2128.7" r="3.0"/><circle cx="1573" cy="2127.9" r="3.0"/><circle cx="1589.6" cy="2139.6" r="3.0"/><circle cx="1560.1" cy="2127.6" r="3.0"/><circle cx="1561" cy="2126.6" r="3.0"/><circle cx="1554.6" cy="2126.9" r="3.0"/><circle cx="1572.9" cy="2130.1" r="3.0"/><circle cx="1558.7" cy="2126.6" r="3.0"/><circle cx="1571.1" cy="2135.6" r="3.0"/><circle cx="1570.6" cy="2130.4" r="3.0"/><circle cx="1591.2" cy="2147.5" r="3.0"/><circle cx="1591.2" cy="2142.2" r="3.0"/><circle cx="1576.2" cy="2126.6" r="3.0"/><circle cx="1586.5" cy="2141.3" r="3.0"/><circle cx="1582.3" cy="2136.8" r="3.0"/><circle cx="1582.3" cy="2137.9" r="3.0"/><circle cx="1573.5" cy="2131.1" r="3.0"/><circle cx="1559.2" cy="2127.7" r="3.0"/><circle cx="1592" cy="2141.2" r="3.0"/><circle cx="1558.6" cy="2126.6" r="3.0"/><circle cx="1572.6" cy="2130.2" r="3.0"/><circle cx="1559.2" cy="2128.8" r="3.0"/><circle cx="1577.1" cy="2126.9" r="3.0"/><circle cx="1582.9" cy="2132.8" r="3.0"/><circle cx="1561.2" cy="2127.3" r="3.0"/><circle cx="1570.3" cy="2135.1" r="3.0"/><circle cx="1567.3" cy="2130.1" r="3.0"/><circle cx="1580.7" cy="2131.8" r="3.0"/><circle cx="1574.9" cy="2126.6" r="3.0"/><circle cx="1578.6" cy="2139.4" r="3.0"/><circle cx="1572.6" cy="2130.2" r="3.0"/><circle cx="1582.4" cy="2135.4" r="3.0"/><circle cx="1588.2" cy="2145.7" r="3.0"/><circle cx="1582.6" cy="2132.4" r="3.0"/><circle cx="1587.6" cy="2145.9" r="3.0"/><circle cx="1575.1" cy="2126.6" r="3.0"/><circle cx="1566.4" cy="2126.6" r="3.0"/><circle cx="1576.7" cy="2135.7" r="3.0"/><circle cx="1573.8" cy="2131.1" r="3.0"/><circle cx="1582.1" cy="2138.9" r="3.0"/><circle cx="1577.3" cy="2129.3" r="3.0"/><circle cx="1576.1" cy="2132.7" r="3.0"/><circle cx="1560.9" cy="2126.6" r="3.0"/><circle cx="1571.9" cy="2128.7" r="3.0"/><circle cx="1574" cy="2130.9" r="3.0"/><circle cx="1574.9" cy="2129" r="3.0"/><circle cx="1579.3" cy="2126.6" r="3.0"/><circle cx="1555.1" cy="2126.6" r="3.0"/><circle cx="1581.6" cy="2136.5" r="3.0"/><circle cx="1575.4" cy="2130.8" r="3.0"/><circle cx="1588.9" cy="2143.6" r="3.0"/><circle cx="1569.2" cy="2129.5" r="3.0"/><circle cx="1570.8" cy="2136.2" r="3.0"/><circle cx="1577.3" cy="2126.6" r="3.0"/><circle cx="1576.2" cy="2128.6" r="3.0"/><circle cx="1585.7" cy="2145.5" r="3.0"/><circle cx="1587.1" cy="2144.5" r="3.0"/><circle cx="1558.8" cy="2126.6" r="3.0"/><circle cx="1584.1" cy="2134.5" r="3.0"/><circle cx="1585.7" cy="2150.9" r="3.0"/><circle cx="1632.9" cy="2303.5" r="3.0"/><circle cx="1595.3" cy="2175.5" r="3.0"/><circle cx="1603.9" cy="2190.4" r="3.0"/><circle cx="1632.8" cy="2303" r="3.0"/><circle cx="1593.4" cy="2161.3" r="3.0"/><circle cx="1621.4" cy="2269" r="3.0"/><circle cx="1597.9" cy="2165.9" r="3.0"/><circle cx="1610.1" cy="2220.3" r="3.0"/><circle cx="1629.4" cy="2300.6" r="3.0"/><circle cx="1611.8" cy="2206.7" r="3.0"/><circle cx="1599.2" cy="2183.1" r="3.0"/><circle cx="1604.1" cy="2183.9" r="3.0"/><circle cx="1614.2" cy="2227" r="3.0"/><circle cx="1602.9" cy="2177.2" r="3.0"/><circle cx="1633.7" cy="2291.5" r="3.0"/><circle cx="1601" cy="2190" r="3.0"/><circle cx="1601.6" cy="2191.4" r="3.0"/><circle cx="1602.5" cy="2189" r="3.0"/><circle cx="1624.1" cy="2275.1" r="3.0"/><circle cx="1591.7" cy="2149.4" r="3.0"/><circle cx="1619.1" cy="2248.5" r="3.0"/><circle cx="1604.1" cy="2187.3" r="3.0"/><circle cx="1606.5" cy="2196.8" r="3.0"/><circle cx="1639.1" cy="2308.9" r="3.0"/><circle cx="1633" cy="2295.8" r="3.0"/><circle cx="1625.1" cy="2278.8" r="3.0"/><circle cx="1631.4" cy="2294.8" r="3.0"/><circle cx="1606.5" cy="2198.2" r="3.0"/><circle cx="1598.3" cy="2164.9" r="3.0"/><circle cx="1607.9" cy="2194.4" r="3.0"/><circle cx="1600.6" cy="2163.1" r="3.0"/><circle cx="1594" cy="2159.9" r="3.0"/><circle cx="1607.7" cy="2184.9" r="3.0"/><circle cx="1620" cy="2254.4" r="3.0"/><circle cx="1613.6" cy="2210.4" r="3.0"/><circle cx="1603.3" cy="2175.2" r="3.0"/><circle cx="1614.9" cy="2223" r="3.0"/><circle cx="1616.3" cy="2246.8" r="3.0"/><circle cx="1601.8" cy="2189" r="3.0"/><circle cx="1591.7" cy="2146" r="3.0"/><circle cx="1595.6" cy="2155.2" r="3.0"/><circle cx="1607.4" cy="2192.6" r="3.0"/><circle cx="1630.2" cy="2310.8" r="3.0"/><circle cx="1610.3" cy="2221.2" r="3.0"/><circle cx="1632.6" cy="2288.8" r="3.0"/><circle cx="1619.7" cy="2243.6" r="3.0"/><circle cx="1620.1" cy="2254.3" r="3.0"/><circle cx="1595.8" cy="2158.1" r="3.0"/><circle cx="1608.6" cy="2205.3" r="3.0"/><circle cx="1599.3" cy="2167" r="3.0"/><circle cx="1626.7" cy="2301.2" r="3.0"/><circle cx="1604.5" cy="2184.8" r="3.0"/><circle cx="1608.4" cy="2219.1" r="3.0"/><circle cx="1619.4" cy="2252.6" r="3.0"/><circle cx="1612.4" cy="2219.2" r="3.0"/><circle cx="1610.8" cy="2248.1" r="3.0"/><circle cx="1631.9" cy="2281.1" r="3.0"/><circle cx="1614.8" cy="2219" r="3.0"/><circle cx="1609.4" cy="2206.3" r="3.0"/><circle cx="1606.3" cy="2200.6" r="3.0"/><circle cx="1607.9" cy="2221" r="3.0"/><circle cx="1601" cy="2177.7" r="3.0"/><circle cx="1591" cy="2152" r="3.0"/><circle cx="1594.2" cy="2157.6" r="3.0"/><circle cx="1627.2" cy="2268.1" r="3.0"/><circle cx="1599.7" cy="2170.3" r="3.0"/><circle cx="1601" cy="2163.3" r="3.0"/><circle cx="1624.8" cy="2285.7" r="3.0"/><circle cx="1618.6" cy="2249.9" r="3.0"/><circle cx="1596.3" cy="2151.6" r="3.0"/></g>
<path d="M1330.7 1540V1914M1330.7 2172V2550" fill="none" stroke="#d2d2d2" stroke-width="1.1" stroke-dasharray="5 4"/>
<text x="725.2" y="1288.3" class="lab">Log2 Mean Gene Expression</text>
<text transform="translate(29.8 883.6) rotate(-90)" class="lab">Log2 CV Gene Expression</text>
<text x="792" y="2708.2" class="lab">Log2 CV Gene Expression</text>
<text transform="translate(29.7 2357.2) rotate(-90)" class="lab">Fraction of Cells with Nonzero Counts</text>
<text x="1721" y="1324.3" class="lab" style="font-size:33px">Gene</text>
<circle cx="1739.9" cy="1357.2" r="5.4" fill="#111"/>
<circle cx="1739.9" cy="1394.2" r="5.4" fill="#e41a1c"/>
<text x="1757.5" y="1364.4" class="lab" style="font-size:29.8px">Not Selected by Clock</text>
<text x="1758" y="1403.9" class="lab" style="font-size:29.8px">Selected by Clock</text>
</svg>
</body></html>
